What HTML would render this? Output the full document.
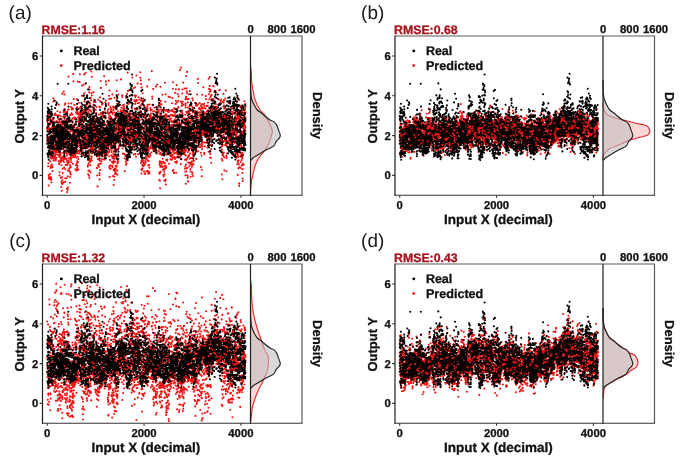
<!DOCTYPE html>
<html><head><meta charset="utf-8"><style>
html,body{margin:0;padding:0;background:#fff;}
svg{display:block;will-change:transform;filter:blur(0.35px);} text{text-rendering:geometricPrecision;}
</style></head><body>
<svg width="685" height="463" viewBox="0 0 685 463">
<rect width="685" height="463" fill="#fff"/>
<defs>
<clipPath id="cp"><rect x="42.50" y="35.90" width="208.00" height="159.30"/></clipPath>
<path id="real" d="M47.2 116h0M47.2 143.8h0M47.3 128h0M47.3 134.9h0M47.4 118.9h0M47.4 153.6h0M47.5 137.4h0M47.5 119.5h0M47.6 131.6h0M47.6 153.7h0M47.7 140.8h0M47.7 111.9h0M47.8 107.7h0M47.8 154.4h0M47.9 117.6h0M47.9 120.4h0M48 113.2h0M48 155.4h0M48.1 111.1h0M48.1 123.9h0M48.2 146.5h0M48.2 139.4h0M48.3 126.3h0M48.3 157.3h0M48.4 103.7h0M48.4 108.9h0M48.5 127.4h0M48.5 154.3h0M48.6 154.9h0M48.6 147.9h0M48.7 150.8h0M48.7 159.8h0M48.7 143.8h0M48.8 146.1h0M48.8 142.9h0M48.9 152.6h0M48.9 130h0M49 150.9h0M49 134.1h0M49.1 116.5h0M49.1 131.7h0M49.2 154.2h0M49.2 154.1h0M49.3 147.2h0M49.3 124h0M49.4 117.8h0M49.4 150.6h0M49.5 112.7h0M49.5 153.1h0M49.6 145.9h0M49.6 110.1h0M49.7 116.2h0M49.7 117.6h0M49.8 112.4h0M49.8 137.8h0M49.9 154.1h0M49.9 119.2h0M50 131.3h0M50 140.1h0M50.1 147.4h0M50.1 113.4h0M50.2 141.2h0M50.2 145.9h0M50.3 131.2h0M50.3 129.6h0M50.3 133.1h0M50.4 112.2h0M50.4 136.3h0M50.5 129.9h0M50.5 142.9h0M50.6 153.9h0M50.6 136.5h0M50.7 139.7h0M50.7 137.2h0M50.8 143.1h0M50.8 136.9h0M50.9 120.6h0M50.9 140.6h0M51 152.2h0M51 144.7h0M51.1 146.1h0M51.1 112.1h0M51.2 142.1h0M51.2 148.6h0M51.3 114.5h0M51.3 121.9h0M51.4 111.8h0M51.4 132h0M51.5 135.5h0M51.5 116h0M51.6 155h0M51.6 106.6h0M51.7 113.4h0M51.7 115.4h0M51.8 140.2h0M51.8 114.3h0M51.8 109.2h0M51.9 144h0M51.9 143.5h0M52 152.1h0M52 143.7h0M52.1 138.3h0M52.1 139.3h0M52.2 143.9h0M52.2 135.9h0M52.3 152.7h0M52.3 152.3h0M52.4 148.4h0M52.4 139h0M52.5 155.9h0M52.5 143.9h0M52.6 129.1h0M52.6 149.2h0M52.7 153.3h0M52.7 131.3h0M52.8 146.9h0M52.8 149.2h0M52.9 143.3h0M52.9 125.4h0M53 140.1h0M53 123.3h0M53.1 137.3h0M53.1 126.3h0M53.2 122.6h0M53.2 124.9h0M53.3 142.2h0M53.3 117.7h0M53.3 128.9h0M53.4 140h0M53.4 143.9h0M53.5 139.7h0M53.5 130.2h0M53.6 136.3h0M53.6 143h0M53.7 138.2h0M53.7 130.5h0M53.8 145.3h0M53.8 124.3h0M53.9 145.9h0M53.9 135.8h0M54 131.8h0M54 135.3h0M54.1 129.6h0M54.1 131.7h0M54.2 133.5h0M54.2 131h0M54.3 125.9h0M54.3 122.8h0M54.4 135.9h0M54.4 145h0M54.5 147.7h0M54.5 138.3h0M54.6 140.4h0M54.6 128.6h0M54.7 139.5h0M54.7 100.5h0M54.8 131.9h0M54.8 145.6h0M54.9 146.6h0M54.9 140.5h0M54.9 136.9h0M55 144.8h0M55 138h0M55.1 138.6h0M55.1 148.9h0M55.2 108.1h0M55.2 146h0M55.3 136h0M55.3 144.7h0M55.4 128.5h0M55.4 145.3h0M55.5 144.5h0M55.5 145.5h0M55.6 130.1h0M55.6 141.9h0M55.7 147h0M55.7 131h0M55.8 145.1h0M55.8 127.6h0M55.9 145.9h0M55.9 136.7h0M56 128.9h0M56 136.6h0M56.1 104.9h0M56.1 148.2h0M56.2 134.3h0M56.2 133.4h0M56.3 149.8h0M56.3 143.4h0M56.4 142h0M56.4 135.1h0M56.4 144.4h0M56.5 102.3h0M56.5 141.4h0M56.6 127.8h0M56.6 132.1h0M56.7 130.7h0M56.7 134h0M56.8 103.8h0M56.8 136.5h0M56.9 135.2h0M56.9 125.2h0M57 130.8h0M57 135.9h0M57.1 142h0M57.1 129.7h0M57.2 129.3h0M57.2 126.2h0M57.3 122.2h0M57.3 144.4h0M57.4 130.7h0M57.4 146.2h0M57.5 145.2h0M57.5 131.5h0M57.6 136h0M57.6 135.4h0M57.7 147.4h0M57.7 83.7h0M57.8 116.9h0M57.8 132.7h0M57.9 146h0M57.9 133h0M58 148h0M58 133.4h0M58 138.9h0M58.1 144.8h0M58.1 124.7h0M58.2 144.5h0M58.2 126.6h0M58.3 133.1h0M58.3 146.9h0M58.4 142.4h0M58.4 142.3h0M58.5 134.3h0M58.5 137h0M58.6 134.6h0M58.6 132h0M58.7 149.6h0M58.7 127.4h0M58.8 149.2h0M58.8 133.1h0M58.9 145.7h0M58.9 142.9h0M59 143.3h0M59 140.3h0M59.1 145.7h0M59.1 137.3h0M59.2 145.7h0M59.2 138.5h0M59.3 137.4h0M59.3 152h0M59.4 139h0M59.4 142.6h0M59.5 136.3h0M59.5 129.8h0M59.5 145.9h0M59.6 139h0M59.6 151.4h0M59.7 134.2h0M59.7 148.3h0M59.8 142.3h0M59.8 126.1h0M59.9 125.2h0M59.9 147.9h0M60 151.2h0M60 151.5h0M60.1 138.7h0M60.1 139.2h0M60.2 130.4h0M60.2 148.5h0M60.3 147.1h0M60.3 147.7h0M60.4 126.7h0M60.4 119.1h0M60.5 139.2h0M60.5 141.2h0M60.6 134.2h0M60.6 128.3h0M60.7 130.9h0M60.7 136.8h0M60.8 132.6h0M60.8 144.3h0M60.9 144.6h0M60.9 137.4h0M61 134.5h0M61 135.7h0M61 130.7h0M61.1 132.2h0M61.1 134.4h0M61.2 148.5h0M61.2 149.1h0M61.3 125.7h0M61.3 127.8h0M61.4 137.4h0M61.4 143.7h0M61.5 134.9h0M61.5 146.4h0M61.6 143.1h0M61.6 138.8h0M61.7 138.2h0M61.7 140.5h0M61.8 131.1h0M61.8 142.8h0M61.9 130.1h0M61.9 140.8h0M62 130.3h0M62 134.5h0M62.1 134.7h0M62.1 127.5h0M62.2 136.4h0M62.2 140.9h0M62.3 121.2h0M62.3 144.1h0M62.4 137.6h0M62.4 138.5h0M62.5 133.6h0M62.5 127.7h0M62.6 139.6h0M62.6 145.4h0M62.6 127h0M62.7 139.2h0M62.7 127.9h0M62.8 138.4h0M62.8 132.7h0M62.9 122.6h0M62.9 139.2h0M63 134.8h0M63 137.9h0M63.1 140h0M63.1 137.9h0M63.2 128.1h0M63.2 135.3h0M63.3 129.7h0M63.3 131.8h0M63.4 147.9h0M63.4 123.2h0M63.5 139.9h0M63.5 133.9h0M63.6 137.7h0M63.6 147.4h0M63.7 145.3h0M63.7 123.1h0M63.8 142.4h0M63.8 147.4h0M63.9 137.3h0M63.9 138.9h0M64 122.8h0M64 143.4h0M64.1 137.6h0M64.1 121.8h0M64.1 142.1h0M64.2 114.5h0M64.2 151.7h0M64.3 141.6h0M64.3 117.8h0M64.4 156.3h0M64.4 154.1h0M64.5 135.6h0M64.5 109.9h0M64.6 151h0M64.6 125.8h0M64.7 130.4h0M64.7 137.6h0M64.8 147h0M64.8 137.6h0M64.9 122.4h0M64.9 128.1h0M65 139.5h0M65 136.6h0M65.1 137.1h0M65.1 132.2h0M65.2 138.7h0M65.2 143h0M65.3 134.2h0M65.3 147.2h0M65.4 114.3h0M65.4 125.7h0M65.5 134.1h0M65.5 134.4h0M65.6 144.1h0M65.6 144.6h0M65.6 137.8h0M65.7 124.9h0M65.7 123.4h0M65.8 130.5h0M65.8 133.2h0M65.9 121.8h0M65.9 137.8h0M66 144.4h0M66 138.7h0M66.1 131.3h0M66.1 131.8h0M66.2 137.4h0M66.2 135h0M66.3 132.5h0M66.3 142h0M66.4 132.4h0M66.4 121.3h0M66.5 133.9h0M66.5 144h0M66.6 147.7h0M66.6 127.6h0M66.7 134.1h0M66.7 122.1h0M66.8 132.9h0M66.8 150.3h0M66.9 130.7h0M66.9 138.1h0M67 142.7h0M67 135.4h0M67.1 127.4h0M67.1 126.5h0M67.2 134.2h0M67.2 118.9h0M67.2 113.5h0M67.3 122.1h0M67.3 134h0M67.4 115.7h0M67.4 127.1h0M67.5 136.4h0M67.5 146.6h0M67.6 124.4h0M67.6 148.5h0M67.7 125h0M67.7 141.4h0M67.8 118.6h0M67.8 151.3h0M67.9 127.8h0M67.9 126.8h0M68 142.4h0M68 126.1h0M68.1 151.6h0M68.1 135.2h0M68.2 133.6h0M68.2 145.5h0M68.3 147.4h0M68.3 83.7h0M68.4 131.7h0M68.4 151.4h0M68.5 106.6h0M68.5 139.1h0M68.6 128.5h0M68.6 120.8h0M68.7 144.9h0M68.7 141.6h0M68.7 144.4h0M68.8 135.6h0M68.8 119.3h0M68.9 138.7h0M68.9 127.4h0M69 117.4h0M69 128.6h0M69.1 121.2h0M69.1 150.8h0M69.2 151.3h0M69.2 143.5h0M69.3 134.4h0M69.3 145.2h0M69.4 138.9h0M69.4 150.9h0M69.5 135.7h0M69.5 143.5h0M69.6 118.6h0M69.6 137.1h0M69.7 137.3h0M69.7 121.4h0M69.8 149.3h0M69.8 148.3h0M69.9 152h0M69.9 141.3h0M70 135.9h0M70 126.4h0M70.1 151.1h0M70.1 140.9h0M70.2 148.7h0M70.2 154.7h0M70.3 152.9h0M70.3 137.9h0M70.3 124.9h0M70.4 150.4h0M70.4 137.1h0M70.5 134.8h0M70.5 149.7h0M70.6 140.4h0M70.6 145.7h0M70.7 154.8h0M70.7 120.7h0M70.8 148.6h0M70.8 127.1h0M70.9 148.6h0M70.9 136.3h0M71 139.7h0M71 129.1h0M71.1 148.5h0M71.1 125.7h0M71.2 124.8h0M71.2 152.6h0M71.3 150.2h0M71.3 138.7h0M71.4 147.3h0M71.4 141h0M71.5 143.8h0M71.5 145.9h0M71.6 138.6h0M71.6 152.5h0M71.7 145.6h0M71.7 147.4h0M71.8 141.8h0M71.8 152.3h0M71.8 143.6h0M71.9 139.1h0M71.9 129.5h0M72 150.8h0M72 148.8h0M72.1 147.3h0M72.1 136.9h0M72.2 143.1h0M72.2 129h0M72.3 143.8h0M72.3 127.6h0M72.4 153.3h0M72.4 153.2h0M72.5 144.2h0M72.5 122.4h0M72.6 151h0M72.6 147.1h0M72.7 140.9h0M72.7 140.5h0M72.8 143.9h0M72.8 147.6h0M72.9 135.6h0M72.9 145.1h0M73 152.3h0M73 135.4h0M73.1 153h0M73.1 148.1h0M73.2 133.5h0M73.2 126.2h0M73.3 144.3h0M73.3 142.2h0M73.3 138.8h0M73.4 127.4h0M73.4 152.7h0M73.5 150.1h0M73.5 134.3h0M73.6 138.4h0M73.6 148.1h0M73.7 130h0M73.7 130.6h0M73.8 138.8h0M73.8 149.2h0M73.9 135.8h0M73.9 130h0M74 144.1h0M74 151.1h0M74.1 144.2h0M74.1 139.9h0M74.2 152.3h0M74.2 153.1h0M74.3 141.2h0M74.3 137.3h0M74.4 129.7h0M74.4 134.5h0M74.5 139.8h0M74.5 144.9h0M74.6 131h0M74.6 144.3h0M74.7 138h0M74.7 132.1h0M74.8 148.9h0M74.8 152.8h0M74.9 124.7h0M74.9 143.4h0M74.9 147.7h0M75 139.1h0M75 140.3h0M75.1 148.9h0M75.1 144.1h0M75.2 139.8h0M75.2 144.9h0M75.3 141.9h0M75.3 143.4h0M75.4 144.2h0M75.4 119.4h0M75.5 150.6h0M75.5 137.1h0M75.6 143.3h0M75.6 136.3h0M75.7 137.9h0M75.7 143.5h0M75.8 147.3h0M75.8 151.7h0M75.9 142.9h0M75.9 143.7h0M76 121.7h0M76 149h0M76.1 130.8h0M76.1 118.8h0M76.2 145.5h0M76.2 129.9h0M76.3 138h0M76.3 124.5h0M76.4 136.1h0M76.4 141h0M76.4 151.5h0M76.5 139h0M76.5 121.6h0M76.6 142.1h0M76.6 138.6h0M76.7 138.5h0M76.7 131.5h0M76.8 109.4h0M76.8 139.4h0M76.9 139.6h0M76.9 141.5h0M77 145.1h0M77 145.1h0M77.1 103.9h0M77.1 147h0M77.2 143.3h0M77.2 130.6h0M77.3 138.2h0M77.3 142.5h0M77.4 129.2h0M77.4 139.9h0M77.5 136.5h0M77.5 132.1h0M77.6 131.3h0M77.6 109.5h0M77.7 134h0M77.7 129.6h0M77.8 137.5h0M77.8 132.1h0M77.9 136.4h0M77.9 134.3h0M77.9 130.1h0M78 134.2h0M78 133h0M78.1 136.6h0M78.1 100.2h0M78.2 134.4h0M78.2 132.4h0M78.3 131.2h0M78.3 137.7h0M78.4 136.8h0M78.4 139.9h0M78.5 134.2h0M78.5 131.1h0M78.6 131.6h0M78.6 133.6h0M78.7 139.3h0M78.7 135.6h0M78.8 133.2h0M78.8 136.5h0M78.9 131.9h0M78.9 132.8h0M79 132.5h0M79 125.2h0M79.1 140.9h0M79.1 135.9h0M79.2 136.2h0M79.2 135.4h0M79.3 126h0M79.3 135.3h0M79.4 136h0M79.4 138.3h0M79.5 135.1h0M79.5 123.6h0M79.5 139.6h0M79.6 133.3h0M79.6 134.2h0M79.7 131.1h0M79.7 124.5h0M79.8 118.3h0M79.8 142.1h0M79.9 123.3h0M79.9 135.3h0M80 119.9h0M80 118.8h0M80.1 121.5h0M80.1 143.3h0M80.2 139.7h0M80.2 124.3h0M80.3 147.2h0M80.3 122.2h0M80.4 134.8h0M80.4 145.5h0M80.5 134.6h0M80.5 121.2h0M80.6 131.8h0M80.6 149.5h0M80.7 112.3h0M80.7 110.8h0M80.8 150.3h0M80.8 141.5h0M80.9 133.7h0M80.9 147.1h0M81 147.8h0M81 111.7h0M81 131.1h0M81.1 149.1h0M81.1 144.5h0M81.2 114.6h0M81.2 114h0M81.3 150.9h0M81.3 145.8h0M81.4 156.4h0M81.4 135.1h0M81.5 103.1h0M81.5 154h0M81.6 153.5h0M81.6 108.9h0M81.7 106.7h0M81.7 145.2h0M81.8 119.6h0M81.8 110.7h0M81.9 136.5h0M81.9 127.2h0M82 117.6h0M82 108.6h0M82.1 120.3h0M82.1 127.6h0M82.2 130.1h0M82.2 132.4h0M82.3 117.7h0M82.3 110.6h0M82.4 124.7h0M82.4 137.7h0M82.5 104.7h0M82.5 141.1h0M82.6 114.4h0M82.6 130.2h0M82.6 133h0M82.7 154.2h0M82.7 113.2h0M82.8 125.1h0M82.8 135.3h0M82.9 145.6h0M82.9 155.6h0M83 129.9h0M83 147h0M83.1 145.2h0M83.1 152.5h0M83.2 154.5h0M83.2 148h0M83.3 140.9h0M83.3 130.4h0M83.4 142.4h0M83.4 134.1h0M83.5 128h0M83.5 152.5h0M83.6 121.9h0M83.6 147.2h0M83.7 148h0M83.7 126h0M83.8 95.4h0M83.8 143.2h0M83.9 137.9h0M83.9 145.8h0M84 110.4h0M84 133.4h0M84.1 131.1h0M84.1 112.9h0M84.1 148.2h0M84.2 134.3h0M84.2 116.9h0M84.3 126.3h0M84.3 119h0M84.4 105.3h0M84.4 133.9h0M84.5 143.4h0M84.5 119.7h0M84.6 107.5h0M84.6 144.6h0M84.7 119.7h0M84.7 133.2h0M84.8 136.1h0M84.8 139.1h0M84.9 143.4h0M84.9 99.6h0M85 157.2h0M85 106.1h0M85.1 147.1h0M85.1 136.7h0M85.2 155.5h0M85.2 142h0M85.3 98.1h0M85.3 153.6h0M85.4 144.7h0M85.4 108.2h0M85.5 155.7h0M85.5 131.1h0M85.6 155.7h0M85.6 109.6h0M85.6 152.7h0M85.7 128.4h0M85.7 148.5h0M85.8 151.3h0M85.8 83.4h0M85.9 132.5h0M85.9 153.2h0M86 119.6h0M86 124h0M86.1 140.3h0M86.1 144h0M86.2 154.9h0M86.2 118.2h0M86.3 127.2h0M86.3 114.8h0M86.4 108.3h0M86.4 127.8h0M86.5 112.4h0M86.5 124.8h0M86.6 120.9h0M86.6 130.9h0M86.7 140.2h0M86.7 156.2h0M86.8 103.6h0M86.8 125.7h0M86.9 141h0M86.9 102.2h0M87 96.6h0M87 132.7h0M87.1 98.1h0M87.1 146.7h0M87.2 95.3h0M87.2 129.5h0M87.2 102.6h0M87.3 129.2h0M87.3 101.7h0M87.4 144h0M87.4 109.6h0M87.5 151.8h0M87.5 155.5h0M87.6 115.9h0M87.6 114.1h0M87.7 152.6h0M87.7 127.9h0M87.8 128.6h0M87.8 134.8h0M87.9 153h0M87.9 146.8h0M88 151.1h0M88 156.6h0M88.1 159.3h0M88.1 122h0M88.2 89.4h0M88.2 157.9h0M88.3 107.5h0M88.3 133.8h0M88.4 145.1h0M88.4 142.4h0M88.5 141h0M88.5 101.6h0M88.6 132.9h0M88.6 129.6h0M88.7 139.1h0M88.7 120.9h0M88.7 124.8h0M88.8 144.6h0M88.8 141.3h0M88.9 127.7h0M88.9 139.2h0M89 106.3h0M89 136.4h0M89.1 146.4h0M89.1 117.5h0M89.2 129.4h0M89.2 124.9h0M89.3 133.4h0M89.3 136.5h0M89.4 130.2h0M89.4 98.3h0M89.5 106.9h0M89.5 143.8h0M89.6 131.6h0M89.6 103.1h0M89.7 135.7h0M89.7 128.9h0M89.8 125.3h0M89.8 116.1h0M89.9 119.9h0M89.9 140.9h0M90 135.2h0M90 124.6h0M90.1 115h0M90.1 142.7h0M90.2 126.9h0M90.2 116.7h0M90.2 122.9h0M90.3 105.7h0M90.3 123.7h0M90.4 132.9h0M90.4 127.5h0M90.5 129.8h0M90.5 137.9h0M90.6 119.1h0M90.6 132.9h0M90.7 150.2h0M90.7 143.6h0M90.8 125h0M90.8 106.8h0M90.9 127.2h0M90.9 133.4h0M91 151.6h0M91 114.6h0M91.1 120.9h0M91.1 136.3h0M91.2 145.9h0M91.2 140.1h0M91.3 129h0M91.3 146.1h0M91.4 139.4h0M91.4 120.4h0M91.5 125.3h0M91.5 131.8h0M91.6 129.8h0M91.6 123.4h0M91.7 131.8h0M91.7 137h0M91.8 120.8h0M91.8 121.4h0M91.8 143.8h0M91.9 114.3h0M91.9 129.5h0M92 121.4h0M92 120.2h0M92.1 119.3h0M92.1 135.3h0M92.2 141h0M92.2 136.1h0M92.3 126h0M92.3 123.6h0M92.4 126.9h0M92.4 126.5h0M92.5 116.6h0M92.5 124.2h0M92.6 138.9h0M92.6 134.3h0M92.7 120.1h0M92.7 131.1h0M92.8 125.1h0M92.8 139.6h0M92.9 113.5h0M92.9 128.9h0M93 142.5h0M93 119.6h0M93.1 128.2h0M93.1 151.9h0M93.2 137.6h0M93.2 133.5h0M93.3 117.9h0M93.3 151h0M93.3 130.1h0M93.4 121.3h0M93.4 118.1h0M93.5 110h0M93.5 132.8h0M93.6 142.5h0M93.6 112.9h0M93.7 108h0M93.7 124.5h0M93.8 117.7h0M93.8 118.7h0M93.9 116.4h0M93.9 127.6h0M94 128h0M94 145.1h0M94.1 126.2h0M94.1 135.5h0M94.2 127.3h0M94.2 111.1h0M94.3 121.6h0M94.3 131.5h0M94.4 105.4h0M94.4 127.6h0M94.5 124.7h0M94.5 146.1h0M94.6 153.4h0M94.6 127.5h0M94.7 137.3h0M94.7 154.7h0M94.8 100.5h0M94.8 149.2h0M94.9 141.5h0M94.9 154.2h0M94.9 129.9h0M95 146.3h0M95 154.3h0M95.1 133.9h0M95.1 136.8h0M95.2 135.4h0M95.2 135h0M95.3 121.9h0M95.3 122.8h0M95.4 142.7h0M95.4 135.8h0M95.5 145.8h0M95.5 127.3h0M95.6 134.9h0M95.6 151.7h0M95.7 141.1h0M95.7 132.3h0M95.8 141.8h0M95.8 132.8h0M95.9 128.1h0M95.9 121.8h0M96 131.4h0M96 131h0M96.1 130h0M96.1 138.9h0M96.2 115.9h0M96.2 114.3h0M96.3 126.2h0M96.3 128.2h0M96.4 119.7h0M96.4 150.6h0M96.4 148h0M96.5 119.8h0M96.5 154.4h0M96.6 142.5h0M96.6 116.8h0M96.7 145.5h0M96.7 125.7h0M96.8 155.8h0M96.8 130.2h0M96.9 121.7h0M96.9 144.6h0M97 144.6h0M97 141.3h0M97.1 140.3h0M97.1 139.2h0M97.2 143.6h0M97.2 136.8h0M97.3 140.6h0M97.3 120.5h0M97.4 126h0M97.4 134.5h0M97.5 140.6h0M97.5 127.9h0M97.6 136.7h0M97.6 153.6h0M97.7 118.1h0M97.7 129.9h0M97.8 140.2h0M97.8 126.2h0M97.9 140.5h0M97.9 132.3h0M97.9 129.3h0M98 139.8h0M98 122.5h0M98.1 123.6h0M98.1 131.7h0M98.2 137h0M98.2 146.8h0M98.3 140.2h0M98.3 133h0M98.4 123.1h0M98.4 132.1h0M98.5 131.4h0M98.5 141h0M98.6 138h0M98.6 151.2h0M98.7 153.5h0M98.7 142.7h0M98.8 138.1h0M98.8 151.5h0M98.9 130.3h0M98.9 139.8h0M99 152.9h0M99 139.5h0M99.1 139.3h0M99.1 121.3h0M99.2 119.3h0M99.2 129.1h0M99.3 123.2h0M99.3 142.3h0M99.4 125.9h0M99.4 133.7h0M99.5 138h0M99.5 140.4h0M99.5 145.3h0M99.6 134.9h0M99.6 154.8h0M99.7 158.4h0M99.7 119.9h0M99.8 138.6h0M99.8 152h0M99.9 145.1h0M99.9 132.6h0M100 145h0M100 148.8h0M100.1 110h0M100.1 148.9h0M100.2 133.8h0M100.2 150.1h0M100.3 130.7h0M100.3 146.3h0M100.4 128.6h0M100.4 122.1h0M100.5 139.8h0M100.5 124.6h0M100.6 152.9h0M100.6 150h0M100.7 118.2h0M100.7 147.9h0M100.8 142.1h0M100.8 135h0M100.9 125.8h0M100.9 135.4h0M101 137.2h0M101 122.8h0M101 142.2h0M101.1 126.7h0M101.1 148.1h0M101.2 117.1h0M101.2 116.6h0M101.3 142.7h0M101.3 132.5h0M101.4 145.1h0M101.4 155.8h0M101.5 150.8h0M101.5 149.7h0M101.6 102.4h0M101.6 146.3h0M101.7 127.4h0M101.7 147.8h0M101.8 152.6h0M101.8 155h0M101.9 150.5h0M101.9 131h0M102 136.5h0M102 153.1h0M102.1 138.3h0M102.1 149.4h0M102.2 118.9h0M102.2 148.8h0M102.3 144.4h0M102.3 145.6h0M102.4 124.9h0M102.4 132.8h0M102.5 93.7h0M102.5 138.4h0M102.5 144.2h0M102.6 123.8h0M102.6 131.4h0M102.7 113.7h0M102.7 122.1h0M102.8 130.3h0M102.8 132.7h0M102.9 124.7h0M102.9 120.7h0M103 133.9h0M103 135.5h0M103.1 131.9h0M103.1 127.6h0M103.2 128.8h0M103.2 143.7h0M103.3 147.6h0M103.3 137.4h0M103.4 112.5h0M103.4 140.7h0M103.5 151.8h0M103.5 144.5h0M103.6 98.7h0M103.6 144h0M103.7 148.2h0M103.7 147.5h0M103.8 133.7h0M103.8 142.3h0M103.9 145.3h0M103.9 121h0M104 116.1h0M104 122h0M104.1 146.6h0M104.1 149.4h0M104.1 117.2h0M104.2 149.9h0M104.2 125.1h0M104.3 141.2h0M104.3 151h0M104.4 137.7h0M104.4 131.3h0M104.5 145.3h0M104.5 152.1h0M104.6 116.7h0M104.6 150.6h0M104.7 147.2h0M104.7 128.6h0M104.8 108.6h0M104.8 142h0M104.9 131.9h0M104.9 135.2h0M105 129.7h0M105 158.2h0M105.1 152.1h0M105.1 137.4h0M105.2 134.5h0M105.2 152.4h0M105.3 155.9h0M105.3 155.3h0M105.4 139.4h0M105.4 140h0M105.5 117.4h0M105.5 154.8h0M105.6 113.2h0M105.6 151.2h0M105.6 130h0M105.7 128.4h0M105.7 104h0M105.8 142.2h0M105.8 155.1h0M105.9 106.3h0M105.9 105.1h0M106 154.5h0M106 158.3h0M106.1 148.1h0M106.1 147.6h0M106.2 151.6h0M106.2 130.6h0M106.3 139.6h0M106.3 147.8h0M106.4 139h0M106.4 147.3h0M106.5 141.9h0M106.5 148.6h0M106.6 151h0M106.6 127.1h0M106.7 133.4h0M106.7 139.6h0M106.8 132.2h0M106.8 141.4h0M106.9 130.5h0M106.9 130.4h0M107 142.3h0M107 133.9h0M107.1 128.4h0M107.1 134h0M107.2 140.2h0M107.2 137.9h0M107.2 139.5h0M107.3 138.6h0M107.3 133.4h0M107.4 134.4h0M107.4 145h0M107.5 139.6h0M107.5 132.3h0M107.6 120.8h0M107.6 135.3h0M107.7 141.1h0M107.7 144.4h0M107.8 129.8h0M107.8 136.7h0M107.9 143.5h0M107.9 138h0M108 122.7h0M108 136.7h0M108.1 132.6h0M108.1 148.5h0M108.2 134h0M108.2 140.4h0M108.3 145.1h0M108.3 131.7h0M108.4 142.2h0M108.4 125.5h0M108.5 121.7h0M108.5 134.9h0M108.6 140h0M108.6 136.5h0M108.7 130.6h0M108.7 135.1h0M108.7 125.9h0M108.8 124.2h0M108.8 128.6h0M108.9 144.8h0M108.9 141.6h0M109 132h0M109 125.6h0M109.1 127h0M109.1 131h0M109.2 123.5h0M109.2 133.5h0M109.3 135.8h0M109.3 137.8h0M109.4 128.3h0M109.4 132.5h0M109.5 125.3h0M109.5 135.3h0M109.6 134.1h0M109.6 124.6h0M109.7 123.1h0M109.7 133.6h0M109.8 126.3h0M109.8 142.6h0M109.9 138.2h0M109.9 138.4h0M110 138h0M110 136.9h0M110.1 135.9h0M110.1 125.9h0M110.2 125.5h0M110.2 125.9h0M110.2 140.7h0M110.3 134.7h0M110.3 136.5h0M110.4 130.6h0M110.4 121.8h0M110.5 138.5h0M110.5 133.8h0M110.6 125.7h0M110.6 126.9h0M110.7 122.9h0M110.7 123.7h0M110.8 126.9h0M110.8 127.7h0M110.9 123.3h0M110.9 118.9h0M111 142.6h0M111 118.6h0M111.1 143.6h0M111.1 136h0M111.2 133.9h0M111.2 112.1h0M111.3 130.3h0M111.3 145h0M111.4 136.1h0M111.4 128.8h0M111.5 147.9h0M111.5 124.7h0M111.6 122.2h0M111.6 127.4h0M111.7 136.8h0M111.7 122.4h0M111.8 139.9h0M111.8 129.1h0M111.8 125.8h0M111.9 137.6h0M111.9 124.9h0M112 131.1h0M112 129.6h0M112.1 125.1h0M112.1 127.9h0M112.2 124.9h0M112.2 121.2h0M112.3 131h0M112.3 140.3h0M112.4 134.2h0M112.4 133.3h0M112.5 131.4h0M112.5 147.9h0M112.6 137.5h0M112.6 139.7h0M112.7 134.6h0M112.7 121.1h0M112.8 130.2h0M112.8 141.7h0M112.9 141.2h0M112.9 136.2h0M113 119.9h0M113 147.1h0M113.1 130.8h0M113.1 140.1h0M113.2 142.1h0M113.2 139h0M113.3 145.6h0M113.3 131.2h0M113.3 138.3h0M113.4 133.6h0M113.4 131.5h0M113.5 132.2h0M113.5 140.9h0M113.6 134.3h0M113.6 131.6h0M113.7 124.3h0M113.7 146.5h0M113.8 128.2h0M113.8 140.1h0M113.9 140.8h0M113.9 121.6h0M114 146.6h0M114 126.6h0M114.1 140.2h0M114.1 123.7h0M114.2 133.5h0M114.2 134.7h0M114.3 147.6h0M114.3 146.1h0M114.4 141h0M114.4 142.8h0M114.5 120.8h0M114.5 141.7h0M114.6 133.7h0M114.6 145.4h0M114.7 126.2h0M114.7 142.7h0M114.8 136.8h0M114.8 119.9h0M114.8 130.4h0M114.9 138.5h0M114.9 143.2h0M115 140.1h0M115 123.2h0M115.1 122.8h0M115.1 140.9h0M115.2 137.2h0M115.2 151.8h0M115.3 139.5h0M115.3 154.5h0M115.4 146.5h0M115.4 148.5h0M115.5 135h0M115.5 118.2h0M115.6 142.3h0M115.6 134.8h0M115.7 150.3h0M115.7 142.5h0M115.8 114.4h0M115.8 134.7h0M115.9 154.6h0M115.9 107.6h0M116 106.4h0M116 151.7h0M116.1 135.2h0M116.1 128.5h0M116.2 135.9h0M116.2 108.8h0M116.3 116.1h0M116.3 139.1h0M116.4 142h0M116.4 142.8h0M116.4 113h0M116.5 135h0M116.5 124.4h0M116.6 95.4h0M116.6 136.9h0M116.7 113.6h0M116.7 158.7h0M116.8 100.6h0M116.8 105.8h0M116.9 138.8h0M116.9 139.9h0M117 96.8h0M117 106.7h0M117.1 136.6h0M117.1 156.2h0M117.2 100.8h0M117.2 105.5h0M117.3 156.3h0M117.3 97.4h0M117.4 113.9h0M117.4 122.3h0M117.5 141.6h0M117.5 122.5h0M117.6 115.4h0M117.6 121.7h0M117.7 140h0M117.7 136.7h0M117.8 133.4h0M117.8 120.5h0M117.9 121.5h0M117.9 115.3h0M117.9 149.6h0M118 124.7h0M118 141.2h0M118.1 134.5h0M118.1 115.9h0M118.2 154.3h0M118.2 114.7h0M118.3 138.9h0M118.3 159h0M118.4 156h0M118.4 104.1h0M118.5 140.5h0M118.5 151.8h0M118.6 134.7h0M118.6 113.5h0M118.7 104.2h0M118.7 105.7h0M118.8 101.8h0M118.8 129.2h0M118.9 133.3h0M118.9 118.3h0M119 127h0M119 119.8h0M119.1 142.4h0M119.1 136h0M119.2 123.1h0M119.2 129.7h0M119.3 120.9h0M119.3 132.2h0M119.4 119.5h0M119.4 121.3h0M119.5 102.1h0M119.5 128.6h0M119.5 127.2h0M119.6 124.3h0M119.6 119h0M119.7 127.3h0M119.7 137.8h0M119.8 142.7h0M119.8 104.7h0M119.9 144.7h0M119.9 121.6h0M120 141.1h0M120 133h0M120.1 143.6h0M120.1 126.3h0M120.2 116.4h0M120.2 113.6h0M120.3 145.5h0M120.3 119.3h0M120.4 116.1h0M120.4 120.5h0M120.5 135h0M120.5 125.4h0M120.6 124.1h0M120.6 121.5h0M120.7 128.5h0M120.7 118.1h0M120.8 115.8h0M120.8 126.1h0M120.9 120.3h0M120.9 121.5h0M121 132.2h0M121 118.2h0M121 120.5h0M121.1 126.4h0M121.1 122.3h0M121.2 136.2h0M121.2 113.2h0M121.3 126.7h0M121.3 135.5h0M121.4 122.3h0M121.4 118.7h0M121.5 114.6h0M121.5 131.8h0M121.6 113.8h0M121.6 145.4h0M121.7 120.4h0M121.7 118.8h0M121.8 115.7h0M121.8 128.1h0M121.9 118.7h0M121.9 120.7h0M122 112.2h0M122 131.6h0M122.1 119.5h0M122.1 114.5h0M122.2 128.1h0M122.2 132h0M122.3 116h0M122.3 115.5h0M122.4 129.9h0M122.4 128.7h0M122.5 124.1h0M122.5 138.3h0M122.5 138.9h0M122.6 134h0M122.6 119.1h0M122.7 141.9h0M122.7 125.5h0M122.8 117.4h0M122.8 125h0M122.9 133.9h0M122.9 128.3h0M123 120.6h0M123 131.2h0M123.1 116.2h0M123.1 121.2h0M123.2 131.5h0M123.2 119.7h0M123.3 125.9h0M123.3 131.2h0M123.4 144.2h0M123.4 120.2h0M123.5 114.7h0M123.5 126.7h0M123.6 139.7h0M123.6 124h0M123.7 129.3h0M123.7 146h0M123.8 122h0M123.8 115.8h0M123.9 129.3h0M123.9 142.5h0M124 124.5h0M124 131h0M124.1 110.5h0M124.1 134.9h0M124.1 129h0M124.2 120.6h0M124.2 118.2h0M124.3 126.8h0M124.3 124.6h0M124.4 120.2h0M124.4 140h0M124.5 126.1h0M124.5 124.5h0M124.6 124.2h0M124.6 136.9h0M124.7 133.7h0M124.7 141.1h0M124.8 134.6h0M124.8 117.1h0M124.9 125.5h0M124.9 121.7h0M125 131.5h0M125 131.6h0M125.1 134.5h0M125.1 126.8h0M125.2 121.1h0M125.2 118.9h0M125.3 135.9h0M125.3 144.9h0M125.4 135.7h0M125.4 119h0M125.5 138.5h0M125.5 141.4h0M125.6 125.2h0M125.6 118.4h0M125.6 147h0M125.7 144.7h0M125.7 124.5h0M125.8 138.2h0M125.8 110.9h0M125.9 125.7h0M125.9 148.6h0M126 123.6h0M126 141.1h0M126.1 123h0M126.1 139.3h0M126.2 115.4h0M126.2 148.8h0M126.3 143.2h0M126.3 96.9h0M126.4 150.5h0M126.4 96h0M126.5 110.7h0M126.5 150h0M126.6 149h0M126.6 117.6h0M126.7 107.5h0M126.7 158.9h0M126.8 151.5h0M126.8 155.4h0M126.9 123.3h0M126.9 156.8h0M127 134.9h0M127 120.3h0M127.1 106.9h0M127.1 139.8h0M127.1 102.9h0M127.2 156.7h0M127.2 143.2h0M127.3 157.4h0M127.3 123.8h0M127.4 111.9h0M127.4 150.6h0M127.5 97.1h0M127.5 156.5h0M127.6 156.1h0M127.6 155.2h0M127.7 150.4h0M127.7 160.1h0M127.8 100h0M127.8 126.1h0M127.9 99.8h0M127.9 151.6h0M128 143.9h0M128 150.9h0M128.1 133.5h0M128.1 157.7h0M128.2 109h0M128.2 122.3h0M128.3 146.8h0M128.3 130.1h0M128.4 132.9h0M128.4 141.7h0M128.5 101.7h0M128.5 153.8h0M128.6 147.3h0M128.6 157.6h0M128.7 101.3h0M128.7 137h0M128.7 155h0M128.8 116.1h0M128.8 119.7h0M128.9 150.7h0M128.9 101.1h0M129 135.1h0M129 153.3h0M129.1 120.6h0M129.1 150.8h0M129.2 124.1h0M129.2 126h0M129.3 113.7h0M129.3 130.3h0M129.4 150.4h0M129.4 151.9h0M129.5 152.8h0M129.5 135.1h0M129.6 146.5h0M129.6 141.7h0M129.7 125.3h0M129.7 154.6h0M129.8 138.2h0M129.8 95.7h0M129.9 148h0M129.9 156.9h0M130 147.9h0M130 118.4h0M130.1 149.7h0M130.1 102.7h0M130.2 151.4h0M130.2 89.8h0M130.2 148.8h0M130.3 83.6h0M130.3 144.1h0M130.4 117.3h0M130.4 124.4h0M130.5 118.5h0M130.5 120.1h0M130.6 111.1h0M130.6 146.4h0M130.7 147.6h0M130.7 148.2h0M130.8 125.5h0M130.8 85.1h0M130.9 128.9h0M130.9 88.1h0M131 132.3h0M131 135.4h0M131.1 100.4h0M131.1 120.4h0M131.2 125.2h0M131.2 89.9h0M131.3 98.9h0M131.3 142.8h0M131.4 149.1h0M131.4 123.5h0M131.5 152.8h0M131.5 128h0M131.6 127.8h0M131.6 85h0M131.7 150.1h0M131.7 107.1h0M131.8 133.9h0M131.8 94.9h0M131.8 147.5h0M131.9 86.1h0M131.9 149.5h0M132 111.5h0M132 102.8h0M132.1 74.5h0M132.1 135.4h0M132.2 128.7h0M132.2 105.1h0M132.3 90.6h0M132.3 110.5h0M132.4 122.6h0M132.4 95.4h0M132.5 124h0M132.5 113.9h0M132.6 92.3h0M132.6 136.3h0M132.7 123.1h0M132.7 127.8h0M132.8 119.8h0M132.8 103.7h0M132.9 129h0M132.9 121.8h0M133 122.7h0M133 133.8h0M133.1 140.7h0M133.1 125.9h0M133.2 144.3h0M133.2 113.7h0M133.3 130.3h0M133.3 128.3h0M133.3 121.1h0M133.4 140h0M133.4 138.2h0M133.5 140.2h0M133.5 142.1h0M133.6 132.8h0M133.6 125.5h0M133.7 115.8h0M133.7 141.4h0M133.8 132.3h0M133.8 138.8h0M133.9 112.8h0M133.9 135.4h0M134 134.9h0M134 115.5h0M134.1 130.2h0M134.1 137.8h0M134.2 135.4h0M134.2 127h0M134.3 146.9h0M134.3 137.1h0M134.4 142h0M134.4 119h0M134.5 127.9h0M134.5 140.7h0M134.6 149.7h0M134.6 126.5h0M134.7 123.4h0M134.7 136.6h0M134.8 137h0M134.8 138.4h0M134.8 123.7h0M134.9 126.3h0M134.9 123.2h0M135 140.3h0M135 119.9h0M135.1 121.2h0M135.1 116.3h0M135.2 121.4h0M135.2 141.8h0M135.3 120.3h0M135.3 134.4h0M135.4 125.5h0M135.4 133h0M135.5 139.6h0M135.5 130.7h0M135.6 143.6h0M135.6 131.6h0M135.7 117.9h0M135.7 111.5h0M135.8 113.4h0M135.8 143.6h0M135.9 128.1h0M135.9 124.8h0M136 140.8h0M136 143.2h0M136.1 115.4h0M136.1 133.6h0M136.2 140.5h0M136.2 149h0M136.3 141.3h0M136.3 114.7h0M136.4 138.4h0M136.4 121h0M136.4 143.8h0M136.5 117.1h0M136.5 119.1h0M136.6 135.1h0M136.6 108.6h0M136.7 143.6h0M136.7 146.2h0M136.8 133.9h0M136.8 116.8h0M136.9 132.6h0M136.9 125h0M137 118.6h0M137 133h0M137.1 115.6h0M137.1 121.8h0M137.2 134.8h0M137.2 119.3h0M137.3 133h0M137.3 120.7h0M137.4 151.1h0M137.4 128.5h0M137.5 147.7h0M137.5 145.4h0M137.6 125.8h0M137.6 129.4h0M137.7 125.4h0M137.7 138.1h0M137.8 137.6h0M137.8 123.4h0M137.9 122.4h0M137.9 127.7h0M137.9 132.7h0M138 118h0M138 118h0M138.1 112.7h0M138.1 137h0M138.2 122.9h0M138.2 128.5h0M138.3 130.8h0M138.3 125.1h0M138.4 114.4h0M138.4 120h0M138.5 134.3h0M138.5 143.4h0M138.6 139.2h0M138.6 122.4h0M138.7 128.2h0M138.7 129.3h0M138.8 114.2h0M138.8 118.2h0M138.9 135.5h0M138.9 123.6h0M139 115.7h0M139 130.9h0M139.1 139.5h0M139.1 135h0M139.2 127.3h0M139.2 128.8h0M139.3 149.7h0M139.3 106.7h0M139.4 112.3h0M139.4 134.3h0M139.4 140.5h0M139.5 120.2h0M139.5 140.4h0M139.6 132.3h0M139.6 130.3h0M139.7 115.1h0M139.7 107.4h0M139.8 145h0M139.8 141.6h0M139.9 153.4h0M139.9 123.7h0M140 130.8h0M140 125.2h0M140.1 139.1h0M140.1 141.9h0M140.2 124.8h0M140.2 115.8h0M140.3 151h0M140.3 130.4h0M140.4 150.3h0M140.4 115.5h0M140.5 108.2h0M140.5 151.7h0M140.6 153.5h0M140.6 133.2h0M140.7 148.6h0M140.7 117h0M140.8 129.6h0M140.8 156.1h0M140.9 132.4h0M140.9 146.4h0M141 112h0M141 136.1h0M141 155.2h0M141.1 116.9h0M141.1 115h0M141.2 127.3h0M141.2 91h0M141.3 145.4h0M141.3 155.3h0M141.4 154.3h0M141.4 98.3h0M141.5 117.1h0M141.5 156.7h0M141.6 136.7h0M141.6 147.3h0M141.7 126.7h0M141.7 147.5h0M141.8 144.1h0M141.8 144h0M141.9 158.5h0M141.9 157.2h0M142 155.1h0M142 157.1h0M142.1 127.1h0M142.1 104h0M142.2 154h0M142.2 153h0M142.3 123.2h0M142.3 119.4h0M142.4 89.9h0M142.4 147.8h0M142.5 149.9h0M142.5 152.9h0M142.5 133.8h0M142.6 127.5h0M142.6 157.5h0M142.7 122.6h0M142.7 153.3h0M142.8 113.9h0M142.8 108.9h0M142.9 149.2h0M142.9 145.5h0M143 145.6h0M143 152.4h0M143.1 148h0M143.1 153.5h0M143.2 124.4h0M143.2 142.2h0M143.3 128.6h0M143.3 138.7h0M143.4 128.4h0M143.4 108.8h0M143.5 120.2h0M143.5 148.7h0M143.6 104.9h0M143.6 147h0M143.7 146h0M143.7 139.2h0M143.8 134.4h0M143.8 131.4h0M143.9 121.8h0M143.9 131.1h0M144 148.5h0M144 128.3h0M144 101h0M144.1 115.2h0M144.1 117h0M144.2 149.4h0M144.2 135.2h0M144.3 158.1h0M144.3 123h0M144.4 122.9h0M144.4 124.3h0M144.5 135.1h0M144.5 158h0M144.6 123.8h0M144.6 132.6h0M144.7 107.8h0M144.7 150h0M144.8 149.8h0M144.8 153.7h0M144.9 145.8h0M144.9 100.1h0M145 136.6h0M145 135.7h0M145.1 116.7h0M145.1 133.5h0M145.2 112.5h0M145.2 114h0M145.3 148.2h0M145.3 149.9h0M145.4 143.7h0M145.4 110.3h0M145.5 109.7h0M145.5 138.3h0M145.6 118h0M145.6 132.4h0M145.6 140.1h0M145.7 142.2h0M145.7 137h0M145.8 134.2h0M145.8 152.4h0M145.9 150.7h0M145.9 135.6h0M146 122.3h0M146 120.9h0M146.1 154.6h0M146.1 126.4h0M146.2 124.6h0M146.2 138.4h0M146.3 152.9h0M146.3 120.8h0M146.4 139.7h0M146.4 129.3h0M146.5 116.4h0M146.5 145.3h0M146.6 136.9h0M146.6 111.2h0M146.7 135h0M146.7 115.7h0M146.8 124.2h0M146.8 116.3h0M146.9 128h0M146.9 129.9h0M147 121.5h0M147 136.4h0M147.1 128h0M147.1 120.6h0M147.1 127.2h0M147.2 141.1h0M147.2 154.4h0M147.3 149.8h0M147.3 146.8h0M147.4 131.5h0M147.4 143.9h0M147.5 115.4h0M147.5 123.1h0M147.6 135.2h0M147.6 149.8h0M147.7 129.1h0M147.7 115.6h0M147.8 153h0M147.8 144.3h0M147.9 121.6h0M147.9 141.7h0M148 146h0M148 129.3h0M148.1 136.1h0M148.1 142.8h0M148.2 114.3h0M148.2 146.2h0M148.3 143.2h0M148.3 141.5h0M148.4 133h0M148.4 129.4h0M148.5 136.2h0M148.5 138.6h0M148.6 122.8h0M148.6 141.1h0M148.7 141.3h0M148.7 119.3h0M148.7 139h0M148.8 132.6h0M148.8 132.3h0M148.9 123.8h0M148.9 138.4h0M149 132h0M149 119.3h0M149.1 121.6h0M149.1 130.1h0M149.2 133.7h0M149.2 124h0M149.3 140.9h0M149.3 142.1h0M149.4 139.3h0M149.4 124.8h0M149.5 121.1h0M149.5 125.9h0M149.6 131.1h0M149.6 131.8h0M149.7 127.2h0M149.7 123.5h0M149.8 131.2h0M149.8 132.2h0M149.9 122.2h0M149.9 134.3h0M150 131.3h0M150 138.2h0M150.1 137.8h0M150.1 132.9h0M150.2 129.6h0M150.2 128.6h0M150.2 128.7h0M150.3 134.8h0M150.3 137.2h0M150.4 132.2h0M150.4 139h0M150.5 133.5h0M150.5 136.9h0M150.6 121.7h0M150.6 126h0M150.7 130.1h0M150.7 124.6h0M150.8 129.5h0M150.8 137.2h0M150.9 134.1h0M150.9 133.1h0M151 132.9h0M151 124.4h0M151.1 132.4h0M151.1 127.4h0M151.2 125.3h0M151.2 137.5h0M151.3 135.1h0M151.3 140.2h0M151.4 134.1h0M151.4 128h0M151.5 139h0M151.5 130.5h0M151.6 133h0M151.6 137.7h0M151.7 127.9h0M151.7 135.7h0M151.7 123.6h0M151.8 131.6h0M151.8 119.9h0M151.9 139.2h0M151.9 137.6h0M152 122.3h0M152 130.6h0M152.1 132.7h0M152.1 132h0M152.2 147h0M152.2 137.9h0M152.3 125.5h0M152.3 143.9h0M152.4 132h0M152.4 118.5h0M152.5 129.3h0M152.5 133.5h0M152.6 126.1h0M152.6 140.4h0M152.7 143.5h0M152.7 145.4h0M152.8 126h0M152.8 140.7h0M152.9 117.2h0M152.9 133.6h0M153 142h0M153 125.7h0M153.1 104.7h0M153.1 133.8h0M153.2 134.1h0M153.2 126.3h0M153.3 120h0M153.3 142.8h0M153.3 113.8h0M153.4 141.8h0M153.4 144.7h0M153.5 138.7h0M153.5 148.3h0M153.6 149.3h0M153.6 124.1h0M153.7 126h0M153.7 142.7h0M153.8 134.7h0M153.8 151.2h0M153.9 146.2h0M153.9 149.5h0M154 136h0M154 117.9h0M154.1 126.6h0M154.1 148.4h0M154.2 139.8h0M154.2 122.7h0M154.3 144.4h0M154.3 131.5h0M154.4 133.3h0M154.4 114.8h0M154.5 146.1h0M154.5 150.5h0M154.6 142.8h0M154.6 134.3h0M154.7 133h0M154.7 140.8h0M154.8 123.9h0M154.8 136.1h0M154.8 139.2h0M154.9 144h0M154.9 150.7h0M155 124.2h0M155 129.1h0M155.1 122.7h0M155.1 137.7h0M155.2 146.4h0M155.2 138.1h0M155.3 137.2h0M155.3 148.4h0M155.4 146.2h0M155.4 119.5h0M155.5 144.8h0M155.5 133.4h0M155.6 133.7h0M155.6 123.5h0M155.7 135.2h0M155.7 132.6h0M155.8 115.8h0M155.8 132.8h0M155.9 123.8h0M155.9 147.7h0M156 142.4h0M156 147.5h0M156.1 134.8h0M156.1 152.7h0M156.2 139.6h0M156.2 126.5h0M156.3 112.2h0M156.3 145.3h0M156.3 128.2h0M156.4 132.9h0M156.4 129.2h0M156.5 138.9h0M156.5 126.8h0M156.6 107.2h0M156.6 150.3h0M156.7 125.1h0M156.7 131.3h0M156.8 132.7h0M156.8 109.4h0M156.9 120.3h0M156.9 112.7h0M157 146.3h0M157 115h0M157.1 116.9h0M157.1 136.6h0M157.2 134.6h0M157.2 140.1h0M157.3 125.5h0M157.3 128.7h0M157.4 143.6h0M157.4 129.7h0M157.5 138.9h0M157.5 129.3h0M157.6 143.8h0M157.6 136.7h0M157.7 145.8h0M157.7 137.5h0M157.8 134h0M157.8 122.4h0M157.9 146h0M157.9 129.2h0M157.9 129.3h0M158 123.7h0M158 128h0M158.1 129.4h0M158.1 129.8h0M158.2 135.6h0M158.2 147.1h0M158.3 142.4h0M158.3 142.9h0M158.4 132.5h0M158.4 138.9h0M158.5 132.4h0M158.5 130.1h0M158.6 137.5h0M158.6 144.2h0M158.7 122h0M158.7 123.5h0M158.8 105.6h0M158.8 98.9h0M158.9 100.3h0M158.9 116.9h0M159 98.9h0M159 134.2h0M159.1 137.7h0M159.1 145.8h0M159.2 103h0M159.2 137.4h0M159.3 130.8h0M159.3 141.9h0M159.4 132.8h0M159.4 143.5h0M159.4 125.8h0M159.5 137.3h0M159.5 123.7h0M159.6 131.4h0M159.6 147.8h0M159.7 147.3h0M159.7 146.5h0M159.8 142.6h0M159.8 141.2h0M159.9 143.4h0M159.9 144.2h0M160 146.8h0M160 118.4h0M160.1 135.6h0M160.1 120h0M160.2 119.1h0M160.2 123.2h0M160.3 142.9h0M160.3 144.9h0M160.4 117.1h0M160.4 120.6h0M160.5 107.3h0M160.5 127.2h0M160.6 128.3h0M160.6 143.1h0M160.7 126.9h0M160.7 125.2h0M160.8 113.6h0M160.8 132.8h0M160.9 128.7h0M160.9 137.5h0M161 138.3h0M161 127.7h0M161 146.5h0M161.1 142.6h0M161.1 149.6h0M161.2 148.7h0M161.2 146.9h0M161.3 142.7h0M161.3 128.2h0M161.4 139.9h0M161.4 146.2h0M161.5 130.9h0M161.5 133.6h0M161.6 118.5h0M161.6 131.6h0M161.7 134.4h0M161.7 134.9h0M161.8 129.7h0M161.8 129.1h0M161.9 136.7h0M161.9 126.8h0M162 138.7h0M162 135.8h0M162.1 137.1h0M162.1 122.8h0M162.2 146.4h0M162.2 140.5h0M162.3 116.6h0M162.3 137.8h0M162.4 148.8h0M162.4 129.4h0M162.5 123.9h0M162.5 135.6h0M162.5 121.2h0M162.6 143.5h0M162.6 124.4h0M162.7 143.2h0M162.7 128.9h0M162.8 124.5h0M162.8 149.8h0M162.9 128.9h0M162.9 116.5h0M163 128.2h0M163 153.9h0M163.1 150.2h0M163.1 144.5h0M163.2 147.6h0M163.2 136.4h0M163.3 119.4h0M163.3 109.8h0M163.4 144.1h0M163.4 154.9h0M163.5 112.1h0M163.5 140.3h0M163.6 151.4h0M163.6 120h0M163.7 146.6h0M163.7 116.6h0M163.8 149.1h0M163.8 107.9h0M163.9 132.5h0M163.9 149.3h0M164 124.5h0M164 149.5h0M164 137.7h0M164.1 122.1h0M164.1 131.9h0M164.2 132.5h0M164.2 149.8h0M164.3 133.4h0M164.3 151.9h0M164.4 119.2h0M164.4 155.5h0M164.5 147.3h0M164.5 141.4h0M164.6 146.2h0M164.6 127.5h0M164.7 126.8h0M164.7 154h0M164.8 136.7h0M164.8 149h0M164.9 138.5h0M164.9 151.6h0M165 149.3h0M165 129.8h0M165.1 124.9h0M165.1 123.9h0M165.2 136.8h0M165.2 145.3h0M165.3 132.8h0M165.3 118.4h0M165.4 145.7h0M165.4 149h0M165.5 150.1h0M165.5 130h0M165.6 126.3h0M165.6 140.6h0M165.6 127.3h0M165.7 151.5h0M165.7 120.1h0M165.8 144.6h0M165.8 143.1h0M165.9 134.7h0M165.9 126.9h0M166 144.6h0M166 142h0M166.1 150.7h0M166.1 149.7h0M166.2 146.3h0M166.2 123.9h0M166.3 137.6h0M166.3 126.4h0M166.4 125.3h0M166.4 139.6h0M166.5 121h0M166.5 141.6h0M166.6 131.7h0M166.6 136.3h0M166.7 129.7h0M166.7 121.9h0M166.8 142.8h0M166.8 149.1h0M166.9 134.6h0M166.9 144.6h0M167 141.1h0M167 141.7h0M167.1 145.5h0M167.1 148.9h0M167.1 126.6h0M167.2 126.4h0M167.2 141.3h0M167.3 119.6h0M167.3 144.4h0M167.4 127.3h0M167.4 147.4h0M167.5 134.4h0M167.5 137h0M167.6 143.4h0M167.6 142h0M167.7 131.7h0M167.7 144h0M167.8 153.7h0M167.8 140.8h0M167.9 140.1h0M167.9 137.3h0M168 146.1h0M168 135.1h0M168.1 146.8h0M168.1 124h0M168.2 127h0M168.2 145.1h0M168.3 129.2h0M168.3 154.1h0M168.4 116.2h0M168.4 129h0M168.5 150.5h0M168.5 146.6h0M168.6 150.2h0M168.6 149.3h0M168.6 126.8h0M168.7 151.9h0M168.7 109.7h0M168.8 137.4h0M168.8 122.3h0M168.9 124.3h0M168.9 129.4h0M169 146.6h0M169 127.3h0M169.1 149.4h0M169.1 139.7h0M169.2 125.2h0M169.2 122.9h0M169.3 140.2h0M169.3 148.4h0M169.4 137h0M169.4 148.7h0M169.5 146.3h0M169.5 149.2h0M169.6 136.2h0M169.6 152.8h0M169.7 128h0M169.7 148.1h0M169.8 130h0M169.8 130.6h0M169.9 136.4h0M169.9 149.3h0M170 153.1h0M170 139.1h0M170.1 146.8h0M170.1 145h0M170.2 143.7h0M170.2 138.1h0M170.2 141.8h0M170.3 139.7h0M170.3 146.3h0M170.4 144.8h0M170.4 144.7h0M170.5 143.5h0M170.5 133.5h0M170.6 135.7h0M170.6 146.5h0M170.7 130.4h0M170.7 142.2h0M170.8 145.4h0M170.8 129.1h0M170.9 135.4h0M170.9 129.5h0M171 127.8h0M171 139.7h0M171.1 142.3h0M171.1 131.6h0M171.2 138.8h0M171.2 148.3h0M171.3 142.2h0M171.3 128.4h0M171.4 143.2h0M171.4 138.6h0M171.5 131.6h0M171.5 133.1h0M171.6 135h0M171.6 131.4h0M171.7 136.2h0M171.7 135.6h0M171.7 136.4h0M171.8 130.7h0M171.8 140.4h0M171.9 133.1h0M171.9 140.4h0M172 140.7h0M172 131.8h0M172.1 130.9h0M172.1 134.5h0M172.2 132.5h0M172.2 127.5h0M172.3 137.3h0M172.3 128h0M172.4 133.2h0M172.4 138h0M172.5 136.5h0M172.5 131.3h0M172.6 127.9h0M172.6 141.5h0M172.7 134.2h0M172.7 146.4h0M172.8 138.9h0M172.8 137.5h0M172.9 139.5h0M172.9 141.7h0M173 138.7h0M173 136h0M173.1 144.7h0M173.1 148.4h0M173.2 141.6h0M173.2 149.5h0M173.3 127.2h0M173.3 142.4h0M173.3 138.4h0M173.4 129.1h0M173.4 142.5h0M173.5 140.8h0M173.5 148.3h0M173.6 145.9h0M173.6 135.5h0M173.7 147.5h0M173.7 125.6h0M173.8 145h0M173.8 133.1h0M173.9 143.9h0M173.9 124.9h0M174 145.7h0M174 126.1h0M174.1 142.6h0M174.1 144.9h0M174.2 141.5h0M174.2 132.7h0M174.3 135h0M174.3 132.4h0M174.4 121.9h0M174.4 141.7h0M174.5 121.4h0M174.5 144.3h0M174.6 129.8h0M174.6 142.5h0M174.7 135.8h0M174.7 134h0M174.8 141h0M174.8 150.1h0M174.8 147h0M174.9 136.2h0M174.9 144.4h0M175 128.9h0M175 134.7h0M175.1 139.9h0M175.1 135.5h0M175.2 141.5h0M175.2 129.6h0M175.3 135.8h0M175.3 121.2h0M175.4 137.2h0M175.4 137.3h0M175.5 130.3h0M175.5 129.4h0M175.6 135.5h0M175.6 131.3h0M175.7 143.3h0M175.7 131.2h0M175.8 130.5h0M175.8 129.4h0M175.9 125.4h0M175.9 116.9h0M176 140.5h0M176 134.6h0M176.1 133.3h0M176.1 121.7h0M176.2 137.8h0M176.2 130.5h0M176.3 140.2h0M176.3 120.3h0M176.3 109.4h0M176.4 135.6h0M176.4 129.8h0M176.5 112h0M176.5 125.3h0M176.6 130.6h0M176.6 132.1h0M176.7 135.2h0M176.7 137h0M176.8 134h0M176.8 130.8h0M176.9 139.5h0M176.9 146.9h0M177 120.1h0M177 128.4h0M177.1 136.9h0M177.1 143h0M177.2 148.6h0M177.2 115.6h0M177.3 151.1h0M177.3 130.3h0M177.4 147.2h0M177.4 131.9h0M177.5 145.6h0M177.5 110.9h0M177.6 146.2h0M177.6 135.3h0M177.7 128.8h0M177.7 141.4h0M177.8 115.5h0M177.8 125.7h0M177.9 139.7h0M177.9 119.4h0M177.9 127.1h0M178 150.5h0M178 117.2h0M178.1 153.2h0M178.1 152.4h0M178.2 133.1h0M178.2 125.4h0M178.3 140.3h0M178.3 157.4h0M178.4 142.9h0M178.4 143h0M178.5 145.6h0M178.5 150.1h0M178.6 146.1h0M178.6 148.9h0M178.7 141.9h0M178.7 138.3h0M178.8 146.4h0M178.8 142.8h0M178.9 150.7h0M178.9 153.8h0M179 140.3h0M179 149h0M179.1 152h0M179.1 129h0M179.2 141.5h0M179.2 144.8h0M179.3 117h0M179.3 120.1h0M179.4 140.7h0M179.4 144.2h0M179.4 151.8h0M179.5 124.1h0M179.5 143.2h0M179.6 148.7h0M179.6 127.7h0M179.7 130h0M179.7 126.3h0M179.8 140.6h0M179.8 144.5h0M179.9 136.7h0M179.9 134.8h0M180 144.3h0M180 126.4h0M180.1 115.2h0M180.1 142.1h0M180.2 141.6h0M180.2 146.7h0M180.3 138.8h0M180.3 125.5h0M180.4 110.9h0M180.4 139.5h0M180.5 151.2h0M180.5 147.6h0M180.6 153.8h0M180.6 150.9h0M180.7 138.6h0M180.7 148.9h0M180.8 148.3h0M180.8 152.5h0M180.9 133.2h0M180.9 153.2h0M180.9 126.4h0M181 117h0M181 153.9h0M181.1 138h0M181.1 145.6h0M181.2 142.5h0M181.2 136.1h0M181.3 159.2h0M181.3 154.6h0M181.4 143.3h0M181.4 134.1h0M181.5 117h0M181.5 115.2h0M181.6 129h0M181.6 152.2h0M181.7 120.6h0M181.7 147.1h0M181.8 141.2h0M181.8 122.2h0M181.9 148.8h0M181.9 143.1h0M182 144.5h0M182 130.9h0M182.1 143.8h0M182.1 126.8h0M182.2 122.5h0M182.2 132.9h0M182.3 148.9h0M182.3 149.9h0M182.4 116.8h0M182.4 128.3h0M182.5 147.8h0M182.5 149.6h0M182.5 121h0M182.6 115.4h0M182.6 132.4h0M182.7 145.7h0M182.7 153.8h0M182.8 145.8h0M182.8 135.5h0M182.9 142.7h0M182.9 139.5h0M183 144.9h0M183 134.6h0M183.1 130.5h0M183.1 133.6h0M183.2 138.5h0M183.2 137h0M183.3 150h0M183.3 143.3h0M183.4 143.7h0M183.4 149.4h0M183.5 142.3h0M183.5 137.5h0M183.6 128.4h0M183.6 146h0M183.7 141.8h0M183.7 144.9h0M183.8 147.5h0M183.8 137.1h0M183.9 132.7h0M183.9 137.4h0M184 122.7h0M184 118.8h0M184 133.5h0M184.1 147h0M184.1 144.3h0M184.2 151.9h0M184.2 143.4h0M184.3 123.3h0M184.3 134.7h0M184.4 146.8h0M184.4 152.1h0M184.5 141.7h0M184.5 143h0M184.6 142.2h0M184.6 127.1h0M184.7 131h0M184.7 150h0M184.8 140.7h0M184.8 138.8h0M184.9 146.5h0M184.9 149.4h0M185 119.8h0M185 141.4h0M185.1 141.2h0M185.1 135.7h0M185.2 149.1h0M185.2 129.2h0M185.3 136.2h0M185.3 123.4h0M185.4 142.9h0M185.4 134.7h0M185.5 137.3h0M185.5 122.6h0M185.6 140h0M185.6 131.7h0M185.6 127.2h0M185.7 137.1h0M185.7 137.7h0M185.8 141.9h0M185.8 134h0M185.9 144h0M185.9 141.4h0M186 136h0M186 139h0M186.1 146.8h0M186.1 119.1h0M186.2 132.1h0M186.2 135.3h0M186.3 138.8h0M186.3 135.7h0M186.4 137.1h0M186.4 138.1h0M186.5 125.2h0M186.5 130.7h0M186.6 127.9h0M186.6 138.2h0M186.7 123.3h0M186.7 133.7h0M186.8 138h0M186.8 128.1h0M186.9 139.4h0M186.9 139.4h0M187 133.2h0M187 126.5h0M187.1 146.2h0M187.1 128.8h0M187.1 119.1h0M187.2 120.7h0M187.2 130.3h0M187.3 144.2h0M187.3 138.4h0M187.4 146.7h0M187.4 139.4h0M187.5 132h0M187.5 125h0M187.6 125.4h0M187.6 129.9h0M187.7 119.7h0M187.7 129.5h0M187.8 115.5h0M187.8 148.3h0M187.9 137.7h0M187.9 143h0M188 145.7h0M188 127.5h0M188.1 136.9h0M188.1 122.1h0M188.2 122.5h0M188.2 124.2h0M188.3 134.7h0M188.3 140.9h0M188.4 141.5h0M188.4 124.1h0M188.5 131.9h0M188.5 139.3h0M188.6 138.6h0M188.6 136.2h0M188.6 144.1h0M188.7 126.7h0M188.7 137.1h0M188.8 149.6h0M188.8 129.6h0M188.9 134.5h0M188.9 135.5h0M189 130.9h0M189 136.5h0M189.1 132.6h0M189.1 114.2h0M189.2 135.8h0M189.2 132.3h0M189.3 145h0M189.3 118h0M189.4 111.3h0M189.4 128.2h0M189.5 123.1h0M189.5 126.2h0M189.6 133.3h0M189.6 126.6h0M189.7 109.5h0M189.7 109.3h0M189.8 122.5h0M189.8 129.7h0M189.9 143.3h0M189.9 134.5h0M190 108.5h0M190 126.2h0M190.1 108.7h0M190.1 104.8h0M190.2 110.4h0M190.2 128.4h0M190.2 128.6h0M190.3 126.5h0M190.3 138.2h0M190.4 139.8h0M190.4 145.8h0M190.5 126.9h0M190.5 136.8h0M190.6 130.8h0M190.6 94.2h0M190.7 128.2h0M190.7 110.7h0M190.8 143.8h0M190.8 110.6h0M190.9 145.5h0M190.9 102.6h0M191 104.6h0M191 144.8h0M191.1 116.2h0M191.1 136.5h0M191.2 104.1h0M191.2 133.2h0M191.3 130.6h0M191.3 146.3h0M191.4 103.8h0M191.4 140h0M191.5 117.5h0M191.5 139.4h0M191.6 116h0M191.6 144.3h0M191.7 128.5h0M191.7 138.3h0M191.7 126.4h0M191.8 129.9h0M191.8 137.7h0M191.9 150h0M191.9 143.7h0M192 149.7h0M192 145.3h0M192.1 118.3h0M192.1 117.3h0M192.2 127.9h0M192.2 109.8h0M192.3 144.8h0M192.3 128.3h0M192.4 143.9h0M192.4 135.9h0M192.5 137.4h0M192.5 133.3h0M192.6 126.6h0M192.6 133.3h0M192.7 132.8h0M192.7 145.4h0M192.8 147.2h0M192.8 143.1h0M192.9 137.6h0M192.9 124.4h0M193 121.5h0M193 144.9h0M193.1 118.7h0M193.1 111.3h0M193.2 150.7h0M193.2 147.1h0M193.2 126.4h0M193.3 135.9h0M193.3 158.6h0M193.4 149.9h0M193.4 140.3h0M193.5 124.2h0M193.5 144.1h0M193.6 137.5h0M193.6 146.9h0M193.7 129.1h0M193.7 156h0M193.8 121.5h0M193.8 126.5h0M193.9 139.9h0M193.9 133.1h0M194 136.8h0M194 125.3h0M194.1 120.7h0M194.1 116.8h0M194.2 133.7h0M194.2 108h0M194.3 142.3h0M194.3 140.4h0M194.4 146.3h0M194.4 136h0M194.5 123.1h0M194.5 154.7h0M194.6 148.1h0M194.6 117.2h0M194.7 145.2h0M194.7 139h0M194.8 128h0M194.8 146.6h0M194.8 141.3h0M194.9 120.8h0M194.9 137.9h0M195 140.6h0M195 140.7h0M195.1 112.5h0M195.1 123.4h0M195.2 153.7h0M195.2 147.9h0M195.3 116.4h0M195.3 113.6h0M195.4 152.3h0M195.4 142.1h0M195.5 116.7h0M195.5 136.2h0M195.6 121.4h0M195.6 117.8h0M195.7 140.8h0M195.7 121.6h0M195.8 128.3h0M195.8 103.4h0M195.9 150.2h0M195.9 135.7h0M196 111.8h0M196 140.6h0M196.1 145.8h0M196.1 132.1h0M196.2 148h0M196.2 127.4h0M196.3 145.8h0M196.3 145.9h0M196.3 135.7h0M196.4 122.8h0M196.4 120.1h0M196.5 117.3h0M196.5 128.8h0M196.6 134h0M196.6 119.6h0M196.7 123.3h0M196.7 114.5h0M196.8 137.4h0M196.8 146.7h0M196.9 125.4h0M196.9 122.8h0M197 138.2h0M197 136.1h0M197.1 128.8h0M197.1 129.6h0M197.2 113.1h0M197.2 133.8h0M197.3 122.9h0M197.3 126.8h0M197.4 132.9h0M197.4 134h0M197.5 131.2h0M197.5 122.2h0M197.6 119.8h0M197.6 134.3h0M197.7 137.6h0M197.7 129h0M197.8 122.9h0M197.8 130.1h0M197.9 122.7h0M197.9 132.3h0M197.9 138.1h0M198 138.4h0M198 130.2h0M198.1 129.7h0M198.1 133.2h0M198.2 127.3h0M198.2 128.4h0M198.3 125.6h0M198.3 128.7h0M198.4 145.2h0M198.4 121.9h0M198.5 134.6h0M198.5 123.6h0M198.6 143h0M198.6 141.5h0M198.7 123.8h0M198.7 125.6h0M198.8 144.7h0M198.8 128.3h0M198.9 123.4h0M198.9 123.5h0M199 127.3h0M199 126h0M199.1 126.9h0M199.1 133.3h0M199.2 137.8h0M199.2 133.9h0M199.3 142.6h0M199.3 128.5h0M199.4 136.2h0M199.4 131.5h0M199.4 122.5h0M199.5 125.7h0M199.5 126.7h0M199.6 136.2h0M199.6 140.6h0M199.7 126.5h0M199.7 132.3h0M199.8 127.9h0M199.8 124.7h0M199.9 128.9h0M199.9 123.5h0M200 127h0M200 139.3h0M200.1 132h0M200.1 122.7h0M200.2 136.3h0M200.2 126.5h0M200.3 128.7h0M200.3 137.9h0M200.4 135.9h0M200.4 122h0M200.5 127h0M200.5 133.3h0M200.6 130.5h0M200.6 133.6h0M200.7 129.2h0M200.7 125.8h0M200.8 127.6h0M200.8 128.1h0M200.9 123.2h0M200.9 131.9h0M200.9 127.6h0M201 120.9h0M201 124.6h0M201.1 136.3h0M201.1 123.9h0M201.2 118.8h0M201.2 114.9h0M201.3 141.3h0M201.3 125.1h0M201.4 129.8h0M201.4 129.5h0M201.5 130h0M201.5 121.3h0M201.6 127h0M201.6 131.2h0M201.7 126.1h0M201.7 122.2h0M201.8 137.6h0M201.8 127.6h0M201.9 117.6h0M201.9 119.7h0M202 127.4h0M202 114.9h0M202.1 123.6h0M202.1 139.8h0M202.2 117.6h0M202.2 127.1h0M202.3 120.6h0M202.3 126.8h0M202.4 129.9h0M202.4 122.9h0M202.5 121.8h0M202.5 118.3h0M202.5 123.1h0M202.6 126.1h0M202.6 116.8h0M202.7 123h0M202.7 119.5h0M202.8 123h0M202.8 112.8h0M202.9 124.4h0M202.9 122.4h0M203 116h0M203 121.1h0M203.1 111.4h0M203.1 122.8h0M203.2 117.5h0M203.2 121h0M203.3 115.9h0M203.3 128.6h0M203.4 114.8h0M203.4 119.7h0M203.5 124.5h0M203.5 115h0M203.6 123h0M203.6 114.2h0M203.7 127.8h0M203.7 120.2h0M203.8 124h0M203.8 131.8h0M203.9 132.6h0M203.9 118.4h0M204 123.8h0M204 121.6h0M204 131.7h0M204.1 134.2h0M204.1 126.5h0M204.2 124.3h0M204.2 125.6h0M204.3 128.4h0M204.3 126.6h0M204.4 117.1h0M204.4 125.6h0M204.5 127.9h0M204.5 134.8h0M204.6 123.6h0M204.6 133.1h0M204.7 124.6h0M204.7 121.8h0M204.8 133.4h0M204.8 121.8h0M204.9 132h0M204.9 133.7h0M205 125h0M205 129.2h0M205.1 136.6h0M205.1 128.9h0M205.2 133.1h0M205.2 131.4h0M205.3 135.4h0M205.3 118.1h0M205.4 120.2h0M205.4 136.6h0M205.5 124.1h0M205.5 120h0M205.5 127h0M205.6 130.7h0M205.6 136.4h0M205.7 124.1h0M205.7 124h0M205.8 132.2h0M205.8 134.9h0M205.9 125.6h0M205.9 122h0M206 133h0M206 129.6h0M206.1 129.8h0M206.1 129.8h0M206.2 122.1h0M206.2 127h0M206.3 127.7h0M206.3 124.1h0M206.4 116.7h0M206.4 131.9h0M206.5 116.6h0M206.5 120.8h0M206.6 128.7h0M206.6 128.8h0M206.7 129.3h0M206.7 135.6h0M206.8 134.6h0M206.8 114.4h0M206.9 119h0M206.9 133.2h0M207 126.7h0M207 131.5h0M207.1 124.3h0M207.1 115.1h0M207.1 131.8h0M207.2 140.1h0M207.2 130.1h0M207.3 131h0M207.3 139.9h0M207.4 132.8h0M207.4 132.2h0M207.5 142.6h0M207.5 117h0M207.6 117.7h0M207.6 113.5h0M207.7 125.7h0M207.7 136h0M207.8 117.8h0M207.8 121.3h0M207.9 119.2h0M207.9 117.5h0M208 122h0M208 145.5h0M208.1 125.1h0M208.1 124.3h0M208.2 130.9h0M208.2 121.1h0M208.3 117.8h0M208.3 127.3h0M208.4 111.6h0M208.4 113.6h0M208.5 132.5h0M208.5 129.2h0M208.6 130.3h0M208.6 133.3h0M208.6 130.8h0M208.7 111.6h0M208.7 127.7h0M208.8 143.3h0M208.8 145.2h0M208.9 127.1h0M208.9 115.3h0M209 147.4h0M209 139h0M209.1 114.1h0M209.1 115.2h0M209.2 124.8h0M209.2 135.8h0M209.3 125h0M209.3 138.5h0M209.4 131.4h0M209.4 107.9h0M209.5 122.2h0M209.5 141.1h0M209.6 121.7h0M209.6 130.9h0M209.7 140h0M209.7 134.7h0M209.8 141.8h0M209.8 117.2h0M209.9 151.4h0M209.9 128.1h0M210 107.8h0M210 128.5h0M210.1 132.6h0M210.1 117.8h0M210.2 129.4h0M210.2 122.2h0M210.2 130.5h0M210.3 132h0M210.3 124.1h0M210.4 123.9h0M210.4 118.9h0M210.5 127.7h0M210.5 110.3h0M210.6 111h0M210.6 129.4h0M210.7 121h0M210.7 109.1h0M210.8 121h0M210.8 115.6h0M210.9 133.8h0M210.9 119.1h0M211 117.8h0M211 112h0M211.1 107h0M211.1 130.4h0M211.2 136.8h0M211.2 133.1h0M211.3 109.3h0M211.3 110.2h0M211.4 106.5h0M211.4 115.6h0M211.5 136h0M211.5 111.2h0M211.6 113.1h0M211.6 105.9h0M211.7 122.6h0M211.7 100.4h0M211.7 115.2h0M211.8 103.8h0M211.8 131.7h0M211.9 107.3h0M211.9 146.1h0M212 133.8h0M212 128.4h0M212.1 124.7h0M212.1 128.3h0M212.2 118.6h0M212.2 145h0M212.3 106.2h0M212.3 140.4h0M212.4 141.9h0M212.4 111h0M212.5 125.8h0M212.5 99.3h0M212.6 123.2h0M212.6 114.5h0M212.7 126.4h0M212.7 139.8h0M212.8 116.3h0M212.8 100.3h0M212.9 120.4h0M212.9 130h0M213 103.2h0M213 112.5h0M213.1 135.8h0M213.1 123.8h0M213.2 133.8h0M213.2 124h0M213.2 120.5h0M213.3 113h0M213.3 118.7h0M213.4 123.2h0M213.4 116.4h0M213.5 128.7h0M213.5 111.7h0M213.6 131.9h0M213.6 119h0M213.7 115.1h0M213.7 127.8h0M213.8 130.8h0M213.8 108.5h0M213.9 117.4h0M213.9 115.8h0M214 128.8h0M214 117.9h0M214.1 142.9h0M214.1 112.6h0M214.2 129h0M214.2 108.7h0M214.3 127.5h0M214.3 118.5h0M214.4 125.3h0M214.4 103h0M214.5 103.5h0M214.5 139.1h0M214.6 118.4h0M214.6 127.1h0M214.7 129.7h0M214.7 149h0M214.8 120.4h0M214.8 96.8h0M214.8 113.7h0M214.9 77.6h0M214.9 101.5h0M215 91.4h0M215 132.4h0M215.1 110.5h0M215.1 107h0M215.2 112.4h0M215.2 127.2h0M215.3 115.3h0M215.3 116.3h0M215.4 131.4h0M215.4 102.3h0M215.5 95h0M215.5 123h0M215.6 83.2h0M215.6 111.8h0M215.7 92.4h0M215.7 111.4h0M215.8 120.5h0M215.8 119.6h0M215.9 112.3h0M215.9 82.7h0M216 115.2h0M216 123.9h0M216.1 112.1h0M216.1 81.8h0M216.2 114.7h0M216.2 97.8h0M216.3 122.7h0M216.3 80.1h0M216.3 140.9h0M216.4 115.3h0M216.4 114h0M216.5 125.8h0M216.5 118.1h0M216.6 130.9h0M216.6 117.9h0M216.7 107.7h0M216.7 78.6h0M216.8 119.6h0M216.8 140.4h0M216.9 108.1h0M216.9 130.3h0M217 123h0M217 111.7h0M217.1 83.1h0M217.1 73.7h0M217.2 131.2h0M217.2 133.2h0M217.3 111h0M217.3 114.2h0M217.4 112.6h0M217.4 84.6h0M217.5 125.5h0M217.5 118.9h0M217.6 130.7h0M217.6 132.7h0M217.7 122.5h0M217.7 98.8h0M217.8 135.9h0M217.8 111.2h0M217.8 111.6h0M217.9 94.5h0M217.9 120.8h0M218 114.9h0M218 126.2h0M218.1 107.4h0M218.1 127.4h0M218.2 123.9h0M218.2 143h0M218.3 112.8h0M218.3 126.2h0M218.4 115.7h0M218.4 105.3h0M218.5 127.1h0M218.5 143.1h0M218.6 130.2h0M218.6 114.6h0M218.7 115.6h0M218.7 104.5h0M218.8 121.3h0M218.8 138.8h0M218.9 123.5h0M218.9 116.5h0M219 139.4h0M219 132.6h0M219.1 118.7h0M219.1 110.3h0M219.2 113.9h0M219.2 117.5h0M219.3 113h0M219.3 135.1h0M219.4 113.3h0M219.4 122.7h0M219.4 117.7h0M219.5 119.4h0M219.5 132.4h0M219.6 104.2h0M219.6 109.2h0M219.7 147.8h0M219.7 113.8h0M219.8 126.7h0M219.8 123.4h0M219.9 144h0M219.9 114.1h0M220 140.6h0M220 150.6h0M220.1 103.3h0M220.1 103.9h0M220.2 104.6h0M220.2 147.5h0M220.3 135.7h0M220.3 112.6h0M220.4 125.8h0M220.4 124.1h0M220.5 114h0M220.5 119.8h0M220.6 130.2h0M220.6 132.5h0M220.7 112.4h0M220.7 142.5h0M220.8 136.8h0M220.8 136.4h0M220.9 120.3h0M220.9 113.3h0M220.9 108.4h0M221 118.6h0M221 118.2h0M221.1 116h0M221.1 117.9h0M221.2 132.6h0M221.2 116.2h0M221.3 124.4h0M221.3 119.5h0M221.4 152.1h0M221.4 119.5h0M221.5 114h0M221.5 124.6h0M221.6 119.2h0M221.6 113h0M221.7 129.4h0M221.7 122.5h0M221.8 137.5h0M221.8 131.4h0M221.9 122.9h0M221.9 122.5h0M222 135.8h0M222 140.8h0M222.1 129.2h0M222.1 120h0M222.2 144.4h0M222.2 140.8h0M222.3 128.5h0M222.3 136.1h0M222.4 125.9h0M222.4 138.6h0M222.5 137.1h0M222.5 128.8h0M222.5 141.9h0M222.6 124.9h0M222.6 119.8h0M222.7 119.2h0M222.7 121.9h0M222.8 112h0M222.8 127.5h0M222.9 119.4h0M222.9 119.4h0M223 132.2h0M223 137.8h0M223.1 120.1h0M223.1 112.3h0M223.2 121.9h0M223.2 116.5h0M223.3 130.4h0M223.3 123.4h0M223.4 122.1h0M223.4 125.8h0M223.5 119.2h0M223.5 121.1h0M223.6 124.6h0M223.6 129.8h0M223.7 122.6h0M223.7 114.8h0M223.8 137h0M223.8 124.5h0M223.9 126.5h0M223.9 128.8h0M224 124.9h0M224 127.2h0M224 126.4h0M224.1 125.6h0M224.1 116.3h0M224.2 116.5h0M224.2 121.4h0M224.3 123.2h0M224.3 123.5h0M224.4 121h0M224.4 128.2h0M224.5 126.7h0M224.5 123h0M224.6 122h0M224.6 122.6h0M224.7 118.3h0M224.7 113.9h0M224.8 108.3h0M224.8 138.5h0M224.9 130.5h0M224.9 116.4h0M225 119.9h0M225 120.7h0M225.1 117.2h0M225.1 127.8h0M225.2 123.9h0M225.2 126.9h0M225.3 111.7h0M225.3 106.8h0M225.4 111.5h0M225.4 117.4h0M225.5 124.2h0M225.5 111.3h0M225.5 106.2h0M225.6 111.5h0M225.6 117.6h0M225.7 133.8h0M225.7 117.3h0M225.8 132.1h0M225.8 130.7h0M225.9 123.7h0M225.9 139.4h0M226 127.1h0M226 132h0M226.1 137.9h0M226.1 116.6h0M226.2 123.5h0M226.2 122.7h0M226.3 114.8h0M226.3 127.7h0M226.4 129.5h0M226.4 120.2h0M226.5 132.4h0M226.5 142.6h0M226.6 125.4h0M226.6 122.6h0M226.7 124.6h0M226.7 115h0M226.8 127.8h0M226.8 105.4h0M226.9 126.6h0M226.9 116.7h0M227 122.1h0M227 109.4h0M227.1 133.4h0M227.1 122.3h0M227.1 123.8h0M227.2 101.4h0M227.2 115.1h0M227.3 113.3h0M227.3 109.7h0M227.4 131h0M227.4 118.1h0M227.5 131.2h0M227.5 131.3h0M227.6 124.2h0M227.6 112.6h0M227.7 147.2h0M227.7 130.7h0M227.8 134.6h0M227.8 128.7h0M227.9 142.9h0M227.9 128.2h0M228 135.2h0M228 122.3h0M228.1 149.4h0M228.1 153.3h0M228.2 147.5h0M228.2 132.8h0M228.3 131.5h0M228.3 97.8h0M228.4 146.9h0M228.4 111.9h0M228.5 126.7h0M228.5 106.4h0M228.6 125h0M228.6 115.3h0M228.6 101.5h0M228.7 129.9h0M228.7 117.3h0M228.8 136.4h0M228.8 148.4h0M228.9 117.4h0M228.9 120.5h0M229 117.7h0M229 109.2h0M229.1 135h0M229.1 150.8h0M229.2 151.3h0M229.2 118.8h0M229.3 116.5h0M229.3 112.9h0M229.4 128.1h0M229.4 132.7h0M229.5 126h0M229.5 112.2h0M229.6 123.7h0M229.6 121h0M229.7 97.4h0M229.7 109.5h0M229.8 117.4h0M229.8 125.6h0M229.9 130.6h0M229.9 113.2h0M230 116.2h0M230 103.6h0M230.1 146.2h0M230.1 139.8h0M230.1 100.7h0M230.2 128.1h0M230.2 130.4h0M230.3 102h0M230.3 109.9h0M230.4 116.8h0M230.4 146h0M230.5 114.1h0M230.5 144.1h0M230.6 140.5h0M230.6 134.4h0M230.7 150.4h0M230.7 147.7h0M230.8 152.2h0M230.8 107.1h0M230.9 125.3h0M230.9 120.9h0M231 150.5h0M231 140.7h0M231.1 136.3h0M231.1 139.4h0M231.2 138.1h0M231.2 135.3h0M231.3 133.3h0M231.3 147.7h0M231.4 122.3h0M231.4 134.5h0M231.5 135.2h0M231.5 125.4h0M231.6 125.3h0M231.6 153.4h0M231.7 141.8h0M231.7 143.7h0M231.7 143.6h0M231.8 153.4h0M231.8 152.6h0M231.9 157.8h0M231.9 142.6h0M232 146.4h0M232 106.3h0M232.1 121.5h0M232.1 125.1h0M232.2 152.2h0M232.2 117h0M232.3 144.5h0M232.3 114.1h0M232.4 144.6h0M232.4 106h0M232.5 137.2h0M232.5 127.6h0M232.6 119h0M232.6 152h0M232.7 142.4h0M232.7 130.9h0M232.8 146.9h0M232.8 139.2h0M232.9 103.2h0M232.9 119.6h0M233 149.3h0M233 123.6h0M233.1 104.3h0M233.1 139.3h0M233.2 120.6h0M233.2 141.6h0M233.2 120h0M233.3 101.9h0M233.3 105.9h0M233.4 141.7h0M233.4 153.9h0M233.5 108.4h0M233.5 130h0M233.6 125.1h0M233.6 128.9h0M233.7 99.4h0M233.7 134.1h0M233.8 121.1h0M233.8 155.4h0M233.9 134.1h0M233.9 146.7h0M234 98.5h0M234 155.6h0M234.1 132.1h0M234.1 102.6h0M234.2 112.8h0M234.2 104.4h0M234.3 138.6h0M234.3 107.6h0M234.4 97.6h0M234.4 155.7h0M234.5 156h0M234.5 147.6h0M234.6 147.4h0M234.6 120.4h0M234.7 148.3h0M234.7 113.3h0M234.8 148.1h0M234.8 134.8h0M234.8 117.9h0M234.9 151.3h0M234.9 121.7h0M235 121.5h0M235 155.1h0M235.1 105.8h0M235.1 149.8h0M235.2 157h0M235.2 99.1h0M235.3 88.8h0M235.3 110.2h0M235.4 159.5h0M235.4 156.8h0M235.5 156.5h0M235.5 118.3h0M235.6 156.6h0M235.6 157h0M235.7 146.7h0M235.7 127.7h0M235.8 111h0M235.8 100.9h0M235.9 141.8h0M235.9 129h0M236 131h0M236 125.9h0M236.1 104.5h0M236.1 125h0M236.2 109.1h0M236.2 138.7h0M236.3 93.6h0M236.3 126.8h0M236.3 105.6h0M236.4 129.5h0M236.4 125h0M236.5 149.5h0M236.5 128.5h0M236.6 129.5h0M236.6 138.1h0M236.7 110.6h0M236.7 151.1h0M236.8 101.6h0M236.8 137.8h0M236.9 147.8h0M236.9 138h0M237 143.1h0M237 139.3h0M237.1 104.9h0M237.1 146.6h0M237.2 152.5h0M237.2 107.6h0M237.3 123.8h0M237.3 110.8h0M237.4 97.7h0M237.4 140.7h0M237.5 95.8h0M237.5 114.4h0M237.6 146.7h0M237.6 126.2h0M237.7 122h0M237.7 109.9h0M237.8 112.7h0M237.8 130.2h0M237.8 110.4h0M237.9 124.8h0M237.9 144.5h0M238 138.7h0M238 123.1h0M238.1 131.9h0M238.1 136.9h0M238.2 106h0M238.2 98.9h0M238.3 112.9h0M238.3 150.1h0M238.4 105h0M238.4 123h0M238.5 125.6h0M238.5 137.2h0M238.6 124h0M238.6 121.3h0M238.7 110.1h0M238.7 113.4h0M238.8 151.4h0M238.8 141.6h0M238.9 150.4h0M238.9 141.4h0M239 140h0M239 138.3h0M239.1 145.2h0M239.1 139.1h0M239.2 112.9h0M239.2 142.8h0M239.3 138.5h0M239.3 130.4h0M239.4 123.3h0M239.4 130.6h0M239.4 143.5h0M239.5 132.1h0M239.5 149.9h0M239.6 105.6h0M239.6 122.4h0M239.7 115.9h0M239.7 114.7h0M239.8 152.2h0M239.8 114.6h0M239.9 129.5h0M239.9 148.1h0M240 120.8h0M240 138.1h0M240.1 131.8h0M240.1 120h0M240.2 124.8h0M240.2 124.2h0M240.3 132.3h0M240.3 122.5h0M240.4 111.3h0M240.4 126.6h0M240.5 140.5h0M240.5 136.3h0M240.6 135.6h0M240.6 126h0M240.7 136.1h0M240.7 130.5h0M240.8 117.3h0M240.8 127.5h0M240.9 135h0M240.9 126.9h0M240.9 125.2h0M241 149.6h0M241 143.2h0M241.1 141.3h0M241.1 111.9h0M241.2 110.8h0M241.2 138.8h0M241.3 121.4h0M241.3 111.4h0M241.4 138h0M241.4 113.8h0M241.5 110.1h0M241.5 156.4h0M241.6 126.6h0M241.6 108.3h0M241.7 107.2h0M241.7 155.2h0M241.8 121.4h0M241.8 114.9h0M241.9 133.7h0M241.9 123h0M242 139.5h0M242 133.6h0M242.1 148.7h0M242.1 149.5h0M242.2 106.4h0M242.2 113.1h0M242.3 141.4h0M242.3 143h0M242.4 148h0M242.4 119.3h0M242.4 123.3h0M242.5 125.9h0M242.5 105.2h0M242.6 121.9h0M242.6 148.2h0M242.7 118h0M242.7 126.3h0M242.8 133.6h0M242.8 135.8h0M242.9 135.2h0M242.9 139.3h0M243 141.9h0M243 141.2h0M243.1 115.1h0M243.1 121.6h0M243.2 123.3h0M243.2 150.3h0M243.3 118.8h0M243.3 137.1h0M243.4 136.4h0M243.4 124.7h0M243.5 118.3h0M243.5 110h0M243.6 148.2h0M243.6 108.1h0M243.7 147.2h0M243.7 106.9h0M243.8 132.9h0M243.8 118.1h0M243.9 144.3h0M243.9 119.2h0M244 131.7h0M244 145.2h0M244 145.4h0M244.1 120.4h0M244.1 117.5h0M244.2 130.2h0M244.2 114.9h0M244.3 141.3h0M244.3 139.3h0M244.4 138.4h0M244.4 120.5h0M244.5 132.2h0M244.5 118.6h0M244.6 141.8h0M244.6 113.1h0M244.7 135.5h0M244.7 114.7h0M244.8 140.1h0M244.8 137.5h0M244.9 121.3h0M244.9 149.1h0M245 137.2h0M245 134.4h0M245.1 150.4h0M245.1 143h0M245.2 113.4h0M245.2 105h0M245.3 148.7h0M245.3 134.5h0M245.4 120.3h0M245.4 133.7h0M245.5 144.9h0M245.5 118.4h0"/>
</defs>
<g transform="translate(0,0)"><text x="20.15" y="19.4" font-size="18.9" text-anchor="middle" fill="#1a1a1a" font-family="Liberation Sans, sans-serif">(a)</text><text x="41.6" y="33.6" font-size="12.3" font-weight="bold" fill="#a8121c" stroke="#a8121c" stroke-width="0.3" font-family="Liberation Sans, sans-serif">RMSE:1.16</text><g clip-path="url(#cp)" fill="none" stroke-linecap="round" stroke-width="2.1"><path stroke="#f21414" d="M47.2 127.9h0M47.2 140.8h0M47.3 129.8h0M47.3 121.1h0M47.4 121.9h0M47.4 138.9h0M47.5 142.6h0M47.5 136.6h0M47.6 126h0M47.6 131h0M47.7 116.6h0M47.7 140.4h0M47.8 137.1h0M47.8 139.6h0M47.9 128.9h0M47.9 147.4h0M48 115h0M48 142h0M48.1 111.6h0M48.1 111.3h0M48.2 166.3h0M48.2 137.4h0M48.3 130.4h0M48.3 146.3h0M48.4 163.2h0M48.5 125.1h0M48.5 140.2h0M48.6 153.1h0M48.6 185.5h0M48.7 175h0M48.7 117.7h0M48.8 124.9h0M48.8 177.6h0M48.9 178.8h0M48.9 137h0M49 119.3h0M49 141.2h0M49.1 139.9h0M49.1 142.3h0M49.2 111.5h0M49.2 133.3h0M49.3 176.6h0M49.3 113.9h0M49.4 146.2h0M49.5 152.1h0M49.5 114.1h0M49.6 128.8h0M49.6 150.5h0M49.7 119h0M49.7 153.5h0M49.8 149.3h0M49.8 179.1h0M49.9 154.3h0M49.9 143.6h0M50 178.5h0M50 174.1h0M50.1 122.9h0M50.1 161.2h0M50.2 124.5h0M50.2 112.7h0M50.3 150.9h0M50.3 156.2h0M50.3 121h0M50.4 129h0M50.4 114h0M50.5 146.9h0M50.5 131.6h0M50.6 158.3h0M50.6 168h0M50.7 167.4h0M50.7 166.3h0M50.8 113.5h0M50.8 123.1h0M50.9 138.8h0M50.9 146h0M51 147.4h0M51 116.7h0M51.1 141h0M51.1 177.3h0M51.2 145.9h0M51.2 178.9h0M51.3 157.6h0M51.3 166h0M51.4 182.2h0M51.4 179.8h0M51.5 142.1h0M51.5 128.4h0M51.6 129.3h0M51.6 164.8h0M51.7 166.6h0M51.7 136h0M51.8 121h0M51.8 121.1h0M51.8 138.9h0M51.9 164.5h0M51.9 127.3h0M52 136.3h0M52 158.5h0M52.1 166.5h0M52.1 157h0M52.2 121.6h0M52.2 119.2h0M52.3 151.4h0M52.3 138.6h0M52.4 114.2h0M52.4 167.2h0M52.5 155.6h0M52.5 148.8h0M52.6 133.6h0M52.6 171h0M52.7 133.4h0M52.7 156.8h0M52.8 125.3h0M52.8 143.8h0M52.9 149.4h0M52.9 125.3h0M53 141.7h0M53 152.6h0M53.1 124.6h0M53.1 145.9h0M53.2 137.7h0M53.2 119.8h0M53.3 157.9h0M53.3 129.8h0M53.3 125.7h0M53.4 98.4h0M53.4 160.5h0M53.5 128.6h0M53.5 101.4h0M53.6 136.6h0M53.6 146.6h0M53.7 148.8h0M53.7 157h0M53.8 118.1h0M53.8 154.3h0M53.9 158.6h0M53.9 127.3h0M54 122.7h0M54 125.2h0M54.1 126.4h0M54.1 151.7h0M54.2 146.1h0M54.2 149.2h0M54.3 150.8h0M54.3 135.9h0M54.4 151.6h0M54.5 115.2h0M54.5 145.5h0M54.6 146.5h0M54.6 127.1h0M54.7 154.1h0M54.7 137.5h0M54.8 121.8h0M54.8 133.4h0M54.9 151.2h0M54.9 127h0M54.9 150.3h0M55 127.6h0M55 154h0M55.1 156.1h0M55.1 113.6h0M55.2 148.6h0M55.2 150.2h0M55.3 158.3h0M55.3 152.2h0M55.4 114.7h0M55.4 133.8h0M55.5 160.4h0M55.6 127.2h0M55.6 136.7h0M55.7 122.7h0M55.7 151.1h0M55.8 134h0M55.8 152h0M55.9 157.7h0M55.9 160.1h0M56 130.5h0M56 149.7h0M56.1 147.6h0M56.1 158.4h0M56.2 114.7h0M56.2 149.8h0M56.3 157.5h0M56.3 154.3h0M56.4 149.4h0M56.4 126h0M56.4 134.9h0M56.5 133.1h0M56.5 147.8h0M56.6 126.2h0M56.6 141.8h0M56.7 121h0M56.7 145.2h0M56.8 144.3h0M56.8 144.7h0M56.9 144.7h0M56.9 145.3h0M57 128.9h0M57 140.8h0M57.1 146.9h0M57.1 138.1h0M57.2 141.2h0M57.2 151.3h0M57.3 135.3h0M57.3 136.7h0M57.4 139.2h0M57.4 111.3h0M57.5 152.3h0M57.5 128.7h0M57.6 136.7h0M57.6 150h0M57.7 116.1h0M57.7 151.7h0M57.8 139.8h0M57.8 131.2h0M57.9 147.6h0M57.9 150.6h0M58 128.1h0M58 122.6h0M58 150.2h0M58.1 138.9h0M58.2 154.9h0M58.2 129.6h0M58.3 148.8h0M58.3 150.3h0M58.4 139.6h0M58.4 139.1h0M58.5 151.9h0M58.5 148.5h0M58.6 129.8h0M58.6 127.1h0M58.7 131.4h0M58.7 146.1h0M58.8 141.8h0M58.8 161.3h0M58.9 104.6h0M58.9 138.4h0M59 132.2h0M59 115.3h0M59.1 125.8h0M59.1 164.3h0M59.2 156.3h0M59.2 118.9h0M59.3 138.5h0M59.3 163.4h0M59.4 157.2h0M59.4 122.4h0M59.5 175.4h0M59.5 155.5h0M59.5 120.6h0M59.6 122.2h0M59.6 172.3h0M59.7 152.2h0M59.7 137.8h0M59.8 139.8h0M59.8 154.2h0M59.9 160.6h0M59.9 152.9h0M60 141.8h0M60 144.3h0M60.1 112.4h0M60.1 135h0M60.2 128h0M60.2 130.5h0M60.3 155.2h0M60.3 126h0M60.4 160.7h0M60.4 118.9h0M60.5 126.5h0M60.5 154.5h0M60.6 123.8h0M60.6 153.1h0M60.7 125.1h0M60.7 160.2h0M60.8 137.6h0M60.8 116.2h0M60.9 157.6h0M60.9 177.9h0M61 161.9h0M61 129.9h0M61 146h0M61.1 177.5h0M61.1 160h0M61.2 158.5h0M61.2 187h0M61.3 158.5h0M61.3 148.8h0M61.4 157.9h0M61.4 159.6h0M61.5 118.9h0M61.5 181.7h0M61.6 165.2h0M61.6 121.9h0M61.7 136.4h0M61.7 183.1h0M61.8 129.4h0M61.8 190.7h0M61.9 160.6h0M61.9 128.2h0M62 177.2h0M62.1 135.5h0M62.1 140h0M62.2 93.6h0M62.2 124.7h0M62.3 134.8h0M62.3 184.2h0M62.4 180.3h0M62.4 157h0M62.5 137.5h0M62.5 127.8h0M62.6 168.8h0M62.6 158.2h0M62.6 130.7h0M62.7 143.9h0M62.8 123.6h0M62.8 152.8h0M62.9 135.9h0M62.9 137.1h0M63 131.1h0M63 132.6h0M63.1 145.1h0M63.1 149.4h0M63.2 147.8h0M63.2 128h0M63.3 160.5h0M63.3 116.5h0M63.4 182.5h0M63.4 129.7h0M63.5 110.7h0M63.5 138.2h0M63.6 127.7h0M63.6 130.3h0M63.7 91.6h0M63.7 121h0M63.8 111.9h0M63.8 155.8h0M63.9 134.2h0M63.9 157.3h0M64 153h0M64 162h0M64.1 132.4h0M64.1 167.6h0M64.1 121.2h0M64.2 134.6h0M64.2 124.5h0M64.3 158.9h0M64.3 128.6h0M64.4 94.4h0M64.4 120.2h0M64.5 124.6h0M64.5 120.4h0M64.6 111.4h0M64.6 109.1h0M64.7 146.1h0M64.8 127.5h0M64.9 116.9h0M64.9 150.3h0M65 124.2h0M65 123.6h0M65.1 151h0M65.1 157.4h0M65.2 181.9h0M65.2 178.3h0M65.3 169.3h0M65.3 103.3h0M65.4 132.3h0M65.4 116.3h0M65.5 131.1h0M65.5 145.9h0M65.6 132.9h0M65.6 143h0M65.6 120.3h0M65.7 131.5h0M65.7 164.9h0M65.8 125.5h0M65.9 152.4h0M65.9 112.7h0M66 151h0M66 125.1h0M66.1 136h0M66.1 141h0M66.2 129.5h0M66.2 151.6h0M66.3 159.5h0M66.3 159.1h0M66.4 134.7h0M66.4 133.8h0M66.5 118.7h0M66.5 132.5h0M66.6 123.5h0M66.6 121.3h0M66.7 144.2h0M66.7 119h0M66.8 153.6h0M66.8 178.2h0M66.9 188.9h0M66.9 147.3h0M67 118.9h0M67 155.6h0M67.1 192.1h0M67.1 114h0M67.2 111.5h0M67.2 162.4h0M67.2 128.5h0M67.3 112.1h0M67.3 161.3h0M67.4 165.1h0M67.4 128.9h0M67.5 119.8h0M67.5 139.5h0M67.6 128.1h0M67.6 129.3h0M67.7 126.5h0M67.7 127.5h0M67.8 176.2h0M67.8 189.7h0M67.9 161.1h0M67.9 170.5h0M68 187.5h0M68 109.8h0M68.1 163h0M68.1 118.3h0M68.2 163.1h0M68.2 134h0M68.3 134.2h0M68.3 133.6h0M68.4 148.6h0M68.4 152.5h0M68.5 145.6h0M68.5 76.6h0M68.6 109.3h0M68.6 158.4h0M68.7 147.8h0M68.7 161.6h0M68.7 103.5h0M68.8 122.2h0M68.8 146.7h0M68.9 162.6h0M68.9 161.1h0M69 152.3h0M69.1 151.8h0M69.1 149.9h0M69.2 168.7h0M69.2 137.3h0M69.3 143.5h0M69.3 128.2h0M69.4 171.1h0M69.4 127.5h0M69.5 121.4h0M69.5 135.1h0M69.6 168h0M69.6 168.5h0M69.7 149.2h0M69.7 136.3h0M69.8 131.5h0M69.8 145.6h0M69.9 182.8h0M69.9 158.4h0M70 150.2h0M70 165.1h0M70.1 133.4h0M70.1 114.9h0M70.2 177.1h0M70.2 131h0M70.3 172h0M70.3 173.3h0M70.3 157.8h0M70.4 129.2h0M70.5 154.9h0M70.5 115.1h0M70.6 144h0M70.6 130.7h0M70.7 167.2h0M70.7 166.7h0M70.8 174.6h0M70.8 120.9h0M70.9 159.8h0M70.9 107h0M71 159.9h0M71 148.7h0M71.1 141.2h0M71.1 156.2h0M71.2 162.2h0M71.2 152.9h0M71.3 136.1h0M71.3 103.4h0M71.4 157.7h0M71.4 148.4h0M71.5 151.7h0M71.5 113.2h0M71.6 135.3h0M71.6 155.4h0M71.7 148.3h0M71.7 120.2h0M71.8 156.5h0M71.8 109.5h0M71.8 119.7h0M71.9 107.8h0M71.9 157.4h0M72 143.1h0M72 155h0M72.1 150.5h0M72.1 149.4h0M72.2 130.2h0M72.2 153.7h0M72.3 114.4h0M72.3 149.6h0M72.4 131.3h0M72.4 147.9h0M72.5 135.2h0M72.5 121.4h0M72.6 149.9h0M72.6 118.4h0M72.7 150.3h0M72.7 131.4h0M72.8 147.9h0M72.8 153.7h0M72.9 163.7h0M72.9 155h0M73 153.7h0M73 151.5h0M73.1 109.1h0M73.1 156.4h0M73.2 128h0M73.2 73.9h0M73.3 155.4h0M73.3 134.8h0M73.3 125.2h0M73.4 149.1h0M73.5 127.4h0M73.5 81.2h0M73.6 154.8h0M73.6 132h0M73.7 142.9h0M73.7 149.7h0M73.8 99h0M73.8 139h0M73.9 126.6h0M73.9 131.3h0M74 147.7h0M74 151.5h0M74.1 155.4h0M74.1 132.6h0M74.2 117.5h0M74.2 133.7h0M74.3 157.3h0M74.3 127h0M74.4 151.2h0M74.4 148.3h0M74.5 155.5h0M74.5 104.9h0M74.6 155.5h0M74.6 141h0M74.7 133.3h0M74.7 148.8h0M74.8 150.6h0M74.8 133.7h0M74.9 152.9h0M74.9 131.7h0M74.9 129.9h0M75 153.7h0M75 124.4h0M75.1 156.4h0M75.1 140.3h0M75.2 152.4h0M75.3 150.9h0M75.3 138.5h0M75.4 123.4h0M75.5 154.4h0M75.5 146.8h0M75.6 169.4h0M75.6 118.9h0M75.7 144.8h0M75.7 147h0M75.8 147.7h0M75.8 165.3h0M75.9 132.7h0M75.9 138h0M76 143.9h0M76 112.3h0M76.1 143.6h0M76.1 150.3h0M76.2 108.4h0M76.2 147h0M76.3 169.5h0M76.4 151.6h0M76.4 152h0M76.4 164.7h0M76.5 128h0M76.5 170.7h0M76.6 148.5h0M76.6 147h0M76.7 113.6h0M76.7 147.7h0M76.8 152.7h0M76.8 110.6h0M76.9 99.3h0M76.9 135.8h0M77 163.6h0M77 129.7h0M77.1 167.5h0M77.1 107.1h0M77.2 134.2h0M77.2 161.4h0M77.3 142.1h0M77.3 168.4h0M77.4 114h0M77.4 149.8h0M77.5 153.3h0M77.6 170h0M77.6 131.7h0M77.7 156.7h0M77.7 112.2h0M77.8 127.1h0M77.9 81.6h0M77.9 161.9h0M77.9 133h0M78 145.7h0M78 117.2h0M78.1 138.8h0M78.1 146.3h0M78.2 150.9h0M78.2 141.6h0M78.3 159.1h0M78.3 119.7h0M78.4 169.8h0M78.4 121.5h0M78.5 121.7h0M78.5 136.5h0M78.6 141.3h0M78.6 108.9h0M78.7 114.7h0M78.7 113.9h0M78.8 143.2h0M78.8 124h0M78.9 140.5h0M78.9 143.4h0M79 102.7h0M79 151.3h0M79.1 141.5h0M79.1 151.4h0M79.2 153.5h0M79.2 139.5h0M79.3 118.6h0M79.3 128.8h0M79.4 145.2h0M79.4 134.3h0M79.5 115.4h0M79.5 152.1h0M79.5 115.6h0M79.6 122.9h0M79.6 131.2h0M79.7 142.3h0M79.7 82h0M79.8 132.6h0M79.8 125.5h0M79.9 74.2h0M80 108h0M80 145.4h0M80.1 135.6h0M80.1 116.6h0M80.2 112h0M80.2 150.2h0M80.3 129.7h0M80.3 130.6h0M80.4 120.8h0M80.4 120.7h0M80.5 116.9h0M80.5 128.3h0M80.6 135h0M80.6 136.3h0M80.7 149.2h0M80.7 141.4h0M80.8 147.5h0M80.8 151h0M80.9 106.6h0M80.9 143.1h0M81 144.5h0M81 148.1h0M81 140.2h0M81.1 139.9h0M81.1 121.7h0M81.2 136.4h0M81.2 116.3h0M81.3 115.7h0M81.3 130.1h0M81.4 123.4h0M81.4 144.6h0M81.5 126.4h0M81.5 133.5h0M81.6 133.8h0M81.6 132.8h0M81.7 147.1h0M81.7 124.5h0M81.8 115.1h0M81.8 152.5h0M81.9 149.1h0M81.9 95.7h0M82 149.3h0M82 116.4h0M82.1 85.6h0M82.2 140.6h0M82.2 144.2h0M82.3 143.9h0M82.3 143.1h0M82.4 149.9h0M82.4 144h0M82.5 140.3h0M82.5 140.2h0M82.6 120h0M82.6 120.2h0M82.6 136.6h0M82.7 123.9h0M82.8 142.5h0M82.8 154.5h0M82.9 144.1h0M82.9 146h0M83 139.9h0M83 129.1h0M83.1 133.7h0M83.1 146.9h0M83.2 137.2h0M83.2 148.2h0M83.3 141.8h0M83.4 135.9h0M83.4 121.8h0M83.5 136.9h0M83.5 95.9h0M83.6 135.2h0M83.7 136.8h0M83.7 135.4h0M83.8 84.5h0M83.8 143.6h0M83.9 116.8h0M83.9 147.7h0M84 136h0M84 139.6h0M84.1 74.5h0M84.1 111.7h0M84.1 128.6h0M84.2 136.4h0M84.2 135.9h0M84.3 131.5h0M84.3 131h0M84.4 93h0M84.4 136.9h0M84.5 137.1h0M84.5 101.6h0M84.6 113.2h0M84.6 136.3h0M84.7 135.4h0M84.7 120.5h0M84.8 135.6h0M84.8 137.3h0M84.9 128.5h0M84.9 114.4h0M85 139h0M85.1 118.6h0M85.1 147.5h0M85.2 136.4h0M85.2 110.7h0M85.3 144h0M85.3 119.2h0M85.4 73.3h0M85.4 117.3h0M85.5 146.4h0M85.5 73h0M85.6 112.8h0M85.6 104.9h0M85.6 125.3h0M85.7 145.9h0M85.7 140.2h0M85.8 140.2h0M85.9 132.8h0M85.9 141.7h0M86 129.4h0M86 119.2h0M86.1 139h0M86.1 110.1h0M86.2 148h0M86.2 128.9h0M86.3 145.3h0M86.3 138.7h0M86.4 147.3h0M86.4 139.3h0M86.5 114.4h0M86.5 134.7h0M86.6 106.5h0M86.6 136h0M86.7 137.4h0M86.7 139.9h0M86.8 96.1h0M86.8 116.4h0M86.9 134.3h0M86.9 102.3h0M87 141.4h0M87 145.4h0M87.1 132.1h0M87.1 143.1h0M87.2 145.9h0M87.2 148.3h0M87.2 138.9h0M87.3 137.8h0M87.3 124.9h0M87.4 121.3h0M87.4 104.1h0M87.5 127.1h0M87.5 130h0M87.6 124h0M87.6 132.4h0M87.7 127.5h0M87.7 152.1h0M87.8 135.4h0M87.8 166.6h0M87.9 113.7h0M87.9 135.9h0M88 127h0M88 165.5h0M88.1 160.3h0M88.1 158.1h0M88.2 174.2h0M88.2 108.7h0M88.3 121.6h0M88.3 142.1h0M88.4 112h0M88.4 170.8h0M88.5 163.9h0M88.5 113.7h0M88.6 120.9h0M88.6 144.9h0M88.7 127.1h0M88.7 136.6h0M88.7 152h0M88.8 154.4h0M88.8 163.3h0M88.9 138.9h0M88.9 143.4h0M89 113.8h0M89 175.8h0M89.1 138.6h0M89.1 150.8h0M89.2 157.9h0M89.2 149.5h0M89.3 92.4h0M89.3 87.1h0M89.4 178h0M89.4 110h0M89.5 170.6h0M89.5 159.4h0M89.6 156.2h0M89.6 159.2h0M89.7 89.6h0M89.8 161.5h0M89.8 117.1h0M89.9 121.6h0M89.9 141.3h0M90 140.1h0M90 137h0M90.1 139.3h0M90.1 152.6h0M90.2 136.6h0M90.2 130.3h0M90.2 129.9h0M90.3 160.4h0M90.3 117.1h0M90.4 165.3h0M90.4 152.3h0M90.5 172.2h0M90.6 131.5h0M90.6 159.9h0M90.7 97.9h0M90.7 147.5h0M90.8 110.5h0M90.8 158.8h0M90.9 152h0M90.9 119.7h0M91 149h0M91 159.2h0M91.1 132.3h0M91.1 100.4h0M91.2 122.2h0M91.2 118.5h0M91.3 71.5h0M91.3 111.8h0M91.4 145.9h0M91.4 127.5h0M91.5 158.6h0M91.5 139.4h0M91.6 93.1h0M91.6 119.8h0M91.7 156.6h0M91.7 150h0M91.8 160.8h0M91.8 76.8h0M91.8 141.9h0M91.9 153.4h0M91.9 95.5h0M92 131.1h0M92 148.9h0M92.1 146.4h0M92.1 140.5h0M92.2 135.7h0M92.2 134.5h0M92.3 124.1h0M92.3 142h0M92.4 138.8h0M92.5 106.9h0M92.5 133.7h0M92.6 107.5h0M92.6 143.7h0M92.7 137.5h0M92.7 118.4h0M92.8 140.9h0M92.8 146.2h0M92.9 149.8h0M92.9 135.2h0M93 141.7h0M93 139.7h0M93.1 148.1h0M93.1 128.5h0M93.2 143.1h0M93.2 148.2h0M93.3 145.7h0M93.3 146.5h0M93.3 125.6h0M93.4 120.9h0M93.4 139.1h0M93.5 137.1h0M93.6 117.1h0M93.6 104.8h0M93.7 121.4h0M93.8 127.7h0M93.8 101.9h0M93.9 123h0M93.9 124.4h0M94 129h0M94 112.1h0M94.1 116.5h0M94.2 135.5h0M94.2 135.4h0M94.3 99.8h0M94.3 135.7h0M94.4 136.3h0M94.4 135.6h0M94.5 141.5h0M94.5 123.9h0M94.6 134.7h0M94.6 126.6h0M94.7 109.6h0M94.7 139.5h0M94.8 135.8h0M94.8 142.6h0M94.9 120.3h0M94.9 128.1h0M94.9 115.7h0M95 105.5h0M95 146.5h0M95.1 144.1h0M95.2 142.7h0M95.2 150.6h0M95.3 134h0M95.4 124.5h0M95.4 141.8h0M95.5 102h0M95.5 146.6h0M95.6 137.4h0M95.6 145.6h0M95.7 139.1h0M95.7 109.7h0M95.8 128.9h0M95.8 128.1h0M95.9 118.8h0M95.9 137.1h0M96 146.1h0M96 144.1h0M96.1 138.8h0M96.1 113.1h0M96.2 134.1h0M96.2 139.3h0M96.3 134.8h0M96.3 143.6h0M96.4 120.1h0M96.4 122.3h0M96.4 147.2h0M96.5 107h0M96.5 151.6h0M96.6 130.1h0M96.6 146.9h0M96.7 125.4h0M96.7 125h0M96.8 144.3h0M96.8 139.7h0M96.9 168.1h0M97 145.1h0M97.1 156.4h0M97.1 128.5h0M97.2 119.6h0M97.2 175.5h0M97.3 132.9h0M97.3 144.1h0M97.4 144.8h0M97.4 144.1h0M97.5 141.5h0M97.5 129.1h0M97.6 186.4h0M97.6 130.1h0M97.7 153.3h0M97.7 126.4h0M97.8 159.3h0M97.8 143.8h0M97.9 131.4h0M97.9 119.7h0M97.9 147.4h0M98 133.2h0M98 165.4h0M98.1 142.4h0M98.1 130.3h0M98.2 99.7h0M98.2 159.3h0M98.3 137.9h0M98.3 151.2h0M98.4 125.8h0M98.4 154.7h0M98.5 120.5h0M98.5 155.1h0M98.6 139h0M98.7 147h0M98.7 139.9h0M98.8 135.9h0M98.8 131.9h0M98.9 114.6h0M98.9 142.3h0M99 155.9h0M99 166.7h0M99.1 153h0M99.1 159.4h0M99.2 118.1h0M99.2 163.7h0M99.3 154.6h0M99.3 133.6h0M99.4 106.6h0M99.4 173h0M99.5 148h0M99.5 117.7h0M99.5 175.1h0M99.6 124.1h0M99.6 179.4h0M99.7 147.1h0M99.7 164h0M99.8 154.9h0M99.8 133.2h0M99.9 107.3h0M99.9 160.8h0M100 101.3h0M100 97.4h0M100.1 170.1h0M100.1 143.5h0M100.2 127.8h0M100.2 107.3h0M100.3 125.1h0M100.4 148.9h0M100.4 122.6h0M100.5 152.2h0M100.5 130.6h0M100.6 135.9h0M100.6 148.2h0M100.7 81h0M100.7 133.2h0M100.8 88.1h0M100.8 113.1h0M100.9 113.9h0M100.9 149.3h0M101 150.1h0M101 138.2h0M101 143.2h0M101.1 163.5h0M101.1 87.7h0M101.2 137.2h0M101.2 125.8h0M101.3 134.3h0M101.3 146.3h0M101.4 161.3h0M101.5 140.4h0M101.5 126.6h0M101.6 119.7h0M101.6 133.5h0M101.7 139.5h0M101.7 133h0M101.8 146.4h0M101.8 130.9h0M101.9 159.2h0M102 126.5h0M102 159.3h0M102.1 142.6h0M102.2 127.2h0M102.2 154.7h0M102.3 126.4h0M102.3 132.5h0M102.4 152.4h0M102.4 132.7h0M102.5 156.5h0M102.5 147.8h0M102.5 156.3h0M102.6 116.2h0M102.6 112.1h0M102.7 141.8h0M102.7 132.3h0M102.8 103.5h0M102.8 147h0M102.9 138.3h0M102.9 123.4h0M103 123.1h0M103 143h0M103.1 153.5h0M103.1 145.8h0M103.2 112.4h0M103.2 142.4h0M103.3 132.8h0M103.3 140.2h0M103.4 115.6h0M103.4 143.4h0M103.5 128.3h0M103.5 131.8h0M103.6 150.8h0M103.6 130.9h0M103.7 115.9h0M103.7 129.4h0M103.8 148.6h0M103.8 148.3h0M103.9 153.2h0M103.9 151.1h0M104 159.4h0M104 131.3h0M104.1 143.6h0M104.1 145.6h0M104.1 76.3h0M104.2 143.7h0M104.2 122.8h0M104.3 156.7h0M104.3 149h0M104.4 151.8h0M104.4 140.4h0M104.5 154.8h0M104.5 152.3h0M104.6 153.9h0M104.6 138.4h0M104.7 159.5h0M104.7 141.9h0M104.8 128.9h0M104.8 142.3h0M104.9 109.8h0M104.9 142.5h0M105 134h0M105.1 112.4h0M105.1 124.1h0M105.2 138.7h0M105.2 118.4h0M105.3 147.4h0M105.3 115.7h0M105.4 150h0M105.4 102.2h0M105.5 146.1h0M105.5 144.6h0M105.6 145.3h0M105.6 125.2h0M105.6 156h0M105.7 143.9h0M105.7 118.2h0M105.8 128h0M105.8 149.5h0M105.9 100.5h0M105.9 81.4h0M106 146.5h0M106 141.6h0M106.1 147.6h0M106.1 145.3h0M106.2 142.7h0M106.2 84.6h0M106.3 152.9h0M106.3 137.1h0M106.4 141.8h0M106.4 146h0M106.5 145.8h0M106.5 125.1h0M106.6 143.8h0M106.6 143.1h0M106.7 143.2h0M106.7 140.5h0M106.8 132.5h0M106.8 141.8h0M106.9 144.5h0M106.9 121.8h0M107 132.2h0M107 134.4h0M107.1 153h0M107.1 137.4h0M107.2 142.7h0M107.2 145.7h0M107.2 140h0M107.3 145.6h0M107.3 155h0M107.4 147.8h0M107.4 112.9h0M107.5 137.5h0M107.5 143.5h0M107.6 134.1h0M107.6 151.2h0M107.7 134.1h0M107.7 111.1h0M107.8 138.8h0M107.8 128.3h0M107.9 144.9h0M107.9 142h0M108 140.3h0M108 144.3h0M108.1 123h0M108.1 149h0M108.2 124.8h0M108.2 147.9h0M108.3 134.7h0M108.3 109.3h0M108.4 147.4h0M108.4 152.6h0M108.5 123.6h0M108.5 103.2h0M108.6 137.7h0M108.6 105h0M108.7 145.5h0M108.7 138.1h0M108.7 80.6h0M108.8 117.5h0M108.8 113.3h0M108.9 138.5h0M108.9 139.8h0M109 114.8h0M109 132h0M109.1 95.8h0M109.1 151.8h0M109.2 156.3h0M109.2 124.1h0M109.3 166.8h0M109.3 118.8h0M109.4 98.9h0M109.4 90.5h0M109.5 168.1h0M109.5 144.9h0M109.6 112.9h0M109.6 149.9h0M109.7 123.1h0M109.7 176.9h0M109.8 138.1h0M109.8 119.4h0M109.9 159.7h0M109.9 121.7h0M110 129h0M110 140.8h0M110.1 160.2h0M110.1 138.9h0M110.2 123.4h0M110.2 139.8h0M110.2 116.2h0M110.3 120.5h0M110.3 165.2h0M110.4 131.5h0M110.4 107.1h0M110.5 143.1h0M110.6 168.9h0M110.6 129.8h0M110.7 127.4h0M110.7 108h0M110.8 135.6h0M110.8 133.2h0M110.9 124.9h0M110.9 129.9h0M111 111h0M111 147.4h0M111.1 146.6h0M111.1 109.4h0M111.2 128h0M111.2 98.6h0M111.3 146.9h0M111.3 117.8h0M111.4 118.4h0M111.4 155.2h0M111.5 132.9h0M111.5 141.6h0M111.6 150.3h0M111.6 152.2h0M111.7 165.8h0M111.8 128.4h0M111.8 128.1h0M111.8 133.4h0M111.9 124.9h0M111.9 156h0M112 162.1h0M112 122.9h0M112.1 123.8h0M112.1 120.5h0M112.2 123.7h0M112.2 166.4h0M112.3 166.1h0M112.3 157.1h0M112.4 94.4h0M112.4 121.9h0M112.5 167.3h0M112.5 114.3h0M112.6 119.9h0M112.6 158.2h0M112.7 123h0M112.7 134.8h0M112.8 137.7h0M112.8 130.7h0M112.9 112.6h0M112.9 122h0M113 176.1h0M113 157.4h0M113.1 106.6h0M113.1 130.1h0M113.2 161.5h0M113.2 109.9h0M113.3 163.5h0M113.3 107.5h0M113.3 143.7h0M113.4 110.2h0M113.4 122.8h0M113.5 153.9h0M113.5 158.1h0M113.6 161h0M113.6 169.9h0M113.7 185h0M113.7 162.1h0M113.8 136.5h0M113.8 151.5h0M113.9 126.7h0M113.9 156h0M114 123.5h0M114 126.8h0M114.1 156.6h0M114.1 170.3h0M114.2 180h0M114.2 119.9h0M114.3 137.8h0M114.3 176.8h0M114.4 150.5h0M114.5 97.8h0M114.5 112.5h0M114.6 147.2h0M114.6 119h0M114.7 174.3h0M114.7 149.6h0M114.8 148.7h0M114.8 168.8h0M114.8 107.7h0M114.9 107.2h0M115 171.7h0M115 115.4h0M115.1 119.2h0M115.1 161.8h0M115.2 128.9h0M115.2 130.7h0M115.3 123.9h0M115.3 147.3h0M115.4 154.8h0M115.4 155.7h0M115.5 129.9h0M115.5 144.7h0M115.6 168.4h0M115.7 137.8h0M115.7 165.9h0M115.8 130.6h0M115.8 108.8h0M115.9 128.4h0M115.9 140.7h0M116 118h0M116 173.4h0M116.1 149.2h0M116.1 116.2h0M116.2 149.5h0M116.2 170.3h0M116.3 157.4h0M116.3 123.2h0M116.4 123.3h0M116.4 129.3h0M116.4 115.9h0M116.5 129.8h0M116.5 127.4h0M116.6 114.4h0M116.6 166.4h0M116.7 80.2h0M116.7 125h0M116.8 91h0M116.8 129.6h0M116.9 109h0M116.9 123.6h0M117 125.5h0M117 132.4h0M117.1 140h0M117.1 103.7h0M117.2 98.6h0M117.3 170.5h0M117.3 174.7h0M117.4 121.1h0M117.5 163.8h0M117.5 161.4h0M117.6 136.6h0M117.7 111.4h0M117.7 135.4h0M117.8 125.7h0M117.8 160.7h0M117.9 162.5h0M117.9 126.4h0M117.9 125.7h0M118 139.6h0M118 128.2h0M118.1 130h0M118.1 119.6h0M118.2 138.2h0M118.2 132.6h0M118.3 94.6h0M118.3 139.5h0M118.4 135.2h0M118.4 138.6h0M118.5 116.8h0M118.5 142.2h0M118.6 148.6h0M118.6 140.8h0M118.7 148.5h0M118.7 127.6h0M118.8 131.1h0M118.8 120.5h0M118.9 122h0M118.9 123.2h0M119 136.1h0M119 145.8h0M119.1 115.2h0M119.2 146.4h0M119.2 141.3h0M119.3 139.8h0M119.3 133.1h0M119.4 136.7h0M119.4 140h0M119.5 135.4h0M119.5 135.5h0M119.6 124.6h0M119.6 130.3h0M119.7 122h0M119.7 136.8h0M119.8 141.3h0M119.8 140.3h0M119.9 133.9h0M119.9 105h0M120 132.9h0M120.1 125.7h0M120.1 138.4h0M120.2 131.7h0M120.2 131.2h0M120.3 134.6h0M120.3 116.8h0M120.4 132.4h0M120.4 130.6h0M120.5 133.5h0M120.5 119.9h0M120.6 134.4h0M120.6 132.5h0M120.7 134.1h0M120.7 111.3h0M120.8 117.2h0M120.8 110.3h0M120.9 124.9h0M120.9 135.5h0M121 79.4h0M121 123.4h0M121 135.7h0M121.1 129.6h0M121.1 127.4h0M121.2 132.4h0M121.2 114.6h0M121.3 125.4h0M121.3 116.3h0M121.4 107.7h0M121.5 118.6h0M121.5 129.1h0M121.6 126.1h0M121.6 134.3h0M121.7 126.1h0M121.7 131.9h0M121.8 124.3h0M121.8 116.1h0M121.9 117.4h0M121.9 136.1h0M122 134h0M122 129h0M122.1 112.4h0M122.1 123.5h0M122.2 97h0M122.2 95.3h0M122.3 111.6h0M122.3 123.8h0M122.4 130.8h0M122.5 126.2h0M122.5 141.7h0M122.6 148.2h0M122.6 105.2h0M122.7 132.2h0M122.7 137.9h0M122.8 126.2h0M122.8 126h0M122.9 128.1h0M122.9 140h0M123 153.6h0M123 108.8h0M123.1 127.3h0M123.1 114.8h0M123.2 145.4h0M123.2 131.3h0M123.3 133.5h0M123.3 125.3h0M123.4 108.4h0M123.4 137.8h0M123.5 118.2h0M123.5 117.1h0M123.6 144.9h0M123.6 129.3h0M123.7 128.8h0M123.7 132.1h0M123.8 120.6h0M123.8 104.7h0M123.9 116.4h0M123.9 106.9h0M124 112.3h0M124 130.1h0M124.1 136.7h0M124.1 144.5h0M124.1 153.9h0M124.2 135.3h0M124.2 122.1h0M124.3 128.6h0M124.3 128.3h0M124.4 113.4h0M124.4 112.6h0M124.5 133h0M124.5 131.4h0M124.6 158.3h0M124.6 108.7h0M124.7 134.7h0M124.7 171.1h0M124.8 131.6h0M124.8 135h0M124.9 116.6h0M124.9 131.7h0M125 121.8h0M125.1 113.7h0M125.1 154.8h0M125.2 135.3h0M125.2 127h0M125.3 139.7h0M125.4 122.5h0M125.4 125.3h0M125.5 127.7h0M125.5 122h0M125.6 120.5h0M125.6 156.1h0M125.6 136h0M125.7 142.5h0M125.7 142.8h0M125.8 133.7h0M125.8 135.2h0M125.9 161.7h0M125.9 140.3h0M126 111h0M126 117.8h0M126.1 164.8h0M126.1 145.1h0M126.2 124.3h0M126.2 159.8h0M126.3 128.8h0M126.3 98h0M126.4 122.6h0M126.4 150h0M126.5 124.2h0M126.5 160h0M126.6 133.4h0M126.6 163.2h0M126.7 141.5h0M126.7 159.7h0M126.8 140.8h0M126.8 136.9h0M126.9 112.6h0M126.9 124.6h0M127 93.9h0M127 105.8h0M127.1 129.6h0M127.1 115.7h0M127.1 134.5h0M127.2 127.9h0M127.2 130.1h0M127.3 132.7h0M127.3 107.9h0M127.4 132.6h0M127.4 121.5h0M127.5 130.8h0M127.5 109.4h0M127.6 119.1h0M127.6 141.3h0M127.7 122.1h0M127.7 72.6h0M127.8 113.9h0M127.8 130.8h0M127.9 117.4h0M127.9 90.9h0M128 136h0M128 136.2h0M128.1 134.9h0M128.1 143.5h0M128.2 141.3h0M128.2 104h0M128.3 137.6h0M128.3 139.2h0M128.4 100.6h0M128.4 116.6h0M128.5 134h0M128.5 134.9h0M128.6 131.9h0M128.6 128.8h0M128.7 121.5h0M128.7 140.7h0M128.8 134.5h0M128.8 144.2h0M128.9 139.2h0M128.9 90.6h0M129 146h0M129 139.9h0M129.1 115.3h0M129.1 129.9h0M129.2 140.2h0M129.2 145.5h0M129.3 145.6h0M129.3 119.5h0M129.4 136.5h0M129.4 127.6h0M129.5 121.1h0M129.5 150.7h0M129.6 152.2h0M129.6 126.3h0M129.7 113.1h0M129.7 136.4h0M129.8 115.9h0M129.8 152.2h0M129.9 138.6h0M129.9 140.8h0M130 139.4h0M130 122.8h0M130.1 156.9h0M130.1 134.5h0M130.2 111.1h0M130.2 131.9h0M130.2 137.6h0M130.3 123.5h0M130.4 114.5h0M130.4 134.3h0M130.5 102.1h0M130.5 123.1h0M130.6 137.9h0M130.6 130h0M130.7 132.1h0M130.7 119.6h0M130.8 141.3h0M130.8 114.4h0M130.9 138.5h0M130.9 147.9h0M131 134h0M131 138.2h0M131.1 130.9h0M131.1 95.2h0M131.2 133.7h0M131.2 90.2h0M131.3 138.8h0M131.3 126.3h0M131.4 127.2h0M131.4 99.8h0M131.5 124.1h0M131.5 127.8h0M131.6 132.4h0M131.6 102.8h0M131.7 108.2h0M131.7 123.4h0M131.8 137h0M131.8 116.9h0M131.8 119.8h0M131.9 141.9h0M132 130.2h0M132.1 110.9h0M132.1 132.6h0M132.2 140.6h0M132.2 135.1h0M132.3 148.6h0M132.3 117.8h0M132.4 139.2h0M132.4 77.5h0M132.5 134.8h0M132.5 124.2h0M132.6 135.5h0M132.6 140.5h0M132.7 129h0M132.7 133.2h0M132.8 129.4h0M132.8 130.5h0M132.9 146.7h0M133 136.1h0M133 133h0M133.1 136.9h0M133.1 137.9h0M133.2 145.4h0M133.2 124.7h0M133.3 128.5h0M133.3 130.3h0M133.3 133h0M133.4 136.9h0M133.4 135.8h0M133.5 133h0M133.5 88.3h0M133.6 121.8h0M133.6 135.3h0M133.7 141.1h0M133.7 139.1h0M133.8 135h0M133.8 132.7h0M133.9 134.4h0M133.9 154.4h0M134 130.4h0M134 117.9h0M134.1 138.7h0M134.2 149.6h0M134.2 125.4h0M134.3 118.6h0M134.3 140.1h0M134.4 145.1h0M134.4 100.3h0M134.5 142.5h0M134.5 138h0M134.6 101.3h0M134.7 135.1h0M134.7 138.7h0M134.8 95.4h0M134.8 133.9h0M134.8 138.1h0M134.9 113.8h0M134.9 131.2h0M135 108.5h0M135 143.2h0M135.1 87.2h0M135.1 144.5h0M135.2 122.8h0M135.2 109.2h0M135.3 123.1h0M135.3 103.9h0M135.4 97.1h0M135.4 154.1h0M135.5 134.7h0M135.5 118.3h0M135.6 126.1h0M135.6 133.3h0M135.7 120.4h0M135.7 143.8h0M135.8 101.6h0M135.9 124.6h0M135.9 95.7h0M136 156.7h0M136 145.2h0M136.1 146.8h0M136.1 126.3h0M136.2 133.9h0M136.2 146.2h0M136.3 136.4h0M136.3 100h0M136.4 146.2h0M136.4 75.5h0M136.4 146.2h0M136.5 141.5h0M136.5 146.8h0M136.6 144.7h0M136.7 132.3h0M136.7 132.3h0M136.8 136.8h0M136.8 134.6h0M136.9 123.1h0M137 137.2h0M137 137.7h0M137.1 139.8h0M137.1 108.1h0M137.2 100.4h0M137.2 119.1h0M137.3 140.3h0M137.3 128.5h0M137.4 118.4h0M137.4 109.7h0M137.5 127.7h0M137.5 133.9h0M137.6 83.4h0M137.6 126.7h0M137.7 132.7h0M137.7 119.5h0M137.8 103.2h0M137.8 131.8h0M137.9 123h0M137.9 128.9h0M138 130.5h0M138 121.9h0M138.1 154.2h0M138.1 127.8h0M138.2 138.3h0M138.2 138.3h0M138.3 119.7h0M138.3 131.7h0M138.4 131.2h0M138.4 129.8h0M138.5 149.8h0M138.5 147.8h0M138.6 97.2h0M138.6 139.3h0M138.7 135.7h0M138.7 119.1h0M138.8 133.5h0M138.8 131h0M138.9 143.8h0M138.9 139.3h0M139 124.3h0M139 126.1h0M139.1 102.7h0M139.1 113.6h0M139.2 133.6h0M139.2 127.5h0M139.3 134.1h0M139.3 115h0M139.4 135.1h0M139.4 121.5h0M139.5 99.5h0M139.5 137.9h0M139.6 132.3h0M139.6 142.8h0M139.7 108.6h0M139.7 132.8h0M139.8 134.4h0M139.8 138.2h0M139.9 136.2h0M139.9 130.8h0M140 130.7h0M140 128.5h0M140.1 130.3h0M140.1 128.6h0M140.2 143.3h0M140.2 132.5h0M140.3 72.3h0M140.3 125.2h0M140.4 148.7h0M140.4 77.8h0M140.5 128.8h0M140.5 137.5h0M140.6 110.8h0M140.7 106h0M140.7 115h0M140.8 80.4h0M140.8 131.1h0M140.9 114.3h0M140.9 143.7h0M141 126.8h0M141 163.1h0M141 84.1h0M141.1 127.4h0M141.1 156.9h0M141.2 126.8h0M141.2 100.9h0M141.3 135.6h0M141.3 125h0M141.4 169.4h0M141.4 128.8h0M141.5 173.6h0M141.5 160.9h0M141.6 87.4h0M141.6 127.9h0M141.7 170.2h0M141.7 152.5h0M141.8 114.1h0M141.8 142.2h0M141.9 132.9h0M141.9 140.1h0M142 161.8h0M142.1 169.6h0M142.1 142.9h0M142.2 165.6h0M142.2 139.4h0M142.3 133.4h0M142.3 138.3h0M142.4 129.1h0M142.4 116h0M142.5 136.5h0M142.5 101.1h0M142.6 93.3h0M142.6 115h0M142.7 160.1h0M142.7 152.8h0M142.8 115.6h0M142.8 103.5h0M142.9 145.3h0M142.9 142.1h0M143 115.1h0M143 102.3h0M143.1 142.8h0M143.1 152.4h0M143.2 160.3h0M143.2 149.8h0M143.3 164.5h0M143.3 152.9h0M143.4 98.8h0M143.4 121.3h0M143.5 147.1h0M143.5 105.6h0M143.6 165.9h0M143.6 121h0M143.7 151.5h0M143.7 121.4h0M143.8 137.5h0M143.8 162.4h0M143.9 117.1h0M143.9 138.4h0M144 143.7h0M144 171.5h0M144 140.5h0M144.1 140.6h0M144.1 135.7h0M144.2 143.9h0M144.2 162.9h0M144.3 136.9h0M144.3 145.5h0M144.4 106.4h0M144.4 150.2h0M144.5 162.8h0M144.5 106.1h0M144.6 110.7h0M144.6 150.7h0M144.7 135.7h0M144.7 126.8h0M144.8 164.7h0M144.8 151.5h0M144.9 173.9h0M145 173.6h0M145 145.8h0M145.1 162.8h0M145.1 139.9h0M145.2 142.6h0M145.2 145.2h0M145.3 126.1h0M145.3 142.4h0M145.4 117.9h0M145.4 129.6h0M145.5 160.4h0M145.5 145.3h0M145.6 134.9h0M145.6 120h0M145.6 114.3h0M145.7 142.6h0M145.7 131.3h0M145.8 141.6h0M145.8 132.1h0M145.9 162.2h0M146 120.4h0M146 111.1h0M146.1 131.1h0M146.1 147.5h0M146.2 126.6h0M146.2 159h0M146.3 138.4h0M146.3 171.2h0M146.4 132.7h0M146.4 108.9h0M146.5 149.1h0M146.5 158.7h0M146.6 151.7h0M146.6 129.7h0M146.7 108.6h0M146.7 135.2h0M146.8 122.4h0M146.8 115.5h0M146.9 126.4h0M146.9 120.8h0M147 122.7h0M147 119.5h0M147.1 151.2h0M147.1 147.1h0M147.1 148h0M147.2 86.4h0M147.2 138.5h0M147.3 143.4h0M147.3 106.5h0M147.4 123.7h0M147.4 144.8h0M147.5 108.2h0M147.5 154.6h0M147.6 156.7h0M147.6 156h0M147.7 104.8h0M147.7 140.1h0M147.8 110.3h0M147.8 160.3h0M147.9 170.9h0M147.9 132h0M148 146.3h0M148 171.9h0M148.1 131.8h0M148.1 134.6h0M148.2 130.2h0M148.2 165.6h0M148.3 151.4h0M148.3 155.9h0M148.4 173.8h0M148.4 160.9h0M148.5 161.1h0M148.5 148.4h0M148.6 150.8h0M148.7 128.3h0M148.7 127.8h0M148.7 135.5h0M148.8 156.2h0M148.8 132.8h0M148.9 129.8h0M148.9 79.8h0M149 142.5h0M149 127.2h0M149.1 121.7h0M149.1 120.7h0M149.2 172.1h0M149.2 139.7h0M149.3 165h0M149.3 120.1h0M149.4 167.8h0M149.4 173.5h0M149.5 157.3h0M149.5 104.5h0M149.6 118.8h0M149.6 117.9h0M149.7 127.6h0M149.8 153.7h0M149.8 134.5h0M149.9 115.1h0M149.9 116.2h0M150 134.3h0M150 140.7h0M150.1 138.3h0M150.1 147.1h0M150.2 148.1h0M150.2 139h0M150.2 127.9h0M150.3 116.7h0M150.4 134.1h0M150.4 123.3h0M150.5 155.3h0M150.5 124.7h0M150.6 130.2h0M150.6 123.3h0M150.7 110.6h0M150.7 120.7h0M150.8 119.8h0M150.8 115.5h0M150.9 145.2h0M150.9 136.1h0M151 139.3h0M151.1 113.5h0M151.1 141h0M151.2 140.8h0M151.3 117.4h0M151.3 127.8h0M151.4 152.5h0M151.4 142.1h0M151.5 141.9h0M151.5 122.9h0M151.6 125h0M151.7 121.3h0M151.7 109.8h0M151.7 128.7h0M151.8 119.9h0M151.8 71.1h0M151.9 131.1h0M151.9 134.4h0M152 123.7h0M152.1 142.7h0M152.1 136.6h0M152.2 143.6h0M152.2 96.5h0M152.3 143h0M152.3 98.7h0M152.4 141h0M152.4 148.4h0M152.5 139.5h0M152.5 104.8h0M152.6 134.3h0M152.6 105.3h0M152.7 120.8h0M152.7 131.2h0M152.8 144.2h0M152.8 120.1h0M152.9 134.2h0M152.9 140.5h0M153 138h0M153 122.7h0M153.1 131.8h0M153.1 111.5h0M153.2 88.9h0M153.2 124.4h0M153.3 120.3h0M153.3 122.9h0M153.3 126.7h0M153.4 140.2h0M153.4 145h0M153.5 143.5h0M153.5 147.9h0M153.6 123.7h0M153.6 150.7h0M153.7 142.3h0M153.8 149.9h0M153.8 125.6h0M153.9 135.1h0M153.9 118.5h0M154 146h0M154.1 137.2h0M154.1 125.7h0M154.2 127.9h0M154.2 116.1h0M154.3 149.2h0M154.3 141.7h0M154.4 144.8h0M154.4 107.8h0M154.5 150.6h0M154.5 146.7h0M154.6 117.6h0M154.6 145h0M154.7 151.2h0M154.8 123.4h0M154.8 142.1h0M154.9 135.6h0M154.9 139.4h0M155 140.4h0M155 122.5h0M155.1 142.3h0M155.1 138.4h0M155.2 141.6h0M155.2 122.9h0M155.3 137.3h0M155.3 116.7h0M155.4 149.4h0M155.4 143.9h0M155.5 141.2h0M155.6 141.9h0M155.6 134.9h0M155.7 145.4h0M155.7 143.2h0M155.8 150.1h0M155.8 139.6h0M155.9 86.6h0M155.9 129.5h0M156 145h0M156 116.1h0M156.1 139.7h0M156.1 124.5h0M156.2 142.4h0M156.2 138.3h0M156.3 107.1h0M156.3 131.6h0M156.3 127.6h0M156.4 124h0M156.4 114.5h0M156.5 137.6h0M156.5 143.5h0M156.6 134.2h0M156.6 115.2h0M156.7 113.5h0M156.8 152.1h0M156.8 141.4h0M156.9 144.1h0M156.9 153.6h0M157 84.8h0M157 133.2h0M157.1 136.2h0M157.1 121.3h0M157.2 143.3h0M157.2 138.7h0M157.3 121.5h0M157.3 129.2h0M157.4 118.5h0M157.4 136.8h0M157.5 124.7h0M157.5 136.2h0M157.6 142.9h0M157.6 138.6h0M157.7 111.2h0M157.7 145h0M157.8 113.4h0M157.8 107.6h0M157.9 131.4h0M157.9 137.3h0M157.9 116.3h0M158 139.6h0M158 117.1h0M158.1 121.6h0M158.1 136.2h0M158.2 140h0M158.3 136.7h0M158.3 144.3h0M158.4 137.4h0M158.4 130.7h0M158.5 136.5h0M158.5 123.8h0M158.6 111.4h0M158.6 143.5h0M158.7 133.9h0M158.7 140.9h0M158.8 141.2h0M158.8 138h0M158.9 112.4h0M158.9 109.9h0M159 151.4h0M159 137.6h0M159.1 144h0M159.1 149h0M159.2 103.7h0M159.2 120.7h0M159.3 180.1h0M159.3 130h0M159.4 124.3h0M159.4 172.6h0M159.4 105.6h0M159.5 119.6h0M159.5 102.7h0M159.6 173.7h0M159.6 153.8h0M159.7 164.6h0M159.7 162.4h0M159.8 161.2h0M159.8 172.5h0M159.9 137.8h0M159.9 180.7h0M160 115h0M160 121.1h0M160.1 188.2h0M160.1 165.5h0M160.2 131.5h0M160.2 131.8h0M160.3 153.4h0M160.4 86.8h0M160.4 132.7h0M160.5 167.1h0M160.5 166.9h0M160.6 171.9h0M160.6 128.7h0M160.7 128.4h0M160.7 154.1h0M160.8 100.9h0M160.9 132.2h0M160.9 113.7h0M161 115h0M161 122h0M161.1 129.5h0M161.1 109.5h0M161.2 113.6h0M161.2 162.7h0M161.3 123.9h0M161.3 133.6h0M161.4 142.9h0M161.4 104.4h0M161.5 135h0M161.5 130.3h0M161.6 111.2h0M161.6 161.8h0M161.7 155h0M161.7 148.3h0M161.8 166h0M161.8 129.6h0M161.9 163.8h0M161.9 129.4h0M162 136.3h0M162.1 124.5h0M162.1 148.4h0M162.2 119h0M162.2 151.3h0M162.3 136.2h0M162.3 139.7h0M162.4 120h0M162.5 167h0M162.5 94.7h0M162.5 110.1h0M162.6 133.3h0M162.6 122.1h0M162.7 166.8h0M162.7 117.6h0M162.8 158.7h0M162.8 120.9h0M162.9 133.1h0M162.9 169.7h0M163 126.7h0M163 139.9h0M163.1 154.5h0M163.1 141.6h0M163.2 116.5h0M163.2 132h0M163.3 154.1h0M163.3 154h0M163.4 147.5h0M163.4 175.2h0M163.5 161.7h0M163.5 155.2h0M163.6 176.4h0M163.6 137.7h0M163.7 144.9h0M163.7 109.9h0M163.8 148.1h0M163.8 142.2h0M163.9 143.6h0M163.9 169h0M164 163h0M164 128.6h0M164 153.2h0M164.1 132.8h0M164.1 135.8h0M164.2 171.8h0M164.2 169.6h0M164.3 166.2h0M164.3 180.5h0M164.4 174.4h0M164.4 144.3h0M164.5 116.2h0M164.6 124.1h0M164.6 163.1h0M164.7 169.2h0M164.7 142.7h0M164.8 134.3h0M164.8 163.4h0M164.9 168.6h0M164.9 82.8h0M165 123.6h0M165 134.9h0M165.1 136.8h0M165.1 149.2h0M165.2 115.3h0M165.2 120.6h0M165.3 101.8h0M165.3 181.2h0M165.4 118.6h0M165.4 129.3h0M165.5 114h0M165.5 121.5h0M165.6 179.6h0M165.6 136.8h0M165.6 94.3h0M165.7 167.5h0M165.8 184.6h0M165.8 110.6h0M165.9 139.2h0M165.9 128.3h0M166 165.7h0M166 110.6h0M166.1 150.4h0M166.1 148.6h0M166.2 167.7h0M166.2 135h0M166.3 159.9h0M166.4 151.6h0M166.4 123h0M166.5 150.2h0M166.5 128h0M166.6 115.1h0M166.7 154.5h0M166.7 143.7h0M166.8 109.7h0M166.8 142.1h0M166.9 154.6h0M166.9 116.6h0M167 130.4h0M167 146.3h0M167.1 130.2h0M167.1 121.2h0M167.1 149.1h0M167.2 160.8h0M167.2 159.6h0M167.3 147.2h0M167.3 151.1h0M167.4 144.8h0M167.4 153.1h0M167.5 152.6h0M167.5 111.5h0M167.6 133.8h0M167.6 141.9h0M167.7 148.1h0M167.8 149.3h0M167.9 143.4h0M167.9 137.5h0M168 140.7h0M168 145.8h0M168.1 144.1h0M168.1 110.3h0M168.2 147.3h0M168.2 153.2h0M168.3 137.9h0M168.3 153.2h0M168.4 150.8h0M168.5 149.6h0M168.5 110.7h0M168.6 119.5h0M168.6 142.1h0M168.6 96.8h0M168.7 147.2h0M168.7 112h0M168.8 130.2h0M168.8 112.1h0M168.9 146.7h0M168.9 131.5h0M169 145h0M169.1 126.1h0M169.1 126h0M169.2 141h0M169.2 143.3h0M169.3 148.9h0M169.3 148h0M169.4 116.8h0M169.5 132.2h0M169.5 135.8h0M169.6 121.7h0M169.6 146.6h0M169.7 116.1h0M169.7 146.3h0M169.8 125.5h0M169.8 149.9h0M169.9 120h0M169.9 155.3h0M170 97.3h0M170.1 147.3h0M170.1 149.7h0M170.2 151.9h0M170.2 145.9h0M170.3 118.7h0M170.3 146.8h0M170.4 159.1h0M170.4 143.2h0M170.5 129.1h0M170.5 139.7h0M170.6 148.9h0M170.6 147.1h0M170.7 159.5h0M170.7 154.3h0M170.8 159.7h0M170.8 155.5h0M170.9 126.4h0M170.9 114.7h0M171 110.9h0M171 149.3h0M171.1 133.6h0M171.1 147.6h0M171.2 135.1h0M171.2 140.9h0M171.3 153.1h0M171.3 118.5h0M171.4 147.2h0M171.4 148.5h0M171.5 143.3h0M171.5 147.6h0M171.6 156.8h0M171.6 140.7h0M171.7 129.5h0M171.7 121.1h0M171.7 140.2h0M171.8 124.9h0M171.8 142.7h0M171.9 142.9h0M171.9 159.6h0M172 103.2h0M172 114.9h0M172.1 110.2h0M172.1 155.8h0M172.2 122.1h0M172.2 155.3h0M172.3 109.8h0M172.3 137.4h0M172.4 141.1h0M172.4 137h0M172.5 139.1h0M172.5 98.1h0M172.6 111h0M172.6 157.8h0M172.7 116h0M172.7 170.8h0M172.8 88.7h0M172.8 150h0M172.9 147.9h0M172.9 144.6h0M173 82.2h0M173 122.3h0M173.1 143.4h0M173.1 125.6h0M173.2 151.1h0M173.2 116h0M173.3 157.8h0M173.3 154.5h0M173.3 151.7h0M173.4 111.8h0M173.4 138.8h0M173.5 149.6h0M173.5 170h0M173.6 115.9h0M173.6 151.9h0M173.7 133.1h0M173.7 149.3h0M173.8 131.1h0M173.8 134.4h0M173.9 172.7h0M173.9 173.2h0M174 172.5h0M174.1 120.8h0M174.1 143h0M174.2 120.6h0M174.3 122.8h0M174.3 157.6h0M174.4 133.9h0M174.4 116h0M174.5 114.6h0M174.5 136.4h0M174.6 148h0M174.6 156.8h0M174.7 149h0M174.7 150.1h0M174.8 111.8h0M174.8 109.2h0M174.8 145.2h0M174.9 153h0M175 129.7h0M175 121.6h0M175.1 159h0M175.1 162h0M175.2 92.9h0M175.2 112.7h0M175.3 148.7h0M175.3 140.9h0M175.4 141.1h0M175.4 136h0M175.5 158h0M175.5 112.2h0M175.6 153.3h0M175.6 162.3h0M175.7 103.9h0M175.7 133.9h0M175.8 100.7h0M175.8 126.7h0M175.9 109h0M175.9 89.3h0M176 126.5h0M176 133.9h0M176.1 148.2h0M176.1 122.3h0M176.2 172.8h0M176.2 137.5h0M176.3 152.7h0M176.3 162.2h0M176.3 115.8h0M176.4 134.7h0M176.4 123.2h0M176.5 162.9h0M176.5 129.4h0M176.6 85h0M176.6 121.2h0M176.7 157.2h0M176.7 117.3h0M176.8 129.1h0M176.8 142.3h0M176.9 146.2h0M176.9 129.9h0M177 161.4h0M177 109.2h0M177.1 117h0M177.1 122.8h0M177.2 116.9h0M177.2 102.3h0M177.3 137h0M177.4 125.5h0M177.4 122.8h0M177.5 145.8h0M177.5 140.9h0M177.6 124.1h0M177.7 94h0M177.7 156.5h0M177.8 137h0M177.8 141h0M177.9 131.3h0M177.9 138h0M177.9 147.7h0M178 133.9h0M178 152.1h0M178.1 151h0M178.1 151.3h0M178.2 134.2h0M178.2 118.7h0M178.3 107h0M178.3 154.7h0M178.4 146h0M178.4 107.7h0M178.5 143h0M178.5 100.8h0M178.6 96.4h0M178.6 144.2h0M178.7 144.6h0M178.7 137.9h0M178.8 147.6h0M178.8 142.9h0M178.9 144.9h0M178.9 89.4h0M179 142.8h0M179 146.8h0M179.1 142.4h0M179.1 134.7h0M179.2 157h0M179.2 150h0M179.3 153.4h0M179.3 142.6h0M179.4 126.1h0M179.4 148.2h0M179.4 154.3h0M179.5 122.4h0M179.5 148.8h0M179.6 145.2h0M179.6 126.6h0M179.7 114.3h0M179.7 149.8h0M179.8 150.9h0M179.8 151.9h0M179.9 151.4h0M179.9 139.6h0M180 126.6h0M180.1 148.4h0M180.1 146.4h0M180.2 149.1h0M180.2 156.6h0M180.3 146.7h0M180.3 133.2h0M180.4 140h0M180.5 144.2h0M180.5 150.5h0M180.6 149.6h0M180.6 158.8h0M180.7 124.7h0M180.7 150.4h0M180.8 164.1h0M180.8 151h0M180.9 126.2h0M180.9 67.6h0M180.9 155.1h0M181 101.5h0M181 154.8h0M181.1 117.7h0M181.1 126.2h0M181.2 150.1h0M181.2 153.3h0M181.3 153.4h0M181.3 112.3h0M181.4 102.4h0M181.4 144h0M181.5 144.4h0M181.5 146.2h0M181.6 137.3h0M181.6 144.3h0M181.7 106h0M181.7 110.5h0M181.8 123.6h0M181.8 148.1h0M181.9 151.1h0M181.9 142.8h0M182 128.1h0M182 115.4h0M182.1 139.5h0M182.1 110.8h0M182.2 120.6h0M182.2 143.7h0M182.3 93.5h0M182.3 104.1h0M182.4 144.4h0M182.4 138.4h0M182.5 113.4h0M182.5 89.5h0M182.5 134.1h0M182.6 144.5h0M182.6 141.5h0M182.7 101.8h0M182.7 142.6h0M182.8 128.4h0M182.8 138.9h0M182.9 119.4h0M182.9 149.7h0M183 147.3h0M183 144.7h0M183.1 142.3h0M183.1 82.6h0M183.2 143.6h0M183.2 141.4h0M183.3 147.5h0M183.3 127h0M183.4 144h0M183.4 150.9h0M183.5 121.9h0M183.6 104.7h0M183.6 131.7h0M183.7 144.8h0M183.7 154h0M183.8 142.4h0M183.8 139.3h0M183.9 136h0M184 140.1h0M184 153.3h0M184 148.4h0M184.1 142h0M184.1 127.2h0M184.2 144.1h0M184.2 153.8h0M184.3 148h0M184.4 122.6h0M184.4 147.2h0M184.5 152.8h0M184.5 143.8h0M184.6 144.5h0M184.6 88.5h0M184.7 142h0M184.7 151h0M184.8 144.2h0M184.8 124h0M184.9 168.6h0M184.9 150.6h0M185 159.8h0M185 154.6h0M185.1 138.9h0M185.2 114.8h0M185.2 129.2h0M185.3 166.2h0M185.3 128.6h0M185.4 120.4h0M185.4 171.6h0M185.5 175.3h0M185.5 99.4h0M185.6 135.8h0M185.6 103.6h0M185.7 107.4h0M185.7 122.4h0M185.8 183.8h0M185.8 123.7h0M185.9 97.6h0M185.9 125.6h0M186 155.6h0M186 164.6h0M186.1 96.7h0M186.1 76.1h0M186.2 171.4h0M186.2 159h0M186.3 119.3h0M186.3 111.7h0M186.4 150.4h0M186.4 160.1h0M186.5 131.9h0M186.5 88.4h0M186.6 168.2h0M186.6 134.4h0M186.7 118.7h0M186.7 136.7h0M186.8 91.3h0M186.9 118.9h0M186.9 127h0M187 158.7h0M187 71.9h0M187.1 147.9h0M187.1 137h0M187.1 93.2h0M187.2 113.2h0M187.2 143.3h0M187.3 175.6h0M187.3 137.7h0M187.4 99h0M187.4 141.2h0M187.5 167.7h0M187.5 134.2h0M187.6 124h0M187.6 136.4h0M187.7 102.4h0M187.7 175.7h0M187.8 152.3h0M187.8 177.7h0M187.9 107.8h0M187.9 120.3h0M188 181.4h0M188.1 111.4h0M188.1 157.1h0M188.2 144.7h0M188.2 99.1h0M188.3 162.5h0M188.3 125.9h0M188.4 112.7h0M188.4 129.7h0M188.5 146.3h0M188.5 131.4h0M188.6 125.6h0M188.6 117.5h0M188.6 98.7h0M188.7 162.6h0M188.7 136.9h0M188.8 137.2h0M188.8 139.9h0M188.9 155.9h0M188.9 94.2h0M189 150.6h0M189 148.5h0M189.1 155.4h0M189.1 134.1h0M189.2 138.1h0M189.2 129.3h0M189.3 134h0M189.3 116.5h0M189.4 121.4h0M189.4 166.1h0M189.5 106.2h0M189.5 131h0M189.6 130.8h0M189.6 140.6h0M189.7 137.9h0M189.8 121.9h0M189.8 158.8h0M189.9 91.1h0M189.9 137.8h0M190 162.7h0M190 113.8h0M190.1 148.5h0M190.1 163.6h0M190.2 148.3h0M190.2 129.9h0M190.2 153.5h0M190.3 123.7h0M190.3 131.3h0M190.4 169.1h0M190.4 171.5h0M190.5 137.7h0M190.5 131h0M190.6 131.4h0M190.6 118.5h0M190.7 121.1h0M190.7 176.7h0M190.8 133.7h0M190.8 158.2h0M190.9 136.2h0M190.9 164.3h0M191 122.3h0M191 134.5h0M191.1 144.9h0M191.2 103.3h0M191.2 116.3h0M191.3 120.3h0M191.3 142.9h0M191.4 148.3h0M191.4 105.6h0M191.5 139.9h0M191.5 118.5h0M191.6 132.7h0M191.6 163.3h0M191.7 161.6h0M191.7 128.4h0M191.7 164h0M191.8 145.5h0M191.8 150.4h0M191.9 119.1h0M191.9 167h0M192 134.5h0M192 124.4h0M192.1 165h0M192.1 164.2h0M192.2 115.7h0M192.2 120.3h0M192.3 174h0M192.3 172.4h0M192.4 137.1h0M192.5 158h0M192.5 137.9h0M192.6 142.5h0M192.6 127.9h0M192.7 147.8h0M192.7 107.4h0M192.8 158.4h0M192.8 154.7h0M192.9 152h0M192.9 100.2h0M193 176h0M193.1 149.7h0M193.1 151.8h0M193.2 110h0M193.2 108.8h0M193.2 153.2h0M193.3 161h0M193.3 134.8h0M193.4 126.1h0M193.4 132.3h0M193.5 164.1h0M193.5 147.4h0M193.6 124.2h0M193.6 130.7h0M193.7 125.7h0M193.7 155.7h0M193.8 141.4h0M193.8 133.8h0M193.9 160.7h0M193.9 136.2h0M194 124.3h0M194 126.1h0M194.1 139.2h0M194.1 135.7h0M194.2 120.8h0M194.2 134.4h0M194.3 146.9h0M194.3 125.5h0M194.4 149.5h0M194.4 142.6h0M194.5 139.4h0M194.5 128.1h0M194.6 117.9h0M194.6 122.5h0M194.7 117.8h0M194.7 133.2h0M194.8 133.1h0M194.8 142.3h0M194.9 126.9h0M194.9 131.4h0M195 115.2h0M195 110.9h0M195.1 103h0M195.1 140.6h0M195.2 127.8h0M195.2 135.5h0M195.3 139.5h0M195.3 141.7h0M195.4 141.1h0M195.4 139.7h0M195.5 142h0M195.5 102.9h0M195.6 136.9h0M195.6 130.2h0M195.7 139.4h0M195.7 127.3h0M195.8 138h0M195.8 140.1h0M195.9 114.6h0M195.9 135.6h0M196 127.7h0M196 105.8h0M196.1 141.2h0M196.1 103.7h0M196.2 136h0M196.2 158.9h0M196.3 129.3h0M196.3 138.6h0M196.3 149.5h0M196.4 140.6h0M196.4 136.9h0M196.5 151.5h0M196.5 130.8h0M196.6 113.5h0M196.6 114h0M196.7 129.6h0M196.8 130.4h0M196.8 142.7h0M196.9 122.5h0M196.9 124h0M197 133.8h0M197 140.7h0M197.1 94.5h0M197.1 105.4h0M197.2 111.9h0M197.2 133.7h0M197.3 117.3h0M197.3 135h0M197.4 111.6h0M197.4 131.8h0M197.5 140h0M197.5 133.6h0M197.6 139h0M197.6 115.5h0M197.7 132.1h0M197.8 78.9h0M197.9 104.2h0M197.9 135.5h0M197.9 121.7h0M198 117.7h0M198.1 123.9h0M198.1 83h0M198.2 151.3h0M198.2 131h0M198.3 129.8h0M198.3 146.6h0M198.4 112.5h0M198.4 131.2h0M198.5 124.4h0M198.5 137.4h0M198.6 146.7h0M198.7 136.5h0M198.7 135.3h0M198.8 140.4h0M198.8 143.3h0M198.9 130.3h0M198.9 108.6h0M199 139.8h0M199.1 132.5h0M199.1 132.9h0M199.2 136.2h0M199.2 115.6h0M199.3 120.4h0M199.3 136.1h0M199.4 123.4h0M199.4 139h0M199.4 135.5h0M199.5 107.7h0M199.5 112.3h0M199.6 115.3h0M199.6 103h0M199.7 130.1h0M199.7 133.2h0M199.8 125.8h0M199.8 113.1h0M199.9 147.2h0M199.9 132.8h0M200 133.5h0M200 109.3h0M200.1 119.5h0M200.1 126.2h0M200.2 147.1h0M200.2 131.9h0M200.3 126.3h0M200.3 125h0M200.4 128.8h0M200.4 108.8h0M200.5 127.6h0M200.5 134.4h0M200.6 135.9h0M200.6 122.1h0M200.7 117h0M200.7 116.6h0M200.8 118h0M200.8 140.4h0M200.9 105.7h0M200.9 152.7h0M200.9 167.1h0M201 115.8h0M201 115.3h0M201.1 144.4h0M201.1 138.7h0M201.2 112.1h0M201.2 110.5h0M201.3 146.1h0M201.3 146.5h0M201.4 119.3h0M201.4 104.4h0M201.5 128.6h0M201.5 126.3h0M201.6 120h0M201.6 155.6h0M201.7 132.9h0M201.7 176.3h0M201.8 169.8h0M201.8 106.8h0M201.9 120.6h0M201.9 144.4h0M202 107.9h0M202 131.4h0M202.1 142.8h0M202.1 149h0M202.2 94.7h0M202.3 134.9h0M202.3 123.2h0M202.4 114.1h0M202.4 130.7h0M202.5 124.8h0M202.5 146.6h0M202.5 107.4h0M202.6 142.2h0M202.6 104.2h0M202.7 108.5h0M202.7 125.6h0M202.8 133.9h0M202.9 112.8h0M202.9 128.3h0M203 142.4h0M203.1 115.4h0M203.1 116.8h0M203.2 129.4h0M203.2 127.6h0M203.3 127.2h0M203.3 87.3h0M203.4 133.3h0M203.5 126.8h0M203.5 120.1h0M203.6 130.5h0M203.6 111.7h0M203.7 126.7h0M203.8 134.5h0M203.8 130.6h0M203.9 129.2h0M203.9 120.3h0M204 103.9h0M204 130.2h0M204 113.3h0M204.1 113.9h0M204.1 134.6h0M204.2 152.8h0M204.2 129.4h0M204.3 125.4h0M204.3 105.7h0M204.4 154.2h0M204.4 118.7h0M204.5 134.5h0M204.5 124.8h0M204.6 108h0M204.6 123.2h0M204.7 117.9h0M204.7 123.1h0M204.8 142.5h0M204.8 122.5h0M204.9 132.5h0M205 146.4h0M205 113.2h0M205.1 124h0M205.1 132.2h0M205.2 133.9h0M205.2 121.2h0M205.3 122h0M205.3 113h0M205.4 118.4h0M205.4 133.8h0M205.5 122.3h0M205.5 108.4h0M205.5 132.1h0M205.6 116.8h0M205.6 125.8h0M205.7 96.1h0M205.7 128.7h0M205.8 129.8h0M205.8 133.5h0M205.9 133.4h0M205.9 118h0M206 99.1h0M206 142.8h0M206.1 119.8h0M206.2 114.1h0M206.2 135.3h0M206.3 137.3h0M206.3 131.7h0M206.4 115.8h0M206.4 115.7h0M206.5 132.8h0M206.5 117.4h0M206.6 131.6h0M206.6 131.6h0M206.7 105.9h0M206.7 128.3h0M206.8 111.2h0M206.8 114.6h0M206.9 130.8h0M206.9 133.8h0M207 124.7h0M207 131.3h0M207.1 126.2h0M207.1 119.4h0M207.1 126.7h0M207.2 139.4h0M207.2 132.1h0M207.3 114.5h0M207.3 141.4h0M207.4 147.7h0M207.4 115.9h0M207.5 118.1h0M207.5 139.1h0M207.6 129.7h0M207.6 137.8h0M207.7 131.9h0M207.7 105.9h0M207.8 110.3h0M207.8 130.3h0M207.9 124.9h0M207.9 119h0M208 132.4h0M208 102.5h0M208.1 120.7h0M208.1 121.6h0M208.2 110.5h0M208.2 126.5h0M208.3 136.7h0M208.3 114.2h0M208.4 131.6h0M208.4 138h0M208.5 113.8h0M208.5 145.7h0M208.6 151.8h0M208.6 78.7h0M208.6 110.2h0M208.7 121.8h0M208.8 128.7h0M208.8 138h0M208.9 137.8h0M208.9 145.4h0M209 115.8h0M209 94.2h0M209.1 135.7h0M209.1 120.9h0M209.2 88.8h0M209.2 121.7h0M209.3 99.2h0M209.4 131.3h0M209.4 120.5h0M209.5 126.3h0M209.5 130.6h0M209.6 119.4h0M209.6 91.8h0M209.7 85.9h0M209.7 130.6h0M209.8 123.3h0M209.8 77.1h0M209.9 130h0M209.9 124.5h0M210 127.8h0M210 124.7h0M210.1 124.9h0M210.1 123.2h0M210.2 151.2h0M210.2 108.1h0M210.2 157.5h0M210.3 153.9h0M210.3 90.1h0M210.4 119h0M210.4 122.8h0M210.5 91.4h0M210.6 112.2h0M210.6 145.1h0M210.7 138.6h0M210.7 96.2h0M210.8 121.2h0M210.8 134.3h0M210.9 139h0M210.9 107.9h0M211 157.7h0M211.1 113.5h0M211.1 130.8h0M211.2 162.7h0M211.2 149.1h0M211.3 134.3h0M211.3 112.6h0M211.4 119.7h0M211.4 99.5h0M211.5 127.4h0M211.6 94.8h0M211.7 141.6h0M211.7 112.9h0M211.8 109.5h0M211.8 123.8h0M211.9 117h0M211.9 108.2h0M212 118.2h0M212 107.2h0M212.1 112h0M212.1 114.7h0M212.2 127.7h0M212.2 114.2h0M212.3 108.5h0M212.3 128.2h0M212.4 129.9h0M212.4 116.1h0M212.5 112.9h0M212.5 128h0M212.6 115.2h0M212.6 125.6h0M212.7 136.7h0M212.7 116h0M212.8 117.3h0M212.8 121h0M212.9 124.1h0M212.9 115.4h0M213 125.3h0M213 125.9h0M213.1 109.4h0M213.1 86.3h0M213.2 124.4h0M213.2 109.2h0M213.2 101.1h0M213.3 129.4h0M213.3 124.9h0M213.4 126.9h0M213.4 125.9h0M213.5 106.4h0M213.5 126h0M213.6 86.2h0M213.7 126.5h0M213.7 118.7h0M213.8 109h0M213.8 127h0M213.9 130.2h0M213.9 121.2h0M214 125.2h0M214 119h0M214.1 125.6h0M214.2 124.3h0M214.2 119.3h0M214.3 124h0M214.3 119.9h0M214.4 114.4h0M214.4 127.5h0M214.5 91.2h0M214.5 101.2h0M214.6 92h0M214.6 122.6h0M214.7 127.1h0M214.7 114.5h0M214.8 129.2h0M214.8 122.7h0M214.8 123.6h0M214.9 130.5h0M215 108.7h0M215 127.9h0M215.1 118.6h0M215.1 120.1h0M215.2 127.1h0M215.2 107.6h0M215.3 118.3h0M215.3 128.8h0M215.4 90.7h0M215.4 122.2h0M215.5 130.1h0M215.5 120.6h0M215.6 107.5h0M215.6 120.9h0M215.7 92.5h0M215.7 118h0M215.8 123.5h0M215.8 121.2h0M215.9 116.7h0M215.9 104.3h0M216 123.3h0M216 119.3h0M216.1 111.9h0M216.1 124.2h0M216.2 121.8h0M216.2 109h0M216.3 115.1h0M216.3 110.2h0M216.3 124.8h0M216.4 129.2h0M216.4 126.8h0M216.5 124.8h0M216.5 113.3h0M216.6 124h0M216.6 127.3h0M216.7 125.1h0M216.7 117.2h0M216.8 125h0M216.9 113.3h0M216.9 116.4h0M217 124.9h0M217 132.8h0M217.1 117.6h0M217.1 110.4h0M217.2 116.5h0M217.2 126.3h0M217.3 125.8h0M217.3 126h0M217.4 112.8h0M217.4 117.5h0M217.5 135.1h0M217.5 115.6h0M217.6 136h0M217.6 126.9h0M217.7 124.3h0M217.7 122.5h0M217.8 124.5h0M217.8 140.1h0M217.8 114.9h0M217.9 125h0M217.9 124.8h0M218 129.7h0M218 127.7h0M218.1 122.7h0M218.1 134.1h0M218.2 114.1h0M218.2 114.3h0M218.3 129.6h0M218.3 127.7h0M218.4 121.9h0M218.4 123.9h0M218.5 128.7h0M218.5 125.3h0M218.6 130.6h0M218.6 135h0M218.7 112.7h0M218.7 117.3h0M218.8 130.7h0M218.8 124.7h0M218.9 123.9h0M218.9 99.6h0M219 104.3h0M219 121h0M219.1 127.8h0M219.1 110.4h0M219.2 130.5h0M219.3 90.3h0M219.3 130.4h0M219.4 104.6h0M219.4 129h0M219.4 130h0M219.5 130.1h0M219.5 141.1h0M219.6 126.3h0M219.7 130.4h0M219.7 131.9h0M219.8 131.5h0M219.8 89.8h0M219.9 140.5h0M219.9 132.4h0M220 127.3h0M220 131.9h0M220.1 114.1h0M220.1 129.2h0M220.2 127.2h0M220.2 125.2h0M220.3 128.9h0M220.3 119.5h0M220.4 132.2h0M220.4 124.2h0M220.5 114.8h0M220.5 111.8h0M220.6 134.6h0M220.6 136.1h0M220.7 128.5h0M220.7 114.2h0M220.8 138.5h0M220.8 111.6h0M220.9 117.8h0M220.9 101h0M221 125.2h0M221 114.8h0M221.1 129.5h0M221.1 99.6h0M221.2 113.2h0M221.2 103.4h0M221.3 116h0M221.3 150.7h0M221.4 123.8h0M221.4 124.4h0M221.5 118.2h0M221.5 143.9h0M221.6 140.3h0M221.7 158.8h0M221.7 120.7h0M221.8 149.4h0M221.8 132.7h0M221.9 146.4h0M221.9 174.5h0M222 125.9h0M222 111.9h0M222.1 112.2h0M222.1 152.6h0M222.2 142.7h0M222.2 140.5h0M222.3 122h0M222.4 179.3h0M222.4 116.7h0M222.5 123.1h0M222.5 160.6h0M222.5 136.5h0M222.6 144.8h0M222.6 155.2h0M222.7 126.9h0M222.8 130.9h0M222.8 120.1h0M222.9 118h0M222.9 101.9h0M223 126.8h0M223 120.9h0M223.1 119.6h0M223.2 153.6h0M223.2 142.2h0M223.3 156.1h0M223.3 127.4h0M223.4 106.8h0M223.4 118.8h0M223.5 93.9h0M223.5 122.2h0M223.6 122.6h0M223.6 100.2h0M223.7 115.8h0M223.7 102.6h0M223.8 134.6h0M223.8 152.5h0M223.9 120.1h0M223.9 105.5h0M224 118.3h0M224 117.8h0M224 126.5h0M224.1 141.1h0M224.1 118.1h0M224.2 117.9h0M224.2 137.2h0M224.3 100.3h0M224.4 170.4h0M224.4 120.4h0M224.5 157.5h0M224.5 132h0M224.6 124.4h0M224.7 114.9h0M224.8 120.8h0M224.8 138.8h0M224.9 119.8h0M224.9 128.7h0M225 114.8h0M225 123.2h0M225.1 120.7h0M225.1 145.1h0M225.2 118.2h0M225.2 129.1h0M225.3 120.8h0M225.3 129.4h0M225.4 98.5h0M225.4 132.7h0M225.5 117.7h0M225.5 132.9h0M225.5 117.2h0M225.6 139.5h0M225.7 117.2h0M225.7 143.8h0M225.8 90.4h0M225.8 128.8h0M225.9 115.5h0M225.9 138.1h0M226 141.1h0M226.1 132h0M226.1 110.4h0M226.2 119.3h0M226.2 144h0M226.3 125.8h0M226.3 117.2h0M226.4 155.9h0M226.4 121.6h0M226.5 171.3h0M226.6 140.6h0M226.6 133.5h0M226.7 131h0M226.7 158.1h0M226.8 122h0M226.8 132.3h0M226.9 146.5h0M226.9 137.1h0M227 153.6h0M227 120.2h0M227.1 118.2h0M227.1 137.6h0M227.1 119.2h0M227.2 122.4h0M227.2 138.1h0M227.3 123h0M227.3 125.7h0M227.4 127.8h0M227.4 128.6h0M227.5 137.2h0M227.5 130.4h0M227.6 142.2h0M227.7 132.6h0M227.7 115.4h0M227.8 128.7h0M227.8 124.6h0M227.9 129.3h0M227.9 129h0M228 125.9h0M228 129h0M228.1 122.6h0M228.1 137.7h0M228.2 133.8h0M228.2 140.7h0M228.3 108.9h0M228.3 109.3h0M228.4 129.7h0M228.4 125.1h0M228.5 133.3h0M228.5 130.1h0M228.6 103h0M228.6 125.4h0M228.6 128.5h0M228.7 133h0M228.7 125.6h0M228.8 122.6h0M228.8 137.3h0M228.9 132.7h0M228.9 121.3h0M229 128.2h0M229 134.9h0M229.1 129.2h0M229.1 131.6h0M229.2 135.4h0M229.2 138.4h0M229.3 127.2h0M229.3 139.1h0M229.4 143.7h0M229.4 139.2h0M229.5 131.2h0M229.5 138.7h0M229.6 143.2h0M229.6 119.9h0M229.7 146.8h0M229.7 140.9h0M229.8 118.8h0M229.8 138.4h0M229.9 135.6h0M229.9 145.5h0M230 130.9h0M230 147.4h0M230.1 122.4h0M230.1 138.2h0M230.1 125.8h0M230.2 137.5h0M230.2 145h0M230.3 138.7h0M230.3 111.8h0M230.4 129.2h0M230.4 134.2h0M230.5 116.4h0M230.5 148.3h0M230.6 135.8h0M230.6 119.2h0M230.7 127.4h0M230.8 137.6h0M230.8 109.6h0M230.9 123.3h0M230.9 128.5h0M231 133.5h0M231 136.8h0M231.1 144.4h0M231.1 141.4h0M231.2 148.9h0M231.2 131.8h0M231.3 125.1h0M231.3 123.6h0M231.4 126.2h0M231.5 137.2h0M231.5 134h0M231.6 125.3h0M231.6 133.3h0M231.7 118.1h0M231.7 119.1h0M231.7 129.9h0M231.8 131.6h0M231.9 133.7h0M231.9 111.7h0M232 128.2h0M232 113.6h0M232.1 134.6h0M232.1 108.3h0M232.2 131.8h0M232.2 131.2h0M232.3 124h0M232.3 118.5h0M232.4 114.6h0M232.4 129.6h0M232.5 139h0M232.5 114.2h0M232.6 132h0M232.6 141.9h0M232.7 144.6h0M232.7 135.3h0M232.8 154.1h0M232.8 131.6h0M232.9 133.5h0M233 120.7h0M233 132h0M233.1 155.1h0M233.1 140.8h0M233.2 131.8h0M233.2 141.4h0M233.3 129.5h0M233.3 141h0M233.5 137.3h0M233.5 126.5h0M233.6 134.8h0M233.6 133.7h0M233.7 130.2h0M233.7 138.1h0M233.8 139.4h0M233.8 109.6h0M233.9 132.1h0M233.9 138.7h0M234 110.1h0M234 123.8h0M234.1 113h0M234.1 133.1h0M234.2 129.6h0M234.2 122.9h0M234.3 119.7h0M234.3 132.5h0M234.4 101.6h0M234.4 139.6h0M234.5 122.4h0M234.5 132.6h0M234.6 133h0M234.6 130.9h0M234.7 140.8h0M234.7 133.3h0M234.8 142.9h0M234.8 113.6h0M234.8 124.2h0M234.9 122.4h0M234.9 118.8h0M235 104.1h0M235 133h0M235.1 130.1h0M235.1 117.7h0M235.2 130.5h0M235.2 124.9h0M235.3 138.1h0M235.3 131h0M235.4 157.2h0M235.5 123.2h0M235.5 152.8h0M235.6 123h0M235.6 113h0M235.7 106h0M235.7 105.9h0M235.8 138.6h0M235.8 127.3h0M235.9 136.5h0M236 122.3h0M236.1 135.4h0M236.1 126.2h0M236.2 136.1h0M236.2 139.2h0M236.3 145.4h0M236.3 135.1h0M236.3 124.3h0M236.4 115.3h0M236.4 151.9h0M236.5 119.4h0M236.5 153.9h0M236.6 112.5h0M236.6 130.8h0M236.7 157.8h0M236.7 137.2h0M236.8 121.4h0M236.8 132.8h0M236.9 133.7h0M237 101.7h0M237 118.1h0M237.1 128.4h0M237.1 125.4h0M237.2 96.3h0M237.2 125.4h0M237.3 127.2h0M237.3 164.2h0M237.4 116.3h0M237.4 155.7h0M237.5 139.1h0M237.5 116.9h0M237.6 161h0M237.6 115.9h0M237.7 152.7h0M237.7 174.9h0M237.8 157.1h0M237.8 155.8h0M237.8 138.8h0M237.9 146.7h0M237.9 153.8h0M238 145.7h0M238 114.5h0M238.1 119.1h0M238.1 162.3h0M238.2 130.5h0M238.2 150.7h0M238.3 113.3h0M238.3 168.3h0M238.4 122.1h0M238.4 119.6h0M238.5 141.5h0M238.5 144.6h0M238.6 125.5h0M238.6 160.2h0M238.7 144.6h0M238.7 156.8h0M238.8 124.8h0M238.8 150.5h0M238.9 136.4h0M238.9 164.4h0M239 147.3h0M239 117h0M239.1 126.3h0M239.1 111h0M239.2 185.9h0M239.2 183.4h0M239.3 99.9h0M239.3 125h0M239.4 167.4h0M239.4 118.3h0M239.4 123.7h0M239.5 124.2h0M239.5 122.3h0M239.6 117h0M239.6 121.9h0M239.7 126.8h0M239.7 123.3h0M239.8 126.7h0M239.8 129.5h0M239.9 130.4h0M239.9 140.9h0M240 127.3h0M240 120.2h0M240.1 135.1h0M240.1 132.8h0M240.2 125h0M240.2 106.4h0M240.3 128.2h0M240.3 152.4h0M240.4 110.8h0M240.4 167.9h0M240.5 107.2h0M240.5 111.2h0M240.6 144.4h0M240.6 133.1h0M240.7 156.1h0M240.7 127.1h0M240.8 156.5h0M240.8 162h0M240.9 127.3h0M240.9 145.7h0M240.9 131.8h0M241 136.9h0M241 148.7h0M241.1 126.8h0M241.1 153.4h0M241.2 123.6h0M241.2 145.6h0M241.3 112.8h0M241.3 141.7h0M241.4 117.5h0M241.5 134.6h0M241.6 121h0M241.6 160h0M241.7 126.9h0M241.7 165.4h0M241.8 147h0M241.8 139.3h0M241.9 155.3h0M241.9 132.6h0M242 125.9h0M242 134.2h0M242.1 132.4h0M242.2 126.9h0M242.3 153h0M242.3 169.2h0M242.4 158.1h0M242.4 118.3h0M242.5 121.4h0M242.5 172.9h0M242.6 178.6h0M242.6 131.9h0M242.7 181h0M242.7 143.3h0M242.8 169h0M242.8 132.9h0M242.9 126.9h0M242.9 163.9h0M243 127.7h0M243.1 139.6h0M243.1 155.7h0M243.2 154.2h0M243.2 141.3h0M243.3 137.1h0M243.4 164.4h0M243.4 164.9h0M243.5 138.2h0M243.6 117.6h0M243.6 123h0M243.7 117h0M243.7 113.1h0M243.8 116.9h0M243.9 145.5h0M243.9 120h0M244 117.6h0M244 123.8h0M244 139h0M244.1 123h0M244.1 114.9h0M244.2 122.2h0M244.2 130.3h0M244.3 145h0M244.3 136.1h0M244.4 101.2h0M244.4 128.4h0M244.5 113.7h0M244.5 129.1h0M244.6 142.1h0M244.6 110.8h0M244.7 122.5h0M244.7 113h0M244.8 130h0M244.8 142.2h0M244.9 110h0M244.9 135.2h0M245 126.6h0M245 125.5h0M245.1 117.4h0M245.1 122.3h0M245.2 108.3h0M245.2 130.9h0M245.3 112.5h0M245.3 104h0M245.4 130.7h0M245.4 134.2h0M245.5 127.5h0M245.5 106.2h0"/><use href="#real" stroke="#000"/><path stroke="#f21414" d="M48.4 130h0M48.7 128.2h0M49.4 119.4h0M54.4 145.1h0M55.5 146.9h0M58.1 118.7h0M62 125.4h0M62.7 173.1h0M64.7 141.6h0M64.8 104.7h0M65.8 158.6h0M69 153.8h0M70.4 140.7h0M73.4 143.6h0M75.2 155.1h0M75.4 117.9h0M76.3 157.6h0M77.5 165.7h0M77.8 138.3h0M79.9 113.4h0M82.1 112.6h0M82.7 154.9h0M83.3 146.5h0M83.6 110h0M85 136.3h0M85.8 141h0M89.7 103.8h0M90.5 161.6h0M92.4 125.9h0M93.5 92.1h0M93.7 128.5h0M94.1 132.1h0M95.1 131.9h0M95.3 140.3h0M96.9 167.8h0M97 138.5h0M98.6 150.3h0M100.3 150.5h0M101.4 129.5h0M101.9 104.6h0M102.1 115.4h0M105 136.6h0M110.5 117.6h0M111.7 122.7h0M114.4 158.9h0M114.9 142h0M115.6 133.4h0M117.2 117.4h0M117.4 124.6h0M117.6 156.4h0M119.1 143.3h0M119.5 134.1h0M120 126.9h0M121.4 127.9h0M122.4 137h0M122.5 111.1h0M125 144.5h0M125.3 112.9h0M128.7 120.3h0M130.3 140.6h0M131.9 138.5h0M132 130.9h0M132.9 128.1h0M134.1 117.3h0M134.6 135.5h0M135.8 137.7h0M136.6 119.1h0M136.9 134.9h0M137.9 115.6h0M139.4 119.5h0M140.6 105.2h0M142 100.1h0M142.5 168.3h0M144.9 116.7h0M145.9 156.9h0M148.6 134.3h0M149.7 148.7h0M150.3 108.1h0M151 109.7h0M151.2 136.8h0M151.6 147.6h0M152 134.8h0M153.7 149.7h0M154 143h0M154.7 111.2h0M154.8 143.4h0M155.5 137.4h0M156.7 138.3h0M158.2 144.7h0M160.3 104.4h0M160.8 152.7h0M161 123.5h0M162 137.6h0M162.4 131.3h0M164.5 110.1h0M165.7 117.5h0M166.3 127.6h0M166.6 141.2h0M167.7 131h0M167.8 126.6h0M168.4 143h0M169 163.7h0M169.4 140.4h0M170 148.9h0M170.2 155.8h0M174 150.4h0M174.2 108.3h0M174.9 119.3h0M177.3 154h0M177.6 122.1h0M180 70.1h0M180.4 150.8h0M183.5 150.1h0M183.9 118.2h0M184.3 151.8h0M185.1 149.5h0M185.6 105.2h0M186.8 126h0M188 119.9h0M189.7 110.9h0M191.1 158h0M192.4 98.2h0M193 112.8h0M194.8 117.7h0M196.7 130.8h0M197.7 135.8h0M197.8 130.2h0M198 134.8h0M198.6 135.7h0M199 124.6h0M202.2 131.4h0M202.8 132h0M203 131.1h0M203.4 135.2h0M203.7 132.5h0M204.9 121.3h0M206.1 132.3h0M208.7 133.6h0M209.3 89.1h0M210.5 97.3h0M211 120.2h0M211.5 144.2h0M211.6 109.5h0M211.7 111.3h0M213.6 99.2h0M214.1 125.2h0M214.9 123.5h0M216.8 106.9h0M219.2 129.1h0M219.6 119h0M220.9 121.2h0M221.6 140.7h0M222.3 145.7h0M222.7 154.4h0M223.1 136.3h0M224.3 108.6h0M224.6 115.5h0M224.7 117.3h0M225.6 127h0M226 131.1h0M226.5 145.4h0M227.6 116.9h0M230.7 143.3h0M231.4 108.1h0M231.8 132.2h0M232.9 113.4h0M233.2 120.2h0M233.4 112.2h0M233.4 130.9h0M235.4 116.5h0M235.9 120.2h0M236 131.7h0M236.9 126.4h0M241.4 122.2h0M241.5 157.2h0M242.1 111.6h0M242.2 121.5h0M242.4 133.1h0M243 113.8h0M243.3 118h0M243.5 128.1h0M243.8 125.9h0"/></g><g clip-path="none"><path d="M250.50 66.00 C250.65 67.33 251.17 71.00 251.40 74.00 C251.63 77.00 251.23 79.55 251.90 84.00 C252.57 88.45 254.05 96.37 255.40 100.70 C256.75 105.03 258.52 107.73 260.00 110.00 C261.48 112.27 263.05 112.68 264.30 114.30 C265.55 115.92 266.33 117.53 267.50 119.70 C268.67 121.87 270.48 125.32 271.30 127.30 C272.12 129.28 272.40 130.17 272.40 131.60 C272.40 133.03 271.83 134.10 271.30 135.90 C270.77 137.70 270.00 140.42 269.20 142.40 C268.40 144.38 267.42 146.20 266.50 147.80 C265.58 149.40 264.78 150.60 263.70 152.00 C262.62 153.40 261.30 154.28 260.00 156.20 C258.70 158.12 257.02 160.73 255.90 163.50 C254.78 166.27 254.08 169.52 253.30 172.80 C252.52 176.08 251.67 179.67 251.20 183.20 C250.73 186.73 250.62 192.20 250.50 194.00 Z" fill="rgba(255,0,0,0.16)" stroke="none"/><path d="M250.50 66.00 C250.65 67.33 251.17 71.00 251.40 74.00 C251.63 77.00 251.23 79.55 251.90 84.00 C252.57 88.45 254.05 96.37 255.40 100.70 C256.75 105.03 258.52 107.73 260.00 110.00 C261.48 112.27 263.05 112.68 264.30 114.30 C265.55 115.92 266.33 117.53 267.50 119.70 C268.67 121.87 270.48 125.32 271.30 127.30 C272.12 129.28 272.40 130.17 272.40 131.60 C272.40 133.03 271.83 134.10 271.30 135.90 C270.77 137.70 270.00 140.42 269.20 142.40 C268.40 144.38 267.42 146.20 266.50 147.80 C265.58 149.40 264.78 150.60 263.70 152.00 C262.62 153.40 261.30 154.28 260.00 156.20 C258.70 158.12 257.02 160.73 255.90 163.50 C254.78 166.27 254.08 169.52 253.30 172.80 C252.52 176.08 251.67 179.67 251.20 183.20 C250.73 186.73 250.62 192.20 250.50 194.00" fill="none" stroke="#dc2828" stroke-width="1.1"/><path d="M250.50 80.00 C250.55 82.15 250.55 89.57 250.80 92.90 C251.05 96.23 251.23 97.62 252.00 100.00 C252.77 102.38 254.52 105.53 255.40 107.20 C256.28 108.87 256.35 109.08 257.30 110.00 C258.25 110.92 259.75 111.62 261.10 112.70 C262.45 113.78 263.97 115.33 265.40 116.50 C266.83 117.67 268.27 118.80 269.70 119.70 C271.13 120.60 272.83 121.00 274.00 121.90 C275.17 122.80 275.98 123.85 276.70 125.10 C277.42 126.35 277.70 127.68 278.30 129.40 C278.90 131.12 280.20 133.87 280.30 135.40 C280.40 136.93 279.58 137.62 278.90 138.60 C278.22 139.58 277.02 140.13 276.20 141.30 C275.38 142.47 275.08 144.43 274.00 145.60 C272.92 146.77 271.32 147.40 269.70 148.30 C268.08 149.20 266.10 150.00 264.30 151.00 C262.50 152.00 260.70 153.22 258.90 154.30 C257.10 155.38 254.87 156.48 253.50 157.50 C252.13 158.52 251.17 159.92 250.70 160.40 Z" fill="rgba(190,190,190,0.6)" stroke="none"/><path d="M250.50 80.00 C250.55 82.15 250.55 89.57 250.80 92.90 C251.05 96.23 251.23 97.62 252.00 100.00 C252.77 102.38 254.52 105.53 255.40 107.20 C256.28 108.87 256.35 109.08 257.30 110.00 C258.25 110.92 259.75 111.62 261.10 112.70 C262.45 113.78 263.97 115.33 265.40 116.50 C266.83 117.67 268.27 118.80 269.70 119.70 C271.13 120.60 272.83 121.00 274.00 121.90 C275.17 122.80 275.98 123.85 276.70 125.10 C277.42 126.35 277.70 127.68 278.30 129.40 C278.90 131.12 280.20 133.87 280.30 135.40 C280.40 136.93 279.58 137.62 278.90 138.60 C278.22 139.58 277.02 140.13 276.20 141.30 C275.38 142.47 275.08 144.43 274.00 145.60 C272.92 146.77 271.32 147.40 269.70 148.30 C268.08 149.20 266.10 150.00 264.30 151.00 C262.50 152.00 260.70 153.22 258.90 154.30 C257.10 155.38 254.87 156.48 253.50 157.50 C252.13 158.52 251.17 159.92 250.70 160.40" fill="none" stroke="#222" stroke-width="1.15"/></g><path d="M42.50 36.00 H302.00 V195.20" fill="none" stroke="#5a5a5a" stroke-width="1.2"/><path d="M41.90 195.20 H302.60" fill="none" stroke="#333" stroke-width="1.15"/><path d="M250.50 36.00 V195.80 M42.50 35.40 V195.80" fill="none" stroke="#1e1e1e" stroke-width="1.2"/><path d="M39.60 175.36H42.50M39.60 135.58H42.50M39.60 95.80H42.50M39.60 56.02H42.50M47.20 195.20V197.80M144.05 195.20V197.80M240.90 195.20V197.80" stroke="#333" stroke-width="1.1" fill="none"/><text x="38.3" y="179.36" font-size="11.3" font-weight="bold" text-anchor="end" fill="#111" stroke="#111" stroke-width="0.3" font-family="Liberation Sans, sans-serif">0</text><text x="38.3" y="139.58" font-size="11.3" font-weight="bold" text-anchor="end" fill="#111" stroke="#111" stroke-width="0.3" font-family="Liberation Sans, sans-serif">2</text><text x="38.3" y="99.80" font-size="11.3" font-weight="bold" text-anchor="end" fill="#111" stroke="#111" stroke-width="0.3" font-family="Liberation Sans, sans-serif">4</text><text x="38.3" y="60.02" font-size="11.3" font-weight="bold" text-anchor="end" fill="#111" stroke="#111" stroke-width="0.3" font-family="Liberation Sans, sans-serif">6</text><text x="47.20" y="208.6" font-size="11.3" font-weight="bold" text-anchor="middle" fill="#111" stroke="#111" stroke-width="0.3" font-family="Liberation Sans, sans-serif">0</text><text x="144.05" y="208.6" font-size="11.3" font-weight="bold" text-anchor="middle" fill="#111" stroke="#111" stroke-width="0.3" font-family="Liberation Sans, sans-serif">2000</text><text x="240.90" y="208.6" font-size="11.3" font-weight="bold" text-anchor="middle" fill="#111" stroke="#111" stroke-width="0.3" font-family="Liberation Sans, sans-serif">4000</text><text x="250.70" y="32.9" font-size="11.3" font-weight="bold" text-anchor="middle" fill="#111" stroke="#111" stroke-width="0.3" font-family="Liberation Sans, sans-serif">0</text><text x="277.00" y="32.9" font-size="11.3" font-weight="bold" text-anchor="middle" fill="#111" stroke="#111" stroke-width="0.3" font-family="Liberation Sans, sans-serif">800</text><text x="303.10" y="32.9" font-size="11.3" font-weight="bold" text-anchor="middle" fill="#111" stroke="#111" stroke-width="0.3" font-family="Liberation Sans, sans-serif">1600</text><text x="146" y="223.5" font-size="13.5" font-weight="bold" text-anchor="middle" fill="#111" stroke="#111" stroke-width="0.3" font-family="Liberation Sans, sans-serif">Input X (decimal)</text><text transform="translate(24.0,116.3) rotate(-90)" x="0" y="0" font-size="13" font-weight="bold" text-anchor="middle" fill="#111" stroke="#111" stroke-width="0.3" font-family="Liberation Sans, sans-serif">Output Y</text><text transform="translate(312.6,115.5) rotate(90)" x="0" y="0" font-size="13" font-weight="bold" text-anchor="middle" fill="#111" stroke="#111" stroke-width="0.3" font-family="Liberation Sans, sans-serif">Density</text><circle cx="61.3" cy="50.9" r="1.45" fill="#000"/><circle cx="61.2" cy="65.6" r="1.4" fill="#f21414"/><text x="73.4" y="54.6" font-size="12.5" font-weight="bold" fill="#111" stroke="#111" stroke-width="0.3" font-family="Liberation Sans, sans-serif">Real</text><text x="73.4" y="69.9" font-size="12.6" font-weight="bold" fill="#111" stroke="#111" stroke-width="0.3" font-family="Liberation Sans, sans-serif">Predicted</text></g>
<g transform="translate(352.5,0)"><text x="20.15" y="19.4" font-size="18.9" text-anchor="middle" fill="#1a1a1a" font-family="Liberation Sans, sans-serif">(b)</text><text x="41.6" y="33.6" font-size="12.3" font-weight="bold" fill="#a8121c" stroke="#a8121c" stroke-width="0.3" font-family="Liberation Sans, sans-serif">RMSE:0.68</text><g clip-path="url(#cp)" fill="none" stroke-linecap="round" stroke-width="2.1"><path stroke="#f21414" d="M47.2 136.5h0M47.2 140h0M47.3 131.7h0M47.3 140h0M47.4 131.5h0M47.4 132.3h0M47.5 126.7h0M47.5 130.8h0M47.6 130.7h0M47.6 152.2h0M47.7 142.3h0M47.7 118.6h0M47.8 130.9h0M47.8 141.7h0M47.9 137.9h0M47.9 120.6h0M48 130.5h0M48 133.1h0M48.1 138.2h0M48.1 137.3h0M48.2 121.6h0M48.2 147.5h0M48.3 135.5h0M48.3 151.7h0M48.4 130.2h0M48.5 129.5h0M48.5 143.9h0M48.6 142.5h0M48.6 130.4h0M48.7 132.8h0M48.7 137.7h0M48.8 138.4h0M48.8 140.3h0M48.9 144.7h0M48.9 139.2h0M49 150.2h0M49 129h0M49.1 134.4h0M49.1 129.9h0M49.2 136.7h0M49.2 154.2h0M49.3 133.5h0M49.3 128.7h0M49.4 150.9h0M49.5 129.3h0M49.5 145.7h0M49.6 140.1h0M49.6 148.3h0M49.7 138.1h0M49.7 143.9h0M49.8 128.5h0M49.8 136.6h0M49.9 156.7h0M49.9 149.8h0M50 137.5h0M50 136.7h0M50.1 150h0M50.1 140.1h0M50.2 131.8h0M50.2 136h0M50.3 149.9h0M50.3 136.9h0M50.3 132h0M50.4 144.9h0M50.4 149.5h0M50.5 130.6h0M50.5 132.6h0M50.6 140.9h0M50.6 143.9h0M50.7 130.9h0M50.7 135.8h0M50.8 130.7h0M50.8 139.5h0M50.9 148h0M50.9 143.2h0M51 132h0M51 139.2h0M51.1 143.6h0M51.1 143h0M51.2 126.8h0M51.2 132.1h0M51.3 133.8h0M51.3 142.4h0M51.4 152.2h0M51.4 133.1h0M51.5 153.2h0M51.5 126.9h0M51.6 123.9h0M51.6 128.7h0M51.7 140.9h0M51.7 133.2h0M51.8 142.5h0M51.8 144.3h0M51.8 138.7h0M51.9 133.2h0M51.9 115h0M52 134.5h0M52 131.3h0M52.1 144.1h0M52.1 132.4h0M52.2 127h0M52.2 128.2h0M52.3 132.7h0M52.3 142.3h0M52.4 121.9h0M52.4 131.1h0M52.5 121.8h0M52.5 129.2h0M52.6 125h0M52.6 148.7h0M52.7 144.2h0M52.7 134.2h0M52.8 131.6h0M52.8 144.3h0M52.9 151h0M52.9 125.6h0M53 143.8h0M53 126.6h0M53.1 121.3h0M53.1 140.7h0M53.2 146.8h0M53.2 138.4h0M53.3 127.5h0M53.3 148.6h0M53.3 134.5h0M53.4 147.2h0M53.4 147.7h0M53.5 146.6h0M53.5 139.7h0M53.6 147.2h0M53.6 137h0M53.7 147.1h0M53.7 145.4h0M53.8 149.3h0M53.8 132.9h0M53.9 144.2h0M53.9 136.7h0M54 130.4h0M54 135.3h0M54.1 138.4h0M54.1 140.1h0M54.2 144.9h0M54.2 130.6h0M54.3 135h0M54.3 150.9h0M54.4 141.3h0M54.5 131.4h0M54.5 132.5h0M54.6 127.6h0M54.6 149.4h0M54.7 138.6h0M54.7 140.1h0M54.8 137.1h0M54.8 130.3h0M54.9 139h0M54.9 147.9h0M54.9 141.7h0M55 141.9h0M55 120.2h0M55.1 129.6h0M55.1 128.6h0M55.2 124.8h0M55.2 136.6h0M55.3 129.9h0M55.3 132.2h0M55.4 134.4h0M55.4 147.3h0M55.5 135.9h0M55.6 137.7h0M55.6 130.3h0M55.7 133.3h0M55.7 125.8h0M55.8 140.8h0M55.8 152.5h0M55.9 147.5h0M55.9 136.4h0M56 132.7h0M56 122.2h0M56.1 141h0M56.1 135.3h0M56.2 145.2h0M56.2 133.2h0M56.3 127.5h0M56.3 128.2h0M56.4 143h0M56.4 146.7h0M56.4 145.2h0M56.5 134.3h0M56.5 149.3h0M56.6 124.6h0M56.6 127.4h0M56.7 127.5h0M56.7 137.5h0M56.8 130.7h0M56.8 120.8h0M56.9 133.5h0M56.9 127.1h0M57 131.5h0M57 121.5h0M57.1 136.2h0M57.1 152.1h0M57.2 128.8h0M57.2 137.8h0M57.3 147.4h0M57.3 141h0M57.4 143h0M57.4 133.7h0M57.5 133.3h0M57.5 146h0M57.6 144.9h0M57.6 127h0M57.7 145.7h0M57.7 130.5h0M57.8 140.6h0M57.8 146.8h0M57.9 136.4h0M57.9 141.2h0M58 158.8h0M58 138.4h0M58 148.7h0M58.1 157.9h0M58.2 126.7h0M58.2 137.1h0M58.3 143.9h0M58.3 132.5h0M58.4 137h0M58.4 140.8h0M58.5 145.1h0M58.5 138.7h0M58.6 134.8h0M58.6 130.1h0M58.7 138.9h0M58.7 136.1h0M58.8 131.9h0M58.8 128.6h0M58.9 132.4h0M58.9 140.7h0M59 134h0M59 136.9h0M59.1 126.2h0M59.1 143.6h0M59.2 132h0M59.2 133.6h0M59.3 138.2h0M59.3 136.2h0M59.4 143h0M59.4 148.8h0M59.5 125.6h0M59.5 130h0M59.5 141.4h0M59.6 126h0M59.6 129.7h0M59.7 143.4h0M59.7 131.4h0M59.8 136h0M59.8 140.7h0M59.9 138h0M59.9 133.7h0M60 130.5h0M60 133.1h0M60.1 137.5h0M60.1 145.7h0M60.2 140.7h0M60.2 130.4h0M60.3 136.5h0M60.3 137.8h0M60.4 139.4h0M60.4 134.5h0M60.5 144.9h0M60.5 139.2h0M60.6 147h0M60.6 122h0M60.7 132.1h0M60.7 140.8h0M60.8 134.7h0M60.8 129.1h0M60.9 119.6h0M60.9 127.5h0M61 143.7h0M61 129.5h0M61 124.9h0M61.1 130.8h0M61.1 145.5h0M61.2 143.7h0M61.2 117.2h0M61.3 128.4h0M61.3 139.1h0M61.4 140.6h0M61.4 145.2h0M61.5 135.5h0M61.5 137.6h0M61.6 139.4h0M61.6 121.2h0M61.7 120.1h0M61.7 136.8h0M61.8 151.9h0M61.8 146.1h0M61.9 130.7h0M61.9 123.3h0M62 142.1h0M62.1 132.3h0M62.1 125.5h0M62.2 130.6h0M62.2 134.7h0M62.3 143h0M62.3 129.1h0M62.4 132.4h0M62.4 143.4h0M62.5 147.2h0M62.5 118.1h0M62.6 147.8h0M62.6 129.4h0M62.6 137.9h0M62.7 131.9h0M62.8 119.3h0M62.8 126.7h0M62.9 134.7h0M62.9 120.4h0M63 140.1h0M63 122.2h0M63.1 120.6h0M63.1 128.2h0M63.2 126.9h0M63.2 123h0M63.3 115.8h0M63.3 120.6h0M63.4 132h0M63.4 131.2h0M63.5 133.5h0M63.5 138.6h0M63.6 133.5h0M63.6 135.2h0M63.7 136.7h0M63.7 124.6h0M63.8 125.3h0M63.8 124.3h0M63.9 122.8h0M63.9 123.4h0M64 126.5h0M64 122.5h0M64.1 138.4h0M64.1 127.1h0M64.1 130.4h0M64.2 122h0M64.2 129h0M64.3 136.3h0M64.3 118.8h0M64.4 130.2h0M64.4 123.3h0M64.5 124.1h0M64.5 124.7h0M64.6 123.3h0M64.6 136.3h0M64.7 138.8h0M64.8 142.1h0M64.9 126.1h0M64.9 131.9h0M65 139h0M65 145h0M65.1 120.7h0M65.1 127.3h0M65.2 139.5h0M65.2 139.4h0M65.3 122.8h0M65.3 130.3h0M65.4 133.8h0M65.4 126.7h0M65.5 129.9h0M65.5 140.6h0M65.6 120.4h0M65.6 124.5h0M65.6 130.3h0M65.7 146.2h0M65.7 125.2h0M65.8 127h0M65.9 127h0M65.9 143.1h0M66 128.5h0M66 135.3h0M66.1 139.6h0M66.1 127.5h0M66.2 135h0M66.2 125.2h0M66.3 130.7h0M66.3 143.2h0M66.4 131.5h0M66.4 140h0M66.5 130.3h0M66.5 134.1h0M66.6 124.8h0M66.6 134.3h0M66.7 142.2h0M66.7 135.9h0M66.8 138.7h0M66.8 151.1h0M66.9 141h0M66.9 124.4h0M67 146.3h0M67 131.5h0M67.1 138.8h0M67.1 127.2h0M67.2 130.3h0M67.2 133.6h0M67.2 144.2h0M67.3 140.9h0M67.3 136h0M67.4 117.2h0M67.4 117.7h0M67.5 140.8h0M67.5 127.4h0M67.6 141.2h0M67.6 131.5h0M67.7 118.7h0M67.7 122.2h0M67.8 126.6h0M67.8 144.3h0M67.9 137.1h0M67.9 137.6h0M68 114h0M68 129h0M68.1 119.7h0M68.1 126.1h0M68.2 131.1h0M68.2 135.9h0M68.3 121.7h0M68.3 133.3h0M68.4 128.3h0M68.4 131.8h0M68.5 138.5h0M68.5 125.9h0M68.6 138.9h0M68.6 129.9h0M68.7 139.1h0M68.7 145.8h0M68.7 122.6h0M68.8 123.1h0M68.8 129.1h0M68.9 144h0M68.9 141.3h0M69 128.8h0M69.1 110.2h0M69.1 141.1h0M69.2 136.2h0M69.2 122.2h0M69.3 122.7h0M69.3 125.8h0M69.4 124.1h0M69.4 123h0M69.5 127.9h0M69.5 133.3h0M69.6 132.3h0M69.6 128.9h0M69.7 127.8h0M69.7 123.5h0M69.8 127.7h0M69.8 125.3h0M69.9 135.4h0M69.9 137.4h0M70 137.4h0M70 133.5h0M70.1 142.7h0M70.1 136.7h0M70.2 128.7h0M70.2 137.3h0M70.3 142.1h0M70.3 144.5h0M70.3 141.1h0M70.4 121.4h0M70.5 123.4h0M70.5 121.5h0M70.6 137h0M70.6 140.8h0M70.7 138.5h0M70.7 142.7h0M70.8 131.1h0M70.8 139.8h0M70.9 127.3h0M70.9 141.7h0M71 134.2h0M71 155.8h0M71.1 139.7h0M71.1 136.9h0M71.2 137.4h0M71.2 141.5h0M71.3 135.9h0M71.3 135h0M71.4 136.7h0M71.4 126.6h0M71.5 141.6h0M71.5 132h0M71.6 126.2h0M71.6 128.7h0M71.7 133h0M71.7 134.4h0M71.8 129.8h0M71.8 130.1h0M71.8 145.3h0M71.9 141h0M71.9 127.6h0M72 136.7h0M72 149.1h0M72.1 138.9h0M72.1 132.4h0M72.2 134.4h0M72.2 139h0M72.3 141.1h0M72.3 142.5h0M72.4 148.2h0M72.4 135.5h0M72.5 136.3h0M72.5 145.1h0M72.6 144.1h0M72.6 142.8h0M72.7 140.4h0M72.7 125h0M72.8 138.4h0M72.8 134.9h0M72.9 138.1h0M72.9 137.8h0M73 138.4h0M73 150.7h0M73.1 128h0M73.1 131.5h0M73.2 133.4h0M73.2 134.2h0M73.3 129.1h0M73.3 141.3h0M73.3 131.4h0M73.4 117.4h0M73.5 132.4h0M73.5 147.1h0M73.6 153.6h0M73.6 139.8h0M73.7 131h0M73.7 138.9h0M73.8 133h0M73.8 131.1h0M73.9 127.9h0M73.9 124.4h0M74 130.9h0M74 136.9h0M74.1 135.6h0M74.1 139.9h0M74.2 113.8h0M74.2 126.9h0M74.3 128.2h0M74.3 145.4h0M74.4 144.7h0M74.4 131.7h0M74.5 126.6h0M74.5 126.8h0M74.6 121.6h0M74.6 128h0M74.7 133.1h0M74.7 133h0M74.8 125.5h0M74.8 123h0M74.9 121.7h0M74.9 126.2h0M74.9 117.8h0M75 137h0M75 129.4h0M75.1 138.6h0M75.1 134.4h0M75.2 118.5h0M75.3 131.6h0M75.3 131.7h0M75.4 126.2h0M75.5 137.5h0M75.5 136.6h0M75.6 138.5h0M75.6 141.2h0M75.7 133.2h0M75.7 137.3h0M75.8 137.3h0M75.8 141.5h0M75.9 143.5h0M75.9 141.8h0M76 141.1h0M76 138.9h0M76.1 141.8h0M76.1 138.8h0M76.2 118h0M76.2 139.2h0M76.3 108.6h0M76.4 119.6h0M76.4 123.6h0M76.4 130.2h0M76.5 113.1h0M76.5 128.8h0M76.6 127.5h0M76.6 143.4h0M76.7 127.4h0M76.7 125.6h0M76.8 143.2h0M76.8 126.1h0M76.9 126.1h0M76.9 126.9h0M77 140.1h0M77 133.6h0M77.1 121.5h0M77.1 124.9h0M77.2 138.7h0M77.2 126h0M77.3 142.8h0M77.3 123.8h0M77.4 119.6h0M77.4 112h0M77.5 131.8h0M77.6 128.5h0M77.6 134.6h0M77.7 135.5h0M77.7 124.8h0M77.8 128.8h0M77.9 132.7h0M77.9 133.1h0M77.9 137.1h0M78 132.8h0M78 122.5h0M78.1 120.3h0M78.1 117.7h0M78.2 145h0M78.2 142.4h0M78.3 126.2h0M78.3 127.7h0M78.4 138h0M78.4 126.5h0M78.5 131.6h0M78.5 144.4h0M78.6 129h0M78.6 131h0M78.7 131.8h0M78.7 132h0M78.8 148.6h0M78.8 127.7h0M78.9 134.4h0M78.9 124.7h0M79 132.7h0M79 132.2h0M79.1 140.5h0M79.1 145.6h0M79.2 131.8h0M79.2 143.1h0M79.3 132.2h0M79.3 135.8h0M79.4 150.7h0M79.4 129.1h0M79.5 125.2h0M79.5 138.3h0M79.5 137.8h0M79.6 128.4h0M79.6 134.8h0M79.7 130.8h0M79.7 140.5h0M79.8 135.8h0M79.8 134.7h0M79.9 122.5h0M80 138.5h0M80 146h0M80.1 142.3h0M80.1 139.6h0M80.2 127.8h0M80.2 121.1h0M80.3 130.4h0M80.3 123h0M80.4 137.6h0M80.4 124.6h0M80.5 131h0M80.5 131.3h0M80.6 135.3h0M80.6 132.1h0M80.7 122.4h0M80.7 133.4h0M80.8 127h0M80.8 132.3h0M80.9 132.6h0M80.9 128.8h0M81 145.9h0M81 126.9h0M81 126h0M81.1 137.7h0M81.1 129.4h0M81.2 126.5h0M81.2 137.4h0M81.3 128.3h0M81.3 123.4h0M81.4 124.1h0M81.4 128.4h0M81.5 118.4h0M81.5 122.5h0M81.6 134.6h0M81.6 129.8h0M81.7 119.4h0M81.7 125.4h0M81.8 129.8h0M81.8 122.7h0M81.9 129.4h0M81.9 135.1h0M82 135.3h0M82 133.1h0M82.1 133.4h0M82.2 139.4h0M82.2 135.1h0M82.3 136.2h0M82.3 129.3h0M82.4 132.6h0M82.4 135.3h0M82.5 134.3h0M82.5 132.9h0M82.6 141.1h0M82.6 142.1h0M82.6 137.3h0M82.7 134.4h0M82.8 150.8h0M82.8 142.7h0M82.9 140.3h0M82.9 148.8h0M83 136h0M83 129h0M83.1 143h0M83.1 141.9h0M83.2 128.7h0M83.2 141.3h0M83.3 137.8h0M83.4 135.9h0M83.4 131.7h0M83.5 132.3h0M83.5 145.5h0M83.6 129.3h0M83.7 124.4h0M83.7 130h0M83.8 139.7h0M83.8 127.3h0M83.9 139.3h0M83.9 141h0M84 136.5h0M84 136.7h0M84.1 138.9h0M84.1 134.8h0M84.1 141.4h0M84.2 140.9h0M84.2 121h0M84.3 144.5h0M84.3 124.8h0M84.4 132.1h0M84.4 145.3h0M84.5 141.5h0M84.5 150.1h0M84.6 141.8h0M84.6 127.8h0M84.7 156.2h0M84.7 133.9h0M84.8 138.1h0M84.8 147.5h0M84.9 141.6h0M84.9 126.5h0M85 141h0M85.1 143.2h0M85.1 138.7h0M85.2 134h0M85.2 132h0M85.3 147.2h0M85.3 132.5h0M85.4 130h0M85.4 141.9h0M85.5 132.1h0M85.5 142.9h0M85.6 131h0M85.6 133.7h0M85.6 136.7h0M85.7 128.9h0M85.7 128.2h0M85.8 134.7h0M85.9 130.1h0M85.9 137.2h0M86 119.2h0M86 153.5h0M86.1 127.1h0M86.1 124.7h0M86.2 135.1h0M86.2 148.9h0M86.3 128.8h0M86.3 133h0M86.4 127.7h0M86.4 122.9h0M86.5 132.9h0M86.5 134.8h0M86.6 127.3h0M86.6 137.1h0M86.7 136.8h0M86.7 130.6h0M86.8 131.1h0M86.8 126.3h0M86.9 122.6h0M86.9 131h0M87 137.8h0M87 117.8h0M87.1 117h0M87.1 124.5h0M87.2 145h0M87.2 146.7h0M87.2 131.6h0M87.3 145.4h0M87.3 129.2h0M87.4 132.9h0M87.4 130.5h0M87.5 134.7h0M87.5 139.3h0M87.6 146.5h0M87.6 151.4h0M87.7 125.5h0M87.7 132h0M87.8 152.6h0M87.8 136.1h0M87.9 141.9h0M87.9 133.4h0M88 133.2h0M88 122.3h0M88.1 148.6h0M88.1 143.5h0M88.2 126.6h0M88.2 141.5h0M88.3 130.2h0M88.3 128.4h0M88.4 139.6h0M88.4 139.3h0M88.5 132.2h0M88.5 148.4h0M88.6 153h0M88.6 135.8h0M88.7 147.1h0M88.7 140.1h0M88.7 130.4h0M88.8 131.2h0M88.8 124.5h0M88.9 134h0M88.9 135.7h0M89 144.3h0M89 142.1h0M89.1 157.2h0M89.1 123.8h0M89.2 140h0M89.2 142h0M89.3 148.3h0M89.3 142.6h0M89.4 140.3h0M89.4 146.2h0M89.5 134.3h0M89.5 138.7h0M89.6 139.1h0M89.6 152.4h0M89.7 127.9h0M89.8 140h0M89.8 149.6h0M89.9 144.7h0M89.9 123.9h0M90 127.2h0M90 132.7h0M90.1 126.3h0M90.1 138.1h0M90.2 127.8h0M90.2 130.6h0M90.2 138.6h0M90.3 138.6h0M90.3 133.3h0M90.4 145.5h0M90.4 124.9h0M90.5 145.2h0M90.6 142.3h0M90.6 147.8h0M90.7 141.2h0M90.7 131.4h0M90.8 144.5h0M90.8 137.9h0M90.9 130.4h0M90.9 130.1h0M91 129.2h0M91 133.5h0M91.1 117.9h0M91.1 132.8h0M91.2 122.7h0M91.2 137.4h0M91.3 125.6h0M91.3 117.7h0M91.4 125.9h0M91.4 148.5h0M91.5 124.3h0M91.5 125.5h0M91.6 135.4h0M91.6 123.5h0M91.7 123.5h0M91.7 135.2h0M91.8 126.3h0M91.8 128.4h0M91.8 125.5h0M91.9 128.3h0M91.9 144.3h0M92 128.1h0M92 142h0M92.1 142.2h0M92.1 121.8h0M92.2 133.8h0M92.2 135.1h0M92.3 155.1h0M92.3 138.8h0M92.4 132.1h0M92.5 142.6h0M92.5 134.5h0M92.6 140.6h0M92.6 143.8h0M92.7 146.7h0M92.7 143.3h0M92.8 134.1h0M92.8 125.6h0M92.9 137.7h0M92.9 141.5h0M93 134.7h0M93 146.3h0M93.1 140.3h0M93.1 140.3h0M93.2 133.2h0M93.2 135h0M93.3 134.4h0M93.3 141.2h0M93.3 124.2h0M93.4 134.7h0M93.4 140.5h0M93.5 132h0M93.6 128.2h0M93.6 138.4h0M93.7 131.2h0M93.8 123.8h0M93.8 127.4h0M93.9 135.2h0M93.9 138.1h0M94 135.1h0M94 126.7h0M94.1 126.3h0M94.2 125.1h0M94.2 141.5h0M94.3 126.1h0M94.3 149.9h0M94.4 141.4h0M94.4 137.4h0M94.5 136.1h0M94.5 132.1h0M94.6 110.1h0M94.6 135.5h0M94.7 120.9h0M94.7 140.6h0M94.8 125.9h0M94.8 139.9h0M94.9 125.9h0M94.9 130h0M94.9 126.4h0M95 132.4h0M95 144.1h0M95.1 131h0M95.2 125.8h0M95.2 135.8h0M95.3 133.6h0M95.4 137.9h0M95.4 129.3h0M95.5 131.3h0M95.5 125.8h0M95.6 146.3h0M95.6 134.6h0M95.7 120.9h0M95.7 146.6h0M95.8 134h0M95.8 134.6h0M95.9 138h0M95.9 136.8h0M96 138.2h0M96 118.3h0M96.1 129.9h0M96.1 126.6h0M96.2 138.1h0M96.2 146h0M96.3 127.2h0M96.3 127.9h0M96.4 141.8h0M96.4 143.8h0M96.4 123.6h0M96.5 131.4h0M96.5 137h0M96.6 129.9h0M96.6 123h0M96.7 129.3h0M96.7 127h0M96.8 130.2h0M96.8 138.1h0M96.9 122.8h0M97 154.6h0M97.1 137.2h0M97.1 144.7h0M97.2 139.2h0M97.2 139.7h0M97.3 136.1h0M97.3 133.7h0M97.4 127.3h0M97.4 123.1h0M97.5 134.3h0M97.5 136.9h0M97.6 136h0M97.6 142.9h0M97.7 141.3h0M97.7 138.3h0M97.8 133.9h0M97.8 131.8h0M97.9 144.6h0M97.9 135.8h0M97.9 137.5h0M98 125.8h0M98 132.6h0M98.1 131.7h0M98.1 148.5h0M98.2 147.8h0M98.2 140.6h0M98.3 135.5h0M98.3 151.2h0M98.4 136.5h0M98.4 137.5h0M98.5 135.5h0M98.5 127.3h0M98.6 148.4h0M98.7 137.5h0M98.7 145.5h0M98.8 137.8h0M98.8 134.6h0M98.9 153.3h0M98.9 126.6h0M99 127.9h0M99 151.5h0M99.1 144.8h0M99.1 132.5h0M99.2 142.9h0M99.2 136.2h0M99.3 147.1h0M99.3 130.3h0M99.4 150.4h0M99.4 140.9h0M99.5 138h0M99.5 150.5h0M99.5 136.7h0M99.6 137h0M99.6 132.8h0M99.7 149.2h0M99.7 126.6h0M99.8 143.6h0M99.8 144.8h0M99.9 142h0M99.9 131.6h0M100 138.6h0M100 137.4h0M100.1 132h0M100.1 139.1h0M100.2 140.2h0M100.2 140.9h0M100.3 138.7h0M100.4 125.5h0M100.4 134h0M100.5 125.9h0M100.5 127.1h0M100.6 121.7h0M100.6 131.4h0M100.7 135.8h0M100.7 149.7h0M100.8 135.6h0M100.8 130.4h0M100.9 128.8h0M100.9 146.5h0M101 139.9h0M101 140.8h0M101 137.8h0M101.1 128.2h0M101.1 130h0M101.2 124.4h0M101.2 146.4h0M101.3 146.8h0M101.3 133.7h0M101.4 140.7h0M101.5 135.2h0M101.5 127.6h0M101.6 125.9h0M101.6 138.6h0M101.7 131.1h0M101.7 129.7h0M101.8 123.1h0M101.8 129.9h0M101.9 145.7h0M102 134.8h0M102 144.4h0M102.1 125.1h0M102.2 133.4h0M102.2 138.2h0M102.3 132.7h0M102.3 129.4h0M102.4 128.3h0M102.4 118.3h0M102.5 119.3h0M102.5 136.5h0M102.5 124.4h0M102.6 121.3h0M102.6 124h0M102.7 126.4h0M102.7 128.3h0M102.8 131.8h0M102.8 135.4h0M102.9 135.1h0M102.9 126.1h0M103 135.2h0M103 122.9h0M103.1 138.2h0M103.1 123.8h0M103.2 137.8h0M103.2 139.6h0M103.3 135.3h0M103.3 119.8h0M103.4 122.6h0M103.4 141.4h0M103.5 120h0M103.5 133.8h0M103.6 145.3h0M103.6 118.5h0M103.7 133.8h0M103.7 137.5h0M103.8 122.9h0M103.8 122h0M103.9 142.8h0M103.9 124.6h0M104 138.2h0M104 141.6h0M104.1 133.1h0M104.1 131.1h0M104.1 135h0M104.2 140.5h0M104.2 133.5h0M104.3 122.6h0M104.3 135.1h0M104.4 123.4h0M104.4 137.2h0M104.5 132.3h0M104.5 132.6h0M104.6 141.8h0M104.6 121.5h0M104.7 130.5h0M104.7 132.5h0M104.8 133.6h0M104.8 132.1h0M104.9 127.3h0M104.9 124.4h0M105 132.2h0M105.1 136.4h0M105.1 141.5h0M105.2 128.5h0M105.2 143.9h0M105.3 125.7h0M105.3 132.4h0M105.4 142.9h0M105.4 133.4h0M105.5 146.4h0M105.5 142.5h0M105.6 151.3h0M105.6 122.8h0M105.6 137.3h0M105.7 145.4h0M105.7 131.1h0M105.8 142.1h0M105.8 140.2h0M105.9 132.3h0M105.9 123.9h0M106 125.1h0M106 131h0M106.1 138.5h0M106.1 138.3h0M106.2 140.2h0M106.2 133.5h0M106.3 138.9h0M106.3 142.2h0M106.4 128.6h0M106.4 139.5h0M106.5 145.6h0M106.5 123.5h0M106.6 124.3h0M106.6 146.3h0M106.7 134.3h0M106.7 139.3h0M106.8 123.8h0M106.8 134.8h0M106.9 128.5h0M106.9 143.1h0M107 128.3h0M107 112.7h0M107.1 121.4h0M107.1 123.1h0M107.2 121.5h0M107.2 134.1h0M107.2 126.5h0M107.3 128.5h0M107.3 133.8h0M107.4 130.2h0M107.4 119.4h0M107.5 121.2h0M107.5 130.6h0M107.6 121.7h0M107.6 111.4h0M107.7 132.7h0M107.7 130.1h0M107.8 132.6h0M107.8 116.5h0M107.9 132.5h0M107.9 130.2h0M108 139.6h0M108 130.6h0M108.1 125.3h0M108.1 134.9h0M108.2 136.7h0M108.2 137.4h0M108.3 120.7h0M108.3 119.4h0M108.4 104.1h0M108.4 141.8h0M108.5 125.3h0M108.5 143.3h0M108.6 133.5h0M108.6 135.5h0M108.7 132.6h0M108.7 143.4h0M108.7 116.2h0M108.8 125.9h0M108.8 129.7h0M108.9 130.8h0M108.9 133.2h0M109 118.1h0M109 125.3h0M109.1 132.6h0M109.1 119.8h0M109.2 120.4h0M109.2 119.7h0M109.3 129.6h0M109.3 124.8h0M109.4 127h0M109.4 113.6h0M109.5 115.6h0M109.5 112.3h0M109.6 121.9h0M109.6 124h0M109.7 123h0M109.7 142.1h0M109.8 121.9h0M109.8 131.4h0M109.9 125.9h0M109.9 133.4h0M110 125.9h0M110 116.6h0M110.1 124h0M110.1 139.3h0M110.2 131.7h0M110.2 127h0M110.2 125.2h0M110.3 130.3h0M110.3 131.9h0M110.4 123.1h0M110.4 129.4h0M110.5 126h0M110.6 130.1h0M110.6 135.2h0M110.7 140.3h0M110.7 126h0M110.8 139.4h0M110.8 125.3h0M110.9 138.2h0M110.9 127h0M111 131.7h0M111 139.3h0M111.1 146.1h0M111.1 126.7h0M111.2 136.2h0M111.2 125.3h0M111.3 124.7h0M111.3 120.9h0M111.4 131.3h0M111.4 126h0M111.5 137.2h0M111.5 124h0M111.6 124.2h0M111.6 122.5h0M111.7 132.4h0M111.8 136.2h0M111.8 122.5h0M111.8 123.5h0M111.9 119.6h0M111.9 134.5h0M112 119.7h0M112 142.3h0M112.1 123.2h0M112.1 123.6h0M112.2 128.4h0M112.2 119.2h0M112.3 125.7h0M112.3 147.9h0M112.4 126h0M112.4 127.5h0M112.5 133.9h0M112.5 135.8h0M112.6 139.4h0M112.6 129.5h0M112.7 133.7h0M112.7 141.7h0M112.8 130.8h0M112.8 132h0M112.9 143.4h0M112.9 133.9h0M113 136h0M113 135.8h0M113.1 129.2h0M113.1 149.6h0M113.2 123.1h0M113.2 133.8h0M113.3 131.2h0M113.3 145.8h0M113.3 134.7h0M113.4 139.1h0M113.4 126.7h0M113.5 129h0M113.5 136.3h0M113.6 139.4h0M113.6 128.4h0M113.7 137.1h0M113.7 140.6h0M113.8 122.7h0M113.8 130.7h0M113.9 122.4h0M113.9 128.8h0M114 129h0M114 129.8h0M114.1 131.9h0M114.1 132.2h0M114.2 118.9h0M114.2 133.1h0M114.3 128.7h0M114.3 121.5h0M114.4 116.1h0M114.5 133.3h0M114.5 125h0M114.6 126.7h0M114.6 136.1h0M114.7 124.7h0M114.7 136.6h0M114.8 134.4h0M114.8 130.4h0M114.8 113.7h0M114.9 115.6h0M115 149.2h0M115 123.2h0M115.1 127.3h0M115.1 125h0M115.2 127.8h0M115.2 134.6h0M115.3 133.1h0M115.3 134.6h0M115.4 136.2h0M115.4 137.6h0M115.5 118.9h0M115.5 129.8h0M115.6 133.2h0M115.7 131.8h0M115.7 134.9h0M115.8 135.2h0M115.8 136.4h0M115.9 129.9h0M115.9 130.4h0M116 132.3h0M116 146.9h0M116.1 116h0M116.1 133.2h0M116.2 130.9h0M116.2 125.4h0M116.3 125.8h0M116.3 149.7h0M116.4 134.9h0M116.4 129.3h0M116.4 135.4h0M116.5 120.8h0M116.5 124.6h0M116.6 140.4h0M116.6 127.6h0M116.7 121h0M116.7 130.9h0M116.8 144.6h0M116.8 127.2h0M116.9 134.2h0M116.9 144.7h0M117 136.9h0M117 132.8h0M117.1 131h0M117.1 124.8h0M117.2 141.7h0M117.3 131.5h0M117.3 123.7h0M117.4 133.9h0M117.5 131.3h0M117.5 134.4h0M117.6 128h0M117.7 129.1h0M117.7 126.4h0M117.8 132.8h0M117.8 137.6h0M117.9 128.7h0M117.9 132.1h0M117.9 134.8h0M118 123.6h0M118 125.8h0M118.1 145.6h0M118.1 135.4h0M118.2 136.2h0M118.2 121.8h0M118.3 139.4h0M118.3 133.5h0M118.4 129.2h0M118.4 117.5h0M118.5 145.1h0M118.5 142.9h0M118.6 143.3h0M118.6 147h0M118.7 145.1h0M118.7 139.5h0M118.8 140.7h0M118.8 135.7h0M118.9 139.4h0M118.9 147.3h0M119 129.8h0M119 129.9h0M119.1 125.1h0M119.2 142.7h0M119.2 131h0M119.3 141.7h0M119.3 136.6h0M119.4 127.6h0M119.4 128.9h0M119.5 123.2h0M119.5 135.7h0M119.6 120.1h0M119.6 137.5h0M119.7 138.9h0M119.7 128.1h0M119.8 134.1h0M119.8 138.4h0M119.9 133.6h0M119.9 144.8h0M120 135.1h0M120.1 134.5h0M120.1 127.1h0M120.2 145.5h0M120.2 124.7h0M120.3 129.3h0M120.3 127.2h0M120.4 121.9h0M120.4 133.4h0M120.5 128.9h0M120.5 119h0M120.6 126.1h0M120.6 132.6h0M120.7 139.5h0M120.7 132.1h0M120.8 123.7h0M120.8 129.7h0M120.9 127.2h0M120.9 125.5h0M121 133.9h0M121 147h0M121 140.2h0M121.1 120.6h0M121.1 136.8h0M121.2 123.1h0M121.2 123.3h0M121.3 132.7h0M121.3 140.1h0M121.4 127.5h0M121.5 119.1h0M121.5 128.3h0M121.6 134.9h0M121.6 127.7h0M121.7 125.9h0M121.7 127.2h0M121.8 119.5h0M121.8 123.7h0M121.9 130.5h0M121.9 132.9h0M122 133.7h0M122 117.9h0M122.1 124.3h0M122.1 117.2h0M122.2 121h0M122.2 120.1h0M122.3 120h0M122.3 131.5h0M122.4 135.7h0M122.5 134.5h0M122.5 130.4h0M122.6 133h0M122.6 118.3h0M122.7 133.2h0M122.7 125.5h0M122.8 138.1h0M122.8 137.7h0M122.9 111.8h0M122.9 121.1h0M123 126.6h0M123 132.7h0M123.1 136.4h0M123.1 132.3h0M123.2 114h0M123.2 134.8h0M123.3 135.1h0M123.3 131.3h0M123.4 130.3h0M123.4 130.8h0M123.5 133.1h0M123.5 135.5h0M123.6 132.5h0M123.6 110.5h0M123.7 122.9h0M123.7 142.2h0M123.8 118.5h0M123.8 119.7h0M123.9 124h0M123.9 126.4h0M124 115.3h0M124 141.7h0M124.1 130h0M124.1 134.6h0M124.1 118h0M124.2 135.5h0M124.2 122.2h0M124.3 138.9h0M124.3 118.6h0M124.4 130.1h0M124.4 136.6h0M124.5 137.1h0M124.5 134.2h0M124.6 131.5h0M124.6 128.2h0M124.7 139.5h0M124.7 119.9h0M124.8 127.4h0M124.8 137.6h0M124.9 124.7h0M124.9 122.6h0M125 128.4h0M125.1 131.9h0M125.1 135.3h0M125.2 145.6h0M125.2 132.9h0M125.3 140.8h0M125.4 127h0M125.4 144.5h0M125.5 124.9h0M125.5 138.2h0M125.6 120.5h0M125.6 134.1h0M125.6 141.8h0M125.7 113.3h0M125.7 111.7h0M125.8 149.5h0M125.8 127.3h0M125.9 152h0M125.9 129.5h0M126 136.1h0M126 131.3h0M126.1 132.1h0M126.1 134.9h0M126.2 141.9h0M126.2 130.5h0M126.3 126.6h0M126.3 133.4h0M126.4 121.3h0M126.4 137.7h0M126.5 126h0M126.5 122.3h0M126.6 141.9h0M126.6 127.4h0M126.7 137.3h0M126.7 136.1h0M126.8 111.2h0M126.8 125.1h0M126.9 129.2h0M126.9 140.5h0M127 128.5h0M127 134.2h0M127.1 131.8h0M127.1 130.8h0M127.1 113.2h0M127.2 124.1h0M127.2 127.4h0M127.3 125.2h0M127.3 138.3h0M127.4 123.6h0M127.4 128.1h0M127.5 136.8h0M127.5 123.3h0M127.6 147.6h0M127.6 130.6h0M127.7 134.6h0M127.7 139.4h0M127.8 134h0M127.8 131.1h0M127.9 124.2h0M127.9 122.2h0M128 124.6h0M128 118.4h0M128.1 145.8h0M128.1 141h0M128.2 127.7h0M128.2 137.5h0M128.3 128h0M128.3 123h0M128.4 116.8h0M128.4 120.9h0M128.5 121h0M128.5 122h0M128.6 132.5h0M128.6 130.3h0M128.7 128.2h0M128.7 125.8h0M128.8 136.3h0M128.8 122.5h0M128.9 134.4h0M128.9 116.6h0M129 127.1h0M129 133.6h0M129.1 122.3h0M129.1 118.5h0M129.2 128h0M129.2 129.7h0M129.3 138.3h0M129.3 138.3h0M129.4 142.5h0M129.4 133.2h0M129.5 119h0M129.5 133.9h0M129.6 144.5h0M129.6 130h0M129.7 131.9h0M129.7 123.9h0M129.8 128.1h0M129.8 146.4h0M129.9 131.2h0M129.9 131.4h0M130 140.5h0M130 123.3h0M130.1 132h0M130.1 135.8h0M130.2 132.6h0M130.2 124.8h0M130.2 120.9h0M130.3 126.3h0M130.4 128h0M130.4 139.8h0M130.5 132.4h0M130.5 135.7h0M130.6 135.3h0M130.6 117.1h0M130.7 126.8h0M130.7 133.1h0M130.8 147.7h0M130.8 125.4h0M130.9 131.4h0M130.9 138.4h0M131 138.4h0M131 130.7h0M131.1 149.1h0M131.1 143.4h0M131.2 128.8h0M131.2 138h0M131.3 136.6h0M131.3 139.7h0M131.4 121.1h0M131.4 137.4h0M131.5 130.7h0M131.5 127.7h0M131.6 138.4h0M131.6 142h0M131.7 118.7h0M131.7 128.9h0M131.8 126.4h0M131.8 140.4h0M131.8 114.9h0M131.9 129.5h0M132 146.8h0M132.1 142.8h0M132.1 124.5h0M132.2 149.4h0M132.2 139.1h0M132.3 123.7h0M132.3 137.6h0M132.4 128.4h0M132.4 134.4h0M132.5 125.4h0M132.5 132.5h0M132.6 133.4h0M132.6 125.8h0M132.7 135.6h0M132.7 129.2h0M132.8 114.2h0M132.8 132.3h0M132.9 122.1h0M133 137.1h0M133 132.2h0M133.1 122.9h0M133.1 121.7h0M133.2 126h0M133.2 132.6h0M133.3 125.5h0M133.3 130.4h0M133.3 116.9h0M133.4 124.4h0M133.4 127.6h0M133.5 129.3h0M133.5 134h0M133.6 130.6h0M133.6 118.3h0M133.7 144h0M133.7 129.6h0M133.8 128.7h0M133.8 144.1h0M133.9 127.3h0M133.9 128.1h0M134 145.9h0M134 125.4h0M134.1 136.7h0M134.2 141.9h0M134.2 133.3h0M134.3 124.8h0M134.3 139.3h0M134.4 123.4h0M134.4 118.4h0M134.5 124.2h0M134.5 140h0M134.6 129.4h0M134.7 146.7h0M134.7 132.3h0M134.8 150.5h0M134.8 133.4h0M134.8 143.5h0M134.9 146.4h0M134.9 136.2h0M135 139.3h0M135 124.4h0M135.1 124.5h0M135.1 118h0M135.2 129.6h0M135.2 134.5h0M135.3 132.2h0M135.3 122.8h0M135.4 131.3h0M135.4 121h0M135.5 132.5h0M135.5 134.4h0M135.6 121.2h0M135.6 123.6h0M135.7 124.9h0M135.7 131h0M135.8 128.7h0M135.9 138.9h0M135.9 134.3h0M136 139.6h0M136 128.9h0M136.1 140h0M136.1 145.3h0M136.2 135.6h0M136.2 138.7h0M136.3 136h0M136.3 142.1h0M136.4 111.5h0M136.4 131.5h0M136.4 118.9h0M136.5 126.9h0M136.5 130.2h0M136.6 123h0M136.7 127.6h0M136.7 128.6h0M136.8 129.4h0M136.8 137.7h0M136.9 128.1h0M137 125.3h0M137 117.1h0M137.1 144h0M137.1 123.5h0M137.2 126.5h0M137.2 132.2h0M137.3 128h0M137.3 121.6h0M137.4 128.6h0M137.4 126.1h0M137.5 126.5h0M137.5 125.7h0M137.6 105.5h0M137.6 107.3h0M137.7 116.4h0M137.7 138.2h0M137.8 112.5h0M137.8 128.4h0M137.9 129.9h0M137.9 123.1h0M138 136.5h0M138 119.7h0M138.1 123.7h0M138.1 131.1h0M138.2 129.1h0M138.2 136.6h0M138.3 129.8h0M138.3 131.3h0M138.4 133.3h0M138.4 136.9h0M138.5 132.5h0M138.5 133.3h0M138.6 130.7h0M138.6 135h0M138.7 120.2h0M138.7 133.6h0M138.8 121.1h0M138.8 128.1h0M138.9 122.8h0M138.9 146.5h0M139 117.3h0M139 144.2h0M139.1 133.9h0M139.1 136.9h0M139.2 123.6h0M139.2 124.9h0M139.3 140h0M139.3 125.7h0M139.4 123.6h0M139.4 133.5h0M139.5 134h0M139.5 133.8h0M139.6 128.9h0M139.6 128h0M139.7 138.1h0M139.7 132.2h0M139.8 128.3h0M139.8 130.5h0M139.9 142.4h0M139.9 139h0M140 136.2h0M140 133.7h0M140.1 124.8h0M140.1 137.2h0M140.2 112.1h0M140.2 138.4h0M140.3 127.7h0M140.3 128.7h0M140.4 136.6h0M140.4 121.8h0M140.5 125.7h0M140.5 132.7h0M140.6 132.3h0M140.7 122.1h0M140.7 129.4h0M140.8 136.7h0M140.8 124.5h0M140.9 145.8h0M140.9 126.4h0M141 125.6h0M141 129.2h0M141 126.9h0M141.1 122.8h0M141.1 121.6h0M141.2 134.7h0M141.2 122.6h0M141.3 133.7h0M141.3 134.8h0M141.4 126.9h0M141.4 134.9h0M141.5 125.6h0M141.5 127.3h0M141.6 126.7h0M141.6 139.1h0M141.7 129.8h0M141.7 124.9h0M141.8 125.1h0M141.8 120h0M141.9 124.1h0M141.9 142.2h0M142 132.4h0M142.1 142.4h0M142.1 135.7h0M142.2 142h0M142.2 134.2h0M142.3 120.3h0M142.3 130.9h0M142.4 139.8h0M142.4 144.3h0M142.5 116.8h0M142.5 136.3h0M142.6 135.6h0M142.6 113.4h0M142.7 129.1h0M142.7 138h0M142.8 135.1h0M142.8 142.4h0M142.9 125.6h0M142.9 132.7h0M143 143h0M143 143.3h0M143.1 137.3h0M143.1 139.7h0M143.2 128.5h0M143.2 148h0M143.3 121.1h0M143.3 122.6h0M143.4 147.3h0M143.4 137.4h0M143.5 128.4h0M143.5 125.2h0M143.6 123.8h0M143.6 131h0M143.7 130h0M143.7 138.3h0M143.8 126h0M143.8 137.7h0M143.9 134.2h0M143.9 137.1h0M144 129.5h0M144 120.3h0M144 127h0M144.1 140.4h0M144.1 123.3h0M144.2 124h0M144.2 141.7h0M144.3 136.8h0M144.3 125h0M144.4 136.7h0M144.4 135.9h0M144.5 123.7h0M144.5 126.6h0M144.6 123.2h0M144.6 138.7h0M144.7 119.4h0M144.7 150.1h0M144.8 130.1h0M144.8 129.7h0M144.9 137.6h0M145 132.3h0M145 126.4h0M145.1 138.1h0M145.1 127.4h0M145.2 129.4h0M145.2 135.8h0M145.3 138.5h0M145.3 122.3h0M145.4 140.2h0M145.4 123.9h0M145.5 138.8h0M145.5 133.6h0M145.6 131.5h0M145.6 121.7h0M145.6 135.3h0M145.7 123.9h0M145.7 134.4h0M145.8 119.8h0M145.8 137h0M145.9 121.1h0M146 137.9h0M146 120.2h0M146.1 135.4h0M146.1 134.5h0M146.2 137.8h0M146.2 137.1h0M146.3 132.1h0M146.3 123.9h0M146.4 114.8h0M146.4 127.6h0M146.5 137.9h0M146.5 122h0M146.6 141.2h0M146.6 125.4h0M146.7 136h0M146.7 135.2h0M146.8 140.1h0M146.8 122.8h0M146.9 127.9h0M146.9 131.1h0M147 144.1h0M147 135.3h0M147.1 135.6h0M147.1 121.6h0M147.1 118.9h0M147.2 122.7h0M147.2 119.3h0M147.3 121.2h0M147.3 133.6h0M147.4 130h0M147.4 145.2h0M147.5 125.8h0M147.5 126.2h0M147.6 141.6h0M147.6 125h0M147.7 133.7h0M147.7 148.1h0M147.8 133.4h0M147.8 126.5h0M147.9 136.9h0M147.9 132h0M148 127.2h0M148 133.9h0M148.1 135.4h0M148.1 144.4h0M148.2 127.8h0M148.2 129.8h0M148.3 118.2h0M148.3 126.2h0M148.4 132.4h0M148.4 143h0M148.5 147.4h0M148.5 134.9h0M148.6 136.2h0M148.7 133.6h0M148.7 133.1h0M148.7 124.2h0M148.8 129.8h0M148.8 127.8h0M148.9 128.4h0M148.9 126.8h0M149 130.5h0M149 117.8h0M149.1 127.4h0M149.1 123.4h0M149.2 118.7h0M149.2 130.8h0M149.3 133.3h0M149.3 124.5h0M149.4 120.1h0M149.4 117.3h0M149.5 128.3h0M149.5 117.4h0M149.6 130.4h0M149.6 129.8h0M149.7 129.6h0M149.8 136.5h0M149.8 132.7h0M149.9 109h0M149.9 126.9h0M150 125.4h0M150 139h0M150.1 133.1h0M150.1 131.2h0M150.2 129.3h0M150.2 126.4h0M150.2 144.2h0M150.3 129.7h0M150.4 122.3h0M150.4 152.9h0M150.5 123.9h0M150.5 135.5h0M150.6 137.8h0M150.6 121.6h0M150.7 121.3h0M150.7 137.3h0M150.8 132.2h0M150.8 137.1h0M150.9 136.5h0M150.9 134.5h0M151 133.1h0M151.1 120.2h0M151.1 138.2h0M151.2 132.3h0M151.3 133.5h0M151.3 132.9h0M151.4 128.9h0M151.4 127.6h0M151.5 129.1h0M151.5 125.9h0M151.6 123.5h0M151.7 131.3h0M151.7 137.3h0M151.7 120.5h0M151.8 136.5h0M151.8 136.6h0M151.9 126.7h0M151.9 138.8h0M152 136.3h0M152.1 129.8h0M152.1 123.4h0M152.2 129.4h0M152.2 143.3h0M152.3 124h0M152.3 127.2h0M152.4 147.7h0M152.4 140.3h0M152.5 137h0M152.5 121.8h0M152.6 135.6h0M152.6 134h0M152.7 128h0M152.7 133.5h0M152.8 138.5h0M152.8 132.8h0M152.9 132.9h0M152.9 127.8h0M153 137h0M153 132.4h0M153.1 128.4h0M153.1 143.6h0M153.2 144.3h0M153.2 122.1h0M153.3 154.8h0M153.3 128.1h0M153.3 142.6h0M153.4 126.6h0M153.4 126.1h0M153.5 140.4h0M153.5 134.1h0M153.6 134h0M153.6 133h0M153.7 128.6h0M153.8 128.2h0M153.8 131.4h0M153.9 126.8h0M153.9 121.5h0M154 136.4h0M154.1 123h0M154.1 128.8h0M154.2 126.1h0M154.2 128.6h0M154.3 148.9h0M154.3 136.4h0M154.4 140.5h0M154.4 124.1h0M154.5 123.9h0M154.5 117h0M154.6 120.1h0M154.6 122.1h0M154.7 121.2h0M154.8 127.5h0M154.8 122.1h0M154.9 126.3h0M154.9 129.1h0M155 123.4h0M155 121.3h0M155.1 132.6h0M155.1 141.1h0M155.2 132.1h0M155.2 124.2h0M155.3 122.2h0M155.3 124.4h0M155.4 114.3h0M155.4 142.2h0M155.5 135.4h0M155.6 118.8h0M155.6 142.6h0M155.7 111.9h0M155.7 130.3h0M155.8 134.2h0M155.8 135.6h0M155.9 122.3h0M155.9 109.9h0M156 131.6h0M156 117.9h0M156.1 133h0M156.1 123.8h0M156.2 123.3h0M156.2 129.4h0M156.3 137.9h0M156.3 131.6h0M156.3 143.3h0M156.4 133.1h0M156.4 117.2h0M156.5 127.1h0M156.5 134.9h0M156.6 138.3h0M156.6 135.2h0M156.7 129.9h0M156.8 135.7h0M156.8 130.1h0M156.9 127.2h0M156.9 136.3h0M157 118.4h0M157 131.4h0M157.1 146.1h0M157.1 122.8h0M157.2 131.9h0M157.2 143.6h0M157.3 124.9h0M157.3 130.3h0M157.4 127h0M157.4 142.1h0M157.5 135h0M157.5 132.2h0M157.6 136h0M157.6 129.2h0M157.7 126.1h0M157.7 125h0M157.8 121.9h0M157.8 129.7h0M157.9 133.5h0M157.9 135.2h0M157.9 136h0M158 133.2h0M158 122h0M158.1 136h0M158.1 119.1h0M158.2 133.8h0M158.3 133.1h0M158.3 139h0M158.4 143.1h0M158.4 139.2h0M158.5 122.1h0M158.5 122.3h0M158.6 147.5h0M158.6 124h0M158.7 131.9h0M158.7 131.4h0M158.8 125.6h0M158.8 124.5h0M158.9 123.6h0M158.9 129.8h0M159 140.7h0M159 122.3h0M159.1 144.6h0M159.1 127.3h0M159.2 138.5h0M159.2 146.4h0M159.3 130.9h0M159.3 136.6h0M159.4 143.8h0M159.4 131.1h0M159.4 140h0M159.5 131.1h0M159.5 144.2h0M159.6 131.7h0M159.6 131h0M159.7 143.8h0M159.7 123.5h0M159.8 145h0M159.8 128.3h0M159.9 137.8h0M159.9 137.2h0M160 141.7h0M160 132.7h0M160.1 133.8h0M160.1 137.9h0M160.2 128.3h0M160.2 126.2h0M160.3 132.1h0M160.4 140.7h0M160.4 128.4h0M160.5 129h0M160.5 110.8h0M160.6 135.9h0M160.6 125.4h0M160.7 132.9h0M160.7 121.4h0M160.8 125.9h0M160.9 125.8h0M160.9 142.5h0M161 133.6h0M161 131.9h0M161.1 134.6h0M161.1 113h0M161.2 137.3h0M161.2 124.1h0M161.3 127.9h0M161.3 127.9h0M161.4 117.5h0M161.4 128.2h0M161.5 140.2h0M161.5 130h0M161.6 137.5h0M161.6 119.5h0M161.7 126.4h0M161.7 131.5h0M161.8 127h0M161.8 122.7h0M161.9 135.3h0M161.9 129.6h0M162 131.6h0M162.1 129.4h0M162.1 118.6h0M162.2 134.7h0M162.2 120.6h0M162.3 130.3h0M162.3 135.3h0M162.4 126.9h0M162.5 131.1h0M162.5 137h0M162.5 131.9h0M162.6 119h0M162.6 123.7h0M162.7 151h0M162.7 134.1h0M162.8 126.5h0M162.8 128.6h0M162.9 121.4h0M162.9 125.4h0M163 131.9h0M163 126.8h0M163.1 132.8h0M163.1 117.8h0M163.2 124.7h0M163.2 131.3h0M163.3 133.9h0M163.3 128.7h0M163.4 124.8h0M163.4 125.3h0M163.5 128.1h0M163.5 117.1h0M163.6 131.8h0M163.6 119.7h0M163.7 115.7h0M163.7 125.9h0M163.8 137.2h0M163.8 124h0M163.9 137.7h0M163.9 130.1h0M164 133.3h0M164 130.3h0M164 120.2h0M164.1 132.8h0M164.1 115.4h0M164.2 129.6h0M164.2 137.7h0M164.3 128h0M164.3 138h0M164.4 128.9h0M164.4 115.8h0M164.5 118.8h0M164.6 137.8h0M164.6 139.8h0M164.7 133.2h0M164.7 135.3h0M164.8 131h0M164.8 146.3h0M164.9 135h0M164.9 142.4h0M165 144.8h0M165 127.4h0M165.1 139.2h0M165.1 120.7h0M165.2 145h0M165.2 132h0M165.3 131.6h0M165.3 121.4h0M165.4 115.7h0M165.4 117.1h0M165.5 125.7h0M165.5 126.1h0M165.6 126h0M165.6 126.6h0M165.6 142h0M165.7 144h0M165.8 146.9h0M165.8 131.6h0M165.9 130.2h0M165.9 139.7h0M166 143.7h0M166 131.1h0M166.1 128.1h0M166.1 132.9h0M166.2 127.8h0M166.2 144.4h0M166.3 124.8h0M166.4 140.4h0M166.4 123.7h0M166.5 116.9h0M166.5 133.7h0M166.6 126.8h0M166.7 133.4h0M166.7 136.4h0M166.8 126.3h0M166.8 132.9h0M166.9 134h0M166.9 150h0M167 138.5h0M167 139h0M167.1 139.9h0M167.1 144.6h0M167.1 137.3h0M167.2 123.8h0M167.2 135.6h0M167.3 146.6h0M167.3 147.2h0M167.4 133.3h0M167.4 129.5h0M167.5 131h0M167.5 128.6h0M167.6 136.8h0M167.6 128.6h0M167.7 146.9h0M167.8 127.1h0M167.9 142.2h0M167.9 131.2h0M168 130.6h0M168 139.7h0M168.1 136.6h0M168.1 123.6h0M168.2 134.9h0M168.2 131.4h0M168.3 133h0M168.3 136.5h0M168.4 127.3h0M168.5 131.7h0M168.5 140.8h0M168.6 126.9h0M168.6 136.4h0M168.6 146h0M168.7 132.2h0M168.7 125.5h0M168.8 134.8h0M168.8 126.3h0M168.9 129.5h0M168.9 137.6h0M169 129.4h0M169.1 132.1h0M169.1 144h0M169.2 133.7h0M169.2 132.4h0M169.3 126.3h0M169.3 135.2h0M169.4 117.6h0M169.5 135.1h0M169.5 131.4h0M169.6 133.7h0M169.6 148.2h0M169.7 136.7h0M169.7 127.8h0M169.8 123.8h0M169.8 135h0M169.9 127.9h0M169.9 145.9h0M170 139.7h0M170.1 139.9h0M170.1 139.1h0M170.2 143.6h0M170.2 125.1h0M170.3 134.8h0M170.3 130.4h0M170.4 142.8h0M170.4 128.8h0M170.5 148h0M170.5 140.3h0M170.6 129.1h0M170.6 151.8h0M170.7 148.8h0M170.7 138.6h0M170.8 127.9h0M170.8 129.3h0M170.9 129.5h0M170.9 140.2h0M171 136.3h0M171 134.2h0M171.1 126.6h0M171.1 130.7h0M171.2 135.6h0M171.2 138.7h0M171.3 129.7h0M171.3 131.2h0M171.4 137.2h0M171.4 128.9h0M171.5 133.7h0M171.5 119.2h0M171.6 137.7h0M171.6 134.1h0M171.7 130h0M171.7 139.6h0M171.7 137.9h0M171.8 142.2h0M171.8 136.8h0M171.9 134.4h0M171.9 117.9h0M172 123.2h0M172 144.6h0M172.1 140.4h0M172.1 123.4h0M172.2 136h0M172.2 128h0M172.3 130.3h0M172.3 119.8h0M172.4 119.6h0M172.4 123.8h0M172.5 129.9h0M172.5 127.6h0M172.6 128h0M172.6 129.4h0M172.7 144.8h0M172.7 135.9h0M172.8 142.9h0M172.8 131h0M172.9 127.2h0M172.9 127.6h0M173 140.1h0M173 125.7h0M173.1 142.9h0M173.1 128.1h0M173.2 131.4h0M173.2 132.8h0M173.3 125.5h0M173.3 124.4h0M173.3 138.2h0M173.4 133.9h0M173.4 134.3h0M173.5 130.6h0M173.5 148.5h0M173.6 146h0M173.6 118.2h0M173.7 129.1h0M173.7 134.6h0M173.8 136.1h0M173.8 136.5h0M173.9 145h0M173.9 138.6h0M174 140.2h0M174.1 141.5h0M174.1 141.4h0M174.2 131h0M174.3 147.4h0M174.3 142h0M174.4 136.3h0M174.4 143.5h0M174.5 134.2h0M174.5 123.8h0M174.6 155.5h0M174.6 129.3h0M174.7 134.7h0M174.7 146.9h0M174.8 142.8h0M174.8 154.3h0M174.8 147.8h0M174.9 125h0M175 152.3h0M175 133h0M175.1 124.6h0M175.1 122.6h0M175.2 145.8h0M175.2 139.9h0M175.3 135.7h0M175.3 129.7h0M175.4 141.6h0M175.4 127.7h0M175.5 124.2h0M175.5 133.9h0M175.6 129.5h0M175.6 122.4h0M175.7 135.2h0M175.7 125.3h0M175.8 137.2h0M175.8 133h0M175.9 134.4h0M175.9 134.9h0M176 128.8h0M176 129.5h0M176.1 131.9h0M176.1 129.5h0M176.2 127.3h0M176.2 141.4h0M176.3 140.2h0M176.3 132.2h0M176.3 125.7h0M176.4 139.8h0M176.4 127.8h0M176.5 135.9h0M176.5 134.8h0M176.6 128.9h0M176.6 132.6h0M176.7 135h0M176.7 125.8h0M176.8 128.2h0M176.8 135.2h0M176.9 149.6h0M176.9 120.5h0M177 134.7h0M177 130.6h0M177.1 128.1h0M177.1 144h0M177.2 125.8h0M177.2 124.7h0M177.3 132.5h0M177.4 116.6h0M177.4 141.3h0M177.5 140.4h0M177.5 131.4h0M177.6 138.6h0M177.7 130h0M177.7 133.4h0M177.8 120h0M177.8 120.5h0M177.9 118.9h0M177.9 117h0M177.9 132.4h0M178 135.4h0M178 120.9h0M178.1 124.4h0M178.1 125.5h0M178.2 140.4h0M178.2 124.3h0M178.3 127.1h0M178.3 139.5h0M178.4 128.6h0M178.4 135.4h0M178.5 129.6h0M178.5 128.1h0M178.6 134.3h0M178.6 128.2h0M178.7 132.5h0M178.7 124.9h0M178.8 129.6h0M178.8 114.4h0M178.9 134.8h0M178.9 134h0M179 144.7h0M179 144.5h0M179.1 138h0M179.1 130.7h0M179.2 149h0M179.2 143.5h0M179.3 125.7h0M179.3 122.9h0M179.4 135.9h0M179.4 128.9h0M179.4 144.1h0M179.5 122.3h0M179.5 135.7h0M179.6 127.1h0M179.6 136h0M179.7 139.8h0M179.7 151.3h0M179.8 140.7h0M179.8 116.1h0M179.9 132.1h0M179.9 128.7h0M180 134h0M180.1 126.4h0M180.1 141.1h0M180.2 142.3h0M180.2 131.7h0M180.3 131.9h0M180.3 137.1h0M180.4 131.5h0M180.5 136h0M180.5 134h0M180.6 132.7h0M180.6 135.7h0M180.7 135h0M180.7 132h0M180.8 147.9h0M180.8 138.6h0M180.9 134.7h0M180.9 133h0M180.9 131.2h0M181 140.9h0M181 127.8h0M181.1 127.2h0M181.1 134.5h0M181.2 141.6h0M181.2 135.6h0M181.3 135.6h0M181.3 125.2h0M181.4 135.8h0M181.4 127.9h0M181.5 138.1h0M181.5 121.2h0M181.6 136.2h0M181.6 134.9h0M181.7 126.9h0M181.7 132h0M181.8 149.8h0M181.8 134.1h0M181.9 123h0M181.9 150.6h0M182 130.9h0M182 148.2h0M182.1 142.3h0M182.1 151.1h0M182.2 127.7h0M182.2 127.4h0M182.3 127.9h0M182.3 111.3h0M182.4 137.6h0M182.4 135.6h0M182.5 128.9h0M182.5 147.3h0M182.5 136.4h0M182.6 147.6h0M182.6 129.7h0M182.7 129.8h0M182.7 133.9h0M182.8 144.1h0M182.8 151.5h0M182.9 143.7h0M182.9 130.2h0M183 145.8h0M183 137.2h0M183.1 140.6h0M183.1 125.2h0M183.2 143.9h0M183.2 126.5h0M183.3 145.5h0M183.3 140.3h0M183.4 130.9h0M183.4 139.2h0M183.5 148.7h0M183.6 139.3h0M183.6 140.8h0M183.7 133.6h0M183.7 136.3h0M183.8 138.1h0M183.8 131.8h0M183.9 139.9h0M184 151.7h0M184 144.8h0M184 142.4h0M184.1 151.6h0M184.1 137.7h0M184.2 121.5h0M184.2 125.3h0M184.3 131.7h0M184.4 144.8h0M184.4 132.6h0M184.5 142.7h0M184.5 135.6h0M184.6 143.4h0M184.6 128.8h0M184.7 128.5h0M184.7 125.6h0M184.8 138.8h0M184.8 142h0M184.9 127h0M184.9 131.6h0M185 126.2h0M185 121.1h0M185.1 130.6h0M185.2 135h0M185.2 134.7h0M185.3 130.9h0M185.3 128.2h0M185.4 121.8h0M185.4 123.2h0M185.5 118h0M185.5 129.4h0M185.6 130.5h0M185.6 141.6h0M185.7 131.8h0M185.7 129.7h0M185.8 132.5h0M185.8 118.2h0M185.9 137.1h0M185.9 138h0M186 128.6h0M186 127.4h0M186.1 125.6h0M186.1 131.9h0M186.2 130.7h0M186.2 126.7h0M186.3 131.6h0M186.3 130.7h0M186.4 138.2h0M186.4 150.6h0M186.5 134.9h0M186.5 127.2h0M186.6 140.7h0M186.6 136.4h0M186.7 120.8h0M186.7 123.3h0M186.8 126h0M186.9 133.2h0M186.9 128.1h0M187 144h0M187 134.3h0M187.1 118.2h0M187.1 125.5h0M187.1 139.9h0M187.2 127.3h0M187.2 125h0M187.3 135.1h0M187.3 127.3h0M187.4 142.7h0M187.4 135h0M187.5 137.4h0M187.5 121.8h0M187.6 132.8h0M187.6 135.4h0M187.7 136.5h0M187.7 130.8h0M187.8 119.7h0M187.8 127.4h0M187.9 133.8h0M187.9 131.8h0M188 122.4h0M188.1 153.9h0M188.1 135.6h0M188.2 138.9h0M188.2 133h0M188.3 128.6h0M188.3 146h0M188.4 124.3h0M188.4 132.4h0M188.5 142.7h0M188.5 129h0M188.6 134.3h0M188.6 125.6h0M188.6 145.2h0M188.7 139.5h0M188.7 112.9h0M188.8 135.4h0M188.8 126.8h0M188.9 121.4h0M188.9 119h0M189 122h0M189 136h0M189.1 126.1h0M189.1 125.2h0M189.2 119.9h0M189.2 122.2h0M189.3 134.6h0M189.3 137.4h0M189.4 119.4h0M189.4 140.9h0M189.5 126.5h0M189.5 125.7h0M189.6 141.9h0M189.6 133.8h0M189.7 119.9h0M189.8 137.6h0M189.8 125.9h0M189.9 131.2h0M189.9 121h0M190 126.1h0M190 125.4h0M190.1 129.6h0M190.1 120h0M190.2 134.9h0M190.2 122.9h0M190.2 127.6h0M190.3 130.3h0M190.3 130.8h0M190.4 149h0M190.4 125.3h0M190.5 127.4h0M190.5 120h0M190.6 127.7h0M190.6 136.3h0M190.7 123.3h0M190.7 137.7h0M190.8 135.8h0M190.8 126.8h0M190.9 140.2h0M190.9 121.6h0M191 127.2h0M191 133.3h0M191.1 139.9h0M191.2 130.2h0M191.2 115.1h0M191.3 138h0M191.3 134h0M191.4 138.5h0M191.4 141.6h0M191.5 133h0M191.5 134.8h0M191.6 118.2h0M191.6 136.6h0M191.7 128.4h0M191.7 131.4h0M191.7 143.1h0M191.8 137.2h0M191.8 119.5h0M191.9 128h0M191.9 127.5h0M192 143.7h0M192 124.2h0M192.1 136.8h0M192.1 143.5h0M192.2 141.1h0M192.2 135.7h0M192.3 132.8h0M192.3 131.1h0M192.4 129.7h0M192.5 146.1h0M192.5 128.9h0M192.6 152.7h0M192.6 131.2h0M192.7 133.7h0M192.7 141.8h0M192.8 124.9h0M192.8 134.3h0M192.9 132.7h0M192.9 141.2h0M193 138.3h0M193.1 142.9h0M193.1 135.4h0M193.2 126.7h0M193.2 138h0M193.2 120.6h0M193.3 136.8h0M193.3 127.4h0M193.4 132.2h0M193.4 127h0M193.5 141.4h0M193.5 129.6h0M193.6 126.3h0M193.6 146.2h0M193.7 143.2h0M193.7 150.2h0M193.8 138.3h0M193.8 142.4h0M193.9 125.5h0M193.9 146.6h0M194 142.5h0M194 147.7h0M194.1 144.2h0M194.1 128h0M194.2 141.3h0M194.2 137h0M194.3 123.8h0M194.3 128.1h0M194.4 131.5h0M194.4 132.1h0M194.5 135h0M194.5 119h0M194.6 127.1h0M194.6 130h0M194.7 126.1h0M194.7 124.7h0M194.8 133.7h0M194.8 140.7h0M194.9 129.9h0M194.9 137.7h0M195 120.2h0M195 134.1h0M195.1 131.5h0M195.1 132.6h0M195.2 145.7h0M195.2 143.9h0M195.3 124.2h0M195.3 128.9h0M195.4 127.6h0M195.4 144.4h0M195.5 130h0M195.5 137.6h0M195.6 125h0M195.6 133.8h0M195.7 135.4h0M195.7 134.6h0M195.8 126.9h0M195.8 124.2h0M195.9 143.5h0M195.9 135h0M196 139.8h0M196 139.3h0M196.1 127.7h0M196.1 136.1h0M196.2 153.1h0M196.2 131.5h0M196.3 127.8h0M196.3 114.5h0M196.3 136.1h0M196.4 133.9h0M196.4 114.2h0M196.5 127.5h0M196.5 136.3h0M196.6 126.4h0M196.6 131.8h0M196.7 133h0M196.8 115.4h0M196.8 126h0M196.9 133.2h0M196.9 141.9h0M197 134.5h0M197 154h0M197.1 115.7h0M197.1 135.9h0M197.2 125.3h0M197.2 123.9h0M197.3 122h0M197.3 129h0M197.4 133.2h0M197.4 120.3h0M197.5 117.9h0M197.5 137.9h0M197.6 127.2h0M197.6 125.2h0M197.7 132.3h0M197.8 124.1h0M197.9 128.2h0M197.9 130h0M197.9 130.1h0M198 123.1h0M198.1 116.6h0M198.1 145.4h0M198.2 135h0M198.2 132.2h0M198.3 126.3h0M198.3 121.7h0M198.4 145.3h0M198.4 130.1h0M198.5 147.6h0M198.5 120.8h0M198.6 135.7h0M198.7 139.2h0M198.7 137.3h0M198.8 132.5h0M198.8 132.3h0M198.9 139.1h0M198.9 133h0M199 123.1h0M199.1 134.6h0M199.1 139.8h0M199.2 137h0M199.2 119.5h0M199.3 120.7h0M199.3 138.3h0M199.4 131.7h0M199.4 123.6h0M199.4 131.7h0M199.5 131.6h0M199.5 144.4h0M199.6 129.3h0M199.6 122.8h0M199.7 132.8h0M199.7 139.6h0M199.8 126.5h0M199.8 124.3h0M199.9 135.8h0M199.9 144.7h0M200 130.1h0M200 141.8h0M200.1 125.2h0M200.1 126.7h0M200.2 132.7h0M200.2 127.6h0M200.3 139.7h0M200.3 133.4h0M200.4 143.2h0M200.4 121.9h0M200.5 139.8h0M200.5 137.6h0M200.6 141.7h0M200.6 131.3h0M200.7 119.2h0M200.7 126.3h0M200.8 130.3h0M200.8 127.7h0M200.9 118.1h0M200.9 136h0M200.9 132.9h0M201 131.8h0M201 124.9h0M201.1 133h0M201.1 130.5h0M201.2 128.5h0M201.2 124h0M201.3 121.2h0M201.3 135h0M201.4 135.7h0M201.4 134.5h0M201.5 127.7h0M201.5 130.7h0M201.6 126.2h0M201.6 123.1h0M201.7 139.5h0M201.7 125.1h0M201.8 132h0M201.8 127.1h0M201.9 129.1h0M201.9 130.8h0M202 124.5h0M202 121.9h0M202.1 134.9h0M202.1 127.4h0M202.2 136.4h0M202.3 125h0M202.3 125.7h0M202.4 142.6h0M202.4 139.9h0M202.5 135.1h0M202.5 135.2h0M202.5 120.6h0M202.6 140.4h0M202.6 121.3h0M202.7 138.3h0M202.7 141.1h0M202.8 133h0M202.9 130.6h0M202.9 127.5h0M203 138.8h0M203.1 120.8h0M203.1 134.3h0M203.2 116.3h0M203.2 130.9h0M203.3 137.3h0M203.3 117.5h0M203.4 124.5h0M203.5 120.7h0M203.5 119.8h0M203.6 129.7h0M203.6 139h0M203.7 122.2h0M203.8 141h0M203.8 127.1h0M203.9 135.9h0M203.9 126.1h0M204 130.4h0M204 122.4h0M204 126.2h0M204.1 135.5h0M204.1 121.4h0M204.2 122h0M204.2 111.6h0M204.3 124.6h0M204.3 127.7h0M204.4 124.9h0M204.4 130.8h0M204.5 126.2h0M204.5 132.4h0M204.6 121.2h0M204.6 132.5h0M204.7 139.4h0M204.7 134.1h0M204.8 116.5h0M204.8 121.6h0M204.9 138.6h0M205 129.7h0M205 113h0M205.1 126.4h0M205.1 127.9h0M205.2 126.4h0M205.2 143.2h0M205.3 130.5h0M205.3 132.6h0M205.4 131.6h0M205.4 140.5h0M205.5 124.7h0M205.5 123.5h0M205.5 128.7h0M205.6 122.9h0M205.6 121.9h0M205.7 124h0M205.7 130.7h0M205.8 146.5h0M205.8 146.2h0M205.9 130.6h0M205.9 137.8h0M206 126.5h0M206 139h0M206.1 119.9h0M206.2 128.3h0M206.2 142.8h0M206.3 136.8h0M206.3 123.4h0M206.4 130.6h0M206.4 145.6h0M206.5 124.9h0M206.5 134.4h0M206.6 119h0M206.6 121.2h0M206.7 119.2h0M206.7 126.6h0M206.8 128.6h0M206.8 136.5h0M206.9 137h0M206.9 125.7h0M207 131.3h0M207 129.8h0M207.1 126.3h0M207.1 146.5h0M207.1 132.1h0M207.2 122.4h0M207.2 120.5h0M207.3 122.7h0M207.3 109.3h0M207.4 131h0M207.4 130.5h0M207.5 131.7h0M207.5 130.4h0M207.6 130.8h0M207.6 136.9h0M207.7 136.4h0M207.7 128.8h0M207.8 134.2h0M207.8 129.8h0M207.9 127.1h0M207.9 129.4h0M208 128.6h0M208 122.2h0M208.1 139.9h0M208.1 129.6h0M208.2 130.2h0M208.2 114.7h0M208.3 121.9h0M208.3 120.7h0M208.4 125h0M208.4 128.5h0M208.5 125h0M208.5 143.7h0M208.6 120.4h0M208.6 140.6h0M208.6 133.4h0M208.7 136h0M208.8 125.3h0M208.8 124.6h0M208.9 136.1h0M208.9 121h0M209 142.6h0M209 127.1h0M209.1 134.8h0M209.1 129.9h0M209.2 126.4h0M209.2 132h0M209.3 110.9h0M209.4 112.4h0M209.4 119.3h0M209.5 124.4h0M209.5 125.3h0M209.6 119.1h0M209.6 135.4h0M209.7 132.3h0M209.7 133.8h0M209.8 118.6h0M209.8 130.7h0M209.9 122.5h0M209.9 125.1h0M210 129.4h0M210 126.7h0M210.1 124.2h0M210.1 121.5h0M210.2 122.7h0M210.2 139.6h0M210.2 128.2h0M210.3 115.9h0M210.3 113.5h0M210.4 121.3h0M210.4 118.7h0M210.5 136.1h0M210.6 133.3h0M210.6 126.4h0M210.7 128.5h0M210.7 122.6h0M210.8 129.1h0M210.8 139.7h0M210.9 131.7h0M210.9 133.7h0M211 106.5h0M211.1 125.4h0M211.1 127.6h0M211.2 116.4h0M211.2 125.7h0M211.3 139.3h0M211.3 131.7h0M211.4 124.8h0M211.4 126.8h0M211.5 134.1h0M211.6 128.7h0M211.7 124.8h0M211.7 135.7h0M211.8 130.2h0M211.8 133.3h0M211.9 125.8h0M211.9 119.5h0M212 131.2h0M212 126.4h0M212.1 141.3h0M212.1 124.5h0M212.2 128.4h0M212.2 124.6h0M212.3 126.4h0M212.3 123.2h0M212.4 123.4h0M212.4 136.3h0M212.5 125.4h0M212.5 123.2h0M212.6 116.7h0M212.6 132.1h0M212.7 125.7h0M212.7 125.5h0M212.8 126.3h0M212.8 132.8h0M212.9 134.2h0M212.9 118.8h0M213 128.2h0M213 134.3h0M213.1 129.6h0M213.1 139.2h0M213.2 133h0M213.2 130.4h0M213.2 131.3h0M213.3 135.9h0M213.3 126.8h0M213.4 130.9h0M213.4 128.9h0M213.5 129.6h0M213.5 130.1h0M213.6 122.6h0M213.7 124.4h0M213.7 134.2h0M213.8 120.4h0M213.8 141h0M213.9 116.7h0M213.9 123.7h0M214 119.3h0M214 116.9h0M214.1 145.4h0M214.2 119.3h0M214.2 117.4h0M214.3 136.8h0M214.3 130.9h0M214.4 118.5h0M214.4 129.2h0M214.5 123.6h0M214.5 124.6h0M214.6 118.4h0M214.6 119.7h0M214.7 119.9h0M214.7 122h0M214.8 126h0M214.8 113.3h0M214.8 128.8h0M214.9 134.1h0M215 116h0M215 133.5h0M215.1 118.9h0M215.1 134.2h0M215.2 121.1h0M215.2 122.1h0M215.3 126.5h0M215.3 120.6h0M215.4 108h0M215.4 116h0M215.5 110.7h0M215.5 118.7h0M215.6 117.3h0M215.6 119.8h0M215.7 128.3h0M215.7 122.1h0M215.8 115.4h0M215.8 124.2h0M215.9 122.8h0M215.9 122.4h0M216 115.9h0M216 135.4h0M216.1 116.2h0M216.1 134.2h0M216.2 131.3h0M216.2 123.9h0M216.3 136.9h0M216.3 122.7h0M216.3 127.6h0M216.4 125.1h0M216.4 133.9h0M216.5 136.8h0M216.5 128.9h0M216.6 134.8h0M216.6 128h0M216.7 112.8h0M216.7 123.2h0M216.8 129.2h0M216.9 120.4h0M216.9 136.6h0M217 148h0M217 130.3h0M217.1 126.3h0M217.1 125.5h0M217.2 128.3h0M217.2 136.7h0M217.3 127.4h0M217.3 113.9h0M217.4 130.9h0M217.4 124.9h0M217.5 136.8h0M217.5 132.9h0M217.6 129.6h0M217.6 122.9h0M217.7 126.8h0M217.7 131h0M217.8 126.2h0M217.8 133.9h0M217.8 117.5h0M217.9 127.8h0M217.9 128.5h0M218 133.6h0M218 125.4h0M218.1 126.8h0M218.1 134.1h0M218.2 130.9h0M218.2 151.9h0M218.3 130.5h0M218.3 129.6h0M218.4 143.7h0M218.4 134.2h0M218.5 120.7h0M218.5 134.8h0M218.6 120.8h0M218.6 144.9h0M218.7 126.4h0M218.7 135.7h0M218.8 136.9h0M218.8 125.1h0M218.9 123.7h0M218.9 141.3h0M219 139.6h0M219 124h0M219.1 131.9h0M219.1 123.2h0M219.2 120.9h0M219.3 121.6h0M219.3 138h0M219.4 125.6h0M219.4 130.1h0M219.4 129.3h0M219.5 128.3h0M219.5 126.9h0M219.6 149h0M219.7 132.7h0M219.7 121.7h0M219.8 117.6h0M219.8 131.7h0M219.9 133.3h0M219.9 128.5h0M220 136.5h0M220 121.9h0M220.1 127.8h0M220.1 135.4h0M220.2 143.1h0M220.2 125.2h0M220.3 130.1h0M220.3 122.9h0M220.4 146.1h0M220.4 126h0M220.5 133.5h0M220.5 135.8h0M220.6 127.7h0M220.6 119.9h0M220.7 137h0M220.7 133.8h0M220.8 142.3h0M220.8 128.6h0M220.9 130.4h0M220.9 124.1h0M221 125.1h0M221 125.9h0M221.1 112.6h0M221.1 136.4h0M221.2 138.5h0M221.2 125.2h0M221.3 130.5h0M221.3 143.1h0M221.4 125.9h0M221.4 117.7h0M221.5 143.7h0M221.5 128.9h0M221.6 138.8h0M221.7 123.5h0M221.7 126.8h0M221.8 123.5h0M221.8 139.5h0M221.9 129.6h0M221.9 134.5h0M222 140.1h0M222 118.1h0M222.1 136.1h0M222.1 136.5h0M222.2 137.6h0M222.2 125.2h0M222.3 133.5h0M222.4 131.8h0M222.4 137.2h0M222.5 143.6h0M222.5 141.6h0M222.5 153.7h0M222.6 136.9h0M222.6 126.5h0M222.7 124.9h0M222.8 135.8h0M222.8 141h0M222.9 127.5h0M222.9 131.4h0M223 123.2h0M223 127.2h0M223.1 125.3h0M223.2 124.3h0M223.2 135.5h0M223.3 114.9h0M223.3 129.3h0M223.4 129h0M223.4 135.1h0M223.5 134.9h0M223.5 125.5h0M223.6 116.8h0M223.6 124.3h0M223.7 126.8h0M223.7 132.8h0M223.8 127.5h0M223.8 112.7h0M223.9 131.9h0M223.9 124.6h0M224 126.7h0M224 122.6h0M224 131.2h0M224.1 138.8h0M224.1 130.5h0M224.2 131.5h0M224.2 128.6h0M224.3 123.7h0M224.4 138.4h0M224.4 115.8h0M224.5 119.5h0M224.5 120.5h0M224.6 124.3h0M224.7 124.8h0M224.8 125.1h0M224.8 130.2h0M224.9 135.5h0M224.9 127.6h0M225 140.5h0M225 142.5h0M225.1 127.1h0M225.1 135.1h0M225.2 127.3h0M225.2 131.2h0M225.3 113.8h0M225.3 133.3h0M225.4 124.6h0M225.4 120.5h0M225.5 143.8h0M225.5 116.3h0M225.5 124.5h0M225.6 116.9h0M225.7 131.2h0M225.7 128.6h0M225.8 115.3h0M225.8 122.7h0M225.9 128.5h0M225.9 114.6h0M226 115.5h0M226.1 115.1h0M226.1 122.1h0M226.2 114.7h0M226.2 123.9h0M226.3 129h0M226.3 127.7h0M226.4 125.3h0M226.4 124.1h0M226.5 125.4h0M226.6 128.7h0M226.6 126.9h0M226.7 119.1h0M226.7 127h0M226.8 117.6h0M226.8 115.2h0M226.9 129.7h0M226.9 129.2h0M227 125.1h0M227 122.9h0M227.1 127.4h0M227.1 128.3h0M227.1 136.9h0M227.2 124.3h0M227.2 118.5h0M227.3 120.7h0M227.3 125.4h0M227.4 110.4h0M227.4 125.6h0M227.5 117.6h0M227.5 119.5h0M227.6 124.5h0M227.7 121.5h0M227.7 123.4h0M227.8 124.7h0M227.8 118.8h0M227.9 119.8h0M227.9 120.5h0M228 124.6h0M228 114.8h0M228.1 122.5h0M228.1 133.6h0M228.2 132.4h0M228.2 122.3h0M228.3 129.9h0M228.3 123.8h0M228.4 124.6h0M228.4 139.6h0M228.5 121.3h0M228.5 122h0M228.6 129.8h0M228.6 124.3h0M228.6 130.2h0M228.7 120.9h0M228.7 138.7h0M228.8 127.9h0M228.8 133.7h0M228.9 133.2h0M228.9 119.1h0M229 121.1h0M229 129.4h0M229.1 133.8h0M229.1 123.3h0M229.2 138.2h0M229.2 136.2h0M229.3 137.3h0M229.3 128.1h0M229.4 129.3h0M229.4 137.4h0M229.5 132.2h0M229.5 127.1h0M229.6 126.6h0M229.6 122.4h0M229.7 129.2h0M229.7 127.9h0M229.8 132.9h0M229.8 129.8h0M229.9 118.6h0M229.9 123.7h0M230 121.7h0M230 129.1h0M230.1 139h0M230.1 131.8h0M230.1 126.5h0M230.2 117.4h0M230.2 122.1h0M230.3 127h0M230.3 124.4h0M230.4 120.9h0M230.4 121.6h0M230.5 118.7h0M230.5 123h0M230.6 131.2h0M230.6 135.8h0M230.7 120.3h0M230.8 116.1h0M230.8 129.1h0M230.9 112.2h0M230.9 121.3h0M231 122.4h0M231 121.4h0M231.1 119.9h0M231.1 127.3h0M231.2 123.5h0M231.2 125.1h0M231.3 143.8h0M231.3 126.3h0M231.4 115.2h0M231.5 127.6h0M231.5 123.4h0M231.6 120.8h0M231.6 129h0M231.7 120.8h0M231.7 126.8h0M231.7 134.1h0M231.8 141.4h0M231.9 128.3h0M231.9 134.6h0M232 118.3h0M232 138.9h0M232.1 124.5h0M232.1 120h0M232.2 120.1h0M232.2 135.3h0M232.3 138.5h0M232.3 120.4h0M232.4 129.1h0M232.4 130h0M232.5 124.3h0M232.5 129.1h0M232.6 127.9h0M232.6 130.2h0M232.7 129.9h0M232.7 146.7h0M232.8 130.8h0M232.8 124.3h0M232.9 132.7h0M233 121.4h0M233 134.5h0M233.1 122.3h0M233.1 120.9h0M233.2 120.3h0M233.2 134h0M233.3 136.3h0M233.3 121.7h0M233.5 120.3h0M233.5 123h0M233.6 126.3h0M233.6 129.2h0M233.7 126.6h0M233.7 131.6h0M233.8 129.8h0M233.8 124.7h0M233.9 125.6h0M233.9 126.1h0M234 138.6h0M234 137.4h0M234.1 134h0M234.1 141.5h0M234.2 136.4h0M234.2 132.3h0M234.3 138.2h0M234.3 133.1h0M234.4 133.5h0M234.4 141.4h0M234.5 129h0M234.5 137.9h0M234.6 128h0M234.6 137.9h0M234.7 132.6h0M234.7 122.8h0M234.8 133.3h0M234.8 121.9h0M234.8 114.5h0M234.9 120.1h0M234.9 137h0M235 119.4h0M235 115.9h0M235.1 124.7h0M235.1 116.8h0M235.2 117.4h0M235.2 140.6h0M235.3 124.2h0M235.3 124.6h0M235.4 130.9h0M235.5 123.9h0M235.5 109.7h0M235.6 129.5h0M235.6 121.8h0M235.7 134.1h0M235.7 124.1h0M235.8 123.7h0M235.8 139.2h0M235.9 138.7h0M236 124.2h0M236.1 119.1h0M236.1 130.8h0M236.2 121h0M236.2 128.4h0M236.3 133.9h0M236.3 131.4h0M236.3 124.1h0M236.4 133.8h0M236.4 130.8h0M236.5 116.2h0M236.5 131.1h0M236.6 125h0M236.6 122.8h0M236.7 131.6h0M236.7 131.6h0M236.8 135.4h0M236.8 139.2h0M236.9 123.1h0M237 135.7h0M237 120.8h0M237.1 129.5h0M237.1 141.1h0M237.2 135.9h0M237.2 125.8h0M237.3 148.3h0M237.3 129.2h0M237.4 128.5h0M237.4 123.9h0M237.5 145.1h0M237.5 124h0M237.6 125.2h0M237.6 142h0M237.7 131h0M237.7 132.9h0M237.8 143.9h0M237.8 129.5h0M237.8 134.1h0M237.9 145.1h0M237.9 131.9h0M238 135.5h0M238 129.2h0M238.1 130.2h0M238.1 136.8h0M238.2 142.6h0M238.2 125.2h0M238.3 123.2h0M238.3 139.3h0M238.4 127h0M238.4 129.5h0M238.5 132.4h0M238.5 126h0M238.6 132.8h0M238.6 114.1h0M238.7 136.3h0M238.7 129h0M238.8 146.6h0M238.8 130.2h0M238.9 139.6h0M238.9 152.8h0M239 136.1h0M239 130.7h0M239.1 139.8h0M239.1 133.9h0M239.2 139.1h0M239.2 134.6h0M239.3 150.4h0M239.3 130.2h0M239.4 142.6h0M239.4 134.5h0M239.4 133.6h0M239.5 134.5h0M239.5 126.7h0M239.6 140.9h0M239.6 136.2h0M239.7 116.5h0M239.7 121.8h0M239.8 127.5h0M239.8 127.8h0M239.9 122.7h0M239.9 132.5h0M240 138.9h0M240 131.3h0M240.1 136.6h0M240.1 125.8h0M240.2 139.1h0M240.2 130h0M240.3 129.6h0M240.3 122.7h0M240.4 126.8h0M240.4 131.8h0M240.5 137.1h0M240.5 118h0M240.6 129.5h0M240.6 127.2h0M240.7 129.7h0M240.7 128.8h0M240.8 135.2h0M240.8 121.8h0M240.9 120.1h0M240.9 130.8h0M240.9 122.5h0M241 130.8h0M241 135.2h0M241.1 127.5h0M241.1 119.2h0M241.2 125.6h0M241.2 139.8h0M241.3 122.2h0M241.3 124.8h0M241.4 123.3h0M241.5 135.3h0M241.6 125.7h0M241.6 133.4h0M241.7 136.1h0M241.7 125h0M241.8 115h0M241.8 143.5h0M241.9 131.5h0M241.9 142.4h0M242 131.3h0M242 140.4h0M242.1 128.8h0M242.2 137.4h0M242.3 119.6h0M242.3 129.3h0M242.4 128.7h0M242.4 133.1h0M242.5 135.3h0M242.5 130.7h0M242.6 141.2h0M242.6 123.1h0M242.7 132.4h0M242.7 133.6h0M242.8 126.5h0M242.8 128.1h0M242.9 123.5h0M242.9 137.2h0M243 139.1h0M243.1 148.1h0M243.1 134.3h0M243.2 143.1h0M243.2 130h0M243.3 129h0M243.4 126.7h0M243.4 142.7h0M243.5 134.7h0M243.6 129.3h0M243.6 134.6h0M243.7 152.6h0M243.7 141.2h0M243.8 120.2h0M243.9 133.6h0M243.9 131.1h0M244 129.9h0M244 127.9h0M244 129h0M244.1 133.2h0M244.1 122.4h0M244.2 124.7h0M244.2 136.3h0M244.3 130.9h0M244.3 137.9h0M244.4 129.5h0M244.4 142.2h0M244.5 126.2h0M244.5 109.5h0M244.6 126.2h0M244.6 132.2h0M244.7 140.8h0M244.7 147.4h0M244.8 146.9h0M244.8 138.8h0M244.9 136.2h0M244.9 125.7h0M245 139.4h0M245 134.6h0M245.1 134.3h0M245.1 123.8h0M245.2 131.7h0M245.2 127.9h0M245.3 124.5h0M245.3 120.4h0M245.4 129.7h0M245.4 132.6h0M245.5 128.7h0M245.5 122.9h0"/><use href="#real" stroke="#000"/><path stroke="#f21414" d="M48.4 124.8h0M48.7 135h0M49.4 148.1h0M54.4 124.9h0M55.5 122.4h0M58.1 145.3h0M62 134.7h0M62.7 137.5h0M64.7 128.8h0M64.8 120.5h0M65.8 134.8h0M69 143.3h0M70.4 140.5h0M73.4 123.6h0M75.2 141.4h0M75.4 129h0M76.3 125.7h0M77.5 127.8h0M77.8 132.7h0M79.9 135.2h0M82.1 145.7h0M82.7 135.1h0M83.3 134.4h0M83.6 133.8h0M85 134.2h0M85.8 137h0M89.7 144.5h0M90.5 129.2h0M92.4 139h0M93.5 139h0M93.7 119.1h0M94.1 131.2h0M95.1 138.5h0M95.3 126.1h0M96.9 142.9h0M97 144.9h0M98.6 150.3h0M100.3 133.5h0M101.4 135.2h0M101.9 130.5h0M102.1 137.5h0M105 132.8h0M110.5 131.2h0M111.7 121.3h0M114.4 116.4h0M114.9 135.1h0M115.6 117.3h0M117.2 127.1h0M117.4 133h0M117.6 140.2h0M119.1 144.6h0M119.5 128.5h0M120 126.6h0M121.4 119.3h0M122.4 132.9h0M122.5 134.9h0M125 144.4h0M125.3 137.5h0M128.7 137.9h0M130.3 130.5h0M131.9 143.2h0M132 125h0M132.9 134.3h0M134.1 135.6h0M134.6 137.6h0M135.8 132.5h0M136.6 138.3h0M136.9 138.1h0M137.9 123.3h0M139.4 134.1h0M140.6 138.8h0M142 130.9h0M142.5 137.2h0M144.9 143.4h0M145.9 121.2h0M148.6 128h0M149.7 124h0M150.3 124.1h0M151 145.9h0M151.2 136.1h0M151.6 119.9h0M152 126.9h0M153.7 127.5h0M154 116.3h0M154.7 129.3h0M154.8 118.1h0M155.5 125.1h0M156.7 147h0M158.2 135.9h0M160.3 126.8h0M160.8 124.1h0M161 135.5h0M162 126.2h0M162.4 124.4h0M164.5 141.2h0M165.7 150.3h0M166.3 142.6h0M166.6 131.8h0M167.7 130.5h0M167.8 122.5h0M168.4 133.4h0M169 140.3h0M169.4 135.7h0M170 132.9h0M170.2 135.9h0M174 136.9h0M174.2 115.5h0M174.9 145.9h0M177.3 136.6h0M177.6 131.6h0M180 134.3h0M180.4 130.7h0M183.5 142.8h0M183.9 145.1h0M184.3 138h0M185.1 140h0M185.6 148.4h0M186.8 129.9h0M188 146.2h0M189.7 139.1h0M191.1 121h0M192.4 124.3h0M193 128.5h0M194.8 131.6h0M196.7 140h0M197.7 124.1h0M197.8 134h0M198 123.5h0M198.6 130.6h0M199 122.5h0M202.2 123.2h0M202.8 137.1h0M203 131.3h0M203.4 138h0M203.7 128.3h0M204.9 129.2h0M206.1 128.9h0M208.7 121.4h0M209.3 118.8h0M210.5 120.2h0M211 117.7h0M211.5 128.2h0M211.6 120.3h0M211.7 120.7h0M213.6 123.7h0M214.1 131.2h0M214.9 135.5h0M216.8 128h0M219.2 126.9h0M219.6 126h0M220.9 138.7h0M221.6 120.3h0M222.3 125.6h0M222.7 122.4h0M223.1 134.7h0M224.3 139.5h0M224.6 127.8h0M224.7 116.7h0M225.6 119.6h0M226 128.1h0M226.5 111.1h0M227.6 113.6h0M230.7 132.9h0M231.4 119.4h0M231.8 125.9h0M232.9 130.1h0M233.2 122.1h0M233.4 127.7h0M233.4 114.4h0M235.4 130.6h0M235.9 121.7h0M236 125.8h0M236.9 125.4h0M241.4 128.4h0M241.5 128.7h0M242.1 136.4h0M242.2 132.8h0M242.4 130.1h0M243 135.6h0M243.3 149.3h0M243.5 126.2h0M243.8 127.5h0"/></g><g clip-path="none"><path d="M250.50 102.00 C250.57 103.03 250.18 106.10 250.90 108.20 C251.62 110.30 252.87 112.98 254.80 114.60 C256.73 116.22 259.60 116.93 262.50 117.90 C265.40 118.87 269.20 119.63 272.20 120.40 C275.20 121.17 277.93 121.88 280.50 122.50 C283.07 123.12 285.42 123.60 287.60 124.10 C289.78 124.60 292.18 124.92 293.60 125.50 C295.02 126.08 295.47 126.63 296.10 127.60 C296.73 128.57 297.33 130.30 297.40 131.30 C297.47 132.30 296.93 132.95 296.50 133.60 C296.07 134.25 296.28 134.58 294.80 135.20 C293.32 135.82 290.72 136.40 287.60 137.30 C284.48 138.20 279.63 139.32 276.10 140.60 C272.57 141.88 269.63 143.62 266.40 145.00 C263.17 146.38 259.22 147.27 256.70 148.90 C254.18 150.53 252.33 152.95 251.30 154.80 C250.27 156.65 250.63 159.13 250.50 160.00 Z" fill="rgba(255,0,0,0.16)" stroke="none"/><path d="M250.50 102.00 C250.57 103.03 250.18 106.10 250.90 108.20 C251.62 110.30 252.87 112.98 254.80 114.60 C256.73 116.22 259.60 116.93 262.50 117.90 C265.40 118.87 269.20 119.63 272.20 120.40 C275.20 121.17 277.93 121.88 280.50 122.50 C283.07 123.12 285.42 123.60 287.60 124.10 C289.78 124.60 292.18 124.92 293.60 125.50 C295.02 126.08 295.47 126.63 296.10 127.60 C296.73 128.57 297.33 130.30 297.40 131.30 C297.47 132.30 296.93 132.95 296.50 133.60 C296.07 134.25 296.28 134.58 294.80 135.20 C293.32 135.82 290.72 136.40 287.60 137.30 C284.48 138.20 279.63 139.32 276.10 140.60 C272.57 141.88 269.63 143.62 266.40 145.00 C263.17 146.38 259.22 147.27 256.70 148.90 C254.18 150.53 252.33 152.95 251.30 154.80 C250.27 156.65 250.63 159.13 250.50 160.00" fill="none" stroke="#dc2828" stroke-width="1.1"/><path d="M250.50 80.00 C250.55 82.15 250.55 89.57 250.80 92.90 C251.05 96.23 251.23 97.62 252.00 100.00 C252.77 102.38 254.52 105.53 255.40 107.20 C256.28 108.87 256.35 109.08 257.30 110.00 C258.25 110.92 259.75 111.62 261.10 112.70 C262.45 113.78 263.97 115.33 265.40 116.50 C266.83 117.67 268.27 118.80 269.70 119.70 C271.13 120.60 272.83 121.00 274.00 121.90 C275.17 122.80 275.98 123.85 276.70 125.10 C277.42 126.35 277.70 127.68 278.30 129.40 C278.90 131.12 280.20 133.87 280.30 135.40 C280.40 136.93 279.58 137.62 278.90 138.60 C278.22 139.58 277.02 140.13 276.20 141.30 C275.38 142.47 275.08 144.43 274.00 145.60 C272.92 146.77 271.32 147.40 269.70 148.30 C268.08 149.20 266.10 150.00 264.30 151.00 C262.50 152.00 260.70 153.22 258.90 154.30 C257.10 155.38 254.87 156.48 253.50 157.50 C252.13 158.52 251.17 159.92 250.70 160.40 Z" fill="rgba(190,190,190,0.6)" stroke="none"/><path d="M250.50 80.00 C250.55 82.15 250.55 89.57 250.80 92.90 C251.05 96.23 251.23 97.62 252.00 100.00 C252.77 102.38 254.52 105.53 255.40 107.20 C256.28 108.87 256.35 109.08 257.30 110.00 C258.25 110.92 259.75 111.62 261.10 112.70 C262.45 113.78 263.97 115.33 265.40 116.50 C266.83 117.67 268.27 118.80 269.70 119.70 C271.13 120.60 272.83 121.00 274.00 121.90 C275.17 122.80 275.98 123.85 276.70 125.10 C277.42 126.35 277.70 127.68 278.30 129.40 C278.90 131.12 280.20 133.87 280.30 135.40 C280.40 136.93 279.58 137.62 278.90 138.60 C278.22 139.58 277.02 140.13 276.20 141.30 C275.38 142.47 275.08 144.43 274.00 145.60 C272.92 146.77 271.32 147.40 269.70 148.30 C268.08 149.20 266.10 150.00 264.30 151.00 C262.50 152.00 260.70 153.22 258.90 154.30 C257.10 155.38 254.87 156.48 253.50 157.50 C252.13 158.52 251.17 159.92 250.70 160.40" fill="none" stroke="#222" stroke-width="1.15"/></g><path d="M42.50 36.00 H302.00 V195.20" fill="none" stroke="#5a5a5a" stroke-width="1.2"/><path d="M41.90 195.20 H302.60" fill="none" stroke="#333" stroke-width="1.15"/><path d="M250.50 36.00 V195.80 M42.50 35.40 V195.80" fill="none" stroke="#1e1e1e" stroke-width="1.2"/><path d="M39.60 175.36H42.50M39.60 135.58H42.50M39.60 95.80H42.50M39.60 56.02H42.50M47.20 195.20V197.80M144.05 195.20V197.80M240.90 195.20V197.80" stroke="#333" stroke-width="1.1" fill="none"/><text x="38.3" y="179.36" font-size="11.3" font-weight="bold" text-anchor="end" fill="#111" stroke="#111" stroke-width="0.3" font-family="Liberation Sans, sans-serif">0</text><text x="38.3" y="139.58" font-size="11.3" font-weight="bold" text-anchor="end" fill="#111" stroke="#111" stroke-width="0.3" font-family="Liberation Sans, sans-serif">2</text><text x="38.3" y="99.80" font-size="11.3" font-weight="bold" text-anchor="end" fill="#111" stroke="#111" stroke-width="0.3" font-family="Liberation Sans, sans-serif">4</text><text x="38.3" y="60.02" font-size="11.3" font-weight="bold" text-anchor="end" fill="#111" stroke="#111" stroke-width="0.3" font-family="Liberation Sans, sans-serif">6</text><text x="47.20" y="208.6" font-size="11.3" font-weight="bold" text-anchor="middle" fill="#111" stroke="#111" stroke-width="0.3" font-family="Liberation Sans, sans-serif">0</text><text x="144.05" y="208.6" font-size="11.3" font-weight="bold" text-anchor="middle" fill="#111" stroke="#111" stroke-width="0.3" font-family="Liberation Sans, sans-serif">2000</text><text x="240.90" y="208.6" font-size="11.3" font-weight="bold" text-anchor="middle" fill="#111" stroke="#111" stroke-width="0.3" font-family="Liberation Sans, sans-serif">4000</text><text x="250.70" y="32.9" font-size="11.3" font-weight="bold" text-anchor="middle" fill="#111" stroke="#111" stroke-width="0.3" font-family="Liberation Sans, sans-serif">0</text><text x="277.00" y="32.9" font-size="11.3" font-weight="bold" text-anchor="middle" fill="#111" stroke="#111" stroke-width="0.3" font-family="Liberation Sans, sans-serif">800</text><text x="303.10" y="32.9" font-size="11.3" font-weight="bold" text-anchor="middle" fill="#111" stroke="#111" stroke-width="0.3" font-family="Liberation Sans, sans-serif">1600</text><text x="146" y="223.5" font-size="13.5" font-weight="bold" text-anchor="middle" fill="#111" stroke="#111" stroke-width="0.3" font-family="Liberation Sans, sans-serif">Input X (decimal)</text><text transform="translate(24.0,116.3) rotate(-90)" x="0" y="0" font-size="13" font-weight="bold" text-anchor="middle" fill="#111" stroke="#111" stroke-width="0.3" font-family="Liberation Sans, sans-serif">Output Y</text><text transform="translate(312.6,115.5) rotate(90)" x="0" y="0" font-size="13" font-weight="bold" text-anchor="middle" fill="#111" stroke="#111" stroke-width="0.3" font-family="Liberation Sans, sans-serif">Density</text><circle cx="61.3" cy="50.9" r="1.45" fill="#000"/><circle cx="61.2" cy="65.6" r="1.4" fill="#f21414"/><text x="73.4" y="54.6" font-size="12.5" font-weight="bold" fill="#111" stroke="#111" stroke-width="0.3" font-family="Liberation Sans, sans-serif">Real</text><text x="73.4" y="69.9" font-size="12.6" font-weight="bold" fill="#111" stroke="#111" stroke-width="0.3" font-family="Liberation Sans, sans-serif">Predicted</text></g>
<g transform="translate(0,228)"><text x="20.15" y="19.4" font-size="18.9" text-anchor="middle" fill="#1a1a1a" font-family="Liberation Sans, sans-serif">(c)</text><text x="41.6" y="33.6" font-size="12.3" font-weight="bold" fill="#a8121c" stroke="#a8121c" stroke-width="0.3" font-family="Liberation Sans, sans-serif">RMSE:1.32</text><g clip-path="url(#cp)" fill="none" stroke-linecap="round" stroke-width="2.1"><path stroke="#f21414" d="M47.2 137.2h0M47.2 93.5h0M47.3 111.8h0M47.3 144.7h0M47.4 129h0M47.4 149h0M47.5 129.9h0M47.5 120h0M47.6 140.1h0M47.6 115.2h0M47.7 176.3h0M47.7 138.9h0M47.8 137.6h0M47.8 171.7h0M47.9 146h0M47.9 159.6h0M48 153.1h0M48 147.2h0M48.1 96.6h0M48.1 160.1h0M48.2 165.6h0M48.2 116.3h0M48.3 114.6h0M48.3 118.5h0M48.4 139h0M48.5 143.2h0M48.5 110.1h0M48.6 155.8h0M48.6 129.9h0M48.7 158.3h0M48.7 151.6h0M48.8 158h0M48.8 127.3h0M48.9 157.7h0M48.9 152.3h0M49 130h0M49 149.2h0M49.1 174h0M49.1 152.3h0M49.2 147.8h0M49.2 147.9h0M49.3 71.5h0M49.3 148.3h0M49.4 139.7h0M49.5 148.1h0M49.5 76.6h0M49.6 155h0M49.6 111.6h0M49.7 158.5h0M49.7 135.8h0M49.8 149.4h0M49.8 115h0M49.9 141.7h0M49.9 98.9h0M50 136.8h0M50 150.2h0M50.1 139.4h0M50.1 102.1h0M50.2 118.3h0M50.2 165.3h0M50.3 110.6h0M50.3 182.3h0M50.3 127.9h0M50.4 124.7h0M50.4 136.7h0M50.5 131.3h0M50.5 142.7h0M50.6 154.2h0M50.6 166.3h0M50.7 158.3h0M50.7 153.3h0M50.8 148h0M50.8 170.6h0M50.9 103.2h0M50.9 107.5h0M51 88.9h0M51 133.9h0M51.1 107.6h0M51.1 145.8h0M51.2 128.5h0M51.2 135.9h0M51.3 149.5h0M51.3 143.9h0M51.4 142.2h0M51.4 150.9h0M51.5 127.6h0M51.5 132.5h0M51.6 145.9h0M51.6 149.2h0M51.7 111.6h0M51.7 118.8h0M51.8 141.3h0M51.8 122.3h0M51.8 128.8h0M51.9 148.2h0M51.9 135.4h0M52 145.1h0M52 128.4h0M52.1 152.5h0M52.1 155.6h0M52.2 152.5h0M52.2 155.5h0M52.3 133.2h0M52.3 157.2h0M52.4 120.3h0M52.4 141.9h0M52.5 104.1h0M52.5 112h0M52.6 148h0M52.6 116.9h0M52.7 105.1h0M52.7 118.7h0M52.8 124.5h0M52.8 145.2h0M52.9 137.1h0M52.9 142.3h0M53 152.6h0M53 116.7h0M53.1 143.4h0M53.1 157.1h0M53.2 120.6h0M53.2 90.4h0M53.3 104.9h0M53.3 142h0M53.3 104.3h0M53.4 143.9h0M53.4 140h0M53.5 147h0M53.5 139h0M53.6 137.4h0M53.6 147.2h0M53.7 145.3h0M53.7 134.9h0M53.8 143.9h0M53.8 153.2h0M53.9 154.2h0M53.9 145.6h0M54 133.7h0M54 95.3h0M54.1 139.5h0M54.1 137.9h0M54.2 103.4h0M54.2 163.2h0M54.3 77.4h0M54.3 163.5h0M54.4 126.7h0M54.5 74.2h0M54.5 120.9h0M54.6 94.8h0M54.6 160.8h0M54.7 146.7h0M54.7 100.7h0M54.8 158.1h0M54.8 86.5h0M54.9 128.7h0M54.9 144.8h0M54.9 64.8h0M55 152h0M55 129.8h0M55.1 146.8h0M55.1 153.8h0M55.2 72.1h0M55.2 164h0M55.3 138.8h0M55.3 110h0M55.4 159.3h0M55.4 143.2h0M55.5 150h0M55.6 155.4h0M55.6 64.4h0M55.7 136.5h0M55.7 125.7h0M55.8 172.7h0M55.8 157.6h0M55.9 158.3h0M55.9 154.3h0M56 150.2h0M56 80.6h0M56.1 149.6h0M56.1 133.7h0M56.2 118.8h0M56.2 55.7h0M56.3 148h0M56.3 144.9h0M56.4 62.4h0M56.4 110.9h0M56.4 150.1h0M56.5 126.1h0M56.5 149.5h0M56.6 107.1h0M56.6 157.2h0M56.7 147.1h0M56.7 162.9h0M56.8 88.4h0M56.8 77.9h0M56.9 73.5h0M56.9 145.7h0M57 146.7h0M57 129h0M57.1 137.3h0M57.1 82.8h0M57.2 82h0M57.2 172.6h0M57.3 128.5h0M57.3 142.3h0M57.4 157.9h0M57.4 146.5h0M57.5 131.7h0M57.5 133.2h0M57.6 157.8h0M57.6 182.5h0M57.7 158h0M57.7 167.4h0M57.8 132.7h0M57.8 76.3h0M57.9 151.6h0M57.9 159.9h0M58 135.9h0M58 85.2h0M58 147.7h0M58.1 113.1h0M58.2 182.6h0M58.2 180.8h0M58.3 151h0M58.3 155.7h0M58.4 156h0M58.4 116.1h0M58.5 75.3h0M58.5 142.5h0M58.6 118.5h0M58.6 98.8h0M58.7 121.3h0M58.7 140.9h0M58.8 140.6h0M58.8 109.1h0M58.9 96h0M58.9 128.2h0M59 112.7h0M59 146.1h0M59.1 129.2h0M59.1 166.8h0M59.2 144.7h0M59.2 145.4h0M59.3 152h0M59.3 171.8h0M59.4 170h0M59.4 163.2h0M59.5 144h0M59.5 169.2h0M59.5 165.5h0M59.6 114.8h0M59.6 106h0M59.7 139.3h0M59.7 177.3h0M59.8 170.6h0M59.8 158.8h0M59.9 166.8h0M59.9 134.3h0M60 116h0M60 137.7h0M60.1 111.9h0M60.1 134.8h0M60.2 158.2h0M60.2 166.9h0M60.3 111.3h0M60.3 141.4h0M60.4 121.8h0M60.4 130.5h0M60.5 166.6h0M60.5 59.2h0M60.6 110.3h0M60.6 123.5h0M60.7 158.7h0M60.7 181.1h0M60.8 122h0M60.8 94h0M60.9 128.6h0M60.9 121.5h0M61 133.6h0M61 173.1h0M61 106.5h0M61.1 137.4h0M61.1 113.5h0M61.2 131.6h0M61.2 131.7h0M61.3 144.5h0M61.3 115.4h0M61.4 154.7h0M61.4 158.1h0M61.5 168.9h0M61.5 135.1h0M61.6 96.3h0M61.6 112h0M61.7 167.7h0M61.7 106.3h0M61.8 124.2h0M61.8 127.3h0M61.9 138.1h0M61.9 117.3h0M62 116.4h0M62.1 121.4h0M62.1 159.2h0M62.2 184.8h0M62.2 150.2h0M62.3 140.3h0M62.3 190.3h0M62.4 171.3h0M62.4 122.5h0M62.5 163.1h0M62.5 169.4h0M62.6 146.4h0M62.6 164.3h0M62.6 145.2h0M62.7 121.2h0M62.8 125.5h0M62.8 108.6h0M62.9 104.8h0M62.9 154.8h0M63 115.8h0M63 109.6h0M63.1 116.1h0M63.1 80.3h0M63.2 113.4h0M63.2 141.1h0M63.3 103.8h0M63.3 103.6h0M63.4 143.6h0M63.4 163.9h0M63.5 143.8h0M63.5 115.1h0M63.6 151.4h0M63.6 143.4h0M63.7 122.5h0M63.7 161.4h0M63.8 89.4h0M63.8 139.2h0M63.9 101.4h0M63.9 103.8h0M64 146.2h0M64 139.7h0M64.1 133h0M64.1 108.7h0M64.1 156.8h0M64.2 146.5h0M64.2 135h0M64.3 156.6h0M64.3 85.1h0M64.4 105.2h0M64.4 84.6h0M64.5 106.6h0M64.5 119.8h0M64.6 133.6h0M64.6 56.7h0M64.7 115.9h0M64.8 155h0M64.9 146.4h0M64.9 136.7h0M65 166h0M65 170.4h0M65.1 155.8h0M65.1 154.7h0M65.2 123.2h0M65.2 112.7h0M65.3 104.1h0M65.3 166.9h0M65.4 139.4h0M65.4 116.5h0M65.5 161.7h0M65.5 132.4h0M65.6 159.7h0M65.6 145h0M65.6 139.6h0M65.7 125.2h0M65.7 174.1h0M65.8 128.1h0M65.9 119.5h0M65.9 156.8h0M66 124.6h0M66 114.2h0M66.1 133.5h0M66.1 174.5h0M66.2 171.9h0M66.2 152.9h0M66.3 121.1h0M66.3 151h0M66.4 133.4h0M66.4 65.8h0M66.5 160h0M66.5 152.4h0M66.6 167.3h0M66.6 133.8h0M66.7 151.5h0M66.7 117.3h0M66.8 127.1h0M66.8 156.9h0M66.9 104.1h0M66.9 139.6h0M67 165.2h0M67 185.4h0M67.1 165.6h0M67.1 135.3h0M67.2 148.4h0M67.2 103.4h0M67.2 170.1h0M67.3 161.3h0M67.3 178.3h0M67.4 141.8h0M67.4 180h0M67.5 158.2h0M67.5 106.5h0M67.6 86.2h0M67.6 79.9h0M67.7 162.5h0M67.7 118.9h0M67.8 144.4h0M67.8 143.6h0M67.9 107.8h0M67.9 161.9h0M68 187.4h0M68 91.2h0M68.1 88.1h0M68.1 173.3h0M68.2 137.1h0M68.2 118.9h0M68.3 94.6h0M68.3 132.5h0M68.4 149h0M68.4 125.3h0M68.5 114.7h0M68.5 132.1h0M68.6 113.8h0M68.6 96.8h0M68.7 107.6h0M68.7 66.2h0M68.7 105.1h0M68.8 185.2h0M68.8 132.2h0M68.9 117.1h0M68.9 132.7h0M69 147.6h0M69.1 158.7h0M69.1 132.5h0M69.2 148.3h0M69.2 146.6h0M69.3 157.2h0M69.3 145.4h0M69.4 137.9h0M69.4 124.7h0M69.5 153.9h0M69.5 171.2h0M69.6 133.4h0M69.6 151.1h0M69.7 135h0M69.7 168.5h0M69.8 173.7h0M69.8 179.3h0M69.9 168.6h0M69.9 160.6h0M70 188.7h0M70 177.7h0M70.1 154.5h0M70.1 168.4h0M70.2 172.5h0M70.2 154.8h0M70.3 119.1h0M70.3 163h0M70.3 139.8h0M70.4 168.5h0M70.5 188.2h0M70.5 91.3h0M70.6 154h0M70.6 160.4h0M70.7 67.5h0M70.7 120.8h0M70.8 164h0M70.8 127.5h0M70.9 154.5h0M70.9 180.2h0M71 58.4h0M71 176.2h0M71.1 163.5h0M71.1 146.6h0M71.2 67.8h0M71.2 79.3h0M71.3 136.6h0M71.3 128.8h0M71.4 56.2h0M71.4 71.7h0M71.5 160.6h0M71.5 143.1h0M71.6 156.5h0M71.6 156.9h0M71.7 133.2h0M71.7 152h0M71.8 162.8h0M71.8 181.3h0M71.8 175.3h0M71.9 177.1h0M71.9 159.8h0M72 148.3h0M72 182.8h0M72.1 187.2h0M72.1 134.7h0M72.2 138.2h0M72.2 169.1h0M72.3 154.1h0M72.3 156.4h0M72.4 122h0M72.4 114.5h0M72.5 188.4h0M72.5 173.1h0M72.6 117.4h0M72.6 128.3h0M72.7 166.4h0M72.7 156.2h0M72.8 159.1h0M72.8 168.2h0M72.9 167.4h0M72.9 174.2h0M73 179.1h0M73 158h0M73.1 165.4h0M73.1 125.1h0M73.2 169.9h0M73.2 189h0M73.3 137.8h0M73.3 174.9h0M73.3 149h0M73.4 155.6h0M73.5 175h0M73.5 121.9h0M73.6 174.7h0M73.6 136.8h0M73.7 119.7h0M73.7 162.5h0M73.8 162.4h0M73.8 156.3h0M73.9 155.9h0M73.9 150.8h0M74 158.6h0M74 153h0M74.1 154.6h0M74.1 132.7h0M74.2 140h0M74.2 158.8h0M74.3 142.7h0M74.3 157.8h0M74.4 157.6h0M74.4 145.5h0M74.5 167.8h0M74.5 152.8h0M74.6 148h0M74.6 144.5h0M74.7 116.4h0M74.7 133.8h0M74.8 146h0M74.8 138.6h0M74.9 147.5h0M74.9 150.4h0M74.9 146.7h0M75 128.6h0M75 90.9h0M75.1 126.2h0M75.1 129.9h0M75.2 151h0M75.3 156.1h0M75.3 148.5h0M75.4 109.1h0M75.5 143.8h0M75.5 154.5h0M75.6 133.5h0M75.6 133.5h0M75.7 145.3h0M75.7 110.1h0M75.8 96.7h0M75.8 92.5h0M75.9 120.2h0M75.9 69.2h0M76 142.2h0M76 141.9h0M76.1 140.6h0M76.1 154h0M76.2 129.4h0M76.2 118.1h0M76.3 149h0M76.4 164.9h0M76.4 78.3h0M76.4 153.2h0M76.5 135.7h0M76.5 103.9h0M76.6 148.4h0M76.6 115.9h0M76.7 119.3h0M76.7 151.1h0M76.8 107.4h0M76.8 93.4h0M76.9 135.6h0M76.9 112.3h0M77 126.6h0M77 100.6h0M77.1 138.2h0M77.1 149h0M77.2 152.8h0M77.2 144.2h0M77.3 83.8h0M77.3 97.2h0M77.4 144.3h0M77.4 134.2h0M77.5 149.7h0M77.6 146h0M77.6 153.3h0M77.7 149.1h0M77.7 147h0M77.8 107.7h0M77.9 137.9h0M77.9 144.6h0M77.9 108.8h0M78 137.5h0M78 151.7h0M78.1 100.6h0M78.1 139.2h0M78.2 138.7h0M78.2 139.8h0M78.3 144.1h0M78.3 128.4h0M78.4 140h0M78.4 155.3h0M78.5 102.6h0M78.5 120.5h0M78.6 152h0M78.6 137.7h0M78.7 146.8h0M78.7 104.9h0M78.8 152.3h0M78.8 136.5h0M78.9 150.5h0M78.9 112.4h0M79 92.2h0M79 59.8h0M79.1 125.8h0M79.1 130.3h0M79.2 114.5h0M79.2 129.4h0M79.3 125.5h0M79.3 107.9h0M79.4 132.9h0M79.4 81h0M79.5 129.4h0M79.5 77.6h0M79.5 111.8h0M79.6 118.8h0M79.6 120.9h0M79.7 146.6h0M79.7 127h0M79.8 129.9h0M79.8 88h0M79.9 153.2h0M80 142.4h0M80 143.1h0M80.1 127.4h0M80.1 140.1h0M80.2 105.9h0M80.2 157.5h0M80.3 117.6h0M80.3 120.4h0M80.4 123h0M80.4 88.2h0M80.5 152.7h0M80.5 152h0M80.6 142.3h0M80.6 112h0M80.7 105.8h0M80.7 148.7h0M80.8 140.7h0M80.8 142.2h0M80.9 150.7h0M80.9 81.4h0M81 99.1h0M81 99.8h0M81 145.9h0M81.1 136.3h0M81.1 139.2h0M81.2 109.6h0M81.2 151.9h0M81.3 110.6h0M81.3 134h0M81.4 89.1h0M81.4 136.4h0M81.5 121.5h0M81.5 141.6h0M81.6 169.1h0M81.6 146.2h0M81.7 108.5h0M81.7 97h0M81.8 143h0M81.8 143.8h0M81.9 140.2h0M81.9 130h0M82 137.5h0M82 148.1h0M82.1 55.2h0M82.2 125.4h0M82.2 154h0M82.3 181h0M82.3 121.5h0M82.4 159h0M82.4 72.3h0M82.5 104.3h0M82.5 131h0M82.6 139.2h0M82.6 120.2h0M82.6 180.6h0M82.7 170.9h0M82.8 106.6h0M82.8 149.2h0M82.9 186.2h0M82.9 191.5h0M83 173.7h0M83 121.7h0M83.1 124.2h0M83.1 178.6h0M83.2 163.3h0M83.2 91.2h0M83.3 131.7h0M83.4 117h0M83.4 97.3h0M83.5 99.2h0M83.5 138h0M83.6 148.7h0M83.7 130.6h0M83.7 148.6h0M83.8 123.9h0M83.8 150.4h0M83.9 71.9h0M83.9 121.5h0M84 137h0M84 115.7h0M84.1 165h0M84.1 117.4h0M84.1 110.5h0M84.2 137.3h0M84.2 181.6h0M84.3 129.7h0M84.3 143.1h0M84.4 136h0M84.4 105.9h0M84.5 137.3h0M84.5 133.1h0M84.6 112.3h0M84.6 110.8h0M84.7 118.2h0M84.7 76.2h0M84.8 143.9h0M84.8 163.7h0M84.9 121.1h0M84.9 123.3h0M85 165.5h0M85.1 67.3h0M85.1 117.5h0M85.2 105.3h0M85.2 160.7h0M85.3 166.1h0M85.3 146.4h0M85.4 109.6h0M85.4 158.1h0M85.5 147.1h0M85.5 101h0M85.6 140.6h0M85.6 125.8h0M85.6 154.6h0M85.7 99h0M85.7 111.1h0M85.8 143.8h0M85.9 129.3h0M85.9 142.5h0M86 136.8h0M86 109.4h0M86.1 122.5h0M86.1 143.3h0M86.2 153.9h0M86.2 136.4h0M86.3 79.1h0M86.3 158.5h0M86.4 96.5h0M86.4 72.8h0M86.5 160.3h0M86.5 166.6h0M86.6 149.8h0M86.6 90.8h0M86.7 170h0M86.7 115.5h0M86.8 156.9h0M86.8 86.7h0M86.9 170.9h0M86.9 63.6h0M87 118.6h0M87 123.3h0M87.1 128.4h0M87.1 60.3h0M87.2 172.7h0M87.2 89.6h0M87.2 75.2h0M87.3 166.1h0M87.3 146.8h0M87.4 149.7h0M87.4 151.1h0M87.5 128.9h0M87.5 57.8h0M87.6 151.8h0M87.6 164.1h0M87.7 63.2h0M87.7 138.7h0M87.8 163.8h0M87.8 84.5h0M87.9 106.7h0M87.9 143.1h0M88 145.3h0M88 127.8h0M88.1 125h0M88.1 145.3h0M88.2 63.4h0M88.2 162h0M88.3 150.9h0M88.3 156.1h0M88.4 130.8h0M88.4 156.2h0M88.5 65.5h0M88.5 93.1h0M88.6 91.1h0M88.6 155.7h0M88.7 119.1h0M88.7 149.4h0M88.7 85h0M88.8 154.8h0M88.8 167.9h0M88.9 167.6h0M88.9 131.3h0M89 115.3h0M89 149.4h0M89.1 158.9h0M89.1 62.2h0M89.2 140h0M89.2 95.7h0M89.3 157.3h0M89.3 162.8h0M89.4 96.3h0M89.4 139.1h0M89.5 147.4h0M89.5 155.6h0M89.6 139.6h0M89.6 145.1h0M89.7 123.9h0M89.8 110.4h0M89.8 135.8h0M89.9 165.1h0M89.9 116.9h0M90 99.9h0M90 142.5h0M90.1 113.9h0M90.1 150.1h0M90.2 78.7h0M90.2 119.4h0M90.2 58.7h0M90.3 96h0M90.3 148.6h0M90.4 152.9h0M90.4 155.6h0M90.5 163.6h0M90.6 131.9h0M90.6 142.4h0M90.7 157.9h0M90.7 132.9h0M90.8 140.1h0M90.8 87.4h0M90.9 117.9h0M90.9 77h0M91 99.4h0M91 143.6h0M91.1 134.5h0M91.1 164.6h0M91.2 138.5h0M91.2 172.4h0M91.3 150.6h0M91.3 127.1h0M91.4 124.1h0M91.4 116.5h0M91.5 138h0M91.5 137.1h0M91.6 115.5h0M91.6 95.1h0M91.7 123.1h0M91.7 69.7h0M91.8 144.2h0M91.8 89.3h0M91.8 116.8h0M91.9 102.7h0M91.9 126.5h0M92 126.7h0M92 137.5h0M92.1 130.8h0M92.1 136h0M92.2 151.4h0M92.2 145.7h0M92.3 128.7h0M92.3 143.3h0M92.4 108.8h0M92.5 132h0M92.5 68.6h0M92.6 138.1h0M92.6 139.6h0M92.7 109.2h0M92.7 107.9h0M92.8 145.6h0M92.8 141.9h0M92.9 138.4h0M92.9 143.8h0M93 146.5h0M93 133.6h0M93.1 116.5h0M93.1 115.2h0M93.2 147.4h0M93.2 143h0M93.3 136.3h0M93.3 147.1h0M93.3 114.9h0M93.4 124.7h0M93.4 122.4h0M93.5 97.4h0M93.6 148.9h0M93.6 66.7h0M93.7 141.4h0M93.8 144.3h0M93.8 138.5h0M93.9 150.4h0M93.9 131h0M94 134.4h0M94 142.8h0M94.1 139.3h0M94.2 132.9h0M94.2 89h0M94.3 87.6h0M94.3 108.9h0M94.4 87.7h0M94.4 143.9h0M94.5 144.5h0M94.5 134.5h0M94.6 129.5h0M94.6 156.4h0M94.7 146.9h0M94.7 142.6h0M94.8 142.7h0M94.8 70.9h0M94.9 89.3h0M94.9 143.7h0M94.9 140.7h0M95 136.9h0M95 136.3h0M95.1 147h0M95.2 146h0M95.2 161.6h0M95.3 91.6h0M95.4 129.6h0M95.4 76h0M95.5 65.1h0M95.5 153.4h0M95.6 104.4h0M95.6 139.1h0M95.7 139.8h0M95.7 164.4h0M95.8 162.9h0M95.8 132.8h0M95.9 144.4h0M95.9 141.4h0M96 113.3h0M96 120.4h0M96.1 118.3h0M96.1 130.7h0M96.2 97.9h0M96.2 133h0M96.3 102.9h0M96.3 152.7h0M96.4 136.2h0M96.4 123.4h0M96.4 153.2h0M96.5 152.1h0M96.5 133.6h0M96.6 133.9h0M96.6 166.2h0M96.7 121.8h0M96.7 162.6h0M96.8 140.4h0M96.8 106.7h0M96.9 171h0M97 121.8h0M97.1 148.6h0M97.1 133.4h0M97.2 57h0M97.2 153.4h0M97.3 151.1h0M97.3 155.2h0M97.4 146.5h0M97.4 151.7h0M97.5 147.7h0M97.5 143.9h0M97.6 145.8h0M97.6 131.1h0M97.7 98.3h0M97.7 88.9h0M97.8 159.5h0M97.8 139.4h0M97.9 141.7h0M97.9 153h0M97.9 167.2h0M98 163.9h0M98 128.3h0M98.1 115.3h0M98.1 142.9h0M98.2 147.1h0M98.2 172.3h0M98.3 140.9h0M98.3 141.6h0M98.4 147.7h0M98.4 160.2h0M98.5 119.2h0M98.5 168h0M98.6 125.1h0M98.7 155.5h0M98.7 92.8h0M98.8 130.2h0M98.8 149.8h0M98.9 83.4h0M98.9 110.8h0M99 125.9h0M99 143.2h0M99.1 160.8h0M99.1 161.8h0M99.2 147.3h0M99.2 108h0M99.3 102.9h0M99.3 153.1h0M99.4 97.7h0M99.4 145.3h0M99.5 95.4h0M99.5 154.8h0M99.5 144.9h0M99.6 164h0M99.6 59.5h0M99.7 154.9h0M99.7 132.6h0M99.8 147h0M99.8 140.9h0M99.9 144.8h0M99.9 119h0M100 150.2h0M100 105.2h0M100.1 99.8h0M100.1 152.1h0M100.2 110.6h0M100.2 128.6h0M100.3 159.6h0M100.4 141.8h0M100.4 119.1h0M100.5 142.3h0M100.5 129.8h0M100.6 110.8h0M100.6 112.1h0M100.7 143.5h0M100.7 157h0M100.8 140.6h0M100.8 129h0M100.9 138.4h0M100.9 148.7h0M101 126.7h0M101 78.5h0M101 159.4h0M101.1 150h0M101.1 141.7h0M101.2 111.6h0M101.2 112.2h0M101.3 109.8h0M101.3 97.3h0M101.4 148h0M101.5 142.4h0M101.5 158h0M101.6 116.3h0M101.6 102.2h0M101.7 138.6h0M101.7 111h0M101.8 143.9h0M101.8 132.2h0M101.9 150.5h0M102 87.5h0M102 156.8h0M102.1 130.7h0M102.2 136.7h0M102.2 105.4h0M102.3 146.6h0M102.3 116.1h0M102.4 148.5h0M102.4 143.9h0M102.5 150.7h0M102.5 157.8h0M102.5 125.6h0M102.6 156.8h0M102.6 147.9h0M102.7 140.8h0M102.7 137.6h0M102.8 129.9h0M102.8 131h0M102.9 137.8h0M102.9 105.4h0M103 138.6h0M103 112.8h0M103.1 125.2h0M103.1 122.9h0M103.2 149.4h0M103.2 142.2h0M103.3 115.7h0M103.3 138.3h0M103.4 147.1h0M103.4 113.7h0M103.5 118h0M103.5 128.2h0M103.6 143.1h0M103.6 115.2h0M103.7 141.3h0M103.7 143.5h0M103.8 123.7h0M103.8 147.3h0M103.9 117.2h0M103.9 142.2h0M104 122.2h0M104 154.1h0M104.1 147.6h0M104.1 152.1h0M104.1 154.9h0M104.2 95.4h0M104.2 148.4h0M104.3 123.1h0M104.3 154.6h0M104.4 149.3h0M104.4 79.5h0M104.5 78.6h0M104.5 133.3h0M104.6 124.2h0M104.6 160.5h0M104.7 118h0M104.7 114.6h0M104.8 110.9h0M104.8 131.2h0M104.9 150h0M104.9 155.4h0M105 151.8h0M105.1 111.2h0M105.1 88.8h0M105.2 152.2h0M105.2 143.5h0M105.3 141.9h0M105.3 144.8h0M105.4 114.7h0M105.4 142.7h0M105.5 126.8h0M105.5 148.8h0M105.6 135.1h0M105.6 152.4h0M105.6 151.9h0M105.7 135.7h0M105.7 124.4h0M105.8 144.6h0M105.8 133.7h0M105.9 123.2h0M105.9 106.1h0M106 142.1h0M106 142.8h0M106.1 138.6h0M106.1 127.5h0M106.2 147.6h0M106.2 142.7h0M106.3 138.1h0M106.3 150.3h0M106.4 128.3h0M106.4 151.7h0M106.5 123.5h0M106.5 150.3h0M106.6 149.7h0M106.6 101.1h0M106.7 148.5h0M106.7 149.6h0M106.8 116.9h0M106.8 150.2h0M106.9 132.8h0M106.9 106h0M107 140.4h0M107 137.1h0M107.1 133.9h0M107.1 97.1h0M107.2 139.6h0M107.2 143.4h0M107.2 136.7h0M107.3 131.6h0M107.3 105.3h0M107.4 147.2h0M107.4 136.3h0M107.5 156.7h0M107.5 118.6h0M107.6 148.1h0M107.6 111.8h0M107.7 114.7h0M107.7 140.1h0M107.8 171.4h0M107.8 127.2h0M107.9 109.9h0M107.9 169.5h0M108 147.6h0M108 158.5h0M108.1 173.9h0M108.1 172h0M108.2 122.4h0M108.2 187.6h0M108.3 129.3h0M108.3 173.2h0M108.4 142.9h0M108.4 128.5h0M108.5 156.4h0M108.5 176.6h0M108.6 186.7h0M108.6 106h0M108.7 166.7h0M108.7 164.7h0M108.7 167.2h0M108.8 93.6h0M108.8 116.8h0M108.9 159.4h0M108.9 161.5h0M109 136.2h0M109 140.9h0M109.1 116.8h0M109.1 147.5h0M109.2 121.4h0M109.2 136.3h0M109.3 158.4h0M109.3 131.2h0M109.4 100.5h0M109.4 129.7h0M109.5 140.7h0M109.5 69h0M109.6 146h0M109.6 159.9h0M109.7 131.3h0M109.7 149.7h0M109.8 127.1h0M109.8 156.4h0M109.9 91h0M109.9 136.1h0M110 118.3h0M110 159h0M110.1 135.5h0M110.1 152.6h0M110.2 145.9h0M110.2 106.4h0M110.2 102.7h0M110.3 175.3h0M110.3 157.8h0M110.4 99.2h0M110.4 160.4h0M110.5 139.9h0M110.6 124.5h0M110.6 159.4h0M110.7 117.9h0M110.7 124.4h0M110.8 143h0M110.8 136h0M110.9 102.1h0M110.9 115.8h0M111 120.9h0M111 147.3h0M111.1 150h0M111.1 149.9h0M111.2 155.1h0M111.2 127.9h0M111.3 128.7h0M111.3 167.3h0M111.4 138.7h0M111.4 132.3h0M111.5 150.7h0M111.5 132.4h0M111.6 168.3h0M111.6 143.6h0M111.7 131.6h0M111.8 127.4h0M111.8 151.6h0M111.8 149.8h0M111.9 124.4h0M111.9 86.3h0M112 140.3h0M112 167h0M112.1 172.9h0M112.1 132.4h0M112.2 189.6h0M112.2 173.8h0M112.3 164.5h0M112.3 108.2h0M112.4 137.4h0M112.4 108.3h0M112.5 130.2h0M112.5 170.7h0M112.6 123.3h0M112.6 168.4h0M112.7 143.4h0M112.7 102.5h0M112.8 143.3h0M112.8 131.2h0M112.9 99.7h0M112.9 161.3h0M113 162.2h0M113 164.9h0M113.1 127.6h0M113.1 113.8h0M113.2 144.6h0M113.2 101.1h0M113.3 171.8h0M113.3 92.7h0M113.3 96.7h0M113.4 83.1h0M113.4 175.2h0M113.5 153.4h0M113.5 79.2h0M113.6 140.8h0M113.6 173.4h0M113.7 136.4h0M113.7 146.3h0M113.8 164.2h0M113.8 140.4h0M113.9 167.1h0M113.9 85.5h0M114 178.5h0M114 111.4h0M114.1 92.4h0M114.1 171.5h0M114.2 123.2h0M114.2 186h0M114.3 94.5h0M114.3 123.3h0M114.4 152.6h0M114.5 105.3h0M114.5 129.9h0M114.6 126.2h0M114.6 120.3h0M114.7 108.6h0M114.7 182.9h0M114.8 93.8h0M114.8 144.3h0M114.8 155h0M114.9 107.8h0M115 151.3h0M115 160.8h0M115.1 179.5h0M115.1 111.8h0M115.2 109.2h0M115.2 160h0M115.3 134.7h0M115.3 150.4h0M115.4 126.1h0M115.4 131.3h0M115.5 150.5h0M115.5 139h0M115.6 132.1h0M115.7 145.1h0M115.7 125.6h0M115.8 154.7h0M115.8 154.4h0M115.9 157.6h0M115.9 156.1h0M116 74.4h0M116 134.5h0M116.1 151.8h0M116.1 183.4h0M116.2 116.5h0M116.2 167.9h0M116.3 117.9h0M116.3 113.5h0M116.4 160.5h0M116.4 122.7h0M116.4 89.2h0M116.5 165.8h0M116.5 175.8h0M116.6 140.3h0M116.6 156.2h0M116.7 129.6h0M116.7 151.2h0M116.8 148.7h0M116.8 117.3h0M116.9 174.6h0M116.9 132.3h0M117 155h0M117 151.4h0M117.1 156.5h0M117.1 170.1h0M117.2 144.2h0M117.3 106.8h0M117.3 145.7h0M117.4 166.7h0M117.5 140.3h0M117.5 163.3h0M117.6 67.1h0M117.7 123.6h0M117.7 132.5h0M117.8 163h0M117.8 176.1h0M117.9 135.4h0M117.9 159.8h0M117.9 142.9h0M118 91.6h0M118 153.4h0M118.1 88h0M118.1 127.4h0M118.2 134.8h0M118.2 134.1h0M118.3 114.3h0M118.3 112.9h0M118.4 134.9h0M118.4 141.1h0M118.5 127.5h0M118.5 134h0M118.6 146.4h0M118.6 136.8h0M118.7 113.7h0M118.7 116.2h0M118.8 135.7h0M118.8 130.9h0M118.9 136.2h0M118.9 125.9h0M119 113.1h0M119 147.2h0M119.1 140.3h0M119.2 137h0M119.2 97.6h0M119.3 134.9h0M119.3 154.1h0M119.4 142.5h0M119.4 144.1h0M119.5 130.2h0M119.5 122.6h0M119.6 143.2h0M119.6 103h0M119.7 111.3h0M119.7 137.7h0M119.8 121.1h0M119.8 130.6h0M119.9 89.9h0M119.9 147.3h0M120 136.2h0M120.1 142.3h0M120.1 119.7h0M120.2 130.7h0M120.2 136.9h0M120.3 101.5h0M120.3 118.5h0M120.4 128.2h0M120.4 122h0M120.5 102.8h0M120.5 98.6h0M120.6 133.8h0M120.6 133.8h0M120.7 129h0M120.7 151.2h0M120.8 87.7h0M120.8 141h0M120.9 132.3h0M120.9 128.9h0M121 111h0M121 129.5h0M121 134.9h0M121.1 128.3h0M121.1 59h0M121.2 87.3h0M121.2 139h0M121.3 123.6h0M121.3 131.2h0M121.4 129.6h0M121.5 74.8h0M121.5 132.6h0M121.6 130.1h0M121.6 113.6h0M121.7 104.6h0M121.7 132.7h0M121.8 95.4h0M121.8 116.7h0M121.9 137.5h0M121.9 148.8h0M122 122.5h0M122 108.7h0M122.1 154.3h0M122.1 120h0M122.2 122.1h0M122.2 130.9h0M122.3 118.9h0M122.3 139.9h0M122.4 172h0M122.5 122.9h0M122.5 133.6h0M122.6 140.5h0M122.6 110.3h0M122.7 141.1h0M122.7 126.3h0M122.8 74h0M122.8 140.2h0M122.9 141.8h0M122.9 116.6h0M123 147.8h0M123 130.8h0M123.1 165.1h0M123.1 75.5h0M123.2 129.3h0M123.2 120.2h0M123.3 129.4h0M123.3 125.1h0M123.4 70.3h0M123.4 136.4h0M123.5 130.8h0M123.5 115.6h0M123.6 156.2h0M123.6 144.5h0M123.7 120.7h0M123.7 133.3h0M123.8 131.5h0M123.8 133.3h0M123.9 140h0M123.9 134.2h0M124 92.9h0M124 152.4h0M124.1 137.3h0M124.1 114.5h0M124.1 139.3h0M124.2 160.2h0M124.2 134.5h0M124.3 109.9h0M124.3 103.3h0M124.4 88.7h0M124.4 130h0M124.5 137.7h0M124.5 139.5h0M124.6 79.8h0M124.6 120.4h0M124.7 101.6h0M124.7 140.9h0M124.8 118.3h0M124.8 107.5h0M124.9 121.6h0M124.9 120.7h0M125 83.9h0M125.1 108.2h0M125.1 139.6h0M125.2 149.5h0M125.2 137.2h0M125.3 81.1h0M125.4 95.8h0M125.4 73.4h0M125.5 144h0M125.5 124.5h0M125.6 72.4h0M125.6 133h0M125.6 138.9h0M125.7 143.1h0M125.7 116.7h0M125.8 144.3h0M125.8 138h0M125.9 146.8h0M125.9 120.2h0M126 145.8h0M126 134.8h0M126.1 127.5h0M126.1 84.8h0M126.2 122h0M126.2 146.7h0M126.3 107h0M126.3 119.7h0M126.4 104h0M126.4 135h0M126.5 61.9h0M126.5 136.1h0M126.6 100.7h0M126.6 122.8h0M126.7 126.4h0M126.7 84.3h0M126.8 151.6h0M126.8 98.6h0M126.9 132.6h0M126.9 145.3h0M127 58.1h0M127 132.9h0M127.1 136h0M127.1 136.9h0M127.1 133.3h0M127.2 131h0M127.2 123.8h0M127.3 108.2h0M127.3 132.5h0M127.4 63.9h0M127.4 101.3h0M127.5 130h0M127.5 136.5h0M127.6 136.8h0M127.6 135.6h0M127.7 82.4h0M127.7 124h0M127.8 133.1h0M127.8 132.4h0M127.9 77.3h0M127.9 139.8h0M128 136.4h0M128 137.4h0M128.1 142.6h0M128.1 146.6h0M128.2 112.7h0M128.2 100.7h0M128.3 116.2h0M128.3 106.3h0M128.4 134.7h0M128.4 133.1h0M128.5 107.3h0M128.5 68.8h0M128.6 139.9h0M128.6 135.9h0M128.7 156h0M128.7 116.2h0M128.8 100.8h0M128.8 138.2h0M128.9 141h0M128.9 124h0M129 146.7h0M129 141.8h0M129.1 142.5h0M129.1 125.4h0M129.2 137.1h0M129.2 117.8h0M129.3 125.5h0M129.3 115.1h0M129.4 160.6h0M129.4 142.4h0M129.5 142.4h0M129.5 119.4h0M129.6 98.5h0M129.6 141h0M129.7 145.4h0M129.7 151.2h0M129.8 150.8h0M129.8 140.4h0M129.9 115.5h0M129.9 145.7h0M130 139.6h0M130 135.3h0M130.1 135.3h0M130.1 136.6h0M130.2 133h0M130.2 140.3h0M130.2 133.9h0M130.3 105.3h0M130.4 121.9h0M130.4 116.8h0M130.5 94.3h0M130.5 111.4h0M130.6 113.2h0M130.6 137h0M130.7 131.1h0M130.7 145.6h0M130.8 133h0M130.8 138.6h0M130.9 100.4h0M130.9 135.3h0M131 132.3h0M131 135.6h0M131.1 119.9h0M131.1 108.4h0M131.2 136.9h0M131.2 99.2h0M131.3 74.7h0M131.3 137.8h0M131.4 144.6h0M131.4 115.7h0M131.5 111.7h0M131.5 131.7h0M131.6 164.6h0M131.6 156.1h0M131.7 133.5h0M131.7 112.2h0M131.8 95.6h0M131.8 122.4h0M131.8 121.6h0M131.9 131.5h0M132 147.3h0M132.1 105.7h0M132.1 177.8h0M132.2 110.5h0M132.2 108.9h0M132.3 162.3h0M132.3 160.5h0M132.4 141.1h0M132.4 114.9h0M132.5 96.8h0M132.5 144.1h0M132.6 89.5h0M132.6 121.4h0M132.7 127.4h0M132.7 151h0M132.8 100.1h0M132.8 116.6h0M132.9 141.7h0M133 115h0M133 162.6h0M133.1 108.5h0M133.1 132.8h0M133.2 140h0M133.2 100.3h0M133.3 138.2h0M133.3 141.4h0M133.3 86.1h0M133.4 90.5h0M133.4 159.1h0M133.5 116.9h0M133.5 94.3h0M133.6 152.2h0M133.6 128.6h0M133.7 127.3h0M133.7 120.8h0M133.8 158.4h0M133.8 135.6h0M133.9 146.3h0M133.9 96h0M134 142.5h0M134 125.5h0M134.1 126.6h0M134.2 154.2h0M134.2 105.5h0M134.3 163.8h0M134.3 124.6h0M134.4 127.5h0M134.4 114.5h0M134.5 176.4h0M134.5 133.9h0M134.6 142.6h0M134.7 97.2h0M134.7 127.6h0M134.8 109h0M134.8 91.9h0M134.8 171.1h0M134.9 157h0M134.9 117.4h0M135 116.8h0M135 121h0M135.1 121.8h0M135.1 108.3h0M135.2 133.8h0M135.2 151.7h0M135.3 100.8h0M135.3 125.1h0M135.4 137.4h0M135.4 114.1h0M135.5 82.6h0M135.5 126.8h0M135.6 137.6h0M135.6 121h0M135.7 144.6h0M135.7 148.4h0M135.8 130.3h0M135.9 122.9h0M135.9 128.2h0M136 101.3h0M136 120.9h0M136.1 151.5h0M136.1 138.7h0M136.2 157.3h0M136.2 106.4h0M136.3 84h0M136.3 121.5h0M136.4 146.9h0M136.4 192h0M136.4 140.7h0M136.5 119.6h0M136.5 128h0M136.6 89.8h0M136.7 106.2h0M136.7 127h0M136.8 90.5h0M136.8 160.2h0M136.9 133.9h0M137 99h0M137 140.2h0M137.1 133.4h0M137.1 101.2h0M137.2 105.6h0M137.2 135.5h0M137.3 137.2h0M137.3 159.9h0M137.4 149.3h0M137.4 95.1h0M137.5 101h0M137.5 111.1h0M137.6 136.2h0M137.6 136.3h0M137.7 82.9h0M137.7 90.3h0M137.8 99.6h0M137.8 169.6h0M137.9 148.1h0M137.9 98.9h0M138 147.7h0M138 156.7h0M138.1 117.2h0M138.1 154.1h0M138.2 109.3h0M138.2 122.9h0M138.3 131.4h0M138.3 132.6h0M138.4 103.9h0M138.4 116h0M138.5 114.3h0M138.5 141.2h0M138.6 95.5h0M138.6 127h0M138.7 129.2h0M138.7 104.2h0M138.8 126.7h0M138.8 123.2h0M138.9 133h0M138.9 127.2h0M139 127.7h0M139 100.2h0M139.1 112.9h0M139.1 144.5h0M139.2 134.8h0M139.2 123.8h0M139.3 165.1h0M139.3 147.9h0M139.4 132.6h0M139.4 165.7h0M139.5 131.8h0M139.5 128.9h0M139.6 144.5h0M139.6 155.4h0M139.7 136.1h0M139.7 147.6h0M139.8 129.4h0M139.8 98.2h0M139.9 112h0M139.9 146.9h0M140 126.4h0M140 108h0M140.1 156h0M140.1 132h0M140.2 149.4h0M140.2 118h0M140.3 117h0M140.3 135.6h0M140.4 117.7h0M140.4 134h0M140.5 128h0M140.5 131.4h0M140.6 131.5h0M140.7 103.4h0M140.7 141.6h0M140.8 126.5h0M140.8 127.7h0M140.9 114.3h0M140.9 134.3h0M141 116h0M141 123.3h0M141 128.3h0M141.1 91.7h0M141.1 117.7h0M141.2 119.8h0M141.2 115.4h0M141.3 139h0M141.3 116.6h0M141.4 148.9h0M141.4 161.2h0M141.5 127.2h0M141.5 156.3h0M141.6 114.8h0M141.6 138.7h0M141.7 76.8h0M141.7 131.2h0M141.8 139.4h0M141.8 133.7h0M141.9 170.8h0M141.9 92.5h0M142 183.6h0M142.1 160.4h0M142.1 127.6h0M142.2 155.4h0M142.2 165.9h0M142.3 150.8h0M142.3 134h0M142.4 108.1h0M142.4 161.1h0M142.5 137.4h0M142.5 102.4h0M142.6 131.3h0M142.6 137.9h0M142.7 100.4h0M142.7 155.2h0M142.8 145h0M142.8 113.8h0M142.9 146.3h0M142.9 134.4h0M143 167.2h0M143 103.9h0M143.1 113.3h0M143.1 140.5h0M143.2 85.4h0M143.2 105h0M143.3 166.2h0M143.3 124.8h0M143.4 107h0M143.4 129h0M143.5 93.7h0M143.5 132.8h0M143.6 168.1h0M143.6 151.4h0M143.7 108.4h0M143.7 92.7h0M143.8 132.9h0M143.8 146.5h0M143.9 142.5h0M143.9 80.5h0M144 133h0M144 137.2h0M144 150.7h0M144.1 151.1h0M144.1 105.6h0M144.2 144.9h0M144.2 93.3h0M144.3 126.5h0M144.3 132.9h0M144.4 108.9h0M144.4 141.3h0M144.5 124.5h0M144.5 77.8h0M144.6 110.4h0M144.6 154.3h0M144.7 138.7h0M144.7 165.2h0M144.8 145h0M144.8 96.6h0M144.9 88.2h0M145 143.7h0M145 96.1h0M145.1 139.1h0M145.1 138.5h0M145.2 134.6h0M145.2 121.6h0M145.3 143h0M145.3 135.5h0M145.4 136.1h0M145.4 92.3h0M145.5 122h0M145.5 139.5h0M145.6 138h0M145.6 126.9h0M145.6 137.5h0M145.7 107.8h0M145.7 155.1h0M145.8 146h0M145.8 138.1h0M145.9 149.4h0M146 154.9h0M146 139h0M146.1 115h0M146.1 89.7h0M146.2 104.4h0M146.2 154.7h0M146.3 143.6h0M146.3 144.5h0M146.4 149.8h0M146.4 141.4h0M146.5 126.5h0M146.5 146.2h0M146.6 141.8h0M146.6 149.3h0M146.7 150.6h0M146.7 107.7h0M146.8 133.9h0M146.8 98.4h0M146.9 133.2h0M146.9 137.8h0M147 68.2h0M147 120.5h0M147.1 156.5h0M147.1 146.3h0M147.1 141h0M147.2 110.3h0M147.2 128.7h0M147.3 122.2h0M147.3 146.2h0M147.4 138.1h0M147.4 132h0M147.5 120h0M147.5 153.1h0M147.6 126.2h0M147.6 96.1h0M147.7 75.8h0M147.7 157.6h0M147.8 140.8h0M147.8 128.6h0M147.9 142.9h0M147.9 142.5h0M148 152.8h0M148 138.3h0M148.1 123.4h0M148.1 137.7h0M148.2 93.5h0M148.2 138.2h0M148.3 106.9h0M148.3 127.7h0M148.4 139.9h0M148.4 117.7h0M148.5 122.1h0M148.5 136.4h0M148.6 153.9h0M148.7 95.5h0M148.7 121.1h0M148.7 96.4h0M148.8 149.1h0M148.8 119.1h0M148.9 110.9h0M148.9 114.6h0M149 111.2h0M149 143.5h0M149.1 119.9h0M149.1 121.7h0M149.2 94.4h0M149.2 134.1h0M149.3 121.8h0M149.3 120.4h0M149.4 107.4h0M149.4 127.9h0M149.5 125.3h0M149.5 127.3h0M149.6 127h0M149.6 120.1h0M149.7 133.7h0M149.8 132.6h0M149.8 125.2h0M149.9 130.9h0M149.9 149.9h0M150 118.4h0M150 138h0M150.1 139.9h0M150.1 125.2h0M150.2 112.7h0M150.2 127.3h0M150.2 122.3h0M150.3 125.2h0M150.4 132.1h0M150.4 142.3h0M150.5 131.3h0M150.5 139.1h0M150.6 124.6h0M150.6 131.6h0M150.7 135.2h0M150.7 149.2h0M150.8 143.5h0M150.8 159.4h0M150.9 140.4h0M150.9 113.5h0M151 131.7h0M151.1 130.6h0M151.1 120.7h0M151.2 141.7h0M151.3 115.9h0M151.3 136.9h0M151.4 123.9h0M151.4 82.2h0M151.5 147.5h0M151.5 126.3h0M151.6 119h0M151.7 147.8h0M151.7 134.3h0M151.7 148.7h0M151.8 143.7h0M151.8 137h0M151.9 157.1h0M151.9 133.4h0M152 133.7h0M152.1 151h0M152.1 89.1h0M152.2 139.1h0M152.2 122.7h0M152.3 134.4h0M152.3 134.1h0M152.4 150.9h0M152.4 126.2h0M152.5 116h0M152.5 101.5h0M152.6 158.2h0M152.6 149.9h0M152.7 128.9h0M152.7 123.8h0M152.8 127.5h0M152.8 158.2h0M152.9 60.1h0M152.9 94.6h0M153 120.6h0M153 153.5h0M153.1 171.2h0M153.1 154h0M153.2 160.9h0M153.2 161.8h0M153.3 120.3h0M153.3 150.4h0M153.3 130.2h0M153.4 142.2h0M153.4 138.8h0M153.5 125h0M153.5 138.4h0M153.6 145.2h0M153.6 169.3h0M153.7 162.7h0M153.8 149.1h0M153.8 174.3h0M153.9 148.1h0M153.9 133.7h0M154 132.2h0M154.1 145.4h0M154.1 117.8h0M154.2 169.2h0M154.2 176h0M154.3 160h0M154.3 131.1h0M154.4 129.1h0M154.4 109.6h0M154.5 112.8h0M154.5 168.7h0M154.6 131.6h0M154.6 119.5h0M154.7 150.4h0M154.8 129.1h0M154.8 105h0M154.9 107.1h0M154.9 162.2h0M155 97.5h0M155 62.9h0M155.1 145h0M155.1 141.5h0M155.2 142.7h0M155.2 142.9h0M155.3 121h0M155.3 145.6h0M155.4 163.6h0M155.4 152.8h0M155.5 149.3h0M155.6 87h0M155.6 99.9h0M155.7 136.3h0M155.7 123.3h0M155.8 154.4h0M155.8 165.8h0M155.9 167.5h0M155.9 151.6h0M156 186.5h0M156 169.9h0M156.1 93.7h0M156.1 173.9h0M156.2 140.3h0M156.2 148.7h0M156.3 168h0M156.3 131.8h0M156.3 128.3h0M156.4 124.6h0M156.4 135.6h0M156.5 153.8h0M156.5 157.9h0M156.6 152.4h0M156.6 131.4h0M156.7 127h0M156.8 166.3h0M156.8 94.1h0M156.9 119.9h0M156.9 134.3h0M157 88.5h0M157 118.7h0M157.1 161.2h0M157.1 109.5h0M157.2 107.7h0M157.2 127.7h0M157.3 125.8h0M157.3 164.1h0M157.4 175.5h0M157.4 157h0M157.5 120.5h0M157.5 130.5h0M157.6 127.6h0M157.6 126.1h0M157.7 106.1h0M157.7 147.3h0M157.8 138.3h0M157.8 142h0M157.9 134h0M157.9 142.8h0M157.9 141.5h0M158 104.5h0M158 132.9h0M158.1 128.6h0M158.1 137.8h0M158.2 112.6h0M158.3 140.5h0M158.3 144.2h0M158.4 113.4h0M158.4 140.2h0M158.5 156.4h0M158.5 143.4h0M158.6 132.8h0M158.6 149.2h0M158.7 106.8h0M158.7 127.6h0M158.8 137.5h0M158.8 81.5h0M158.9 135.7h0M158.9 159.2h0M159 133.3h0M159 114h0M159.1 113.2h0M159.1 140.7h0M159.2 168.3h0M159.2 109.5h0M159.3 126.4h0M159.3 146.1h0M159.4 113.9h0M159.4 93.2h0M159.4 143.4h0M159.5 99.5h0M159.5 110.5h0M159.6 146.5h0M159.6 140.4h0M159.7 138.6h0M159.7 169.4h0M159.8 154.2h0M159.8 155h0M159.9 144.8h0M159.9 173.5h0M160 157.7h0M160 160.3h0M160.1 111.3h0M160.1 141.1h0M160.2 174.8h0M160.2 128.1h0M160.3 166.5h0M160.4 127h0M160.4 123.7h0M160.5 158.9h0M160.5 99.8h0M160.6 134.7h0M160.6 163.5h0M160.7 113.6h0M160.7 110.4h0M160.8 159.6h0M160.9 159.3h0M160.9 111.1h0M161 132.4h0M161 112.8h0M161.1 157.3h0M161.1 148.2h0M161.2 165.8h0M161.2 139.8h0M161.3 168.7h0M161.3 129.7h0M161.4 136.2h0M161.4 123.1h0M161.5 112.6h0M161.5 155.5h0M161.6 130.9h0M161.6 164.4h0M161.7 107h0M161.7 177.4h0M161.8 124.9h0M161.8 163.4h0M161.9 122.4h0M161.9 98.8h0M162 118.7h0M162.1 172.8h0M162.1 179h0M162.2 135.9h0M162.2 147.5h0M162.3 158.4h0M162.3 159.5h0M162.4 124.1h0M162.5 140.3h0M162.5 153.7h0M162.5 138.7h0M162.6 106.8h0M162.6 109.1h0M162.7 121.3h0M162.7 140.8h0M162.8 156.9h0M162.8 127.2h0M162.9 132.6h0M162.9 113.2h0M163 132.9h0M163 126.1h0M163.1 110.6h0M163.1 137.6h0M163.2 104.8h0M163.2 133.4h0M163.3 126.9h0M163.3 99.3h0M163.4 159.8h0M163.4 153.3h0M163.5 134.8h0M163.5 129.8h0M163.6 157.3h0M163.6 133.2h0M163.7 157.1h0M163.7 159.5h0M163.8 146.8h0M163.8 142.4h0M163.9 141.5h0M163.9 82.5h0M164 120.4h0M164 126.3h0M164 93h0M164.1 129h0M164.1 146.4h0M164.2 158.5h0M164.2 169.8h0M164.3 89.7h0M164.3 121.7h0M164.4 163.2h0M164.4 110.4h0M164.5 107.6h0M164.6 85.8h0M164.6 117h0M164.7 116.1h0M164.7 131.5h0M164.8 127.3h0M164.8 118.9h0M164.9 164.5h0M164.9 142.6h0M165 83h0M165 160.5h0M165.1 120.2h0M165.1 169.6h0M165.2 129.9h0M165.2 154h0M165.3 143.5h0M165.3 152h0M165.4 153.6h0M165.4 98.7h0M165.5 142h0M165.5 117.7h0M165.6 102.2h0M165.6 104.5h0M165.6 102.5h0M165.7 114.4h0M165.8 165.6h0M165.8 126h0M165.9 86.6h0M165.9 145.5h0M166 122.7h0M166 184.3h0M166.1 158.1h0M166.1 186.9h0M166.2 175.1h0M166.2 166.9h0M166.3 179.4h0M166.4 112.8h0M166.4 113.2h0M166.5 110.7h0M166.5 128.5h0M166.6 182.1h0M166.7 178h0M166.7 129.8h0M166.8 124.8h0M166.8 184.5h0M166.9 122.1h0M166.9 158.9h0M167 168.8h0M167 152.7h0M167.1 125.5h0M167.1 130.3h0M167.1 100h0M167.2 157.4h0M167.2 169.2h0M167.3 130.5h0M167.3 131.1h0M167.4 102.7h0M167.4 111.7h0M167.5 147.4h0M167.5 150.7h0M167.6 140.1h0M167.6 174.1h0M167.7 161.5h0M167.8 127.2h0M167.9 127.9h0M167.9 162.1h0M168 117h0M168 172.6h0M168.1 147.7h0M168.1 180.3h0M168.2 166.5h0M168.2 162.4h0M168.3 162.4h0M168.3 133.2h0M168.4 177.5h0M168.5 167.8h0M168.5 156.6h0M168.6 94.5h0M168.6 128.3h0M168.6 191.1h0M168.7 177.2h0M168.7 130.4h0M168.8 66h0M168.8 166.4h0M168.9 145.9h0M168.9 110.7h0M169 114.2h0M169.1 157.4h0M169.1 162.5h0M169.2 118.4h0M169.2 175.7h0M169.3 119.6h0M169.3 132.8h0M169.4 143.1h0M169.5 163.4h0M169.5 138.8h0M169.6 145.6h0M169.6 154.3h0M169.7 142.7h0M169.7 151.3h0M169.8 143.7h0M169.8 153.8h0M169.9 110.7h0M169.9 145.1h0M170 152.2h0M170.1 157.4h0M170.1 108.2h0M170.2 161h0M170.2 115.4h0M170.3 145.5h0M170.3 81.3h0M170.4 134.3h0M170.4 98.5h0M170.5 156.7h0M170.5 156.3h0M170.6 123.4h0M170.6 94h0M170.7 149h0M170.7 115.9h0M170.8 128.9h0M170.8 108.3h0M170.9 110.7h0M170.9 148h0M171 147.2h0M171 155.7h0M171.1 148.9h0M171.1 118.6h0M171.2 158.9h0M171.2 95.8h0M171.3 142.7h0M171.3 153.5h0M171.4 118.7h0M171.4 136.9h0M171.5 155.2h0M171.5 148.3h0M171.6 109.3h0M171.6 140.5h0M171.7 109.7h0M171.7 139.4h0M171.7 116.3h0M171.8 138.9h0M171.8 149.5h0M171.9 136.1h0M171.9 123.7h0M172 147.4h0M172 114.1h0M172.1 139.1h0M172.1 143.7h0M172.2 123.7h0M172.2 134.2h0M172.3 126.8h0M172.3 153.1h0M172.4 134.8h0M172.4 141.8h0M172.5 138.1h0M172.5 145.7h0M172.6 109.2h0M172.6 113.1h0M172.7 144.7h0M172.7 137.2h0M172.8 133.2h0M172.8 124.7h0M172.9 144.9h0M172.9 130.4h0M173 76.5h0M173 142.5h0M173.1 127.8h0M173.1 148.5h0M173.2 145.1h0M173.2 143.3h0M173.3 150.1h0M173.3 150h0M173.3 91.9h0M173.4 146.8h0M173.4 142.8h0M173.5 149.6h0M173.5 143.3h0M173.6 160h0M173.6 129.2h0M173.7 146.9h0M173.7 118.1h0M173.8 125.1h0M173.8 145.2h0M173.9 155.4h0M173.9 130h0M174 149.6h0M174.1 143.9h0M174.1 128.5h0M174.2 125.8h0M174.3 135.3h0M174.3 134.1h0M174.4 132.7h0M174.4 154.8h0M174.5 146.1h0M174.5 132.3h0M174.6 148.4h0M174.6 148.6h0M174.7 93.2h0M174.7 139.7h0M174.8 111.5h0M174.8 128.2h0M174.8 117.1h0M174.9 119.5h0M175 147.4h0M175 141.2h0M175.1 138.8h0M175.1 151.2h0M175.2 138.3h0M175.2 141.8h0M175.3 119.3h0M175.3 132.8h0M175.4 154.6h0M175.4 70.5h0M175.5 157.5h0M175.5 71.1h0M175.6 137.3h0M175.6 126.5h0M175.7 131.1h0M175.7 104.7h0M175.8 134.7h0M175.8 150.8h0M175.9 165.7h0M175.9 151.5h0M176 147.4h0M176 130.3h0M176.1 110.1h0M176.1 118.4h0M176.2 130.4h0M176.2 101.9h0M176.3 121.7h0M176.3 78.1h0M176.3 64.6h0M176.4 132.2h0M176.4 128.1h0M176.5 101.8h0M176.5 124.1h0M176.6 124.9h0M176.6 161.2h0M176.7 151.3h0M176.7 116.6h0M176.8 122.8h0M176.8 158.3h0M176.9 164.5h0M176.9 152.3h0M177 143h0M177 142.2h0M177.1 164.2h0M177.1 181.4h0M177.2 147.9h0M177.2 139.5h0M177.3 152.4h0M177.4 147.4h0M177.4 101h0M177.5 112.4h0M177.5 122.2h0M177.6 136.6h0M177.7 114.2h0M177.7 124h0M177.8 155.7h0M177.8 163.4h0M177.9 98h0M177.9 111.4h0M177.9 136.5h0M178 132.4h0M178 160.3h0M178.1 105.8h0M178.1 131.5h0M178.2 92.4h0M178.2 136.1h0M178.3 130h0M178.3 144.6h0M178.4 139.5h0M178.4 114.1h0M178.5 111.9h0M178.5 141.5h0M178.6 126.5h0M178.6 119.5h0M178.7 124.3h0M178.7 146h0M178.8 167.5h0M178.8 159h0M178.9 152.7h0M178.9 78.9h0M179 184.1h0M179 138.9h0M179.1 112.5h0M179.1 183.8h0M179.2 124.2h0M179.2 169h0M179.3 176.5h0M179.3 138.9h0M179.4 133.5h0M179.4 142.1h0M179.4 142.4h0M179.5 181.8h0M179.5 106.6h0M179.6 135.5h0M179.6 155.2h0M179.7 130.2h0M179.7 168.4h0M179.8 169.7h0M179.8 164.4h0M179.9 152.8h0M179.9 167.5h0M180 159.7h0M180.1 154.1h0M180.1 145.4h0M180.2 153.3h0M180.2 153.5h0M180.3 112.5h0M180.3 143.3h0M180.4 98h0M180.5 134.4h0M180.5 162.9h0M180.6 140.8h0M180.6 118.2h0M180.7 153.7h0M180.7 131.8h0M180.8 121.3h0M180.8 176.7h0M180.9 160.4h0M180.9 116.3h0M180.9 148h0M181 153.7h0M181 148.3h0M181.1 149.9h0M181.1 161.9h0M181.2 156.1h0M181.2 141.9h0M181.3 100.4h0M181.3 148.3h0M181.4 162.1h0M181.4 145.7h0M181.5 114.9h0M181.5 126.1h0M181.6 157.4h0M181.6 129.6h0M181.7 142.3h0M181.7 126.9h0M181.8 109.4h0M181.8 130.1h0M181.9 156h0M181.9 162.6h0M182 152.1h0M182 115.2h0M182.1 130.4h0M182.1 164.1h0M182.2 168.6h0M182.2 138.9h0M182.3 166.2h0M182.3 130.3h0M182.4 138.4h0M182.4 161.1h0M182.5 139h0M182.5 151.9h0M182.5 148.9h0M182.6 129.7h0M182.6 162h0M182.7 110.2h0M182.7 100.3h0M182.8 149.7h0M182.8 106.1h0M182.9 183.1h0M182.9 152.3h0M183 177h0M183 155.1h0M183.1 74.5h0M183.1 178.2h0M183.2 102.4h0M183.2 124.9h0M183.3 180.7h0M183.3 121.6h0M183.4 169h0M183.4 159h0M183.5 106.6h0M183.6 170.2h0M183.6 134.1h0M183.7 146.3h0M183.7 143.5h0M183.8 98.3h0M183.8 137.9h0M183.9 147.5h0M184 119.9h0M184 162.8h0M184 154.4h0M184.1 165h0M184.1 135.2h0M184.2 161.6h0M184.2 160.7h0M184.3 160.1h0M184.4 122.1h0M184.4 175.4h0M184.5 161.1h0M184.5 131.8h0M184.6 104.6h0M184.6 126.1h0M184.7 141.6h0M184.7 132.5h0M184.8 136h0M184.8 145.5h0M184.9 144h0M184.9 152.2h0M185 120.7h0M185 142h0M185.1 120.8h0M185.2 145h0M185.2 153.4h0M185.3 140.7h0M185.3 112.6h0M185.4 142.5h0M185.4 141h0M185.5 130.2h0M185.5 141.6h0M185.6 160.9h0M185.6 107.9h0M185.7 115.8h0M185.7 136.2h0M185.8 142.8h0M185.8 134.9h0M185.9 122.8h0M185.9 148.9h0M186 108.6h0M186 129.4h0M186.1 145.1h0M186.1 86.3h0M186.2 127.7h0M186.2 117.3h0M186.3 141.2h0M186.3 130.1h0M186.4 144.3h0M186.4 150h0M186.5 101.9h0M186.5 118.1h0M186.6 141.5h0M186.6 137.8h0M186.7 134.6h0M186.7 83.7h0M186.8 122.1h0M186.9 148.8h0M186.9 142.8h0M187 121.9h0M187 104.6h0M187.1 117.9h0M187.1 121.9h0M187.1 95h0M187.2 131.3h0M187.2 162.3h0M187.3 141.7h0M187.3 144.4h0M187.4 146.9h0M187.4 88.7h0M187.5 139.7h0M187.5 153.6h0M187.6 145.8h0M187.6 130.5h0M187.7 141.3h0M187.7 119.1h0M187.8 117.6h0M187.8 136.5h0M187.9 136.8h0M187.9 151.5h0M188 150.2h0M188.1 128.3h0M188.1 135.5h0M188.2 149.1h0M188.2 143.8h0M188.3 137.6h0M188.3 138.7h0M188.4 117.8h0M188.4 147.1h0M188.5 139.7h0M188.5 152.9h0M188.6 145.5h0M188.6 137.1h0M188.6 128h0M188.7 133h0M188.7 90h0M188.8 151h0M188.8 107.1h0M188.9 117h0M188.9 158.7h0M189 140.2h0M189 150.1h0M189.1 147.9h0M189.1 112.9h0M189.2 119.6h0M189.2 122.3h0M189.3 135h0M189.3 131.8h0M189.4 125.9h0M189.4 139.4h0M189.5 144.4h0M189.5 133.5h0M189.6 86.7h0M189.6 130.6h0M189.7 135.8h0M189.8 134.2h0M189.8 129.6h0M189.9 122.4h0M189.9 119.4h0M190 133.3h0M190 90.3h0M190.1 137.6h0M190.1 151.8h0M190.2 115.2h0M190.2 124.7h0M190.2 118.2h0M190.3 135.4h0M190.3 120.3h0M190.4 143.7h0M190.4 137.8h0M190.5 139.7h0M190.5 90.9h0M190.6 124.2h0M190.6 133.1h0M190.7 112.5h0M190.7 132.2h0M190.8 146.7h0M190.8 132h0M190.9 153h0M190.9 151.5h0M191 138.3h0M191 131.9h0M191.1 113.7h0M191.2 155.3h0M191.2 125.7h0M191.3 137.7h0M191.3 151.3h0M191.4 145.9h0M191.4 124.3h0M191.5 147.8h0M191.5 100.9h0M191.6 128.5h0M191.6 127.8h0M191.7 144.3h0M191.7 119.2h0M191.7 130.4h0M191.8 107.2h0M191.8 121.7h0M191.9 109.9h0M191.9 141.2h0M192 92.6h0M192 130.8h0M192.1 131.8h0M192.1 98.6h0M192.2 154.3h0M192.2 152.6h0M192.3 144h0M192.3 126.2h0M192.4 116.3h0M192.5 145.5h0M192.5 126h0M192.6 117.2h0M192.6 146.1h0M192.7 139.6h0M192.7 161h0M192.8 146.3h0M192.8 134.6h0M192.9 144.9h0M192.9 147.2h0M193 125h0M193.1 124.1h0M193.1 141.7h0M193.2 136h0M193.2 152.9h0M193.2 141.2h0M193.3 107.4h0M193.3 138.6h0M193.4 154.7h0M193.4 139.9h0M193.5 103.2h0M193.5 144.1h0M193.6 159.8h0M193.6 132.1h0M193.7 153h0M193.7 120.1h0M193.8 142h0M193.8 163.7h0M193.9 112.1h0M193.9 95.6h0M194 116.4h0M194 123h0M194.1 155.3h0M194.1 111.1h0M194.2 117.5h0M194.2 107h0M194.3 121.5h0M194.3 125.2h0M194.4 148.8h0M194.4 149.8h0M194.5 150.7h0M194.5 162.2h0M194.6 172.1h0M194.6 109h0M194.7 103h0M194.7 143h0M194.8 129.7h0M194.8 159.3h0M194.9 106.9h0M194.9 142.1h0M195 80.2h0M195 143.8h0M195.1 172.9h0M195.1 167.9h0M195.2 178.4h0M195.2 123.6h0M195.3 142.6h0M195.3 124h0M195.4 187.9h0M195.4 153.7h0M195.5 113h0M195.5 151.7h0M195.6 123.9h0M195.6 129.4h0M195.7 130.6h0M195.7 104.2h0M195.8 91.4h0M195.8 118h0M195.9 154.5h0M195.9 75h0M196 109.7h0M196 126.9h0M196.1 157.5h0M196.1 111.3h0M196.2 143.7h0M196.2 159.5h0M196.3 126.9h0M196.3 145.8h0M196.3 130h0M196.4 146.1h0M196.4 131.6h0M196.5 125.3h0M196.5 175.6h0M196.6 131.9h0M196.6 175.9h0M196.7 109.5h0M196.8 151.4h0M196.8 122.3h0M196.9 129.9h0M196.9 174.9h0M197 153.6h0M197 148.4h0M197.1 115.3h0M197.1 121h0M197.2 122.9h0M197.2 154.4h0M197.3 162.3h0M197.3 123.5h0M197.4 106.5h0M197.4 173h0M197.5 161.7h0M197.5 114.1h0M197.6 108.7h0M197.6 114.5h0M197.7 141.1h0M197.8 131h0M197.9 171.7h0M197.9 122.8h0M197.9 124.4h0M198 140.1h0M198.1 126.5h0M198.1 103.6h0M198.2 166.7h0M198.2 135.1h0M198.3 85.3h0M198.3 137.5h0M198.4 144.8h0M198.4 155.6h0M198.5 119.8h0M198.5 98.3h0M198.6 131h0M198.7 120.7h0M198.7 134h0M198.8 127.4h0M198.8 111.7h0M198.9 141.3h0M198.9 124.8h0M199 152.5h0M199.1 126.2h0M199.1 95.3h0M199.2 122.6h0M199.2 142h0M199.3 113.3h0M199.3 146.2h0M199.4 172.2h0M199.4 140.1h0M199.4 128.8h0M199.5 101.7h0M199.5 168.1h0M199.6 117.5h0M199.6 116.6h0M199.7 139.2h0M199.7 163.3h0M199.8 118.1h0M199.8 109.2h0M199.9 140.9h0M199.9 113.5h0M200 105.9h0M200 99.9h0M200.1 141.9h0M200.1 158.6h0M200.2 118.2h0M200.2 140.5h0M200.3 182h0M200.3 139.9h0M200.4 157.2h0M200.4 118.8h0M200.5 115.3h0M200.5 137.1h0M200.6 146.6h0M200.6 108.4h0M200.7 139.1h0M200.7 125.6h0M200.8 118.4h0M200.8 128.1h0M200.9 146.9h0M200.9 88.4h0M200.9 164.8h0M201 160.2h0M201 129.5h0M201.1 119.9h0M201.1 167.1h0M201.2 141.6h0M201.2 157.3h0M201.3 156.6h0M201.3 103.5h0M201.4 169.8h0M201.4 97.8h0M201.5 124.4h0M201.5 122.5h0M201.6 157.1h0M201.6 192.6h0M201.7 165.3h0M201.7 147.9h0M201.8 170.2h0M201.8 160.7h0M201.9 128.9h0M201.9 69.5h0M202 163.8h0M202 135h0M202.1 126.4h0M202.1 143.6h0M202.2 118.5h0M202.3 119.6h0M202.3 110.3h0M202.4 136.9h0M202.4 132.5h0M202.5 117.1h0M202.5 185.6h0M202.5 135.2h0M202.6 190h0M202.6 160.8h0M202.7 122.3h0M202.7 120h0M202.8 151.9h0M202.9 159.7h0M202.9 123h0M203 129.7h0M203.1 124.9h0M203.1 107.9h0M203.2 90h0M203.2 136.5h0M203.3 155.8h0M203.3 125.5h0M203.4 127.1h0M203.5 114.7h0M203.5 133.1h0M203.6 109.7h0M203.6 142h0M203.7 114.6h0M203.8 145.9h0M203.8 144.7h0M203.9 117.1h0M203.9 125.9h0M204 118.7h0M204 117.6h0M204 111.5h0M204.1 129.1h0M204.1 120.5h0M204.2 126.6h0M204.2 120.1h0M204.3 132.7h0M204.3 122.4h0M204.4 145.4h0M204.4 146.5h0M204.5 102.4h0M204.5 97.1h0M204.6 163.6h0M204.6 96.5h0M204.7 121.2h0M204.7 128.8h0M204.8 120.9h0M204.8 110.8h0M204.9 151.8h0M205 176.4h0M205 185h0M205.1 131.5h0M205.1 117.2h0M205.2 140.5h0M205.2 102.8h0M205.3 111.5h0M205.3 123.1h0M205.4 125.7h0M205.4 138.1h0M205.5 143.2h0M205.5 123.5h0M205.5 173.3h0M205.6 140.7h0M205.6 166h0M205.7 130.4h0M205.7 113.7h0M205.8 93.4h0M205.8 138.5h0M205.9 168.8h0M205.9 115.8h0M206 135.9h0M206 99.6h0M206.1 170.3h0M206.2 131.4h0M206.2 142.9h0M206.3 151.3h0M206.3 157.5h0M206.4 129h0M206.4 150.6h0M206.5 117.4h0M206.5 128.1h0M206.6 129.3h0M206.6 125.2h0M206.7 141.3h0M206.7 130.6h0M206.8 136.9h0M206.8 144.8h0M206.9 114h0M206.9 107.5h0M207 103.1h0M207 111.5h0M207.1 140.5h0M207.1 175.7h0M207.1 127.9h0M207.2 183.9h0M207.2 136.1h0M207.3 146.2h0M207.3 129.5h0M207.4 164.7h0M207.4 135.7h0M207.5 141.4h0M207.5 157.7h0M207.6 158.8h0M207.6 135h0M207.7 156.8h0M207.7 183.3h0M207.8 120.1h0M207.8 128h0M207.9 123.5h0M207.9 127.3h0M208 117.6h0M208 114.1h0M208.1 166h0M208.1 120.9h0M208.2 126h0M208.2 107.2h0M208.3 109.4h0M208.3 104.5h0M208.4 125.6h0M208.4 137h0M208.5 168.9h0M208.5 179.8h0M208.6 127.3h0M208.6 148.5h0M208.6 130.7h0M208.7 141.1h0M208.8 134.2h0M208.8 141.2h0M208.9 126.6h0M208.9 115.4h0M209 128h0M209 172.4h0M209.1 109.7h0M209.1 148.2h0M209.2 157.9h0M209.2 109h0M209.3 112.6h0M209.4 140.6h0M209.4 135.8h0M209.5 133h0M209.5 146.1h0M209.6 144.2h0M209.6 172.1h0M209.7 122.2h0M209.7 135h0M209.8 92.3h0M209.8 126.8h0M209.9 135.1h0M209.9 110.2h0M210 123h0M210 138.7h0M210.1 96.4h0M210.1 113.9h0M210.2 123.2h0M210.2 114.4h0M210.2 117.9h0M210.3 113h0M210.3 106.8h0M210.4 117.4h0M210.4 115.3h0M210.5 156.7h0M210.6 158.6h0M210.6 108.6h0M210.7 127.7h0M210.7 185.8h0M210.8 115.6h0M210.8 144h0M210.9 159.2h0M210.9 122.7h0M211 127.2h0M211.1 109.3h0M211.1 134.5h0M211.2 122.8h0M211.2 120.2h0M211.3 105.9h0M211.3 123h0M211.4 134h0M211.4 96.9h0M211.5 115.8h0M211.6 130.8h0M211.7 135.2h0M211.7 118.5h0M211.8 135.3h0M211.8 136.8h0M211.9 138.8h0M211.9 114.9h0M212 138.5h0M212 105.8h0M212.1 104.3h0M212.1 132.4h0M212.2 132.3h0M212.2 133.1h0M212.3 111.2h0M212.3 119.4h0M212.4 144.4h0M212.4 127.8h0M212.5 105.1h0M212.5 133.1h0M212.6 125.5h0M212.6 130.2h0M212.7 128.4h0M212.7 116.5h0M212.8 103.5h0M212.8 98.7h0M212.9 129.2h0M212.9 124h0M213 125.9h0M213 125.4h0M213.1 119h0M213.1 113.6h0M213.2 122.9h0M213.2 104.4h0M213.2 121.3h0M213.3 129.1h0M213.3 127.8h0M213.4 135.2h0M213.4 110.2h0M213.5 126.4h0M213.5 103.5h0M213.6 121.9h0M213.7 114.7h0M213.7 91.1h0M213.8 126.3h0M213.8 122.6h0M213.9 112.4h0M213.9 122.3h0M214 125.1h0M214 124.1h0M214.1 126.8h0M214.2 105h0M214.2 126h0M214.3 102.1h0M214.3 139.2h0M214.4 125.7h0M214.4 81.7h0M214.5 125.7h0M214.5 138.5h0M214.6 99.3h0M214.6 97.5h0M214.7 106.4h0M214.7 97.4h0M214.8 116.4h0M214.8 70.7h0M214.8 87.8h0M214.9 122.1h0M215 123.9h0M215 127.9h0M215.1 125.3h0M215.1 123.7h0M215.2 108.7h0M215.2 131.7h0M215.3 122.2h0M215.3 95.2h0M215.4 107.2h0M215.4 119.5h0M215.5 112.1h0M215.5 125.8h0M215.6 123.4h0M215.6 113.4h0M215.7 114h0M215.7 126.3h0M215.8 124.8h0M215.8 124.8h0M215.9 107.4h0M215.9 115.5h0M216 127.4h0M216 124.1h0M216.1 64.1h0M216.1 129.6h0M216.2 108h0M216.2 136h0M216.3 125h0M216.3 92.1h0M216.3 102.3h0M216.4 125.3h0M216.4 125.6h0M216.5 128.8h0M216.5 104.9h0M216.6 87.1h0M216.6 125.1h0M216.7 127.8h0M216.7 123.7h0M216.8 126.7h0M216.9 96.9h0M216.9 127.5h0M217 123.9h0M217 96.2h0M217.1 128.4h0M217.1 103.7h0M217.2 131.5h0M217.2 112.2h0M217.3 109.8h0M217.3 111h0M217.4 104h0M217.4 102.3h0M217.5 135.4h0M217.5 108.9h0M217.6 132h0M217.6 101.8h0M217.7 126.3h0M217.7 112.9h0M217.8 115.8h0M217.8 106.4h0M217.8 124.3h0M217.9 131.7h0M217.9 127.1h0M218 135.1h0M218 126.5h0M218.1 105.7h0M218.1 89.5h0M218.2 112.3h0M218.2 128.4h0M218.3 109.8h0M218.3 126h0M218.4 127.6h0M218.4 126.7h0M218.5 123.4h0M218.5 129.3h0M218.6 118h0M218.6 131.6h0M218.7 115h0M218.7 129.1h0M218.8 130.1h0M218.8 127h0M218.9 132.1h0M218.9 138.4h0M219 131.7h0M219 112.3h0M219.1 122.7h0M219.1 137.7h0M219.2 131h0M219.3 109.9h0M219.3 127.8h0M219.4 137.9h0M219.4 108.1h0M219.4 128.5h0M219.5 95.2h0M219.5 133.8h0M219.6 115.1h0M219.7 130h0M219.7 138h0M219.8 108.5h0M219.8 136.5h0M219.9 120.4h0M219.9 137h0M220 103.1h0M220 123.8h0M220.1 129.3h0M220.1 134.4h0M220.2 129.6h0M220.2 69.9h0M220.3 101.7h0M220.3 119.9h0M220.4 80h0M220.4 131h0M220.5 128.2h0M220.5 115.5h0M220.6 130.8h0M220.6 138.8h0M220.7 130.3h0M220.7 130.1h0M220.8 109.1h0M220.8 135.7h0M220.9 118.4h0M220.9 126.8h0M221 130.9h0M221 130.9h0M221.1 130.1h0M221.1 132.6h0M221.2 130.2h0M221.2 128h0M221.3 153.2h0M221.3 132.3h0M221.4 128.8h0M221.4 131.9h0M221.5 123.1h0M221.5 133.5h0M221.6 111h0M221.7 91.4h0M221.7 176.9h0M221.8 130.9h0M221.8 112.2h0M221.9 145.3h0M221.9 161.4h0M222 119.6h0M222 122.6h0M222.1 66.9h0M222.1 123.6h0M222.2 101.7h0M222.2 132.4h0M222.3 147.8h0M222.4 177.9h0M222.4 86.9h0M222.5 170.5h0M222.5 166.4h0M222.5 118.8h0M222.6 144.9h0M222.6 103.3h0M222.7 125.9h0M222.8 158.4h0M222.8 103.1h0M222.9 130.3h0M222.9 131.1h0M223 113.1h0M223 124.5h0M223.1 130.4h0M223.2 120.8h0M223.2 118.6h0M223.3 153.8h0M223.3 113.9h0M223.4 161.8h0M223.4 71.3h0M223.5 145h0M223.5 110h0M223.6 136.6h0M223.6 169.3h0M223.7 121.3h0M223.7 153.1h0M223.8 124.3h0M223.8 115.7h0M223.9 99h0M223.9 114.2h0M224 113.5h0M224 134h0M224 141.2h0M224.1 117.5h0M224.1 124h0M224.2 101.2h0M224.2 150.3h0M224.3 144.2h0M224.4 100.3h0M224.4 133.4h0M224.5 103.2h0M224.5 148.1h0M224.6 155.3h0M224.7 144.8h0M224.8 104.7h0M224.8 144.1h0M224.9 124.6h0M224.9 150.1h0M225 161h0M225 134.4h0M225.1 112.5h0M225.1 120.6h0M225.2 140.6h0M225.2 115.6h0M225.3 130.3h0M225.3 128.7h0M225.4 121.5h0M225.4 136.6h0M225.5 112.4h0M225.5 148.9h0M225.5 105.5h0M225.6 153h0M225.7 119.3h0M225.7 114.8h0M225.8 165.9h0M225.8 163.1h0M225.9 135.3h0M225.9 136.2h0M226 120h0M226.1 109.4h0M226.1 137.2h0M226.2 131.4h0M226.2 135.9h0M226.3 80.9h0M226.3 93.3h0M226.4 145.8h0M226.4 142.1h0M226.5 126.4h0M226.6 161h0M226.6 119h0M226.7 128.8h0M226.7 96.2h0M226.8 110.9h0M226.8 162.5h0M226.9 147.3h0M226.9 123.1h0M227 145.2h0M227 157h0M227.1 122.7h0M227.1 148.2h0M227.1 125.6h0M227.2 124.9h0M227.2 103.7h0M227.3 121.4h0M227.3 129.7h0M227.4 104.9h0M227.4 110.5h0M227.5 115h0M227.5 120.9h0M227.6 135.4h0M227.7 112.6h0M227.7 163.9h0M227.8 124.3h0M227.8 85.7h0M227.9 117.3h0M227.9 116.2h0M228 145.2h0M228 123.8h0M228.1 172.3h0M228.1 155.9h0M228.2 124.5h0M228.2 150.3h0M228.3 152.2h0M228.3 85.2h0M228.4 96.5h0M228.4 105.6h0M228.5 174.4h0M228.5 126.9h0M228.6 173.6h0M228.6 135.8h0M228.6 121.2h0M228.7 130.6h0M228.7 124.3h0M228.8 119.7h0M228.8 160.9h0M228.9 155.8h0M228.9 132h0M229 126.4h0M229 159.3h0M229.1 171.6h0M229.1 142.4h0M229.2 142.1h0M229.2 119.7h0M229.3 127.9h0M229.3 152h0M229.4 121h0M229.4 90.2h0M229.5 115.6h0M229.5 111.7h0M229.6 113.7h0M229.6 148.2h0M229.7 129.2h0M229.7 119.2h0M229.8 112.2h0M229.8 92h0M229.9 114.4h0M229.9 150.5h0M230 157.7h0M230 138.8h0M230.1 93.6h0M230.1 154h0M230.1 131.8h0M230.2 165.5h0M230.2 174.6h0M230.3 124.1h0M230.3 181.7h0M230.4 155.5h0M230.4 165h0M230.5 118.3h0M230.5 124h0M230.6 100.5h0M230.6 148.6h0M230.7 125.3h0M230.8 165.4h0M230.8 144.4h0M230.9 164.8h0M230.9 171.5h0M231 142.1h0M231 131.8h0M231.1 155.8h0M231.1 122.6h0M231.2 170.8h0M231.2 116h0M231.3 127.2h0M231.3 131.9h0M231.4 139.8h0M231.5 126.3h0M231.5 117.7h0M231.6 107.3h0M231.6 119.8h0M231.7 111.6h0M231.7 93.1h0M231.7 79.4h0M231.8 105.4h0M231.9 79.7h0M231.9 113h0M232 96.9h0M232 174.4h0M232.1 136.6h0M232.1 156.6h0M232.2 171.3h0M232.2 124.6h0M232.3 170.4h0M232.3 113.6h0M232.4 158.8h0M232.4 189.3h0M232.5 139.4h0M232.5 124.9h0M232.6 133.7h0M232.6 135.1h0M232.7 129.5h0M232.7 156.3h0M232.8 139.3h0M232.8 167.6h0M232.9 149.2h0M233 103.3h0M233 153.8h0M233.1 119.1h0M233.1 137.4h0M233.2 162.7h0M233.2 171.4h0M233.3 119h0M233.3 129.5h0M233.5 131.6h0M233.5 125.9h0M233.6 134.3h0M233.6 139.3h0M233.7 136.7h0M233.7 142.1h0M233.8 104.7h0M233.8 134.6h0M233.9 140.8h0M233.9 136.6h0M234 130.1h0M234 150.3h0M234.1 108h0M234.1 106.2h0M234.2 134.9h0M234.2 119.3h0M234.3 132h0M234.3 114h0M234.4 128.7h0M234.4 121.1h0M234.5 131h0M234.5 120.6h0M234.6 135.1h0M234.6 127.4h0M234.7 116.9h0M234.7 129.2h0M234.8 108.5h0M234.8 124.2h0M234.8 136.7h0M234.9 134.9h0M234.9 100.9h0M235 123.6h0M235 125.8h0M235.1 129.8h0M235.1 133.4h0M235.2 143.2h0M235.2 115.1h0M235.3 139.7h0M235.3 138.3h0M235.4 122h0M235.5 139.9h0M235.5 133.6h0M235.6 126.9h0M235.6 142.6h0M235.7 131.9h0M235.7 150.9h0M235.8 113.9h0M235.8 132.2h0M235.9 129.7h0M236 117.8h0M236.1 126h0M236.1 137h0M236.2 109h0M236.2 116.7h0M236.3 135.7h0M236.3 134.8h0M236.3 90.1h0M236.4 105.2h0M236.4 128.4h0M236.5 105.7h0M236.5 124.3h0M236.6 131.4h0M236.6 120.7h0M236.7 87.4h0M236.7 123h0M236.8 141.9h0M236.8 133.6h0M236.9 123.7h0M237 100.1h0M237 143.3h0M237.1 165.3h0M237.1 134.4h0M237.2 119.5h0M237.2 119.4h0M237.3 85.9h0M237.3 140.8h0M237.4 133.9h0M237.4 106.7h0M237.5 164.8h0M237.5 135.9h0M237.6 109.8h0M237.6 121.1h0M237.7 131.2h0M237.7 150.9h0M237.8 139.2h0M237.8 109.5h0M237.8 141.5h0M237.9 161.7h0M237.9 121.2h0M238 161.4h0M238 161.2h0M238.1 134.6h0M238.1 138.2h0M238.2 101.6h0M238.2 139.6h0M238.3 169.5h0M238.3 113.4h0M238.4 121.7h0M238.4 147.8h0M238.5 159.1h0M238.5 84.2h0M238.6 118.2h0M238.6 134.5h0M238.7 106.1h0M238.7 141h0M238.8 131.9h0M238.8 135.2h0M238.9 135.8h0M238.9 125.4h0M239 108.3h0M239 144.2h0M239.1 136.6h0M239.1 121.8h0M239.2 163.1h0M239.2 143.5h0M239.3 152.6h0M239.3 111.4h0M239.4 137.3h0M239.4 111.9h0M239.4 169.7h0M239.5 131.8h0M239.5 128.8h0M239.6 164.2h0M239.6 124.9h0M239.7 98.1h0M239.7 116.2h0M239.8 138h0M239.8 136.5h0M239.9 119.8h0M239.9 149.1h0M240 102.6h0M240 117.5h0M240.1 118.6h0M240.1 161.3h0M240.2 178.9h0M240.2 113.8h0M240.3 129.5h0M240.3 161.9h0M240.4 122.6h0M240.4 115.6h0M240.5 120.1h0M240.5 143.4h0M240.6 162.7h0M240.6 121.4h0M240.7 92.1h0M240.7 118.5h0M240.8 114.8h0M240.8 140h0M240.9 134.7h0M240.9 155.2h0M240.9 94.2h0M241 103.6h0M241 123.8h0M241.1 151.4h0M241.1 131.4h0M241.2 130.5h0M241.2 117.1h0M241.3 138.1h0M241.3 130.5h0M241.4 125.9h0M241.5 102h0M241.6 154.6h0M241.6 125.4h0M241.7 114.9h0M241.7 101.4h0M241.8 149.9h0M241.8 141.5h0M241.9 133.6h0M241.9 161.9h0M242 149.6h0M242 138.5h0M242.1 129.4h0M242.2 155.1h0M242.3 164.3h0M242.3 133.3h0M242.4 161.5h0M242.4 159.7h0M242.5 149.5h0M242.5 130.5h0M242.6 114h0M242.6 158.6h0M242.7 149.8h0M242.7 132.8h0M242.8 129.1h0M242.8 135.5h0M242.9 152.1h0M242.9 135.8h0M243 147h0M243.1 137.2h0M243.1 147.3h0M243.2 131.7h0M243.2 150.6h0M243.3 97.5h0M243.4 160.1h0M243.4 126.7h0M243.5 131.8h0M243.6 142.1h0M243.6 138h0M243.7 125.4h0M243.7 126.6h0M243.8 132h0M243.9 107.5h0M243.9 124.7h0M244 126.7h0M244 123.5h0M244 134.5h0M244.1 107.7h0M244.1 134.2h0M244.2 127.1h0M244.2 113.3h0M244.3 131.4h0M244.3 119.2h0M244.4 134.1h0M244.4 131.2h0M244.5 156.5h0M244.5 110.2h0M244.6 108.1h0M244.6 107.3h0M244.7 99.4h0M244.7 119.2h0M244.8 134.3h0M244.8 100.6h0M244.9 101.9h0M244.9 136.4h0M245 145.9h0M245 126.6h0M245.1 102.3h0M245.1 138.4h0M245.2 102.2h0M245.2 120.5h0M245.3 102.5h0M245.3 132.7h0M245.4 128h0M245.4 132.2h0M245.5 128.9h0M245.5 128.1h0"/><use href="#real" stroke="#000"/><path stroke="#f21414" d="M48.4 167h0M48.7 176.8h0M49.4 115.9h0M54.4 154.9h0M55.5 147.5h0M58.1 170.7h0M62 107.2h0M62.7 111.9h0M64.7 138.3h0M64.8 161.6h0M65.8 153.9h0M69 153.6h0M70.4 120.3h0M73.4 173.5h0M75.2 153.6h0M75.4 114.4h0M76.3 148.6h0M77.5 144.7h0M77.8 144h0M79.9 84.4h0M82.1 121.2h0M82.7 139.5h0M83.3 119.3h0M83.6 139.3h0M85 84.1h0M85.8 161.5h0M89.7 85.9h0M90.5 91.8h0M92.4 134.2h0M93.5 138.9h0M93.7 135.4h0M94.1 106.2h0M95.1 155.9h0M95.3 126.6h0M96.9 178.8h0M97 162.1h0M98.6 164.7h0M100.3 112.1h0M101.4 135.2h0M101.9 80.7h0M102.1 139.5h0M105 152.9h0M110.5 128.6h0M111.7 111.7h0M114.4 90.6h0M114.9 114.3h0M115.6 163h0M117.2 125h0M117.4 159.1h0M117.6 168.2h0M119.1 101.4h0M119.5 135.6h0M120 101.3h0M121.4 129.8h0M122.4 84.7h0M122.5 132.7h0M125 128.8h0M125.3 140.9h0M128.7 106.3h0M130.3 82.1h0M131.9 104h0M132 152.5h0M132.9 134.7h0M134.1 127.4h0M134.6 105.6h0M135.8 123.6h0M136.6 150.6h0M136.9 95.7h0M137.9 110.1h0M139.4 104.8h0M140.6 134.1h0M142 145.6h0M142.5 103.8h0M144.9 133.8h0M145.9 128.2h0M148.6 68.4h0M149.7 144.1h0M150.3 120.6h0M151 133.3h0M151.2 150.8h0M151.6 98.4h0M152 97.7h0M153.7 177.6h0M154 121.3h0M154.7 145.4h0M154.8 90.7h0M155.5 140.9h0M156.7 184.7h0M158.2 137.3h0M160.3 154.4h0M160.8 155.9h0M161 179.6h0M162 101.6h0M162.4 135.3h0M164.5 92.6h0M165.7 134.6h0M166.3 130.7h0M166.6 179.9h0M167.7 127.5h0M167.8 153.3h0M168.4 180.4h0M169 193.3h0M169.4 94.8h0M170 149.3h0M170.2 144.7h0M174 146.4h0M174.2 152.7h0M174.9 148.8h0M177.3 65.3h0M177.6 171h0M180 153.5h0M180.4 154.9h0M183.5 117.2h0M183.9 97.8h0M184.3 149.6h0M185.1 114.3h0M185.6 113.9h0M186.8 108.8h0M188 136.4h0M189.7 135.5h0M191.1 110h0M192.4 150.5h0M193 151.2h0M194.8 124.4h0M196.7 126.1h0M197.7 153.9h0M197.8 142.9h0M198 121.6h0M198.6 137.9h0M199 162h0M202.2 190.7h0M202.8 117.8h0M203 130.1h0M203.4 129.2h0M203.7 111.2h0M204.9 117.6h0M206.1 83.3h0M208.7 128.1h0M209.3 167.7h0M210.5 116.4h0M211 120.8h0M211.5 170.5h0M211.6 76.9h0M211.7 82.7h0M213.6 124.8h0M214.1 110h0M214.9 125.7h0M216.8 133.1h0M219.2 132.1h0M219.6 134.6h0M220.9 130.7h0M221.6 113h0M222.3 138.4h0M222.7 132.8h0M223.1 129.3h0M224.3 125.7h0M224.6 118.1h0M224.7 112.9h0M225.6 104.4h0M226 127.1h0M226.5 118.9h0M227.6 123.2h0M230.7 131.5h0M231.4 140.4h0M231.8 151.9h0M232.9 103h0M233.2 132.1h0M233.4 141.4h0M233.4 104.2h0M235.4 131.9h0M235.9 131.1h0M236 128.7h0M236.9 140.2h0M241.4 113.2h0M241.5 147.6h0M242.1 152.5h0M242.2 125h0M242.4 130.7h0M243 138.1h0M243.3 129.1h0M243.5 153.5h0M243.8 129.8h0"/></g><g clip-path="none"><path d="M250.50 52.00 C250.65 53.12 251.18 55.37 251.40 58.70 C251.62 62.03 251.48 67.62 251.80 72.00 C252.12 76.38 252.40 80.25 253.30 85.00 C254.20 89.75 255.80 95.75 257.20 100.50 C258.60 105.25 260.40 109.82 261.70 113.50 C263.00 117.18 264.00 120.35 265.00 122.60 C266.00 124.85 267.12 125.52 267.70 127.00 C268.28 128.48 268.55 128.98 268.50 131.50 C268.45 134.02 268.28 138.57 267.40 142.10 C266.52 145.63 264.90 148.92 263.20 152.70 C261.50 156.48 258.97 160.52 257.20 164.80 C255.43 169.08 253.67 173.62 252.60 178.40 C251.53 183.18 251.10 190.98 250.80 193.50 Z" fill="rgba(255,0,0,0.16)" stroke="none"/><path d="M250.50 52.00 C250.65 53.12 251.18 55.37 251.40 58.70 C251.62 62.03 251.48 67.62 251.80 72.00 C252.12 76.38 252.40 80.25 253.30 85.00 C254.20 89.75 255.80 95.75 257.20 100.50 C258.60 105.25 260.40 109.82 261.70 113.50 C263.00 117.18 264.00 120.35 265.00 122.60 C266.00 124.85 267.12 125.52 267.70 127.00 C268.28 128.48 268.55 128.98 268.50 131.50 C268.45 134.02 268.28 138.57 267.40 142.10 C266.52 145.63 264.90 148.92 263.20 152.70 C261.50 156.48 258.97 160.52 257.20 164.80 C255.43 169.08 253.67 173.62 252.60 178.40 C251.53 183.18 251.10 190.98 250.80 193.50" fill="none" stroke="#dc2828" stroke-width="1.1"/><path d="M250.50 80.00 C250.55 82.15 250.55 89.57 250.80 92.90 C251.05 96.23 251.23 97.62 252.00 100.00 C252.77 102.38 254.52 105.53 255.40 107.20 C256.28 108.87 256.35 109.08 257.30 110.00 C258.25 110.92 259.75 111.62 261.10 112.70 C262.45 113.78 263.97 115.33 265.40 116.50 C266.83 117.67 268.27 118.80 269.70 119.70 C271.13 120.60 272.83 121.00 274.00 121.90 C275.17 122.80 275.98 123.85 276.70 125.10 C277.42 126.35 277.70 127.68 278.30 129.40 C278.90 131.12 280.20 133.87 280.30 135.40 C280.40 136.93 279.58 137.62 278.90 138.60 C278.22 139.58 277.02 140.13 276.20 141.30 C275.38 142.47 275.08 144.43 274.00 145.60 C272.92 146.77 271.32 147.40 269.70 148.30 C268.08 149.20 266.10 150.00 264.30 151.00 C262.50 152.00 260.70 153.22 258.90 154.30 C257.10 155.38 254.87 156.48 253.50 157.50 C252.13 158.52 251.17 159.92 250.70 160.40 Z" fill="rgba(190,190,190,0.6)" stroke="none"/><path d="M250.50 80.00 C250.55 82.15 250.55 89.57 250.80 92.90 C251.05 96.23 251.23 97.62 252.00 100.00 C252.77 102.38 254.52 105.53 255.40 107.20 C256.28 108.87 256.35 109.08 257.30 110.00 C258.25 110.92 259.75 111.62 261.10 112.70 C262.45 113.78 263.97 115.33 265.40 116.50 C266.83 117.67 268.27 118.80 269.70 119.70 C271.13 120.60 272.83 121.00 274.00 121.90 C275.17 122.80 275.98 123.85 276.70 125.10 C277.42 126.35 277.70 127.68 278.30 129.40 C278.90 131.12 280.20 133.87 280.30 135.40 C280.40 136.93 279.58 137.62 278.90 138.60 C278.22 139.58 277.02 140.13 276.20 141.30 C275.38 142.47 275.08 144.43 274.00 145.60 C272.92 146.77 271.32 147.40 269.70 148.30 C268.08 149.20 266.10 150.00 264.30 151.00 C262.50 152.00 260.70 153.22 258.90 154.30 C257.10 155.38 254.87 156.48 253.50 157.50 C252.13 158.52 251.17 159.92 250.70 160.40" fill="none" stroke="#222" stroke-width="1.15"/></g><path d="M42.50 36.00 H302.00 V195.20" fill="none" stroke="#5a5a5a" stroke-width="1.2"/><path d="M41.90 195.20 H302.60" fill="none" stroke="#333" stroke-width="1.15"/><path d="M250.50 36.00 V195.80 M42.50 35.40 V195.80" fill="none" stroke="#1e1e1e" stroke-width="1.2"/><path d="M39.60 175.36H42.50M39.60 135.58H42.50M39.60 95.80H42.50M39.60 56.02H42.50M47.20 195.20V197.80M144.05 195.20V197.80M240.90 195.20V197.80" stroke="#333" stroke-width="1.1" fill="none"/><text x="38.3" y="179.36" font-size="11.3" font-weight="bold" text-anchor="end" fill="#111" stroke="#111" stroke-width="0.3" font-family="Liberation Sans, sans-serif">0</text><text x="38.3" y="139.58" font-size="11.3" font-weight="bold" text-anchor="end" fill="#111" stroke="#111" stroke-width="0.3" font-family="Liberation Sans, sans-serif">2</text><text x="38.3" y="99.80" font-size="11.3" font-weight="bold" text-anchor="end" fill="#111" stroke="#111" stroke-width="0.3" font-family="Liberation Sans, sans-serif">4</text><text x="38.3" y="60.02" font-size="11.3" font-weight="bold" text-anchor="end" fill="#111" stroke="#111" stroke-width="0.3" font-family="Liberation Sans, sans-serif">6</text><text x="47.20" y="208.6" font-size="11.3" font-weight="bold" text-anchor="middle" fill="#111" stroke="#111" stroke-width="0.3" font-family="Liberation Sans, sans-serif">0</text><text x="144.05" y="208.6" font-size="11.3" font-weight="bold" text-anchor="middle" fill="#111" stroke="#111" stroke-width="0.3" font-family="Liberation Sans, sans-serif">2000</text><text x="240.90" y="208.6" font-size="11.3" font-weight="bold" text-anchor="middle" fill="#111" stroke="#111" stroke-width="0.3" font-family="Liberation Sans, sans-serif">4000</text><text x="250.70" y="32.9" font-size="11.3" font-weight="bold" text-anchor="middle" fill="#111" stroke="#111" stroke-width="0.3" font-family="Liberation Sans, sans-serif">0</text><text x="277.00" y="32.9" font-size="11.3" font-weight="bold" text-anchor="middle" fill="#111" stroke="#111" stroke-width="0.3" font-family="Liberation Sans, sans-serif">800</text><text x="303.10" y="32.9" font-size="11.3" font-weight="bold" text-anchor="middle" fill="#111" stroke="#111" stroke-width="0.3" font-family="Liberation Sans, sans-serif">1600</text><text x="146" y="223.5" font-size="13.5" font-weight="bold" text-anchor="middle" fill="#111" stroke="#111" stroke-width="0.3" font-family="Liberation Sans, sans-serif">Input X (decimal)</text><text transform="translate(24.0,116.3) rotate(-90)" x="0" y="0" font-size="13" font-weight="bold" text-anchor="middle" fill="#111" stroke="#111" stroke-width="0.3" font-family="Liberation Sans, sans-serif">Output Y</text><text transform="translate(312.6,115.5) rotate(90)" x="0" y="0" font-size="13" font-weight="bold" text-anchor="middle" fill="#111" stroke="#111" stroke-width="0.3" font-family="Liberation Sans, sans-serif">Density</text><circle cx="61.3" cy="50.9" r="1.45" fill="#000"/><circle cx="61.2" cy="65.6" r="1.4" fill="#f21414"/><text x="73.4" y="54.6" font-size="12.5" font-weight="bold" fill="#111" stroke="#111" stroke-width="0.3" font-family="Liberation Sans, sans-serif">Real</text><text x="73.4" y="69.9" font-size="12.6" font-weight="bold" fill="#111" stroke="#111" stroke-width="0.3" font-family="Liberation Sans, sans-serif">Predicted</text></g>
<g transform="translate(352.5,228)"><text x="20.15" y="19.4" font-size="18.9" text-anchor="middle" fill="#1a1a1a" font-family="Liberation Sans, sans-serif">(d)</text><text x="41.6" y="33.6" font-size="12.3" font-weight="bold" fill="#a8121c" stroke="#a8121c" stroke-width="0.3" font-family="Liberation Sans, sans-serif">RMSE:0.43</text><g clip-path="url(#cp)" fill="none" stroke-linecap="round" stroke-width="2.1"><path stroke="#f21414" d="M47.2 124.9h0M47.2 135h0M47.3 137.7h0M47.3 132.8h0M47.4 114.8h0M47.4 138.3h0M47.5 138.3h0M47.5 129.3h0M47.6 140.9h0M47.6 143h0M47.7 147.1h0M47.7 113.2h0M47.8 112.7h0M47.8 140.7h0M47.9 108.2h0M47.9 110.1h0M48 113.6h0M48 147.9h0M48.1 131.6h0M48.1 126.2h0M48.2 148.3h0M48.2 146.3h0M48.3 139.7h0M48.3 148.7h0M48.4 128.5h0M48.5 131.4h0M48.5 144h0M48.6 137h0M48.6 159.2h0M48.7 157.8h0M48.7 143.9h0M48.8 153.2h0M48.8 152.8h0M48.9 133.8h0M48.9 136.1h0M49 151.7h0M49 127.4h0M49.1 128.5h0M49.1 152.1h0M49.2 142.2h0M49.2 152.7h0M49.3 136.7h0M49.3 130.2h0M49.4 133.9h0M49.5 125.8h0M49.5 163.2h0M49.6 153.3h0M49.6 123.4h0M49.7 128.2h0M49.7 122.2h0M49.8 116.6h0M49.8 132.6h0M49.9 151.6h0M49.9 132h0M50 144.5h0M50 155.2h0M50.1 155h0M50.1 126.3h0M50.2 143h0M50.2 124.4h0M50.3 143.9h0M50.3 133.6h0M50.3 143.2h0M50.4 129.5h0M50.4 139.2h0M50.5 141h0M50.5 148.7h0M50.6 144.3h0M50.6 125.7h0M50.7 146.3h0M50.7 135.7h0M50.8 148.9h0M50.8 150.8h0M50.9 131.3h0M50.9 162.9h0M51 159.6h0M51 135.3h0M51.1 131.9h0M51.1 124.8h0M51.2 147.8h0M51.2 140h0M51.3 120.2h0M51.3 127.4h0M51.4 125h0M51.4 140.8h0M51.5 131.8h0M51.5 121.3h0M51.6 151.2h0M51.6 110h0M51.7 124.7h0M51.7 123.6h0M51.8 153.4h0M51.8 125.5h0M51.8 129.3h0M51.9 144.4h0M51.9 144.9h0M52 146.5h0M52 150.5h0M52.1 147.5h0M52.1 137.3h0M52.2 150.6h0M52.2 139.4h0M52.3 138.7h0M52.3 152.9h0M52.4 161.6h0M52.4 148.2h0M52.5 159.8h0M52.5 150.9h0M52.6 128.3h0M52.6 158h0M52.7 154.5h0M52.7 138h0M52.8 145.7h0M52.8 143.7h0M52.9 142.4h0M52.9 138.6h0M53 146h0M53 143.4h0M53.1 132.9h0M53.1 136.4h0M53.2 117.8h0M53.2 134.5h0M53.3 157.4h0M53.3 124h0M53.3 139.9h0M53.4 143.6h0M53.4 143.8h0M53.5 151.8h0M53.5 133.1h0M53.6 143.8h0M53.6 135.8h0M53.7 150.7h0M53.7 146.7h0M53.8 140.1h0M53.8 139.7h0M53.9 147h0M53.9 134h0M54 141.4h0M54 148.6h0M54.1 136.5h0M54.1 138.5h0M54.2 139.9h0M54.2 141.8h0M54.3 141.6h0M54.3 134.2h0M54.4 139.8h0M54.5 129.1h0M54.5 142.8h0M54.6 143.1h0M54.6 131.7h0M54.7 146.1h0M54.7 130.9h0M54.8 147.8h0M54.8 154h0M54.9 144.9h0M54.9 138.9h0M54.9 135.7h0M55 137.6h0M55 137.4h0M55.1 132.5h0M55.1 141.5h0M55.2 118.5h0M55.2 144.8h0M55.3 129.2h0M55.3 125.8h0M55.4 150.1h0M55.4 144.6h0M55.5 150.2h0M55.6 138.6h0M55.6 149.4h0M55.7 149.7h0M55.7 142.1h0M55.8 137.1h0M55.8 139.4h0M55.9 153.7h0M55.9 135.9h0M56 142.9h0M56 137.5h0M56.1 106.6h0M56.1 154.4h0M56.2 131.2h0M56.2 128.8h0M56.3 156h0M56.3 129.9h0M56.4 121.8h0M56.4 134.5h0M56.4 142.5h0M56.5 109.7h0M56.5 138.3h0M56.6 128.2h0M56.6 132.6h0M56.7 134.9h0M56.7 144.8h0M56.8 105.6h0M56.8 141.1h0M56.9 132.4h0M56.9 122.4h0M57 141.8h0M57 133.4h0M57.1 135.4h0M57.1 129.7h0M57.2 119.9h0M57.2 128.9h0M57.3 132.3h0M57.3 136h0M57.4 120.8h0M57.4 145.8h0M57.5 150h0M57.5 128.4h0M57.6 132.9h0M57.6 147.6h0M57.7 155.1h0M57.7 117.1h0M57.8 130h0M57.8 132.3h0M57.9 132.3h0M57.9 121.7h0M58 135.5h0M58 137.8h0M58 128h0M58.1 141.9h0M58.2 131.2h0M58.2 139.8h0M58.3 145.3h0M58.3 153.4h0M58.4 151.5h0M58.4 142.6h0M58.5 134.1h0M58.5 146.7h0M58.6 140.8h0M58.6 125.9h0M58.7 154.9h0M58.7 130.7h0M58.8 154.7h0M58.8 129.2h0M58.9 143h0M58.9 140.5h0M59 152.3h0M59 130.1h0M59.1 139.4h0M59.1 115.8h0M59.2 147.3h0M59.2 145.8h0M59.3 139.5h0M59.3 148.6h0M59.4 139.3h0M59.4 150.1h0M59.5 150.5h0M59.5 138.4h0M59.5 145.7h0M59.6 137.6h0M59.6 144.5h0M59.7 110.7h0M59.7 139.1h0M59.8 140.8h0M59.8 127.8h0M59.9 126.2h0M59.9 144.6h0M60 160.4h0M60 150.8h0M60.1 142.5h0M60.1 141.7h0M60.2 142h0M60.2 158.4h0M60.3 145.1h0M60.3 133.4h0M60.4 134.2h0M60.4 117.9h0M60.5 147.3h0M60.5 144.1h0M60.6 142.6h0M60.6 141h0M60.7 131.3h0M60.7 142.5h0M60.8 136.5h0M60.8 155.1h0M60.9 145.8h0M60.9 146.2h0M61 139.6h0M61 127h0M61 136.4h0M61.1 134.1h0M61.1 135h0M61.2 153.1h0M61.2 151.4h0M61.3 124.5h0M61.3 127.8h0M61.4 135.8h0M61.4 143.8h0M61.5 138.4h0M61.5 149.5h0M61.6 125.7h0M61.6 140.1h0M61.7 126.1h0M61.7 138.4h0M61.8 146.4h0M61.8 132.5h0M61.9 153h0M61.9 149.7h0M62 144.6h0M62.1 135.7h0M62.1 133h0M62.2 125.2h0M62.2 143.1h0M62.3 130.1h0M62.3 143.5h0M62.4 147.2h0M62.4 145.5h0M62.5 151.1h0M62.5 125.2h0M62.6 150.5h0M62.6 144.7h0M62.6 140.2h0M62.7 124.3h0M62.8 145.5h0M62.8 122.4h0M62.9 125.8h0M62.9 142.5h0M63 137.5h0M63 135.3h0M63.1 124.3h0M63.1 143.6h0M63.2 148.2h0M63.2 144.3h0M63.3 133.3h0M63.3 140h0M63.4 153.4h0M63.4 143.3h0M63.5 132.7h0M63.5 136.5h0M63.6 136.4h0M63.6 147.4h0M63.7 141.7h0M63.7 157h0M63.8 134.8h0M63.8 140.3h0M63.9 118h0M63.9 139.3h0M64 108.5h0M64 135.3h0M64.1 143.4h0M64.1 136.2h0M64.1 148.1h0M64.2 114h0M64.2 139.6h0M64.3 141.1h0M64.3 118.2h0M64.4 149.8h0M64.4 148.7h0M64.5 139.1h0M64.5 135.2h0M64.6 147.3h0M64.6 132.2h0M64.7 129.7h0M64.8 147.4h0M64.9 132.6h0M64.9 135.4h0M65 144.8h0M65 132.7h0M65.1 132.6h0M65.1 136.4h0M65.2 148.1h0M65.2 142.9h0M65.3 121.6h0M65.3 148.8h0M65.4 127.5h0M65.4 122.5h0M65.5 129.4h0M65.5 139.4h0M65.6 146.9h0M65.6 131.9h0M65.6 137.4h0M65.7 134.7h0M65.7 130h0M65.8 144.1h0M65.9 116.5h0M65.9 138.4h0M66 150h0M66 128.8h0M66.1 133.1h0M66.1 126.9h0M66.2 140.4h0M66.2 132.4h0M66.3 131.1h0M66.3 149.3h0M66.4 132.7h0M66.4 120h0M66.5 142.3h0M66.5 147.8h0M66.6 154h0M66.6 133.6h0M66.7 138.8h0M66.7 131.2h0M66.8 140.9h0M66.8 126.3h0M66.9 131.2h0M66.9 147.4h0M67 134.9h0M67 150h0M67.1 125.9h0M67.1 120.2h0M67.2 152.8h0M67.2 122.1h0M67.2 131.6h0M67.3 132.4h0M67.3 128.6h0M67.4 134.4h0M67.4 112.3h0M67.5 142h0M67.5 130.6h0M67.6 119.3h0M67.6 140.4h0M67.7 130.1h0M67.7 137h0M67.8 122.6h0M67.8 139.5h0M67.9 149.7h0M67.9 130.2h0M68 139h0M68 113.8h0M68.1 147.6h0M68.1 133.5h0M68.2 150.9h0M68.2 151.6h0M68.3 150.6h0M68.3 107h0M68.4 148.4h0M68.4 142.3h0M68.5 123.4h0M68.5 156.4h0M68.6 125h0M68.6 127.2h0M68.7 134.4h0M68.7 150.2h0M68.7 146.6h0M68.8 127.3h0M68.8 134.3h0M68.9 157.5h0M68.9 132h0M69 132.1h0M69.1 133.4h0M69.1 137h0M69.2 149.5h0M69.2 130.2h0M69.3 136h0M69.3 137.9h0M69.4 143.8h0M69.4 151h0M69.5 152.4h0M69.5 140.5h0M69.6 126.2h0M69.6 141.8h0M69.7 134h0M69.7 128.5h0M69.8 144.2h0M69.8 149h0M69.9 151.8h0M69.9 151.4h0M70 149.6h0M70 141.2h0M70.1 140.5h0M70.1 132.6h0M70.2 141.3h0M70.2 166.3h0M70.3 155.3h0M70.3 151.5h0M70.3 141.3h0M70.4 140.2h0M70.5 146.2h0M70.5 149.1h0M70.6 152.1h0M70.6 139.5h0M70.7 149.5h0M70.7 121.5h0M70.8 149.7h0M70.8 138.2h0M70.9 142.9h0M70.9 142.2h0M71 150h0M71 136.7h0M71.1 164h0M71.1 136.8h0M71.2 150.5h0M71.2 151.5h0M71.3 139.7h0M71.3 143.4h0M71.4 143.8h0M71.4 146.3h0M71.5 136.6h0M71.5 133.2h0M71.6 142.2h0M71.6 145.1h0M71.7 147.1h0M71.7 142.6h0M71.8 149.6h0M71.8 133.7h0M71.8 126.6h0M71.9 134.9h0M71.9 132.4h0M72 152.6h0M72 156.5h0M72.1 145.7h0M72.1 152.5h0M72.2 145.7h0M72.2 140.4h0M72.3 148.1h0M72.3 146.5h0M72.4 146.1h0M72.4 154.9h0M72.5 153h0M72.5 131.6h0M72.6 153.7h0M72.6 147.8h0M72.7 137.6h0M72.7 134.5h0M72.8 134.7h0M72.8 132h0M72.9 133h0M72.9 146.9h0M73 149.1h0M73 132.4h0M73.1 149.5h0M73.1 135.9h0M73.2 149.2h0M73.2 146.7h0M73.3 147.3h0M73.3 150.7h0M73.3 142.9h0M73.4 120.9h0M73.5 148.7h0M73.5 136.1h0M73.6 151.1h0M73.6 137.9h0M73.7 135.5h0M73.7 137.4h0M73.8 140.9h0M73.8 145.3h0M73.9 141.3h0M73.9 147h0M74 142.4h0M74 156.9h0M74.1 155h0M74.1 138.1h0M74.2 145.5h0M74.2 144.6h0M74.3 141.3h0M74.3 140.5h0M74.4 151.8h0M74.4 125.1h0M74.5 148.6h0M74.5 141.4h0M74.6 138.7h0M74.6 148.7h0M74.7 153.3h0M74.7 131.3h0M74.8 147.2h0M74.8 143.7h0M74.9 135.7h0M74.9 159.3h0M74.9 146.1h0M75 135.3h0M75 140.3h0M75.1 145.8h0M75.1 134h0M75.2 155.8h0M75.3 135.1h0M75.3 148.5h0M75.4 132.7h0M75.5 148.6h0M75.5 138.1h0M75.6 139.4h0M75.6 136.4h0M75.7 138.9h0M75.7 134.3h0M75.8 140.8h0M75.8 147.1h0M75.9 145.4h0M75.9 150.6h0M76 119.8h0M76 150.8h0M76.1 137.1h0M76.1 133.1h0M76.2 140.6h0M76.2 116.8h0M76.3 128.9h0M76.4 134.7h0M76.4 144.2h0M76.4 147.1h0M76.5 143.2h0M76.5 147.9h0M76.6 129.7h0M76.6 140h0M76.7 135.5h0M76.7 149.6h0M76.8 106h0M76.8 134.6h0M76.9 150.3h0M76.9 157.8h0M77 149.3h0M77 145.1h0M77.1 120.5h0M77.1 142.3h0M77.2 149.3h0M77.2 135.6h0M77.3 136.9h0M77.3 129.3h0M77.4 137.4h0M77.4 142.9h0M77.5 146.1h0M77.6 129.9h0M77.6 108.7h0M77.7 144.8h0M77.7 142.2h0M77.8 136.7h0M77.9 129.6h0M77.9 137h0M77.9 132.2h0M78 133.7h0M78 134h0M78.1 127.7h0M78.1 115.3h0M78.2 123.6h0M78.2 130.2h0M78.3 136.7h0M78.3 146.1h0M78.4 126.8h0M78.4 141.9h0M78.5 135.7h0M78.5 138h0M78.6 119.5h0M78.6 131.3h0M78.7 149.4h0M78.7 139.8h0M78.8 144.5h0M78.8 138.3h0M78.9 136.1h0M78.9 131.1h0M79 139.7h0M79 137.5h0M79.1 144.2h0M79.1 136.2h0M79.2 151.2h0M79.2 127h0M79.3 129.6h0M79.3 149.8h0M79.4 142.9h0M79.4 125.4h0M79.5 117.7h0M79.5 130.2h0M79.5 135.4h0M79.6 128.7h0M79.6 139.3h0M79.7 130.6h0M79.7 129.9h0M79.8 131.3h0M79.8 129.7h0M79.9 120.4h0M80 135.8h0M80 139.7h0M80.1 138h0M80.1 124.7h0M80.2 146h0M80.2 113.2h0M80.3 154.3h0M80.3 114.2h0M80.4 138.3h0M80.4 146.5h0M80.5 118.4h0M80.5 127.6h0M80.6 143.8h0M80.6 154.4h0M80.7 128.7h0M80.7 123.5h0M80.8 155.3h0M80.8 144.8h0M80.9 136.5h0M80.9 152.7h0M81 120.8h0M81 123.1h0M81 158.9h0M81.1 135.2h0M81.1 136.4h0M81.2 115.9h0M81.2 115.1h0M81.3 148.3h0M81.3 141.8h0M81.4 144.2h0M81.4 129.5h0M81.5 119h0M81.5 141.7h0M81.6 161.8h0M81.6 117.3h0M81.7 108.6h0M81.7 133.9h0M81.8 110.4h0M81.8 125.5h0M81.9 132.3h0M81.9 118.3h0M82 126.9h0M82 119.9h0M82.1 117h0M82.2 133.8h0M82.2 140.8h0M82.3 109h0M82.3 131.8h0M82.4 149.6h0M82.4 141h0M82.5 115.3h0M82.5 146.1h0M82.6 126.6h0M82.6 127.5h0M82.6 130.7h0M82.7 101.2h0M82.8 127.3h0M82.8 138.1h0M82.9 134.8h0M82.9 164.6h0M83 145.5h0M83 148.8h0M83.1 134.5h0M83.1 152.2h0M83.2 156.9h0M83.2 146.2h0M83.3 145.9h0M83.4 140.9h0M83.4 127.8h0M83.5 125h0M83.5 153h0M83.6 115.4h0M83.7 146.4h0M83.7 136h0M83.8 110.2h0M83.8 143.7h0M83.9 139h0M83.9 132.7h0M84 104.8h0M84 140.3h0M84.1 134.6h0M84.1 114.6h0M84.1 146.5h0M84.2 147.5h0M84.2 111.1h0M84.3 129.1h0M84.3 112.5h0M84.4 125.5h0M84.4 129.9h0M84.5 146.7h0M84.5 127.3h0M84.6 123.1h0M84.6 125.7h0M84.7 123.2h0M84.7 142.7h0M84.8 141.3h0M84.8 139.4h0M84.9 134.5h0M84.9 101.5h0M85 141.6h0M85.1 130.6h0M85.1 135.7h0M85.2 151.3h0M85.2 135h0M85.3 118.1h0M85.3 152.2h0M85.4 142.7h0M85.4 117.8h0M85.5 141.7h0M85.5 123.6h0M85.6 136.2h0M85.6 117h0M85.6 133.2h0M85.7 143h0M85.7 135.5h0M85.8 134.7h0M85.9 124.9h0M85.9 151h0M86 119.8h0M86 131.5h0M86.1 151.9h0M86.1 146.6h0M86.2 141.8h0M86.2 119.6h0M86.3 123.7h0M86.3 115.5h0M86.4 122.7h0M86.4 138.4h0M86.5 122.4h0M86.5 133.6h0M86.6 130.9h0M86.6 137.8h0M86.7 146.2h0M86.7 156.2h0M86.8 118.2h0M86.8 121.6h0M86.9 142.1h0M86.9 116.3h0M87 98.7h0M87 131.4h0M87.1 109.1h0M87.1 129.4h0M87.2 123.5h0M87.2 119.1h0M87.2 112.4h0M87.3 135.4h0M87.3 97.8h0M87.4 142.3h0M87.4 122.3h0M87.5 144.5h0M87.5 143.1h0M87.6 137.4h0M87.6 126.8h0M87.7 143.6h0M87.7 133.4h0M87.8 129.1h0M87.8 134.1h0M87.9 141.1h0M87.9 148.4h0M88 142.4h0M88 144.3h0M88.1 158.3h0M88.1 115.2h0M88.2 98.5h0M88.2 153.9h0M88.3 133.8h0M88.3 138.4h0M88.4 143h0M88.4 143.1h0M88.5 144.2h0M88.5 112.8h0M88.6 111.2h0M88.6 126.4h0M88.7 129.6h0M88.7 138.7h0M88.7 119.5h0M88.8 127.1h0M88.8 143.6h0M88.9 141.5h0M88.9 134h0M89 113.4h0M89 146h0M89.1 142.5h0M89.1 117.3h0M89.2 131.2h0M89.2 130.5h0M89.3 134.7h0M89.3 145.8h0M89.4 117.8h0M89.4 101.7h0M89.5 107.5h0M89.5 144.9h0M89.6 121.4h0M89.6 123.6h0M89.7 134.7h0M89.8 131.9h0M89.8 120.6h0M89.9 113.9h0M89.9 137.5h0M90 136.2h0M90 125.6h0M90.1 134.2h0M90.1 136.9h0M90.2 129.3h0M90.2 122.7h0M90.2 113.2h0M90.3 102.5h0M90.3 133.2h0M90.4 132.7h0M90.4 138.8h0M90.5 146.8h0M90.6 110.5h0M90.6 143.7h0M90.7 138.1h0M90.7 148.3h0M90.8 128.1h0M90.8 135.1h0M90.9 113.4h0M90.9 120.3h0M91 144h0M91 122.6h0M91.1 131.3h0M91.1 137.3h0M91.2 130.3h0M91.2 140.7h0M91.3 138.3h0M91.3 137.9h0M91.4 128.9h0M91.4 134.6h0M91.5 128.4h0M91.5 145.1h0M91.6 122.2h0M91.6 123.7h0M91.7 142.8h0M91.7 125.7h0M91.8 134.1h0M91.8 124.3h0M91.8 141.1h0M91.9 125.5h0M91.9 147h0M92 120.9h0M92 118.5h0M92.1 120.4h0M92.1 129.8h0M92.2 134.5h0M92.2 125.9h0M92.3 129.2h0M92.3 134.8h0M92.4 123.3h0M92.5 129h0M92.5 115h0M92.6 154.8h0M92.6 134.1h0M92.7 129h0M92.7 125.1h0M92.8 127.9h0M92.8 130.9h0M92.9 128.9h0M92.9 140.6h0M93 136.3h0M93 109.4h0M93.1 132.1h0M93.1 132.8h0M93.2 131.6h0M93.2 139.9h0M93.3 112.4h0M93.3 138.5h0M93.3 126.8h0M93.4 128h0M93.4 122.5h0M93.5 120.7h0M93.6 137.1h0M93.6 115.8h0M93.7 124.3h0M93.8 118.7h0M93.8 119.4h0M93.9 140.7h0M93.9 128.3h0M94 119.1h0M94 137.3h0M94.1 128.3h0M94.2 137.1h0M94.2 98.9h0M94.3 125.2h0M94.3 131.7h0M94.4 118.2h0M94.4 115.6h0M94.5 130.5h0M94.5 150.4h0M94.6 125.5h0M94.6 135.5h0M94.7 122.6h0M94.7 151.6h0M94.8 105h0M94.8 138h0M94.9 138.2h0M94.9 149.4h0M94.9 133.3h0M95 146.2h0M95 149.2h0M95.1 146.6h0M95.2 137.8h0M95.2 145.9h0M95.3 120h0M95.4 126.4h0M95.4 142.1h0M95.5 140.8h0M95.5 117.1h0M95.6 139.3h0M95.6 152.1h0M95.7 145.8h0M95.7 117.9h0M95.8 127.9h0M95.8 120.8h0M95.9 136.6h0M95.9 119.3h0M96 121.1h0M96 137.9h0M96.1 137h0M96.1 145.3h0M96.2 118.7h0M96.2 133.3h0M96.3 133.1h0M96.3 120h0M96.4 144.1h0M96.4 151.5h0M96.4 146.9h0M96.5 129.6h0M96.5 156h0M96.6 151.6h0M96.6 123.3h0M96.7 153.5h0M96.7 127.2h0M96.8 150.6h0M96.8 135h0M96.9 144h0M97 157.3h0M97.1 139.5h0M97.1 142.2h0M97.2 143.4h0M97.2 141.1h0M97.3 146.7h0M97.3 133.6h0M97.4 136.7h0M97.4 148.9h0M97.5 145.1h0M97.5 126.5h0M97.6 143.8h0M97.6 152.7h0M97.7 107.8h0M97.7 116h0M97.8 145.7h0M97.8 127.1h0M97.9 121.9h0M97.9 138.1h0M97.9 139h0M98 137.1h0M98 124.9h0M98.1 131.3h0M98.1 146.7h0M98.2 133.2h0M98.2 141h0M98.3 135.3h0M98.3 123h0M98.4 139.7h0M98.4 141.9h0M98.5 123.7h0M98.5 154.5h0M98.6 145.6h0M98.7 142.1h0M98.7 138.7h0M98.8 137.8h0M98.8 150.8h0M98.9 129.8h0M98.9 136h0M99 143.4h0M99 143.6h0M99.1 128.5h0M99.1 130.2h0M99.2 128.1h0M99.2 136.8h0M99.3 133.5h0M99.3 147.2h0M99.4 137.8h0M99.4 145.3h0M99.5 147.8h0M99.5 147.7h0M99.5 155.8h0M99.6 142h0M99.6 161.1h0M99.7 153.1h0M99.7 129.2h0M99.8 142.1h0M99.8 137.5h0M99.9 145.3h0M99.9 137.5h0M100 148.3h0M100 141.2h0M100.1 132.3h0M100.1 140.4h0M100.2 129.7h0M100.2 155.9h0M100.3 144.7h0M100.4 127.3h0M100.4 138.4h0M100.5 144.3h0M100.5 136.3h0M100.6 137.8h0M100.6 154.1h0M100.7 123h0M100.7 141.4h0M100.8 145.2h0M100.8 146.8h0M100.9 112.1h0M100.9 136.1h0M101 127.4h0M101 125h0M101 136.7h0M101.1 128.6h0M101.1 161.4h0M101.2 121.5h0M101.2 116.6h0M101.3 124.6h0M101.3 141.9h0M101.4 136.8h0M101.5 125.3h0M101.5 162.2h0M101.6 112.7h0M101.6 132.9h0M101.7 140.4h0M101.7 138.9h0M101.8 135h0M101.8 150.4h0M101.9 131.8h0M102 153.5h0M102 146.5h0M102.1 155.6h0M102.2 142h0M102.2 160.9h0M102.3 150.3h0M102.3 152.1h0M102.4 138.5h0M102.4 147.6h0M102.5 116.6h0M102.5 141.2h0M102.5 138.8h0M102.6 134h0M102.6 121.8h0M102.7 123.2h0M102.7 108.8h0M102.8 132h0M102.8 136.2h0M102.9 134.6h0M102.9 129.4h0M103 124.9h0M103 144.4h0M103.1 144.4h0M103.1 130.7h0M103.2 140.3h0M103.2 135.5h0M103.3 151.8h0M103.3 149.6h0M103.4 116h0M103.4 151.6h0M103.5 155.2h0M103.5 140h0M103.6 117h0M103.6 139.3h0M103.7 149h0M103.7 131h0M103.8 143.5h0M103.8 155.6h0M103.9 146.1h0M103.9 137.9h0M104 127.8h0M104 137.5h0M104.1 150.3h0M104.1 157.1h0M104.1 133.1h0M104.2 126.9h0M104.2 155.6h0M104.3 146.5h0M104.3 132.8h0M104.4 150.6h0M104.4 148.8h0M104.5 143.1h0M104.5 141.2h0M104.6 127.7h0M104.6 157.7h0M104.7 132.5h0M104.7 134.7h0M104.8 115.9h0M104.8 144.9h0M104.9 116.7h0M104.9 138.8h0M105 145.2h0M105.1 149.2h0M105.1 146h0M105.2 144.4h0M105.2 142h0M105.3 148.5h0M105.3 162h0M105.4 149.9h0M105.4 138.1h0M105.5 130.6h0M105.5 140.8h0M105.6 124.5h0M105.6 153.9h0M105.6 124.1h0M105.7 123.8h0M105.7 117.5h0M105.8 147.2h0M105.8 145h0M105.9 121.9h0M105.9 104.4h0M106 168.7h0M106 154.2h0M106.1 141.8h0M106.1 145.6h0M106.2 154.6h0M106.2 127.7h0M106.3 140.6h0M106.3 149.8h0M106.4 122.9h0M106.4 136.1h0M106.5 144.6h0M106.5 143.5h0M106.6 155.5h0M106.6 148.2h0M106.7 141.4h0M106.7 137.2h0M106.8 118.4h0M106.8 149h0M106.9 144.2h0M106.9 128h0M107 132.8h0M107 134.3h0M107.1 147.2h0M107.1 132.5h0M107.2 134.2h0M107.2 148h0M107.2 139h0M107.3 132.2h0M107.3 127.9h0M107.4 125.8h0M107.4 124.3h0M107.5 147.7h0M107.5 128.6h0M107.6 119.7h0M107.6 125.9h0M107.7 132.2h0M107.7 143.2h0M107.8 130.3h0M107.8 127.9h0M107.9 136.7h0M107.9 146.4h0M108 127.8h0M108 126.9h0M108.1 134.5h0M108.1 148.6h0M108.2 142.4h0M108.2 126.9h0M108.3 147.9h0M108.3 138h0M108.4 138.6h0M108.4 131.8h0M108.5 133.1h0M108.5 131.4h0M108.6 132.2h0M108.6 142.1h0M108.7 129.6h0M108.7 152.3h0M108.7 132.1h0M108.8 113.9h0M108.8 102.6h0M108.9 139.6h0M108.9 142.3h0M109 118.3h0M109 113.8h0M109.1 111.7h0M109.1 120.4h0M109.2 130h0M109.2 127.2h0M109.3 132.4h0M109.3 141.5h0M109.4 131.4h0M109.4 137.3h0M109.5 121.8h0M109.5 126.3h0M109.6 137.8h0M109.6 132.7h0M109.7 136.2h0M109.7 137.1h0M109.8 131.7h0M109.8 135.1h0M109.9 124.8h0M109.9 141.1h0M110 127.1h0M110 134h0M110.1 136.7h0M110.1 114.4h0M110.2 119.7h0M110.2 130.2h0M110.2 145.2h0M110.3 127.2h0M110.3 136.9h0M110.4 124.7h0M110.4 123.7h0M110.5 132.9h0M110.6 126.6h0M110.6 140h0M110.7 127.4h0M110.7 111.9h0M110.8 123.6h0M110.8 137.6h0M110.9 125.9h0M110.9 115.2h0M111 141.6h0M111 130.8h0M111.1 140.1h0M111.1 148.8h0M111.2 142.8h0M111.2 104h0M111.3 135h0M111.3 140.3h0M111.4 131.7h0M111.4 134.1h0M111.5 142.9h0M111.5 116.5h0M111.6 131.4h0M111.6 117.4h0M111.7 140.9h0M111.8 134.1h0M111.8 128.5h0M111.8 127.6h0M111.9 133.4h0M111.9 123.7h0M112 134.1h0M112 134.3h0M112.1 124.9h0M112.1 129.5h0M112.2 119h0M112.2 108.7h0M112.3 126.3h0M112.3 144.2h0M112.4 139.9h0M112.4 132.7h0M112.5 124h0M112.5 138.4h0M112.6 138.6h0M112.6 138.3h0M112.7 125.9h0M112.7 151.4h0M112.8 127.2h0M112.8 149.7h0M112.9 154.6h0M112.9 140.6h0M113 131.5h0M113 148.5h0M113.1 127.5h0M113.1 152.3h0M113.2 141.3h0M113.2 152.2h0M113.3 155.9h0M113.3 130h0M113.3 122.3h0M113.4 142.7h0M113.4 131h0M113.5 136.8h0M113.5 137.4h0M113.6 139.4h0M113.6 129.7h0M113.7 122.1h0M113.7 143.5h0M113.8 140h0M113.8 152.9h0M113.9 141.7h0M113.9 136h0M114 136.6h0M114 130.8h0M114.1 126h0M114.1 138h0M114.2 127.3h0M114.2 133.1h0M114.3 149.9h0M114.3 153.9h0M114.4 163.7h0M114.5 125.3h0M114.5 148.8h0M114.6 125.6h0M114.6 137.1h0M114.7 125.1h0M114.7 135h0M114.8 135.6h0M114.8 116.2h0M114.8 121.6h0M114.9 145.2h0M115 144.7h0M115 133.9h0M115.1 126.7h0M115.1 146.9h0M115.2 131.6h0M115.2 142.8h0M115.3 143.9h0M115.3 153.7h0M115.4 148.4h0M115.4 137.7h0M115.5 135.8h0M115.5 117.5h0M115.6 130.5h0M115.7 145.1h0M115.7 143.5h0M115.8 122.6h0M115.8 131.5h0M115.9 156.4h0M115.9 111.9h0M116 114.2h0M116 140.5h0M116.1 124.5h0M116.1 138.5h0M116.2 136.5h0M116.2 119.5h0M116.3 130.6h0M116.3 136.3h0M116.4 123.5h0M116.4 133.8h0M116.4 132.4h0M116.5 139.9h0M116.5 139h0M116.6 102.8h0M116.6 130.3h0M116.7 103h0M116.7 145.3h0M116.8 120.7h0M116.8 124h0M116.9 149.1h0M116.9 127.9h0M117 102.3h0M117 107.7h0M117.1 121.2h0M117.1 148.7h0M117.2 117.5h0M117.3 148.5h0M117.3 105.7h0M117.4 119.5h0M117.5 143.6h0M117.5 121.7h0M117.6 128.1h0M117.7 150.3h0M117.7 131h0M117.8 127.4h0M117.8 122.9h0M117.9 131h0M117.9 135.5h0M117.9 138.6h0M118 126h0M118 137.8h0M118.1 149.4h0M118.1 133h0M118.2 143.9h0M118.2 117.3h0M118.3 130.8h0M118.3 138.7h0M118.4 135.6h0M118.4 122.8h0M118.5 138.6h0M118.5 144.4h0M118.6 149.7h0M118.6 132.2h0M118.7 114.9h0M118.7 111.5h0M118.8 117.5h0M118.8 146.4h0M118.9 143.3h0M118.9 133.6h0M119 119.1h0M119 110.3h0M119.1 149.3h0M119.2 131h0M119.2 125h0M119.3 122.6h0M119.3 137.7h0M119.4 126.7h0M119.4 145.4h0M119.5 108.3h0M119.5 141.6h0M119.6 146.9h0M119.6 106.7h0M119.7 139.1h0M119.7 131.7h0M119.8 142.5h0M119.8 106.7h0M119.9 138.1h0M119.9 128.1h0M120 133.5h0M120.1 133.5h0M120.1 139.1h0M120.2 116.4h0M120.2 124.3h0M120.3 141h0M120.3 119.6h0M120.4 127.5h0M120.4 132.6h0M120.5 137.2h0M120.5 124.5h0M120.6 123.3h0M120.6 135.5h0M120.7 130.9h0M120.7 132.1h0M120.8 135.7h0M120.8 111.9h0M120.9 118.9h0M120.9 107.5h0M121 118.4h0M121 133.7h0M121 127.6h0M121.1 118.9h0M121.1 116.9h0M121.2 130.9h0M121.2 125.6h0M121.3 113.3h0M121.3 126.8h0M121.4 123.5h0M121.5 121.2h0M121.5 124.7h0M121.6 106.8h0M121.6 124.4h0M121.7 124h0M121.7 115.2h0M121.8 121h0M121.8 118.8h0M121.9 123.2h0M121.9 124.4h0M122 126.3h0M122 126h0M122.1 111.3h0M122.1 117.8h0M122.2 129.9h0M122.2 124.5h0M122.3 116.4h0M122.3 117.7h0M122.4 145.9h0M122.5 123.8h0M122.5 140.5h0M122.6 144.8h0M122.6 127.5h0M122.7 133.2h0M122.7 128.2h0M122.8 113.4h0M122.8 118h0M122.9 131.6h0M122.9 110.2h0M123 131.3h0M123 127.3h0M123.1 128.2h0M123.1 125.2h0M123.2 122.5h0M123.2 124.9h0M123.3 132.6h0M123.3 122h0M123.4 143.5h0M123.4 116.7h0M123.5 123.8h0M123.5 115.5h0M123.6 135.4h0M123.6 137h0M123.7 126.8h0M123.7 141.8h0M123.8 112.7h0M123.8 129.9h0M123.9 130.1h0M123.9 150.1h0M124 117.4h0M124 128.5h0M124.1 119h0M124.1 128.4h0M124.1 130.1h0M124.2 129.3h0M124.2 127.6h0M124.3 120.2h0M124.3 115.8h0M124.4 122.4h0M124.4 133.5h0M124.5 131.8h0M124.5 129.4h0M124.6 132.3h0M124.6 123.2h0M124.7 131.2h0M124.7 130.5h0M124.8 132.9h0M124.8 134.3h0M124.9 133.9h0M124.9 135.8h0M125 130.4h0M125.1 142.8h0M125.1 144.2h0M125.2 121.7h0M125.2 125h0M125.3 122.2h0M125.4 139.9h0M125.4 127.8h0M125.5 117.6h0M125.5 137.4h0M125.6 113.1h0M125.6 138.4h0M125.6 145.4h0M125.7 135.2h0M125.7 122.8h0M125.8 129.5h0M125.8 126.7h0M125.9 117.2h0M125.9 141.6h0M126 134.1h0M126 140.9h0M126.1 126.4h0M126.1 135.9h0M126.2 130.4h0M126.2 127.4h0M126.3 138.2h0M126.3 134.1h0M126.4 139.2h0M126.4 106.5h0M126.5 113.8h0M126.5 129.3h0M126.6 141.2h0M126.6 117.9h0M126.7 127.2h0M126.7 140.7h0M126.8 166.9h0M126.8 154.6h0M126.9 129.3h0M126.9 132.9h0M127 134.4h0M127 129.9h0M127.1 115.2h0M127.1 141.7h0M127.1 111.4h0M127.2 138.5h0M127.2 140.6h0M127.3 146.2h0M127.3 131.9h0M127.4 117h0M127.4 143.9h0M127.5 97.6h0M127.5 123.3h0M127.6 154.5h0M127.6 136.7h0M127.7 135h0M127.7 137.8h0M127.8 118.9h0M127.8 128.7h0M127.9 119.3h0M127.9 149.2h0M128 148.9h0M128 141.1h0M128.1 141.5h0M128.1 137.6h0M128.2 114.7h0M128.2 119.2h0M128.3 143.1h0M128.3 127.8h0M128.4 130.4h0M128.4 136.2h0M128.5 98.3h0M128.5 146.4h0M128.6 146.9h0M128.6 146h0M128.7 136.2h0M128.7 150.5h0M128.8 129.7h0M128.8 125.3h0M128.9 141.2h0M128.9 112.9h0M129 144.3h0M129 142.1h0M129.1 137.7h0M129.1 148.4h0M129.2 131.6h0M129.2 130.4h0M129.3 118.6h0M129.3 126.6h0M129.4 135.2h0M129.4 139h0M129.5 134.9h0M129.5 143.5h0M129.6 129.9h0M129.6 136.5h0M129.7 135h0M129.7 154h0M129.8 136.2h0M129.8 113.3h0M129.9 148.3h0M129.9 152.5h0M130 140.7h0M130 112.9h0M130.1 149.8h0M130.1 121.6h0M130.2 149.7h0M130.2 113.9h0M130.2 136.6h0M130.3 107.6h0M130.4 119.1h0M130.4 126.9h0M130.5 118.4h0M130.5 123.8h0M130.6 114.6h0M130.6 143.2h0M130.7 147.6h0M130.7 147.9h0M130.8 114.1h0M130.8 107.7h0M130.9 139.5h0M130.9 91.5h0M131 137.5h0M131 134.2h0M131.1 116.6h0M131.1 120.3h0M131.2 142.2h0M131.2 114h0M131.3 110.6h0M131.3 130.8h0M131.4 148.6h0M131.4 110.1h0M131.5 142.7h0M131.5 133.8h0M131.6 132.1h0M131.6 103.1h0M131.7 142.2h0M131.7 123.9h0M131.8 135.6h0M131.8 104.4h0M131.8 160.6h0M131.9 102.7h0M132 130.9h0M132.1 89.2h0M132.1 126.7h0M132.2 129.8h0M132.2 113.7h0M132.3 100.9h0M132.3 120.8h0M132.4 125.4h0M132.4 107h0M132.5 118h0M132.5 126.5h0M132.6 103.5h0M132.6 128h0M132.7 124.5h0M132.7 121.9h0M132.8 121.3h0M132.8 121.4h0M132.9 131h0M133 139.7h0M133 137.2h0M133.1 123.7h0M133.1 131.6h0M133.2 142.9h0M133.2 113h0M133.3 131.1h0M133.3 123.5h0M133.3 140.2h0M133.4 152.4h0M133.4 126.2h0M133.5 135.7h0M133.5 117.9h0M133.6 111.4h0M133.6 127.7h0M133.7 129.8h0M133.7 138.1h0M133.8 124.1h0M133.8 118.8h0M133.9 105.3h0M133.9 129.2h0M134 131.2h0M134 116.8h0M134.1 129.5h0M134.2 135.4h0M134.2 134.7h0M134.3 147.2h0M134.3 149.3h0M134.4 144.3h0M134.4 126h0M134.5 136.4h0M134.5 147.6h0M134.6 147.3h0M134.7 131h0M134.7 153.6h0M134.8 129.7h0M134.8 136.6h0M134.8 132.3h0M134.9 136h0M134.9 127.5h0M135 129.3h0M135 124.9h0M135.1 137.8h0M135.1 134.6h0M135.2 118h0M135.2 134.4h0M135.3 115.7h0M135.3 132.5h0M135.4 120.5h0M135.4 140h0M135.5 153.8h0M135.5 131.8h0M135.6 111.8h0M135.6 129.6h0M135.7 119.4h0M135.7 116.2h0M135.8 143.7h0M135.9 128.8h0M135.9 134.3h0M136 141.3h0M136 148h0M136.1 126.7h0M136.1 118.6h0M136.2 139.1h0M136.2 139.7h0M136.3 136.8h0M136.3 119.4h0M136.4 128h0M136.4 142.9h0M136.4 135.6h0M136.5 119.6h0M136.5 123.1h0M136.6 112.9h0M136.7 150.1h0M136.7 144.8h0M136.8 129.5h0M136.8 134.2h0M136.9 147.7h0M137 116.9h0M137 135.4h0M137.1 113.5h0M137.1 122.7h0M137.2 131.7h0M137.2 113.5h0M137.3 147.4h0M137.3 120.8h0M137.4 142.2h0M137.4 139h0M137.5 138.4h0M137.5 139h0M137.6 124.2h0M137.6 126h0M137.7 125.9h0M137.7 143.5h0M137.8 115.7h0M137.8 128.7h0M137.9 126.8h0M137.9 133h0M138 129.4h0M138 128.5h0M138.1 125.2h0M138.1 131.7h0M138.2 123.9h0M138.2 124.1h0M138.3 144.7h0M138.3 140.5h0M138.4 115.1h0M138.4 112.5h0M138.5 130.7h0M138.5 129.1h0M138.6 141.5h0M138.6 135.6h0M138.7 118.5h0M138.7 125.3h0M138.8 120.6h0M138.8 134.3h0M138.9 123.2h0M138.9 134.9h0M139 128.5h0M139 138.6h0M139.1 153.6h0M139.1 138.8h0M139.2 121.7h0M139.2 121.4h0M139.3 156.6h0M139.3 108h0M139.4 114.7h0M139.4 139.5h0M139.5 127h0M139.5 150.7h0M139.6 124.6h0M139.6 123.9h0M139.7 114.2h0M139.7 126h0M139.8 129.1h0M139.8 136.9h0M139.9 142.3h0M139.9 129.6h0M140 136.3h0M140 128.4h0M140.1 137.7h0M140.1 141.7h0M140.2 122.9h0M140.2 108.4h0M140.3 147.7h0M140.3 129.4h0M140.4 142.2h0M140.4 116.3h0M140.5 119.9h0M140.5 140.9h0M140.6 131.8h0M140.7 139.3h0M140.7 109.8h0M140.8 125.5h0M140.8 125.5h0M140.9 129.2h0M140.9 144h0M141 114.1h0M141 141.8h0M141 139.5h0M141.1 120.5h0M141.1 137h0M141.2 138.5h0M141.2 109.3h0M141.3 137.6h0M141.3 148h0M141.4 139.9h0M141.4 120.1h0M141.5 123h0M141.5 151.4h0M141.6 137.4h0M141.6 156.1h0M141.7 144.3h0M141.7 150.5h0M141.8 149h0M141.8 139.3h0M141.9 153.1h0M141.9 154.7h0M142 142.6h0M142.1 129.8h0M142.1 111.6h0M142.2 145.5h0M142.2 146.8h0M142.3 129.2h0M142.3 124.4h0M142.4 116.3h0M142.4 142.1h0M142.5 150.9h0M142.5 134.3h0M142.6 126.6h0M142.6 165h0M142.7 123.2h0M142.7 143.6h0M142.8 126.6h0M142.8 115h0M142.9 148.2h0M142.9 138.9h0M143 129.4h0M143 152.3h0M143.1 142.2h0M143.1 136.9h0M143.2 127.1h0M143.2 146.6h0M143.3 140.5h0M143.3 137.2h0M143.4 129.1h0M143.4 124.4h0M143.5 114.3h0M143.5 128.8h0M143.6 107.6h0M143.6 146h0M143.7 134.4h0M143.7 145h0M143.8 144.1h0M143.8 140.6h0M143.9 117.1h0M143.9 136.6h0M144 154.4h0M144 123.3h0M144 113.7h0M144.1 111.5h0M144.1 122.8h0M144.2 140h0M144.2 123.3h0M144.3 141.7h0M144.3 135.7h0M144.4 130.4h0M144.4 134.4h0M144.5 150.7h0M144.5 167.6h0M144.6 123.6h0M144.6 147.3h0M144.7 107.1h0M144.7 144.7h0M144.8 139.3h0M144.8 152.7h0M144.9 135.3h0M145 135.1h0M145 141.3h0M145.1 125.1h0M145.1 121.2h0M145.2 121.5h0M145.2 102.9h0M145.3 152.3h0M145.3 133.7h0M145.4 127.3h0M145.4 112.6h0M145.5 111.1h0M145.5 136.6h0M145.6 124h0M145.6 139.9h0M145.6 148h0M145.7 143.2h0M145.7 123h0M145.8 127.3h0M145.8 145.6h0M145.9 146.2h0M146 122.5h0M146 127.5h0M146.1 129.9h0M146.1 125.3h0M146.2 130.5h0M146.2 140h0M146.3 142.7h0M146.3 129.4h0M146.4 131.1h0M146.4 120.9h0M146.5 134.3h0M146.5 152.4h0M146.6 140.2h0M146.6 124.6h0M146.7 126.5h0M146.7 116.6h0M146.8 140.3h0M146.8 130.8h0M146.9 120.4h0M146.9 130.3h0M147 127.6h0M147 148.9h0M147.1 121.5h0M147.1 131.2h0M147.1 119.1h0M147.2 131.9h0M147.2 156h0M147.3 139.9h0M147.3 149h0M147.4 131.4h0M147.4 144.8h0M147.5 135.1h0M147.5 132.5h0M147.6 146.5h0M147.6 160.7h0M147.7 128.6h0M147.7 135.1h0M147.8 142.4h0M147.8 140.2h0M147.9 119h0M147.9 138.2h0M148 140.6h0M148 140.2h0M148.1 148.1h0M148.1 144.3h0M148.2 123.8h0M148.2 139.2h0M148.3 151h0M148.3 143h0M148.4 133.1h0M148.4 130.5h0M148.5 135.4h0M148.5 122.2h0M148.6 131.4h0M148.7 122.3h0M148.7 132.9h0M148.7 134.3h0M148.8 122.8h0M148.8 150.9h0M148.9 124.1h0M148.9 144.4h0M149 136.5h0M149 127.6h0M149.1 114.3h0M149.1 127.6h0M149.2 131.8h0M149.2 134.9h0M149.3 136.2h0M149.3 137.5h0M149.4 137.7h0M149.4 118.5h0M149.5 128.8h0M149.5 121h0M149.6 128.1h0M149.6 134.5h0M149.7 124.4h0M149.8 128.1h0M149.8 138.3h0M149.9 122h0M149.9 133.3h0M150 135.2h0M150 133.9h0M150.1 132.1h0M150.1 130.9h0M150.2 130.3h0M150.2 119.8h0M150.2 122.3h0M150.3 127h0M150.4 127h0M150.4 156.5h0M150.5 120.9h0M150.5 141.2h0M150.6 127.6h0M150.6 129.1h0M150.7 134.6h0M150.7 126.2h0M150.8 131h0M150.8 134.8h0M150.9 133.4h0M150.9 125.2h0M151 145.5h0M151.1 121.4h0M151.1 122.9h0M151.2 128h0M151.3 140.7h0M151.3 147.7h0M151.4 136.9h0M151.4 137.7h0M151.5 117.8h0M151.5 133.3h0M151.6 121h0M151.7 124.8h0M151.7 136.9h0M151.7 123.9h0M151.8 124.1h0M151.8 125.7h0M151.9 140.5h0M151.9 131.5h0M152 141.5h0M152.1 136.4h0M152.1 138.2h0M152.2 144.7h0M152.2 119h0M152.3 126.3h0M152.3 140.9h0M152.4 145.7h0M152.4 122.1h0M152.5 131.6h0M152.5 136.4h0M152.6 147.1h0M152.6 143.3h0M152.7 150.4h0M152.7 125.6h0M152.8 141.7h0M152.8 145.6h0M152.9 121.7h0M152.9 135.3h0M153 140h0M153 133.2h0M153.1 116.3h0M153.1 149.5h0M153.2 139.2h0M153.2 131.9h0M153.3 128.5h0M153.3 146.8h0M153.3 125.8h0M153.4 129h0M153.4 144.1h0M153.5 126.9h0M153.5 158.8h0M153.6 133.6h0M153.6 148.3h0M153.7 130.6h0M153.8 137.2h0M153.8 140.9h0M153.9 138.7h0M153.9 139.6h0M154 151.9h0M154.1 138.7h0M154.1 146h0M154.2 152.8h0M154.2 132.8h0M154.3 148.9h0M154.3 130.4h0M154.4 117.6h0M154.4 120.7h0M154.5 127.5h0M154.5 158.1h0M154.6 131.6h0M154.6 144h0M154.7 139.8h0M154.8 132h0M154.8 137.1h0M154.9 140h0M154.9 133.8h0M155 139.8h0M155 130.6h0M155.1 129.1h0M155.1 136.8h0M155.2 130.3h0M155.2 128.1h0M155.3 139.6h0M155.3 150.7h0M155.4 133.8h0M155.4 116.2h0M155.5 147.2h0M155.6 150.8h0M155.6 133.4h0M155.7 140.6h0M155.7 150.2h0M155.8 124.2h0M155.8 120.6h0M155.9 141.1h0M155.9 140.1h0M156 130.8h0M156 151.3h0M156.1 130h0M156.1 142.7h0M156.2 142.2h0M156.2 134.4h0M156.3 139.5h0M156.3 139h0M156.3 136.6h0M156.4 146.7h0M156.4 130.2h0M156.5 131.8h0M156.5 117.6h0M156.6 118.8h0M156.6 143.6h0M156.7 137.2h0M156.8 128.6h0M156.8 122.3h0M156.9 125.5h0M156.9 122.9h0M157 129.5h0M157 120.6h0M157.1 114.4h0M157.1 135.8h0M157.2 141.6h0M157.2 141.4h0M157.3 128.4h0M157.3 133.6h0M157.4 140.1h0M157.4 115.6h0M157.5 140.5h0M157.5 138.1h0M157.6 130.1h0M157.6 143.4h0M157.7 138.3h0M157.7 140.2h0M157.8 121.8h0M157.8 128.4h0M157.9 145h0M157.9 127.7h0M157.9 139h0M158 129h0M158 128.5h0M158.1 111.2h0M158.1 140.1h0M158.2 131.4h0M158.3 128.9h0M158.3 138.1h0M158.4 139.5h0M158.4 134.8h0M158.5 133.9h0M158.5 148h0M158.6 148.6h0M158.6 139.8h0M158.7 120.2h0M158.7 114.5h0M158.8 122.8h0M158.8 107.4h0M158.9 111h0M158.9 131.8h0M159 102h0M159 143.9h0M159.1 136.9h0M159.1 145.1h0M159.2 114.4h0M159.2 141.9h0M159.3 128.6h0M159.3 137.9h0M159.4 135.2h0M159.4 151.4h0M159.4 137.2h0M159.5 139.7h0M159.5 129.5h0M159.6 140.4h0M159.6 136.8h0M159.7 130.5h0M159.7 138.6h0M159.8 138.4h0M159.8 151.3h0M159.9 136.3h0M159.9 141.9h0M160 145.4h0M160 121.3h0M160.1 139.4h0M160.1 135.1h0M160.2 108.9h0M160.2 127.7h0M160.3 130.9h0M160.4 121.9h0M160.4 133.1h0M160.5 127.4h0M160.5 139.8h0M160.6 113.7h0M160.6 124.7h0M160.7 120h0M160.7 137.1h0M160.8 120.6h0M160.9 127.2h0M160.9 143.7h0M161 130.7h0M161 115.9h0M161.1 135.1h0M161.1 143.5h0M161.2 149.1h0M161.2 143.2h0M161.3 124.9h0M161.3 133.6h0M161.4 134.6h0M161.4 133.9h0M161.5 130.3h0M161.5 125.3h0M161.6 136.2h0M161.6 133.5h0M161.7 139.8h0M161.7 139.4h0M161.8 134.8h0M161.8 132.2h0M161.9 130.9h0M161.9 136.3h0M162 135.3h0M162.1 128.7h0M162.1 128.4h0M162.2 134.5h0M162.2 135.2h0M162.3 141.3h0M162.3 128.5h0M162.4 145.8h0M162.5 132.4h0M162.5 136.4h0M162.5 132.5h0M162.6 140.2h0M162.6 152.2h0M162.7 149.3h0M162.7 132.2h0M162.8 117.2h0M162.8 130.3h0M162.9 135h0M162.9 124.1h0M163 143h0M163 147h0M163.1 141.6h0M163.1 155.2h0M163.2 138.8h0M163.2 135.2h0M163.3 141.4h0M163.3 120.5h0M163.4 156.7h0M163.4 164.3h0M163.5 121.7h0M163.5 135.8h0M163.6 156.3h0M163.6 130.1h0M163.7 142h0M163.7 125.4h0M163.8 145.9h0M163.8 109.9h0M163.9 133.2h0M163.9 147.4h0M164 133.1h0M164 126.3h0M164 132.7h0M164.1 131.6h0M164.1 143.7h0M164.2 137.8h0M164.2 139.9h0M164.3 139.7h0M164.3 153h0M164.4 121.1h0M164.4 141.9h0M164.5 147.7h0M164.6 152.8h0M164.6 138.8h0M164.7 129.1h0M164.7 151.7h0M164.8 145.3h0M164.8 140.6h0M164.9 135.7h0M164.9 141.5h0M165 135.6h0M165 135h0M165.1 138.9h0M165.1 121.2h0M165.2 139.6h0M165.2 145.1h0M165.3 147.5h0M165.3 131.2h0M165.4 151.3h0M165.4 149.2h0M165.5 132.5h0M165.5 138.9h0M165.6 133.3h0M165.6 124.7h0M165.6 120.7h0M165.7 143.4h0M165.8 131.1h0M165.8 154.2h0M165.9 136.7h0M165.9 135.8h0M166 141.1h0M166 149.9h0M166.1 152h0M166.1 143.9h0M166.2 153.2h0M166.2 151h0M166.3 132.6h0M166.4 132h0M166.4 141h0M166.5 124.6h0M166.5 160.1h0M166.6 124.3h0M166.7 149.8h0M166.7 121.4h0M166.8 143.3h0M166.8 134h0M166.9 133.3h0M166.9 148.4h0M167 153.8h0M167 141h0M167.1 144.6h0M167.1 150.1h0M167.1 127.1h0M167.2 135.8h0M167.2 137h0M167.3 132.7h0M167.3 158.2h0M167.4 136h0M167.4 163.4h0M167.5 130.6h0M167.5 151.1h0M167.6 139.2h0M167.6 137.2h0M167.7 152h0M167.8 126.2h0M167.9 134.4h0M167.9 151.3h0M168 144.8h0M168 137.9h0M168.1 135.2h0M168.1 130.6h0M168.2 134.5h0M168.2 140.7h0M168.3 132.6h0M168.3 145.5h0M168.4 140.7h0M168.5 144.7h0M168.5 155.7h0M168.6 161.3h0M168.6 142h0M168.6 144.1h0M168.7 162.5h0M168.7 116.6h0M168.8 142.6h0M168.8 138.7h0M168.9 148.2h0M168.9 146.8h0M169 143.9h0M169.1 144.9h0M169.1 118.5h0M169.2 140.9h0M169.2 128.2h0M169.3 144.2h0M169.3 150.2h0M169.4 135.9h0M169.5 139h0M169.5 141.6h0M169.6 131h0M169.6 147h0M169.7 136h0M169.7 125.4h0M169.8 128.2h0M169.8 134.8h0M169.9 124.4h0M169.9 144.5h0M170 143.8h0M170.1 156.8h0M170.1 141.5h0M170.2 145.6h0M170.2 138.2h0M170.3 145.7h0M170.3 159.9h0M170.4 138.7h0M170.4 150.3h0M170.5 143.6h0M170.5 145.9h0M170.6 144h0M170.6 162.7h0M170.7 139.2h0M170.7 139.1h0M170.8 139h0M170.8 138.8h0M170.9 143.3h0M170.9 126.6h0M171 141.4h0M171 136h0M171.1 154.1h0M171.1 133.4h0M171.2 132.1h0M171.2 136.4h0M171.3 140.4h0M171.3 139.8h0M171.4 142.3h0M171.4 136.1h0M171.5 132.5h0M171.5 129.8h0M171.6 137h0M171.6 125.6h0M171.7 149.1h0M171.7 121.7h0M171.7 136.8h0M171.8 119.6h0M171.8 130.2h0M171.9 134.5h0M171.9 152.9h0M172 149.4h0M172 136.8h0M172.1 142.7h0M172.1 143.3h0M172.2 135.6h0M172.2 132.3h0M172.3 145.4h0M172.3 117h0M172.4 130.8h0M172.4 128.7h0M172.5 130h0M172.5 124.2h0M172.6 131.3h0M172.6 138.3h0M172.7 135.2h0M172.7 145.2h0M172.8 141.4h0M172.8 138.8h0M172.9 136.1h0M172.9 154.8h0M173 128.8h0M173 148.5h0M173.1 155.5h0M173.1 134.7h0M173.2 142.5h0M173.2 156.1h0M173.3 133.2h0M173.3 151.7h0M173.3 134.6h0M173.4 133.5h0M173.4 146.6h0M173.5 147.5h0M173.5 134h0M173.6 145.2h0M173.6 127.9h0M173.7 144.9h0M173.7 128.6h0M173.8 146.7h0M173.8 143.2h0M173.9 141.4h0M173.9 132.1h0M174 125.1h0M174.1 146.4h0M174.1 152h0M174.2 139.6h0M174.3 142.4h0M174.3 147.8h0M174.4 126.5h0M174.4 145.4h0M174.5 126.8h0M174.5 145.6h0M174.6 135.8h0M174.6 145.1h0M174.7 140.6h0M174.7 133.7h0M174.8 146.3h0M174.8 144.4h0M174.8 157.5h0M174.9 121.8h0M175 124.5h0M175 132.9h0M175.1 137.3h0M175.1 138.2h0M175.2 141.8h0M175.2 123.4h0M175.3 134.8h0M175.3 126.6h0M175.4 142.3h0M175.4 138.7h0M175.5 137.2h0M175.5 134.6h0M175.6 135.3h0M175.6 128.8h0M175.7 139.6h0M175.7 140.3h0M175.8 134.3h0M175.8 124.9h0M175.9 127.4h0M175.9 117h0M176 143.4h0M176 130.8h0M176.1 130.1h0M176.1 123.1h0M176.2 130.1h0M176.2 114.7h0M176.3 142.9h0M176.3 135.9h0M176.3 113h0M176.4 142.6h0M176.4 137.4h0M176.5 105.4h0M176.5 130h0M176.6 126.7h0M176.6 146.3h0M176.7 137.7h0M176.7 136.6h0M176.8 126.2h0M176.8 126.9h0M176.9 140.7h0M176.9 131.1h0M177 121.4h0M177 129.4h0M177.1 137.5h0M177.1 145h0M177.2 142h0M177.2 141.2h0M177.3 131.2h0M177.4 127.4h0M177.4 138.8h0M177.5 152.5h0M177.5 127.8h0M177.6 128.2h0M177.7 141.3h0M177.7 140.4h0M177.8 119.9h0M177.8 123h0M177.9 138h0M177.9 130.5h0M177.9 120.1h0M178 142.1h0M178 133h0M178.1 143.8h0M178.1 147.1h0M178.2 136.1h0M178.2 141.8h0M178.3 146.3h0M178.3 151.2h0M178.4 144.1h0M178.4 154.3h0M178.5 154.1h0M178.5 136.8h0M178.6 128.3h0M178.6 140.8h0M178.7 153.1h0M178.7 149.1h0M178.8 158.6h0M178.8 144h0M178.9 153.3h0M178.9 147.5h0M179 129.8h0M179 141h0M179.1 145h0M179.1 136.3h0M179.2 150.6h0M179.2 147.8h0M179.3 132.8h0M179.3 131.5h0M179.4 127.7h0M179.4 135.1h0M179.4 151.9h0M179.5 139.7h0M179.5 149.9h0M179.6 157.1h0M179.6 136.3h0M179.7 153.8h0M179.7 138.9h0M179.8 151.2h0M179.8 146.8h0M179.9 157.2h0M179.9 134.9h0M180 131.2h0M180.1 134h0M180.1 145.5h0M180.2 137.3h0M180.2 151.2h0M180.3 148.7h0M180.3 139.4h0M180.4 129.1h0M180.5 149.1h0M180.5 147.7h0M180.6 151.1h0M180.6 150.2h0M180.7 144.9h0M180.7 153.8h0M180.8 155.4h0M180.8 140.7h0M180.9 147h0M180.9 153.5h0M180.9 139.5h0M181 138.7h0M181 160.2h0M181.1 140.8h0M181.1 149.8h0M181.2 136.7h0M181.2 133.2h0M181.3 165.8h0M181.3 158.5h0M181.4 153.2h0M181.4 122.7h0M181.5 133.8h0M181.5 129.2h0M181.6 142.7h0M181.6 143.9h0M181.7 126.7h0M181.7 129.6h0M181.8 142.3h0M181.8 122h0M181.9 151.9h0M181.9 123.2h0M182 138.9h0M182 134.9h0M182.1 146.5h0M182.1 133.5h0M182.2 128.9h0M182.2 137.9h0M182.3 146.6h0M182.3 148.4h0M182.4 136.3h0M182.4 130.6h0M182.5 165.3h0M182.5 149.6h0M182.5 124.8h0M182.6 124.8h0M182.6 131h0M182.7 120.5h0M182.7 149.2h0M182.8 138.5h0M182.8 124.1h0M182.9 141.4h0M182.9 139.3h0M183 142.8h0M183 149h0M183.1 131.6h0M183.1 147.5h0M183.2 139.2h0M183.2 130.7h0M183.3 144.6h0M183.3 156.3h0M183.4 144.5h0M183.4 152.1h0M183.5 153.2h0M183.6 115.3h0M183.6 141.4h0M183.7 132.4h0M183.7 141.9h0M183.8 142.8h0M183.8 121.1h0M183.9 139.5h0M184 126.6h0M184 122.9h0M184 138.7h0M184.1 145.9h0M184.1 127h0M184.2 137.9h0M184.2 145.2h0M184.3 144.6h0M184.4 138h0M184.4 142.6h0M184.5 150.1h0M184.5 131.1h0M184.6 130.5h0M184.6 121.3h0M184.7 124.1h0M184.7 147.4h0M184.8 136.6h0M184.8 133.9h0M184.9 138h0M184.9 141.5h0M185 125.1h0M185 130.9h0M185.1 150.4h0M185.2 137.6h0M185.2 130.3h0M185.3 148h0M185.3 133.6h0M185.4 148.2h0M185.4 147.6h0M185.5 122.9h0M185.5 120.2h0M185.6 124h0M185.6 126.8h0M185.7 127.4h0M185.7 134.8h0M185.8 133.4h0M185.8 128.5h0M185.9 143.8h0M185.9 148.5h0M186 131.5h0M186 139.3h0M186.1 147.2h0M186.1 129.7h0M186.2 125.7h0M186.2 138.5h0M186.3 125.5h0M186.3 146.3h0M186.4 131.5h0M186.4 129h0M186.5 148.4h0M186.5 137.3h0M186.6 146.8h0M186.6 136.1h0M186.7 120.9h0M186.7 132.7h0M186.8 135.1h0M186.9 134.1h0M186.9 135h0M187 131.4h0M187 128.1h0M187.1 134.2h0M187.1 140.4h0M187.1 118.1h0M187.2 134.8h0M187.2 125.7h0M187.3 123.5h0M187.3 144h0M187.4 142.6h0M187.4 136.1h0M187.5 134.9h0M187.5 131.1h0M187.6 135.8h0M187.6 125.1h0M187.7 116.8h0M187.7 130.7h0M187.8 128.7h0M187.8 147.9h0M187.9 147.3h0M187.9 143.1h0M188 153.5h0M188.1 139.5h0M188.1 125.3h0M188.2 133.6h0M188.2 137.8h0M188.3 129.3h0M188.3 142h0M188.4 132.1h0M188.4 125.3h0M188.5 139.4h0M188.5 137.3h0M188.6 133.5h0M188.6 137.6h0M188.6 133.7h0M188.7 114.3h0M188.7 147.4h0M188.8 145.6h0M188.8 136.5h0M188.9 122.7h0M188.9 126h0M189 132.4h0M189 132.2h0M189.1 129.6h0M189.1 120.9h0M189.2 125h0M189.2 139.1h0M189.3 139.3h0M189.3 125.8h0M189.4 112.1h0M189.4 119.8h0M189.5 128.7h0M189.5 130.8h0M189.6 136.1h0M189.6 130.1h0M189.7 123.4h0M189.8 119.2h0M189.8 130.4h0M189.9 126.5h0M189.9 117.4h0M190 117.3h0M190 124.5h0M190.1 113h0M190.1 127.9h0M190.2 128.7h0M190.2 118.2h0M190.2 146.6h0M190.3 108.2h0M190.3 128.3h0M190.4 135.6h0M190.4 134.9h0M190.5 123.1h0M190.5 142.6h0M190.6 142.8h0M190.6 111.6h0M190.7 126.1h0M190.7 119.4h0M190.8 143.3h0M190.8 126.5h0M190.9 147h0M190.9 116h0M191 127.7h0M191 138.3h0M191.1 128.6h0M191.2 126.1h0M191.2 134.4h0M191.3 126.7h0M191.3 143.2h0M191.4 122.7h0M191.4 128.8h0M191.5 130.7h0M191.5 151.5h0M191.6 106.9h0M191.6 148h0M191.7 137h0M191.7 124.3h0M191.7 120.4h0M191.8 126h0M191.8 135.3h0M191.9 140.2h0M191.9 133h0M192 147.9h0M192 142.8h0M192.1 130.7h0M192.1 133.7h0M192.2 134.5h0M192.2 115.1h0M192.3 147.6h0M192.3 134.7h0M192.4 142.4h0M192.5 140.2h0M192.5 153.4h0M192.6 143.3h0M192.6 130.2h0M192.7 143.6h0M192.7 142h0M192.8 146.1h0M192.8 138.9h0M192.9 132.6h0M192.9 134.4h0M193 138.6h0M193.1 122.3h0M193.1 124.6h0M193.2 136.9h0M193.2 139.2h0M193.2 124h0M193.3 140.8h0M193.3 145.8h0M193.4 133.7h0M193.4 128h0M193.5 115.4h0M193.5 146.6h0M193.6 137.9h0M193.6 148.4h0M193.7 125.6h0M193.7 145.5h0M193.8 133.3h0M193.8 133h0M193.9 136.3h0M193.9 140.3h0M194 146.4h0M194 131.1h0M194.1 120.7h0M194.1 128h0M194.2 141h0M194.2 108.3h0M194.3 144.4h0M194.3 152.4h0M194.4 137.4h0M194.4 125.7h0M194.5 141.2h0M194.5 128.8h0M194.6 137.1h0M194.6 134.9h0M194.7 148.8h0M194.7 146.2h0M194.8 154.3h0M194.8 149.5h0M194.9 150h0M194.9 137.3h0M195 132h0M195 141.3h0M195.1 117.4h0M195.1 138.8h0M195.2 143.5h0M195.2 137.7h0M195.3 118.7h0M195.3 122.5h0M195.4 142.5h0M195.4 139.8h0M195.5 97.3h0M195.5 133.5h0M195.6 112.5h0M195.6 127.9h0M195.7 149.9h0M195.7 124.7h0M195.8 124.6h0M195.8 116.2h0M195.9 148.9h0M195.9 134.2h0M196 123.4h0M196 136.6h0M196.1 119.3h0M196.1 132.8h0M196.2 131.5h0M196.2 126.9h0M196.3 128.4h0M196.3 122.1h0M196.3 108.9h0M196.4 122.1h0M196.4 118.2h0M196.5 128.1h0M196.5 131.8h0M196.6 138.9h0M196.6 120.5h0M196.7 123.8h0M196.8 125.3h0M196.8 136.9h0M196.9 119.7h0M196.9 126.2h0M197 137.3h0M197 145.9h0M197.1 125.9h0M197.1 135.1h0M197.2 118.5h0M197.2 136.3h0M197.3 128.3h0M197.3 128.6h0M197.4 123.3h0M197.4 134.2h0M197.5 128.1h0M197.5 116.8h0M197.6 133.9h0M197.6 139.1h0M197.7 143.9h0M197.8 134.1h0M197.9 141.5h0M197.9 129.8h0M197.9 131.8h0M198 134.6h0M198.1 141.6h0M198.1 133.2h0M198.2 129.4h0M198.2 133.8h0M198.3 123.5h0M198.3 120.2h0M198.4 141h0M198.4 122h0M198.5 129.2h0M198.5 150.9h0M198.6 137.9h0M198.7 114.8h0M198.7 135.3h0M198.8 135.4h0M198.8 134.4h0M198.9 131.3h0M198.9 130.8h0M199 130.6h0M199.1 134.4h0M199.1 140.1h0M199.2 145.2h0M199.2 151h0M199.3 132.8h0M199.3 130.2h0M199.4 139.1h0M199.4 120.9h0M199.4 132.3h0M199.5 128.2h0M199.5 124h0M199.6 145.4h0M199.6 138.9h0M199.7 125h0M199.7 119.3h0M199.8 129.5h0M199.8 133.4h0M199.9 144.4h0M199.9 120.2h0M200 129h0M200 138.5h0M200.1 122.8h0M200.1 144.7h0M200.2 135.4h0M200.2 140.3h0M200.3 141.6h0M200.3 120.1h0M200.4 145.3h0M200.4 125.4h0M200.5 125.4h0M200.5 135.2h0M200.6 118.6h0M200.6 150.2h0M200.7 145h0M200.7 115.5h0M200.8 133.7h0M200.8 137h0M200.9 122.7h0M200.9 146.9h0M200.9 110.5h0M201 123.3h0M201 103.8h0M201.1 127.3h0M201.1 137h0M201.2 126.3h0M201.2 115.4h0M201.3 133.1h0M201.3 110.9h0M201.4 131.4h0M201.4 140.1h0M201.5 144.9h0M201.5 123.1h0M201.6 129.2h0M201.6 118h0M201.7 121h0M201.7 131.5h0M201.8 140.3h0M201.8 130h0M201.9 122.8h0M201.9 114h0M202 115.6h0M202 135.5h0M202.1 126.4h0M202.1 138.6h0M202.2 120.1h0M202.3 122.4h0M202.3 127.6h0M202.4 130.4h0M202.4 126.4h0M202.5 116.4h0M202.5 113.1h0M202.5 124.7h0M202.6 123.4h0M202.6 113.7h0M202.7 130.1h0M202.7 120.7h0M202.8 125.3h0M202.9 132.8h0M202.9 129.9h0M203 109.9h0M203.1 118.1h0M203.1 126h0M203.2 132h0M203.2 117.9h0M203.3 119.1h0M203.3 125.6h0M203.4 115.2h0M203.5 120.9h0M203.5 100.5h0M203.6 124.8h0M203.6 125.4h0M203.7 117.2h0M203.8 129.6h0M203.8 120.3h0M203.9 135.7h0M203.9 123.9h0M204 132.3h0M204 112.4h0M204 127h0M204.1 124.6h0M204.1 111.7h0M204.2 146.9h0M204.2 143.7h0M204.3 133.5h0M204.3 131.7h0M204.4 123h0M204.4 111.8h0M204.5 126.2h0M204.5 133.8h0M204.6 130.9h0M204.6 142.6h0M204.7 138.4h0M204.7 119.4h0M204.8 140.1h0M204.8 122.4h0M204.9 119.7h0M205 133.7h0M205 118.6h0M205.1 134.7h0M205.1 143.1h0M205.2 136.1h0M205.2 126.1h0M205.3 147h0M205.3 123.7h0M205.4 122h0M205.4 137.6h0M205.5 119.2h0M205.5 119.3h0M205.5 131.5h0M205.6 127.7h0M205.6 121.9h0M205.7 129.6h0M205.7 116.1h0M205.8 130.7h0M205.8 125.6h0M205.9 126.8h0M205.9 125.6h0M206 117.9h0M206 135.3h0M206.1 136h0M206.2 112.1h0M206.2 138.5h0M206.3 123.7h0M206.3 118.7h0M206.4 126.4h0M206.4 133.6h0M206.5 121.6h0M206.5 135.4h0M206.6 128.2h0M206.6 136.7h0M206.7 130.1h0M206.7 122.6h0M206.8 133h0M206.8 114.5h0M206.9 109.5h0M206.9 133h0M207 120.1h0M207 130.3h0M207.1 127.3h0M207.1 124.6h0M207.1 120h0M207.2 145.3h0M207.2 118.7h0M207.3 135.6h0M207.3 127h0M207.4 125.7h0M207.4 132h0M207.5 143.4h0M207.5 111.8h0M207.6 123.5h0M207.6 129h0M207.7 133.3h0M207.7 148.8h0M207.8 124.9h0M207.8 131.7h0M207.9 130.5h0M207.9 112.8h0M208 129.3h0M208 138h0M208.1 122.8h0M208.1 119.4h0M208.2 116.9h0M208.2 109h0M208.3 116.4h0M208.3 129.7h0M208.4 129.7h0M208.4 125h0M208.5 141.5h0M208.5 143.1h0M208.6 140.3h0M208.6 139.6h0M208.6 116.5h0M208.7 132.2h0M208.8 137.6h0M208.8 151.8h0M208.9 134.7h0M208.9 116.7h0M209 137.2h0M209 144.3h0M209.1 109.4h0M209.1 107.3h0M209.2 118.8h0M209.2 130.5h0M209.3 123.6h0M209.4 121.4h0M209.4 132.8h0M209.5 131.2h0M209.5 141.1h0M209.6 121.9h0M209.6 138.2h0M209.7 138h0M209.7 133.3h0M209.8 128.4h0M209.8 113.7h0M209.9 135.5h0M209.9 132.9h0M210 109.6h0M210 122.9h0M210.1 133.8h0M210.1 123.9h0M210.2 104.7h0M210.2 123h0M210.2 119.4h0M210.3 124.2h0M210.3 133.2h0M210.4 127.3h0M210.4 121.2h0M210.5 113.3h0M210.6 86h0M210.6 136.3h0M210.7 130.7h0M210.7 99.2h0M210.8 125.4h0M210.8 112.4h0M210.9 149.4h0M210.9 112.5h0M211 115.3h0M211.1 110.7h0M211.1 118.8h0M211.2 107.9h0M211.2 136h0M211.3 113.6h0M211.3 117.3h0M211.4 104.8h0M211.4 114.8h0M211.5 119.8h0M211.6 112h0M211.7 114.3h0M211.7 115.5h0M211.8 108.8h0M211.8 126.1h0M211.9 104.2h0M211.9 133.1h0M212 133.3h0M212 123.7h0M212.1 135.2h0M212.1 123.9h0M212.2 101.1h0M212.2 138.2h0M212.3 111.1h0M212.3 116.9h0M212.4 135.2h0M212.4 101.6h0M212.5 122.3h0M212.5 115.8h0M212.6 116.8h0M212.6 127.1h0M212.7 126.1h0M212.7 134.2h0M212.8 104.9h0M212.8 112.2h0M212.9 132.5h0M212.9 136.9h0M213 100.1h0M213 114.1h0M213.1 130.3h0M213.1 114.9h0M213.2 127.2h0M213.2 128.8h0M213.2 126.7h0M213.3 114.6h0M213.3 127.8h0M213.4 115.9h0M213.4 114.2h0M213.5 140.4h0M213.5 108.1h0M213.6 127h0M213.7 125.8h0M213.7 133h0M213.8 127.1h0M213.8 106.5h0M213.9 122h0M213.9 120h0M214 129.8h0M214 121.1h0M214.1 134h0M214.2 128h0M214.2 112.1h0M214.3 144.1h0M214.3 135.5h0M214.4 127.7h0M214.4 102.1h0M214.5 92.5h0M214.5 131.1h0M214.6 112.2h0M214.6 119.2h0M214.7 119.7h0M214.7 130h0M214.8 123.4h0M214.8 102.2h0M214.8 111.6h0M214.9 105.3h0M215 114.9h0M215 129.4h0M215.1 100.3h0M215.1 96.7h0M215.2 116.4h0M215.2 117.2h0M215.3 105.5h0M215.3 112h0M215.4 137.2h0M215.4 97h0M215.5 105.5h0M215.5 119.6h0M215.6 105.9h0M215.6 119.9h0M215.7 94.5h0M215.7 125.6h0M215.8 128.4h0M215.8 121.6h0M215.9 112.6h0M215.9 87.8h0M216 107.1h0M216 115h0M216.1 121.7h0M216.1 103.2h0M216.2 121.1h0M216.2 105.8h0M216.3 116.1h0M216.3 100.6h0M216.3 127.8h0M216.4 124.1h0M216.4 106.1h0M216.5 112.3h0M216.5 125.9h0M216.6 135.9h0M216.6 112.2h0M216.7 105.1h0M216.7 90.4h0M216.8 109h0M216.9 103.7h0M216.9 127.5h0M217 111.7h0M217 116.4h0M217.1 95.4h0M217.1 83.5h0M217.2 133.7h0M217.2 123.4h0M217.3 117.6h0M217.3 109.2h0M217.4 108.5h0M217.4 103.5h0M217.5 112h0M217.5 121.9h0M217.6 120.7h0M217.6 132.6h0M217.7 115.6h0M217.7 110.4h0M217.8 132.9h0M217.8 115h0M217.8 106.4h0M217.9 110.3h0M217.9 106.3h0M218 119.9h0M218 114.2h0M218.1 119.3h0M218.1 125.8h0M218.2 113.4h0M218.2 126.4h0M218.3 116.1h0M218.3 128.9h0M218.4 127.4h0M218.4 119.8h0M218.5 135.3h0M218.5 110.7h0M218.6 104.1h0M218.6 114.5h0M218.7 133.2h0M218.7 104.5h0M218.8 115.3h0M218.8 134.1h0M218.9 116h0M218.9 121.3h0M219 124.4h0M219 138h0M219.1 120.1h0M219.1 114h0M219.2 114.4h0M219.3 114.6h0M219.3 135.9h0M219.4 114.9h0M219.4 121.1h0M219.4 110.9h0M219.5 110.6h0M219.5 132.5h0M219.6 113.5h0M219.7 139.2h0M219.7 122.1h0M219.8 126.3h0M219.8 122.3h0M219.9 145.4h0M219.9 126.1h0M220 139.3h0M220 138.1h0M220.1 127.7h0M220.1 93.4h0M220.2 121h0M220.2 131.9h0M220.3 124.2h0M220.3 99.9h0M220.4 121h0M220.4 126.6h0M220.5 113.1h0M220.5 127.2h0M220.6 112.9h0M220.6 129.3h0M220.7 109.4h0M220.7 140h0M220.8 138.6h0M220.8 122.4h0M220.9 113.6h0M220.9 116.8h0M221 105h0M221 107.9h0M221.1 109.7h0M221.1 114.5h0M221.2 135.1h0M221.2 117.5h0M221.3 125.1h0M221.3 126.5h0M221.4 126.1h0M221.4 118.3h0M221.5 111.5h0M221.5 124.3h0M221.6 127h0M221.7 131.9h0M221.7 111.8h0M221.8 127.9h0M221.8 133.9h0M221.9 135.6h0M221.9 122.1h0M222 140.8h0M222 148.1h0M222.1 127.2h0M222.1 125.9h0M222.2 136.2h0M222.2 129h0M222.3 125.7h0M222.4 133.3h0M222.4 128.9h0M222.5 127.5h0M222.5 143h0M222.5 142.8h0M222.6 125.7h0M222.6 117.8h0M222.7 115.4h0M222.8 117.7h0M222.8 119.2h0M222.9 130.4h0M222.9 118.3h0M223 126.5h0M223 119.8h0M223.1 128h0M223.2 131h0M223.2 127.6h0M223.3 131.3h0M223.3 110.3h0M223.4 117.1h0M223.4 113.3h0M223.5 115.8h0M223.5 131.8h0M223.6 126.3h0M223.6 118.8h0M223.7 124.2h0M223.7 109.9h0M223.8 131.3h0M223.8 117.7h0M223.9 111.4h0M223.9 122.7h0M224 113.8h0M224 116.7h0M224 124.5h0M224.1 137.9h0M224.1 133.9h0M224.2 125.4h0M224.2 111.3h0M224.3 110.1h0M224.4 130.9h0M224.4 132.4h0M224.5 139.1h0M224.5 121.9h0M224.6 118.6h0M224.7 129.6h0M224.8 109.3h0M224.8 132.9h0M224.9 131.9h0M224.9 119.5h0M225 118.4h0M225 128.7h0M225.1 118.9h0M225.1 115h0M225.2 128.7h0M225.2 121.9h0M225.3 116.3h0M225.3 96.4h0M225.4 120.3h0M225.4 133.6h0M225.5 118.3h0M225.5 101.8h0M225.5 103.6h0M225.6 119h0M225.7 123.8h0M225.7 121.5h0M225.8 130.7h0M225.8 131.5h0M225.9 122.2h0M225.9 133.9h0M226 145h0M226.1 129h0M226.1 111.3h0M226.2 118.6h0M226.2 128.4h0M226.3 123.1h0M226.3 120h0M226.4 123.3h0M226.4 134.6h0M226.5 132.5h0M226.6 122.1h0M226.6 121.2h0M226.7 130h0M226.7 117.7h0M226.8 139.2h0M226.8 115.6h0M226.9 141.9h0M226.9 126.5h0M227 121h0M227 95h0M227.1 118.9h0M227.1 118.8h0M227.1 120.3h0M227.2 113h0M227.2 104.6h0M227.3 110.6h0M227.3 120.5h0M227.4 121.5h0M227.4 118.6h0M227.5 123.5h0M227.5 118.1h0M227.6 127.1h0M227.7 143.3h0M227.7 146.8h0M227.8 137.1h0M227.8 128.6h0M227.9 122.6h0M227.9 123h0M228 120.3h0M228 125.2h0M228.1 142.4h0M228.1 139.2h0M228.2 133.3h0M228.2 137.6h0M228.3 137.9h0M228.3 103.3h0M228.4 135.9h0M228.4 102.4h0M228.5 131.5h0M228.5 114.9h0M228.6 128.1h0M228.6 121.6h0M228.6 109.8h0M228.7 133.4h0M228.7 119.5h0M228.8 121.2h0M228.8 123h0M228.9 124.2h0M228.9 124.6h0M229 123.4h0M229 117.6h0M229.1 143.2h0M229.1 139.9h0M229.2 130.6h0M229.2 124.5h0M229.3 122.4h0M229.3 129.8h0M229.4 135.6h0M229.4 134.2h0M229.5 130.5h0M229.5 136.4h0M229.6 131.2h0M229.6 132.9h0M229.7 106.8h0M229.7 138.6h0M229.8 115.9h0M229.8 127.8h0M229.9 131.1h0M229.9 122.2h0M230 124.8h0M230 117.3h0M230.1 148.1h0M230.1 143.7h0M230.1 118h0M230.2 128.3h0M230.2 131.9h0M230.3 109.2h0M230.3 113.5h0M230.4 121.3h0M230.4 145.7h0M230.5 114.8h0M230.5 147.6h0M230.6 129h0M230.6 128.3h0M230.7 136.5h0M230.8 139.9h0M230.8 126.9h0M230.9 147.9h0M230.9 119.5h0M231 137.7h0M231 144h0M231.1 124.8h0M231.1 144.1h0M231.2 136.3h0M231.2 130.8h0M231.3 142h0M231.3 137.6h0M231.4 113.9h0M231.5 148.2h0M231.5 141.1h0M231.6 132.2h0M231.6 136.5h0M231.7 135.9h0M231.7 131.4h0M231.7 135.6h0M231.8 156.8h0M231.9 136.5h0M231.9 127.6h0M232 130.4h0M232 112.6h0M232.1 124.2h0M232.1 126.4h0M232.2 152.6h0M232.2 114h0M232.3 137.2h0M232.3 119.6h0M232.4 146.4h0M232.4 113.1h0M232.5 111.4h0M232.5 119.7h0M232.6 122.5h0M232.6 149.3h0M232.7 129.4h0M232.7 129.3h0M232.8 126.5h0M232.8 135.4h0M232.9 108.6h0M233 140.6h0M233 126.3h0M233.1 111.2h0M233.1 128.6h0M233.2 138.3h0M233.2 114.6h0M233.3 107.8h0M233.3 108h0M233.5 120.3h0M233.5 133.4h0M233.6 114.4h0M233.6 142.5h0M233.7 117.1h0M233.7 138.3h0M233.8 135.9h0M233.8 139.8h0M233.9 133.5h0M233.9 153.6h0M234 99.4h0M234 142.6h0M234.1 133.1h0M234.1 115.5h0M234.2 134.3h0M234.2 110.9h0M234.3 124h0M234.3 100.8h0M234.4 112.2h0M234.4 155h0M234.5 154.9h0M234.5 136.5h0M234.6 138.1h0M234.6 126.2h0M234.7 128.7h0M234.7 128h0M234.8 140.1h0M234.8 132.3h0M234.8 122.3h0M234.9 132h0M234.9 118.7h0M235 123.8h0M235 143.4h0M235.1 110.8h0M235.1 152h0M235.2 156.2h0M235.2 108.1h0M235.3 101.3h0M235.3 132.7h0M235.4 152.9h0M235.5 156.7h0M235.5 110h0M235.6 136.8h0M235.6 125.2h0M235.7 131.9h0M235.7 127.4h0M235.8 94h0M235.8 115.4h0M235.9 137.3h0M236 120.1h0M236.1 113.6h0M236.1 129.8h0M236.2 105.7h0M236.2 135.7h0M236.3 106.1h0M236.3 124.3h0M236.3 118.4h0M236.4 120.4h0M236.4 141.2h0M236.5 138.5h0M236.5 132.3h0M236.6 124.7h0M236.6 142.3h0M236.7 123.2h0M236.7 138.8h0M236.8 106.4h0M236.8 134.3h0M236.9 146.3h0M237 129.2h0M237 136h0M237.1 121.3h0M237.1 132.6h0M237.2 137.3h0M237.2 109.7h0M237.3 120.4h0M237.3 121.1h0M237.4 109.1h0M237.4 142.7h0M237.5 109.6h0M237.5 132h0M237.6 137.5h0M237.6 128.8h0M237.7 126.1h0M237.7 120.6h0M237.8 117.4h0M237.8 127.7h0M237.8 116.5h0M237.9 123.6h0M237.9 135.8h0M238 131.9h0M238 116.1h0M238.1 126h0M238.1 134.2h0M238.2 112.8h0M238.2 120.7h0M238.3 117.4h0M238.3 130.3h0M238.4 105.2h0M238.4 119.2h0M238.5 114.7h0M238.5 140.1h0M238.6 117.7h0M238.6 142.4h0M238.7 113.2h0M238.7 125.1h0M238.8 128.6h0M238.8 127h0M238.9 147.1h0M238.9 137.6h0M239 126h0M239 137.7h0M239.1 148.1h0M239.1 141.7h0M239.2 120.6h0M239.2 133.8h0M239.3 144.1h0M239.3 134.6h0M239.4 121.8h0M239.4 122.5h0M239.4 137.4h0M239.5 125.1h0M239.5 149.4h0M239.6 107.4h0M239.6 111h0M239.7 133.6h0M239.7 121.6h0M239.8 147.9h0M239.8 129.5h0M239.9 127.5h0M239.9 146.1h0M240 132.1h0M240 140.2h0M240.1 122.7h0M240.1 128.8h0M240.2 129.2h0M240.2 124.8h0M240.3 123.2h0M240.3 131.7h0M240.4 141.6h0M240.4 106.2h0M240.5 122h0M240.5 127.1h0M240.6 128.2h0M240.6 129.9h0M240.7 152.6h0M240.7 132.7h0M240.8 127.9h0M240.8 127.2h0M240.9 121.4h0M240.9 123.1h0M240.9 116.5h0M241 145h0M241 157.6h0M241.1 119.9h0M241.1 118.3h0M241.2 117.2h0M241.2 128.2h0M241.3 114.8h0M241.3 119.1h0M241.4 116h0M241.5 116.7h0M241.6 124h0M241.6 122.2h0M241.7 117.6h0M241.7 149.9h0M241.8 125.5h0M241.8 138.9h0M241.9 132.1h0M241.9 121.2h0M242 137.1h0M242 147.5h0M242.1 152.5h0M242.2 118.1h0M242.3 128.9h0M242.3 140.3h0M242.4 147.5h0M242.4 136.1h0M242.5 133h0M242.5 121.1h0M242.6 135.5h0M242.6 139.4h0M242.7 128.3h0M242.7 144.9h0M242.8 121.8h0M242.8 129.9h0M242.9 145.2h0M242.9 123.9h0M243 122.2h0M243.1 121.5h0M243.1 141.2h0M243.2 130h0M243.2 150.8h0M243.3 135h0M243.4 146.3h0M243.4 129.9h0M243.5 110.5h0M243.6 151.1h0M243.6 95.8h0M243.7 149h0M243.7 116.2h0M243.8 129.1h0M243.9 136.8h0M243.9 103.9h0M244 118.9h0M244 132.3h0M244 125.2h0M244.1 132.4h0M244.1 115.7h0M244.2 127.1h0M244.2 124.2h0M244.3 139.1h0M244.3 129h0M244.4 136.8h0M244.4 125.4h0M244.5 122.9h0M244.5 115.7h0M244.6 122.4h0M244.6 122.1h0M244.7 128.9h0M244.7 123.6h0M244.8 134.9h0M244.8 139.6h0M244.9 125.2h0M244.9 146.8h0M245 142.4h0M245 131.4h0M245.1 147.3h0M245.1 145.9h0M245.2 137.7h0M245.2 104.3h0M245.3 127.6h0M245.3 120.8h0M245.4 112.8h0M245.4 133h0M245.5 131.5h0M245.5 123.9h0"/><use href="#real" stroke="#000"/><path stroke="#f21414" d="M48.4 107.2h0M48.7 148.5h0M49.4 120.3h0M54.4 144.5h0M55.5 140.9h0M58.1 136.6h0M62 150.3h0M62.7 135.9h0M64.7 141.8h0M64.8 126.4h0M65.8 143h0M69 144.4h0M70.4 142.7h0M73.4 144.6h0M75.2 145.4h0M75.4 151.7h0M76.3 140.1h0M77.5 138.5h0M77.8 133.5h0M79.9 131.1h0M82.1 126.4h0M82.7 154.7h0M83.3 159h0M83.6 147.7h0M85 121h0M85.8 99.6h0M89.7 130.8h0M90.5 141.9h0M92.4 120.5h0M93.5 155.7h0M93.7 129.8h0M94.1 139.6h0M95.1 137.4h0M95.3 129.5h0M96.9 121.8h0M97 159.5h0M98.6 145.6h0M100.3 130.4h0M101.4 155.4h0M101.9 138.2h0M102.1 150.4h0M105 144.7h0M110.5 146.5h0M111.7 117.1h0M114.4 144.5h0M114.9 139.2h0M115.6 130.7h0M117.2 116.9h0M117.4 118.2h0M117.6 134.2h0M119.1 132.5h0M119.5 123.4h0M120 139.1h0M121.4 115.1h0M122.4 128.9h0M122.5 128.9h0M125 130.2h0M125.3 129.7h0M128.7 107.2h0M130.3 143.2h0M131.9 144.5h0M132 114.1h0M132.9 128.3h0M134.1 140.4h0M134.6 136h0M135.8 115.7h0M136.6 130h0M136.9 131.7h0M137.9 132.8h0M139.4 134.6h0M140.6 123.8h0M142 143.1h0M142.5 152.6h0M144.9 106.2h0M145.9 139.6h0M148.6 126.1h0M149.7 151.2h0M150.3 136.9h0M151 131.7h0M151.2 122h0M151.6 135.9h0M152 132.1h0M153.7 157.3h0M154 132.1h0M154.7 140.6h0M154.8 143h0M155.5 127.1h0M156.7 116.1h0M158.2 142.5h0M160.3 146h0M160.8 130.4h0M161 133.7h0M162 134.7h0M162.4 139.7h0M164.5 150h0M165.7 132h0M166.3 137.3h0M166.6 132.8h0M167.7 135.8h0M167.8 145h0M168.4 131h0M169 145.8h0M169.4 137h0M170 132.2h0M170.2 134.8h0M174 145.7h0M174.2 138.9h0M174.9 155.4h0M177.3 157.9h0M177.6 136.5h0M180 126.8h0M180.4 133.8h0M183.5 137.5h0M183.9 126.6h0M184.3 122.6h0M185.1 138.2h0M185.6 147.4h0M186.8 145.9h0M188 148.3h0M189.7 122.5h0M191.1 134.9h0M192.4 144.7h0M193 133.9h0M194.8 122.6h0M196.7 112.7h0M197.7 128.3h0M197.8 119.7h0M198 128.1h0M198.6 151.9h0M199 126.5h0M202.2 117.5h0M202.8 104.1h0M203 103.4h0M203.4 126.2h0M203.7 99.7h0M204.9 129h0M206.1 140.5h0M208.7 118.3h0M209.3 134h0M210.5 128.2h0M211 105.9h0M211.5 127.1h0M211.6 111h0M211.7 126.7h0M213.6 121.5h0M214.1 122.8h0M214.9 96.1h0M216.8 127.9h0M219.2 120.8h0M219.6 119h0M220.9 119.6h0M221.6 110.8h0M222.3 128h0M222.7 118.1h0M223.1 121.3h0M224.3 126.9h0M224.6 108.4h0M224.7 98.1h0M225.6 121.7h0M226 134.5h0M226.5 127.8h0M227.6 109.5h0M230.7 132.9h0M231.4 142.1h0M231.8 124.7h0M232.9 138.2h0M233.2 129.5h0M233.4 124.4h0M233.4 147.1h0M235.4 140.7h0M235.9 134.8h0M236 125.8h0M236.9 148.1h0M241.4 141h0M241.5 154.2h0M242.1 135.5h0M242.2 116h0M242.4 126.8h0M243 128.4h0M243.3 125.8h0M243.5 126.7h0M243.8 112.3h0"/></g><g clip-path="none"><path d="M250.50 80.00 C250.55 82.15 250.55 89.57 250.80 92.90 C251.05 96.23 251.23 97.62 252.00 100.00 C252.77 102.38 254.52 105.53 255.40 107.20 C256.28 108.87 256.35 109.08 257.30 110.00 C258.25 110.92 259.75 111.62 261.10 112.70 C262.45 113.78 263.97 115.33 265.40 116.50 C266.83 117.67 268.27 118.78 269.70 119.70 C271.13 120.62 272.83 121.17 274.00 122.00 C275.17 122.83 275.27 123.77 276.70 124.70 C278.13 125.63 281.13 125.98 282.60 127.60 C284.07 129.22 285.35 132.45 285.50 134.40 C285.65 136.35 284.63 138.00 283.50 139.30 C282.37 140.60 280.48 140.92 278.70 142.20 C276.92 143.48 276.03 145.07 272.80 147.00 C269.57 148.93 262.68 151.85 259.30 153.80 C255.92 155.75 253.87 156.75 252.50 158.70 C251.13 160.65 251.43 163.62 251.10 165.50 C250.77 167.38 250.60 169.25 250.50 170.00 Z" fill="rgba(255,0,0,0.16)" stroke="none"/><path d="M250.50 80.00 C250.55 82.15 250.55 89.57 250.80 92.90 C251.05 96.23 251.23 97.62 252.00 100.00 C252.77 102.38 254.52 105.53 255.40 107.20 C256.28 108.87 256.35 109.08 257.30 110.00 C258.25 110.92 259.75 111.62 261.10 112.70 C262.45 113.78 263.97 115.33 265.40 116.50 C266.83 117.67 268.27 118.78 269.70 119.70 C271.13 120.62 272.83 121.17 274.00 122.00 C275.17 122.83 275.27 123.77 276.70 124.70 C278.13 125.63 281.13 125.98 282.60 127.60 C284.07 129.22 285.35 132.45 285.50 134.40 C285.65 136.35 284.63 138.00 283.50 139.30 C282.37 140.60 280.48 140.92 278.70 142.20 C276.92 143.48 276.03 145.07 272.80 147.00 C269.57 148.93 262.68 151.85 259.30 153.80 C255.92 155.75 253.87 156.75 252.50 158.70 C251.13 160.65 251.43 163.62 251.10 165.50 C250.77 167.38 250.60 169.25 250.50 170.00" fill="none" stroke="#dc2828" stroke-width="1.1"/><path d="M250.50 80.00 C250.55 82.15 250.55 89.57 250.80 92.90 C251.05 96.23 251.23 97.62 252.00 100.00 C252.77 102.38 254.52 105.53 255.40 107.20 C256.28 108.87 256.35 109.08 257.30 110.00 C258.25 110.92 259.75 111.62 261.10 112.70 C262.45 113.78 263.97 115.33 265.40 116.50 C266.83 117.67 268.27 118.80 269.70 119.70 C271.13 120.60 272.83 121.00 274.00 121.90 C275.17 122.80 275.98 123.85 276.70 125.10 C277.42 126.35 277.70 127.68 278.30 129.40 C278.90 131.12 280.20 133.87 280.30 135.40 C280.40 136.93 279.58 137.62 278.90 138.60 C278.22 139.58 277.02 140.13 276.20 141.30 C275.38 142.47 275.08 144.43 274.00 145.60 C272.92 146.77 271.32 147.40 269.70 148.30 C268.08 149.20 266.10 150.00 264.30 151.00 C262.50 152.00 260.70 153.22 258.90 154.30 C257.10 155.38 254.87 156.48 253.50 157.50 C252.13 158.52 251.17 159.92 250.70 160.40 Z" fill="rgba(190,190,190,0.6)" stroke="none"/><path d="M250.50 80.00 C250.55 82.15 250.55 89.57 250.80 92.90 C251.05 96.23 251.23 97.62 252.00 100.00 C252.77 102.38 254.52 105.53 255.40 107.20 C256.28 108.87 256.35 109.08 257.30 110.00 C258.25 110.92 259.75 111.62 261.10 112.70 C262.45 113.78 263.97 115.33 265.40 116.50 C266.83 117.67 268.27 118.80 269.70 119.70 C271.13 120.60 272.83 121.00 274.00 121.90 C275.17 122.80 275.98 123.85 276.70 125.10 C277.42 126.35 277.70 127.68 278.30 129.40 C278.90 131.12 280.20 133.87 280.30 135.40 C280.40 136.93 279.58 137.62 278.90 138.60 C278.22 139.58 277.02 140.13 276.20 141.30 C275.38 142.47 275.08 144.43 274.00 145.60 C272.92 146.77 271.32 147.40 269.70 148.30 C268.08 149.20 266.10 150.00 264.30 151.00 C262.50 152.00 260.70 153.22 258.90 154.30 C257.10 155.38 254.87 156.48 253.50 157.50 C252.13 158.52 251.17 159.92 250.70 160.40" fill="none" stroke="#222" stroke-width="1.15"/></g><path d="M42.50 36.00 H302.00 V195.20" fill="none" stroke="#5a5a5a" stroke-width="1.2"/><path d="M41.90 195.20 H302.60" fill="none" stroke="#333" stroke-width="1.15"/><path d="M250.50 36.00 V195.80 M42.50 35.40 V195.80" fill="none" stroke="#1e1e1e" stroke-width="1.2"/><path d="M39.60 175.36H42.50M39.60 135.58H42.50M39.60 95.80H42.50M39.60 56.02H42.50M47.20 195.20V197.80M144.05 195.20V197.80M240.90 195.20V197.80" stroke="#333" stroke-width="1.1" fill="none"/><text x="38.3" y="179.36" font-size="11.3" font-weight="bold" text-anchor="end" fill="#111" stroke="#111" stroke-width="0.3" font-family="Liberation Sans, sans-serif">0</text><text x="38.3" y="139.58" font-size="11.3" font-weight="bold" text-anchor="end" fill="#111" stroke="#111" stroke-width="0.3" font-family="Liberation Sans, sans-serif">2</text><text x="38.3" y="99.80" font-size="11.3" font-weight="bold" text-anchor="end" fill="#111" stroke="#111" stroke-width="0.3" font-family="Liberation Sans, sans-serif">4</text><text x="38.3" y="60.02" font-size="11.3" font-weight="bold" text-anchor="end" fill="#111" stroke="#111" stroke-width="0.3" font-family="Liberation Sans, sans-serif">6</text><text x="47.20" y="208.6" font-size="11.3" font-weight="bold" text-anchor="middle" fill="#111" stroke="#111" stroke-width="0.3" font-family="Liberation Sans, sans-serif">0</text><text x="144.05" y="208.6" font-size="11.3" font-weight="bold" text-anchor="middle" fill="#111" stroke="#111" stroke-width="0.3" font-family="Liberation Sans, sans-serif">2000</text><text x="240.90" y="208.6" font-size="11.3" font-weight="bold" text-anchor="middle" fill="#111" stroke="#111" stroke-width="0.3" font-family="Liberation Sans, sans-serif">4000</text><text x="250.70" y="32.9" font-size="11.3" font-weight="bold" text-anchor="middle" fill="#111" stroke="#111" stroke-width="0.3" font-family="Liberation Sans, sans-serif">0</text><text x="277.00" y="32.9" font-size="11.3" font-weight="bold" text-anchor="middle" fill="#111" stroke="#111" stroke-width="0.3" font-family="Liberation Sans, sans-serif">800</text><text x="303.10" y="32.9" font-size="11.3" font-weight="bold" text-anchor="middle" fill="#111" stroke="#111" stroke-width="0.3" font-family="Liberation Sans, sans-serif">1600</text><text x="146" y="223.5" font-size="13.5" font-weight="bold" text-anchor="middle" fill="#111" stroke="#111" stroke-width="0.3" font-family="Liberation Sans, sans-serif">Input X (decimal)</text><text transform="translate(24.0,116.3) rotate(-90)" x="0" y="0" font-size="13" font-weight="bold" text-anchor="middle" fill="#111" stroke="#111" stroke-width="0.3" font-family="Liberation Sans, sans-serif">Output Y</text><text transform="translate(312.6,115.5) rotate(90)" x="0" y="0" font-size="13" font-weight="bold" text-anchor="middle" fill="#111" stroke="#111" stroke-width="0.3" font-family="Liberation Sans, sans-serif">Density</text><circle cx="61.3" cy="50.9" r="1.45" fill="#000"/><circle cx="61.2" cy="65.6" r="1.4" fill="#f21414"/><text x="73.4" y="54.6" font-size="12.5" font-weight="bold" fill="#111" stroke="#111" stroke-width="0.3" font-family="Liberation Sans, sans-serif">Real</text><text x="73.4" y="69.9" font-size="12.6" font-weight="bold" fill="#111" stroke="#111" stroke-width="0.3" font-family="Liberation Sans, sans-serif">Predicted</text></g>
</svg>
</body></html>
